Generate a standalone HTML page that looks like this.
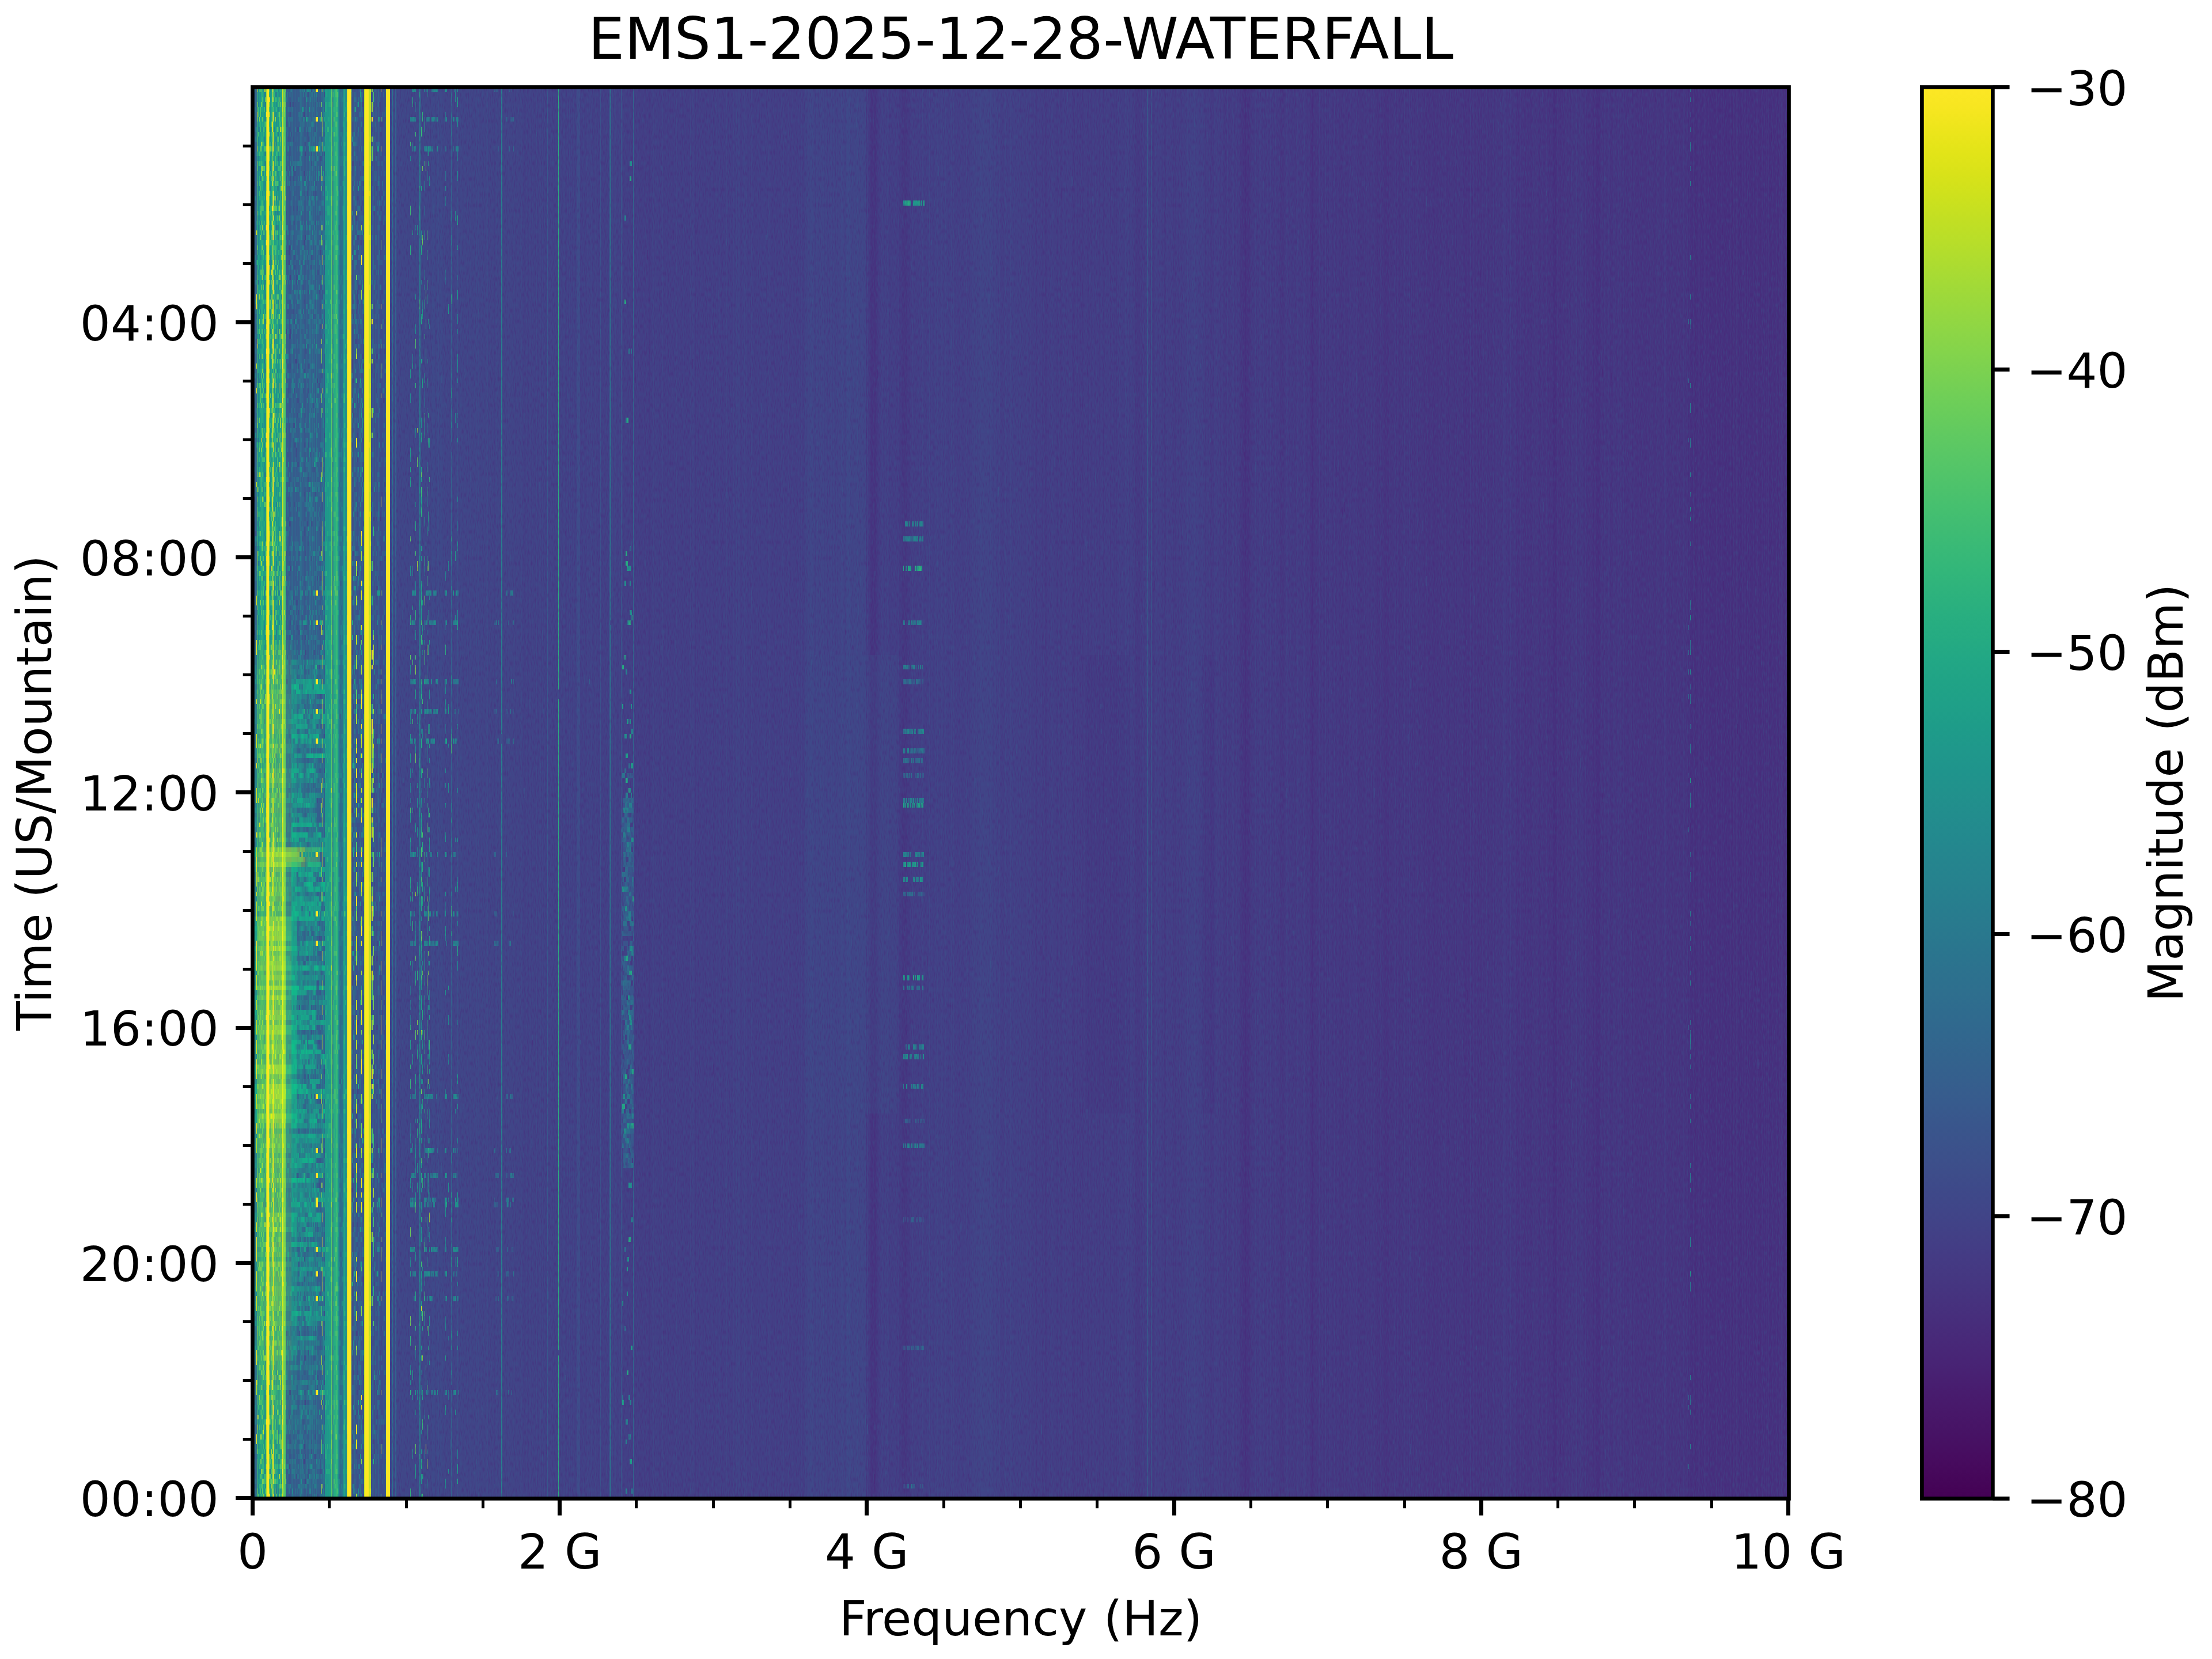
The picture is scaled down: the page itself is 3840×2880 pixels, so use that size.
<!DOCTYPE html>
<html lang="en"><head><meta charset="utf-8"><title>EMS1-2025-12-28-WATERFALL</title><style>html,body{margin:0;padding:0;background:#fff}svg{display:block}</style></head><body>
<svg width="3840" height="2880" viewBox="0 0 3840 2880">
<rect width="3840" height="2880" fill="#fff"/>
<g transform="translate(438 151.4) scale(1 8.56678)" shape-rendering="crispEdges" stroke="none">
<path fill="#472e7c" d="M2505 0h1v286h-1zM2569 0h1v286h-1zM2594 0h1v286h-1zM2618 0h1v286h-1zM2634 0h1v286h-1zM2658 0h1v286h-1z"/>
<path fill="#46307e" d="M1723 0h2v286h-2zM1840 0h1v286h-1zM2256 0h1v286h-1zM2258 0h6v286h-6zM2270 0h1v286h-1zM2328 0h1v286h-1zM2333 0h6v286h-6zM2396 0h1v286h-1zM2419 0h1v286h-1zM2485 0h1v286h-1zM2493 0h1v286h-1zM2496 0h1v286h-1zM2498 0h3v286h-3zM2502 0h2v286h-2zM2506 0h4v286h-4zM2511 0h1v286h-1zM2513 0h3v286h-3zM2517 0h3v286h-3zM2523 0h5v286h-5zM2529 0h12v286h-12zM2542 0h8v286h-8zM2551 0h3v286h-3zM2555 0h6v286h-6zM2562 0h3v286h-3zM2567 0h2v286h-2zM2572 0h1v286h-1zM2574 0h2v286h-2zM2577 0h1v286h-1zM2579 0h7v286h-7zM2588 0h2v286h-2zM2591 0h1v286h-1zM2593 0h1v286h-1zM2596 0h3v286h-3zM2600 0h5v286h-5zM2606 0h5v286h-5zM2614 0h4v286h-4zM2619 0h1v286h-1zM2622 0h3v286h-3zM2626 0h2v286h-2zM2630 0h1v286h-1zM2633 0h1v286h-1zM2635 0h4v286h-4zM2640 0h1v286h-1zM2642 0h1v286h-1zM2644 0h1v286h-1zM2647 0h3v286h-3zM2653 0h1v286h-1zM2655 0h1v286h-1zM2659 0h7v286h-7zM2667 0h1v286h-1z"/>
<path fill="#463480" d="M1074 0h4v286h-4zM1079 0h4v286h-4zM1719 0h4v286h-4zM1725 0h3v286h-3zM1729 0h2v286h-2zM1836 0h1v286h-1zM1838 0h2v286h-2zM1842 0h2v286h-2zM1912 0h1v286h-1zM1953 0h1v286h-1zM1956 0h1v286h-1zM1959 0h1v286h-1zM1961 0h1v286h-1zM1964 0h7v286h-7zM1972 0h1v286h-1zM1986 0h1v286h-1zM1991 0h1v286h-1zM2007 0h1v286h-1zM2011 0h1v286h-1zM2013 0h1v286h-1zM2017 0h1v286h-1zM2032 0h1v286h-1zM2034 0h2v286h-2zM2041 0h4v286h-4zM2047 0h1v286h-1zM2049 0h5v286h-5zM2056 0h3v286h-3zM2063 0h1v286h-1zM2073 0h2v286h-2zM2076 0h1v286h-1zM2079 0h1v286h-1zM2086 0h2v286h-2zM2089 0h2v286h-2zM2094 0h1v286h-1zM2102 0h1v286h-1zM2104 0h5v286h-5zM2110 0h2v286h-2zM2113 0h1v286h-1zM2116 0h1v286h-1zM2118 0h1v286h-1zM2121 0h1v286h-1zM2123 0h1v286h-1zM2127 0h3v286h-3zM2132 0h3v286h-3zM2137 0h2v286h-2zM2143 0h1v286h-1zM2145 0h2v286h-2zM2151 0h1v286h-1zM2156 0h2v286h-2zM2188 0h1v286h-1zM2194 0h6v286h-6zM2203 0h1v286h-1zM2207 0h4v286h-4zM2213 0h1v286h-1zM2215 0h2v286h-2zM2218 0h4v286h-4zM2230 0h1v286h-1zM2232 0h1v286h-1zM2234 0h1v286h-1zM2236 0h1v286h-1zM2241 0h1v286h-1zM2243 0h1v286h-1zM2245 0h1v286h-1zM2248 0h8v286h-8zM2264 0h1v286h-1zM2267 0h3v286h-3zM2271 0h2v286h-2zM2274 0h5v286h-5zM2282 0h2v286h-2zM2285 0h1v286h-1zM2287 0h2v286h-2zM2300 0h1v286h-1zM2308 0h1v286h-1zM2311 0h3v286h-3zM2315 0h5v286h-5zM2321 0h1v286h-1zM2323 0h2v286h-2zM2326 0h2v286h-2zM2329 0h4v286h-4zM2339 0h2v286h-2zM2343 0h1v286h-1zM2345 0h2v286h-2zM2350 0h1v286h-1zM2353 0h1v286h-1zM2355 0h1v286h-1zM2357 0h5v286h-5zM2368 0h2v286h-2zM2372 0h1v286h-1zM2377 0h3v286h-3zM2381 0h2v286h-2zM2384 0h6v286h-6zM2395 0h1v286h-1zM2398 0h1v286h-1zM2400 0h8v286h-8zM2409 0h10v286h-10zM2420 0h1v286h-1zM2422 0h4v286h-4zM2428 0h1v286h-1zM2432 0h1v286h-1zM2434 0h3v286h-3zM2438 0h1v286h-1zM2443 0h5v286h-5zM2449 0h2v286h-2zM2454 0h1v286h-1zM2456 0h6v286h-6zM2463 0h1v286h-1zM2465 0h1v286h-1zM2468 0h3v286h-3zM2472 0h2v286h-2zM2475 0h1v286h-1zM2477 0h1v286h-1zM2479 0h5v286h-5zM2487 0h4v286h-4zM2492 0h1v286h-1zM2494 0h2v286h-2zM2497 0h1v286h-1zM2504 0h1v286h-1zM2510 0h1v286h-1zM2512 0h1v286h-1zM2516 0h1v286h-1zM2520 0h1v286h-1zM2522 0h1v286h-1zM2550 0h1v286h-1zM2554 0h1v286h-1zM2561 0h1v286h-1zM2565 0h2v286h-2zM2570 0h2v286h-2zM2573 0h1v286h-1zM2578 0h1v286h-1zM2586 0h2v286h-2zM2590 0h1v286h-1zM2592 0h1v286h-1zM2595 0h1v286h-1zM2599 0h1v286h-1zM2611 0h3v286h-3zM2620 0h2v286h-2zM2625 0h1v286h-1zM2628 0h2v286h-2zM2631 0h1v286h-1zM2641 0h1v286h-1zM2643 0h1v286h-1zM2645 0h2v286h-2zM2650 0h3v286h-3zM2656 0h2v286h-2zM2666 0h1v286h-1z"/>
<path fill="#453781" d="M1072 0h2v286h-2zM1078 0h1v286h-1zM1083 0h2v286h-2zM1128 0h9v286h-9zM1715 0h4v286h-4zM1728 0h1v286h-1zM1731 0h2v286h-2zM1784 0h7v286h-7zM1792 0h1v286h-1zM1794 0h1v286h-1zM1806 0h1v286h-1zM1810 0h1v286h-1zM1822 0h1v286h-1zM1829 0h1v286h-1zM1831 0h1v286h-1zM1834 0h1v286h-1zM1837 0h1v286h-1zM1841 0h1v286h-1zM1845 0h6v286h-6zM1853 0h3v286h-3zM1859 0h1v286h-1zM1861 0h1v286h-1zM1864 0h2v286h-2zM1867 0h2v286h-2zM1874 0h2v286h-2zM1877 0h1v286h-1zM1879 0h4v286h-4zM1886 0h10v286h-10zM1897 0h1v286h-1zM1899 0h3v286h-3zM1903 0h1v286h-1zM1905 0h1v286h-1zM1908 0h1v286h-1zM1910 0h1v286h-1zM1914 0h1v286h-1zM1918 0h12v286h-12zM1931 0h3v286h-3zM1935 0h1v286h-1zM1939 0h1v286h-1zM1941 0h1v286h-1zM1944 0h2v286h-2zM1948 0h5v286h-5zM1954 0h2v286h-2zM1957 0h1v286h-1zM1960 0h1v286h-1zM1963 0h1v286h-1zM1971 0h1v286h-1zM1974 0h9v286h-9zM1985 0h1v286h-1zM1988 0h3v286h-3zM1992 0h8v286h-8zM2001 0h4v286h-4zM2010 0h1v286h-1zM2014 0h1v286h-1zM2016 0h1v286h-1zM2019 0h1v286h-1zM2021 0h1v286h-1zM2023 0h7v286h-7zM2031 0h1v286h-1zM2033 0h1v286h-1zM2036 0h1v286h-1zM2038 0h3v286h-3zM2045 0h1v286h-1zM2048 0h1v286h-1zM2054 0h2v286h-2zM2059 0h4v286h-4zM2064 0h7v286h-7zM2072 0h1v286h-1zM2075 0h1v286h-1zM2077 0h2v286h-2zM2081 0h1v286h-1zM2083 0h3v286h-3zM2091 0h1v286h-1zM2095 0h5v286h-5zM2101 0h1v286h-1zM2103 0h1v286h-1zM2109 0h1v286h-1zM2112 0h1v286h-1zM2115 0h1v286h-1zM2125 0h2v286h-2zM2130 0h2v286h-2zM2139 0h3v286h-3zM2144 0h1v286h-1zM2147 0h4v286h-4zM2152 0h2v286h-2zM2155 0h1v286h-1zM2160 0h2v286h-2zM2163 0h1v286h-1zM2165 0h4v286h-4zM2170 0h1v286h-1zM2176 0h2v286h-2zM2179 0h4v286h-4zM2185 0h3v286h-3zM2189 0h2v286h-2zM2192 0h1v286h-1zM2200 0h1v286h-1zM2202 0h1v286h-1zM2204 0h3v286h-3zM2211 0h2v286h-2zM2214 0h1v286h-1zM2217 0h1v286h-1zM2222 0h6v286h-6zM2229 0h1v286h-1zM2235 0h1v286h-1zM2237 0h3v286h-3zM2242 0h1v286h-1zM2244 0h1v286h-1zM2257 0h1v286h-1zM2265 0h2v286h-2zM2279 0h3v286h-3zM2284 0h1v286h-1zM2286 0h1v286h-1zM2290 0h2v286h-2zM2293 0h3v286h-3zM2297 0h1v286h-1zM2299 0h1v286h-1zM2301 0h4v286h-4zM2306 0h2v286h-2zM2310 0h1v286h-1zM2320 0h1v286h-1zM2322 0h1v286h-1zM2325 0h1v286h-1zM2342 0h1v286h-1zM2344 0h1v286h-1zM2348 0h2v286h-2zM2351 0h2v286h-2zM2363 0h5v286h-5zM2373 0h1v286h-1zM2375 0h2v286h-2zM2383 0h1v286h-1zM2390 0h3v286h-3zM2394 0h1v286h-1zM2397 0h1v286h-1zM2399 0h1v286h-1zM2408 0h1v286h-1zM2426 0h2v286h-2zM2429 0h3v286h-3zM2433 0h1v286h-1zM2437 0h1v286h-1zM2439 0h4v286h-4zM2448 0h1v286h-1zM2452 0h1v286h-1zM2455 0h1v286h-1zM2462 0h1v286h-1zM2464 0h1v286h-1zM2466 0h2v286h-2zM2471 0h1v286h-1zM2474 0h1v286h-1zM2486 0h1v286h-1zM2491 0h1v286h-1zM2501 0h1v286h-1zM2521 0h1v286h-1zM2528 0h1v286h-1zM2541 0h1v286h-1zM2576 0h1v286h-1zM2605 0h1v286h-1zM2632 0h1v286h-1zM2639 0h1v286h-1zM2654 0h1v286h-1z"/>
<path fill="#443a83" d="M689 0h1v286h-1zM769 0h1v286h-1zM952 0h1v286h-1zM1066 0h1v286h-1zM1069 0h1v286h-1zM1071 0h1v286h-1zM1085 0h1v286h-1zM1087 0h1v286h-1zM1089 0h1v286h-1zM1098 0h1v286h-1zM1105 0h1v286h-1zM1123 0h5v286h-5zM1137 0h5v286h-5zM1143 0h1v286h-1zM1361 0h1v286h-1zM1371 0h1v286h-1zM1376 0h3v286h-3zM1395 0h1v286h-1zM1397 0h1v286h-1zM1403 0h2v286h-2zM1423 0h1v286h-1zM1425 0h1v286h-1zM1427 0h1v286h-1zM1432 0h1v286h-1zM1436 0h2v286h-2zM1440 0h2v286h-2zM1443 0h1v286h-1zM1447 0h1v286h-1zM1450 0h2v286h-2zM1456 0h1v286h-1zM1459 0h1v286h-1zM1461 0h1v286h-1zM1466 0h1v286h-1zM1470 0h1v286h-1zM1477 0h2v286h-2zM1489 0h1v286h-1zM1495 0h2v286h-2zM1499 0h2v286h-2zM1506 0h1v286h-1zM1511 0h1v286h-1zM1523 0h1v286h-1zM1532 0h9v286h-9zM1542 0h3v286h-3zM1548 0h1v286h-1zM1551 0h1v286h-1zM1559 0h1v286h-1zM1564 0h2v286h-2zM1579 0h1v286h-1zM1583 0h3v286h-3zM1596 0h1v286h-1zM1599 0h1v286h-1zM1601 0h3v286h-3zM1607 0h1v286h-1zM1613 0h1v286h-1zM1654 0h2v286h-2zM1657 0h1v286h-1zM1659 0h1v286h-1zM1663 0h4v286h-4zM1668 0h2v286h-2zM1676 0h1v286h-1zM1680 0h1v286h-1zM1685 0h7v286h-7zM1693 0h4v286h-4zM1698 0h2v286h-2zM1704 0h3v286h-3zM1709 0h2v286h-2zM1712 0h2v286h-2zM1733 0h7v286h-7zM1742 0h2v286h-2zM1745 0h3v286h-3zM1751 0h1v286h-1zM1753 0h1v286h-1zM1756 0h5v286h-5zM1763 0h4v286h-4zM1768 0h5v286h-5zM1774 0h1v286h-1zM1777 0h7v286h-7zM1791 0h1v286h-1zM1793 0h1v286h-1zM1796 0h1v286h-1zM1798 0h3v286h-3zM1802 0h4v286h-4zM1807 0h3v286h-3zM1811 0h2v286h-2zM1816 0h6v286h-6zM1823 0h1v286h-1zM1825 0h1v286h-1zM1827 0h2v286h-2zM1830 0h1v286h-1zM1832 0h2v286h-2zM1835 0h1v286h-1zM1844 0h1v286h-1zM1851 0h1v286h-1zM1856 0h2v286h-2zM1860 0h1v286h-1zM1866 0h1v286h-1zM1870 0h4v286h-4zM1876 0h1v286h-1zM1883 0h3v286h-3zM1898 0h1v286h-1zM1902 0h1v286h-1zM1904 0h1v286h-1zM1906 0h2v286h-2zM1909 0h1v286h-1zM1911 0h1v286h-1zM1913 0h1v286h-1zM1915 0h2v286h-2zM1930 0h1v286h-1zM1934 0h1v286h-1zM1936 0h3v286h-3zM1940 0h1v286h-1zM1942 0h2v286h-2zM1946 0h1v286h-1zM1958 0h1v286h-1zM1962 0h1v286h-1zM1973 0h1v286h-1zM1984 0h1v286h-1zM2005 0h2v286h-2zM2008 0h1v286h-1zM2012 0h1v286h-1zM2015 0h1v286h-1zM2020 0h1v286h-1zM2022 0h1v286h-1zM2030 0h1v286h-1zM2037 0h1v286h-1zM2046 0h1v286h-1zM2071 0h1v286h-1zM2080 0h1v286h-1zM2082 0h1v286h-1zM2088 0h1v286h-1zM2092 0h2v286h-2zM2100 0h1v286h-1zM2117 0h1v286h-1zM2119 0h2v286h-2zM2135 0h2v286h-2zM2142 0h1v286h-1zM2154 0h1v286h-1zM2158 0h2v286h-2zM2162 0h1v286h-1zM2164 0h1v286h-1zM2169 0h1v286h-1zM2171 0h1v286h-1zM2173 0h1v286h-1zM2175 0h1v286h-1zM2178 0h1v286h-1zM2183 0h1v286h-1zM2191 0h1v286h-1zM2193 0h1v286h-1zM2201 0h1v286h-1zM2228 0h1v286h-1zM2231 0h1v286h-1zM2233 0h1v286h-1zM2240 0h1v286h-1zM2246 0h2v286h-2zM2273 0h1v286h-1zM2289 0h1v286h-1zM2292 0h1v286h-1zM2296 0h1v286h-1zM2305 0h1v286h-1zM2309 0h1v286h-1zM2314 0h1v286h-1zM2341 0h1v286h-1zM2347 0h1v286h-1zM2354 0h1v286h-1zM2356 0h1v286h-1zM2362 0h1v286h-1zM2370 0h2v286h-2zM2380 0h1v286h-1zM2393 0h1v286h-1zM2421 0h1v286h-1zM2451 0h1v286h-1zM2453 0h1v286h-1zM2476 0h1v286h-1zM2478 0h1v286h-1zM2484 0h1v286h-1z"/>
<path fill="#433e85" d="M594 0h1v286h-1zM605 0h1v286h-1zM608 0h1v286h-1zM612 0h1v286h-1zM614 0h1v286h-1zM634 0h1v286h-1zM644 0h1v286h-1zM646 0h2v286h-2zM650 0h3v286h-3zM656 0h1v286h-1zM658 0h3v286h-3zM662 0h6v286h-6zM670 0h9v286h-9zM680 0h3v286h-3zM684 0h2v286h-2zM687 0h2v286h-2zM690 0h2v286h-2zM693 0h1v286h-1zM697 0h2v286h-2zM700 0h1v286h-1zM702 0h1v286h-1zM704 0h1v286h-1zM706 0h4v286h-4zM713 0h3v286h-3zM717 0h1v286h-1zM720 0h3v286h-3zM725 0h3v286h-3zM729 0h3v286h-3zM734 0h2v286h-2zM737 0h3v286h-3zM743 0h5v286h-5zM749 0h3v286h-3zM753 0h3v286h-3zM757 0h3v286h-3zM762 0h2v286h-2zM768 0h1v286h-1zM771 0h4v286h-4zM776 0h1v286h-1zM778 0h1v286h-1zM780 0h5v286h-5zM786 0h1v286h-1zM788 0h2v286h-2zM791 0h1v286h-1zM793 0h3v286h-3zM798 0h1v286h-1zM800 0h1v286h-1zM802 0h3v286h-3zM807 0h2v286h-2zM812 0h1v286h-1zM814 0h5v286h-5zM820 0h2v286h-2zM825 0h2v286h-2zM828 0h2v286h-2zM831 0h3v286h-3zM836 0h1v286h-1zM839 0h1v286h-1zM847 0h4v286h-4zM856 0h1v286h-1zM859 0h1v286h-1zM861 0h1v286h-1zM863 0h3v286h-3zM867 0h1v286h-1zM869 0h1v286h-1zM871 0h5v286h-5zM879 0h2v286h-2zM884 0h1v286h-1zM886 0h1v286h-1zM892 0h1v286h-1zM894 0h1v286h-1zM898 0h1v286h-1zM900 0h5v286h-5zM906 0h2v286h-2zM909 0h4v286h-4zM914 0h3v286h-3zM923 0h3v286h-3zM927 0h2v286h-2zM931 0h2v286h-2zM934 0h1v286h-1zM936 0h1v286h-1zM939 0h1v286h-1zM941 0h2v286h-2zM944 0h1v286h-1zM946 0h2v286h-2zM951 0h1v286h-1zM954 0h4v286h-4zM959 0h1v286h-1zM1065 0h1v286h-1zM1068 0h1v286h-1zM1086 0h1v286h-1zM1088 0h1v286h-1zM1090 0h1v286h-1zM1093 0h1v286h-1zM1096 0h2v286h-2zM1100 0h1v286h-1zM1103 0h1v286h-1zM1106 0h6v286h-6zM1113 0h1v286h-1zM1115 0h6v286h-6zM1122 0h1v286h-1zM1142 0h1v286h-1zM1144 0h2v286h-2zM1147 0h8v286h-8zM1156 0h2v286h-2zM1160 0h3v286h-3zM1164 0h1v286h-1zM1166 0h3v286h-3zM1170 0h2v286h-2zM1174 0h1v286h-1zM1176 0h2v286h-2zM1181 0h2v286h-2zM1199 0h1v286h-1zM1208 0h1v286h-1zM1215 0h1v286h-1zM1219 0h2v286h-2zM1224 0h4v286h-4zM1230 0h1v286h-1zM1232 0h4v286h-4zM1237 0h1v286h-1zM1240 0h3v286h-3zM1244 0h2v286h-2zM1299 0h6v286h-6zM1308 0h1v286h-1zM1310 0h1v286h-1zM1313 0h1v286h-1zM1317 0h1v286h-1zM1325 0h1v286h-1zM1335 0h1v286h-1zM1338 0h1v286h-1zM1342 0h1v286h-1zM1344 0h1v286h-1zM1346 0h1v286h-1zM1348 0h2v286h-2zM1351 0h2v286h-2zM1354 0h3v286h-3zM1359 0h2v286h-2zM1362 0h2v286h-2zM1365 0h4v286h-4zM1370 0h1v286h-1zM1372 0h2v286h-2zM1375 0h1v286h-1zM1379 0h8v286h-8zM1389 0h2v286h-2zM1392 0h1v286h-1zM1394 0h1v286h-1zM1396 0h1v286h-1zM1399 0h1v286h-1zM1401 0h2v286h-2zM1406 0h1v286h-1zM1409 0h5v286h-5zM1415 0h4v286h-4zM1420 0h2v286h-2zM1424 0h1v286h-1zM1428 0h4v286h-4zM1433 0h3v286h-3zM1439 0h1v286h-1zM1442 0h1v286h-1zM1444 0h3v286h-3zM1449 0h1v286h-1zM1452 0h4v286h-4zM1457 0h2v286h-2zM1462 0h4v286h-4zM1467 0h3v286h-3zM1471 0h2v286h-2zM1475 0h2v286h-2zM1479 0h1v286h-1zM1481 0h7v286h-7zM1490 0h4v286h-4zM1497 0h2v286h-2zM1501 0h4v286h-4zM1509 0h2v286h-2zM1512 0h3v286h-3zM1520 0h1v286h-1zM1522 0h1v286h-1zM1527 0h5v286h-5zM1541 0h1v286h-1zM1545 0h3v286h-3zM1550 0h1v286h-1zM1552 0h2v286h-2zM1556 0h3v286h-3zM1560 0h1v286h-1zM1562 0h2v286h-2zM1566 0h2v286h-2zM1570 0h3v286h-3zM1574 0h2v286h-2zM1577 0h2v286h-2zM1580 0h2v286h-2zM1586 0h1v286h-1zM1589 0h6v286h-6zM1597 0h2v286h-2zM1600 0h1v286h-1zM1604 0h3v286h-3zM1609 0h4v286h-4zM1614 0h6v286h-6zM1621 0h1v286h-1zM1624 0h1v286h-1zM1644 0h1v286h-1zM1646 0h1v286h-1zM1650 0h4v286h-4zM1656 0h1v286h-1zM1658 0h1v286h-1zM1660 0h2v286h-2zM1667 0h1v286h-1zM1671 0h3v286h-3zM1675 0h1v286h-1zM1677 0h3v286h-3zM1681 0h4v286h-4zM1697 0h1v286h-1zM1700 0h3v286h-3zM1707 0h2v286h-2zM1711 0h1v286h-1zM1714 0h1v286h-1zM1740 0h1v286h-1zM1744 0h1v286h-1zM1748 0h3v286h-3zM1752 0h1v286h-1zM1754 0h2v286h-2zM1762 0h1v286h-1zM1773 0h1v286h-1zM1775 0h2v286h-2zM1795 0h1v286h-1zM1797 0h1v286h-1zM1801 0h1v286h-1zM1813 0h3v286h-3zM1824 0h1v286h-1zM1826 0h1v286h-1zM1852 0h1v286h-1zM1858 0h1v286h-1zM1862 0h2v286h-2zM1869 0h1v286h-1zM1878 0h1v286h-1zM1896 0h1v286h-1zM1917 0h1v286h-1zM1947 0h1v286h-1zM1983 0h1v286h-1zM1987 0h1v286h-1zM2000 0h1v286h-1zM2009 0h1v286h-1zM2018 0h1v286h-1zM2114 0h1v286h-1zM2122 0h1v286h-1zM2124 0h1v286h-1zM2172 0h1v286h-1zM2174 0h1v286h-1zM2184 0h1v286h-1zM2298 0h1v286h-1zM2374 0h1v286h-1z"/>
<path fill="#424086" d="M410 0h1v286h-1zM420 0h1v286h-1zM456 0h1v286h-1zM464 0h1v286h-1zM468 0h1v286h-1zM470 0h1v286h-1zM472 0h1v286h-1zM474 0h1v286h-1zM477 0h1v286h-1zM479 0h1v286h-1zM484 0h2v286h-2zM488 0h1v286h-1zM490 0h2v286h-2zM494 0h3v286h-3zM501 0h2v286h-2zM505 0h2v286h-2zM508 0h4v286h-4zM513 0h1v286h-1zM515 0h1v286h-1zM518 0h1v286h-1zM521 0h1v286h-1zM523 0h3v286h-3zM527 0h1v286h-1zM530 0h1v286h-1zM532 0h1v286h-1zM534 0h1v286h-1zM537 0h2v286h-2zM543 0h3v286h-3zM548 0h2v286h-2zM551 0h3v286h-3zM555 0h2v286h-2zM559 0h3v286h-3zM569 0h5v286h-5zM575 0h6v286h-6zM583 0h1v286h-1zM585 0h2v286h-2zM589 0h4v286h-4zM597 0h1v286h-1zM599 0h5v286h-5zM606 0h2v286h-2zM609 0h3v286h-3zM613 0h1v286h-1zM616 0h1v286h-1zM618 0h1v286h-1zM620 0h1v286h-1zM622 0h2v286h-2zM625 0h3v286h-3zM629 0h1v286h-1zM632 0h2v286h-2zM635 0h2v286h-2zM638 0h2v286h-2zM641 0h1v286h-1zM643 0h1v286h-1zM645 0h1v286h-1zM649 0h1v286h-1zM653 0h3v286h-3zM657 0h1v286h-1zM668 0h2v286h-2zM679 0h1v286h-1zM683 0h1v286h-1zM686 0h1v286h-1zM692 0h1v286h-1zM694 0h2v286h-2zM701 0h1v286h-1zM703 0h1v286h-1zM705 0h1v286h-1zM710 0h1v286h-1zM716 0h1v286h-1zM718 0h2v286h-2zM723 0h2v286h-2zM732 0h2v286h-2zM740 0h3v286h-3zM748 0h1v286h-1zM752 0h1v286h-1zM756 0h1v286h-1zM761 0h1v286h-1zM766 0h2v286h-2zM777 0h1v286h-1zM779 0h1v286h-1zM785 0h1v286h-1zM787 0h1v286h-1zM790 0h1v286h-1zM796 0h2v286h-2zM801 0h1v286h-1zM805 0h1v286h-1zM809 0h1v286h-1zM811 0h1v286h-1zM813 0h1v286h-1zM819 0h1v286h-1zM824 0h1v286h-1zM827 0h1v286h-1zM830 0h1v286h-1zM834 0h1v286h-1zM837 0h2v286h-2zM841 0h3v286h-3zM846 0h1v286h-1zM852 0h2v286h-2zM857 0h1v286h-1zM860 0h1v286h-1zM868 0h1v286h-1zM870 0h1v286h-1zM876 0h3v286h-3zM881 0h3v286h-3zM885 0h1v286h-1zM887 0h5v286h-5zM893 0h1v286h-1zM895 0h1v286h-1zM899 0h1v286h-1zM905 0h1v286h-1zM908 0h1v286h-1zM913 0h1v286h-1zM917 0h2v286h-2zM920 0h2v286h-2zM926 0h1v286h-1zM929 0h1v286h-1zM933 0h1v286h-1zM935 0h1v286h-1zM937 0h1v286h-1zM940 0h1v286h-1zM943 0h1v286h-1zM945 0h1v286h-1zM948 0h3v286h-3zM958 0h1v286h-1zM961 0h1v286h-1zM975 0h1v286h-1zM977 0h2v286h-2zM983 0h1v286h-1zM985 0h1v286h-1zM993 0h1v286h-1zM998 0h2v286h-2zM1001 0h1v286h-1zM1007 0h1v286h-1zM1011 0h2v286h-2zM1015 0h1v286h-1zM1018 0h1v286h-1zM1028 0h2v286h-2zM1070 0h1v286h-1zM1092 0h1v286h-1zM1095 0h1v286h-1zM1101 0h1v286h-1zM1104 0h1v286h-1zM1112 0h1v286h-1zM1114 0h1v286h-1zM1121 0h1v286h-1zM1155 0h1v286h-1zM1158 0h2v286h-2zM1165 0h1v286h-1zM1169 0h1v286h-1zM1172 0h2v286h-2zM1179 0h2v286h-2zM1183 0h2v286h-2zM1186 0h3v286h-3zM1190 0h6v286h-6zM1198 0h1v286h-1zM1200 0h2v286h-2zM1204 0h4v286h-4zM1209 0h4v286h-4zM1218 0h1v286h-1zM1221 0h3v286h-3zM1228 0h2v286h-2zM1231 0h1v286h-1zM1236 0h1v286h-1zM1238 0h1v286h-1zM1243 0h1v286h-1zM1246 0h1v286h-1zM1248 0h2v286h-2zM1252 0h1v286h-1zM1255 0h1v286h-1zM1258 0h1v286h-1zM1261 0h1v286h-1zM1280 0h1v286h-1zM1285 0h3v286h-3zM1289 0h1v286h-1zM1291 0h3v286h-3zM1295 0h1v286h-1zM1298 0h1v286h-1zM1305 0h2v286h-2zM1309 0h1v286h-1zM1311 0h2v286h-2zM1314 0h1v286h-1zM1319 0h3v286h-3zM1323 0h2v286h-2zM1326 0h1v286h-1zM1328 0h4v286h-4zM1333 0h2v286h-2zM1336 0h2v286h-2zM1340 0h2v286h-2zM1345 0h1v286h-1zM1347 0h1v286h-1zM1353 0h1v286h-1zM1357 0h2v286h-2zM1364 0h1v286h-1zM1369 0h1v286h-1zM1374 0h1v286h-1zM1387 0h1v286h-1zM1391 0h1v286h-1zM1393 0h1v286h-1zM1398 0h1v286h-1zM1405 0h1v286h-1zM1407 0h2v286h-2zM1414 0h1v286h-1zM1422 0h1v286h-1zM1426 0h1v286h-1zM1438 0h1v286h-1zM1448 0h1v286h-1zM1460 0h1v286h-1zM1473 0h2v286h-2zM1480 0h1v286h-1zM1488 0h1v286h-1zM1494 0h1v286h-1zM1505 0h1v286h-1zM1507 0h2v286h-2zM1516 0h4v286h-4zM1524 0h3v286h-3zM1549 0h1v286h-1zM1569 0h1v286h-1zM1573 0h1v286h-1zM1576 0h1v286h-1zM1582 0h1v286h-1zM1587 0h2v286h-2zM1595 0h1v286h-1zM1608 0h1v286h-1zM1620 0h1v286h-1zM1622 0h1v286h-1zM1625 0h6v286h-6zM1632 0h3v286h-3zM1637 0h7v286h-7zM1645 0h1v286h-1zM1647 0h3v286h-3zM1662 0h1v286h-1zM1670 0h1v286h-1zM1674 0h1v286h-1zM1703 0h1v286h-1zM1741 0h1v286h-1zM1761 0h1v286h-1zM1767 0h1v286h-1z"/>
<path fill="#414487" d="M292 0h1v286h-1zM306 0h1v286h-1zM309 0h1v286h-1zM317 0h2v286h-2zM334 0h2v286h-2zM338 0h2v286h-2zM341 0h2v286h-2zM347 0h1v286h-1zM349 0h3v286h-3zM353 0h1v286h-1zM359 0h1v286h-1zM364 0h1v286h-1zM366 0h2v286h-2zM369 0h1v286h-1zM371 0h2v286h-2zM374 0h2v286h-2zM377 0h1v286h-1zM380 0h1v286h-1zM382 0h2v286h-2zM386 0h3v286h-3zM391 0h1v286h-1zM393 0h4v286h-4zM398 0h4v286h-4zM403 0h3v286h-3zM409 0h1v286h-1zM411 0h9v286h-9zM422 0h1v286h-1zM424 0h4v286h-4zM429 0h3v286h-3zM434 0h10v286h-10zM445 0h2v286h-2zM448 0h6v286h-6zM455 0h1v286h-1zM457 0h7v286h-7zM465 0h2v286h-2zM469 0h1v286h-1zM471 0h1v286h-1zM473 0h1v286h-1zM475 0h2v286h-2zM478 0h1v286h-1zM480 0h4v286h-4zM486 0h2v286h-2zM489 0h1v286h-1zM492 0h1v286h-1zM497 0h3v286h-3zM504 0h1v286h-1zM514 0h1v286h-1zM516 0h2v286h-2zM519 0h2v286h-2zM522 0h1v286h-1zM526 0h1v286h-1zM528 0h2v286h-2zM533 0h1v286h-1zM535 0h2v286h-2zM539 0h3v286h-3zM546 0h2v286h-2zM557 0h2v286h-2zM562 0h2v286h-2zM574 0h1v286h-1zM581 0h2v286h-2zM587 0h1v286h-1zM593 0h1v286h-1zM595 0h2v286h-2zM598 0h1v286h-1zM615 0h1v286h-1zM628 0h1v286h-1zM630 0h2v286h-2zM637 0h1v286h-1zM642 0h1v286h-1zM648 0h1v286h-1zM696 0h1v286h-1zM699 0h1v286h-1zM711 0h2v286h-2zM728 0h1v286h-1zM736 0h1v286h-1zM760 0h1v286h-1zM764 0h2v286h-2zM770 0h1v286h-1zM775 0h1v286h-1zM792 0h1v286h-1zM799 0h1v286h-1zM806 0h1v286h-1zM810 0h1v286h-1zM822 0h2v286h-2zM835 0h1v286h-1zM840 0h1v286h-1zM845 0h1v286h-1zM851 0h1v286h-1zM854 0h2v286h-2zM858 0h1v286h-1zM862 0h1v286h-1zM866 0h1v286h-1zM896 0h2v286h-2zM919 0h1v286h-1zM922 0h1v286h-1zM930 0h1v286h-1zM938 0h1v286h-1zM953 0h1v286h-1zM960 0h1v286h-1zM962 0h3v286h-3zM966 0h3v286h-3zM974 0h1v286h-1zM981 0h2v286h-2zM984 0h1v286h-1zM986 0h2v286h-2zM989 0h2v286h-2zM992 0h1v286h-1zM994 0h4v286h-4zM1000 0h1v286h-1zM1002 0h3v286h-3zM1006 0h1v286h-1zM1009 0h2v286h-2zM1013 0h2v286h-2zM1016 0h2v286h-2zM1019 0h3v286h-3zM1026 0h1v286h-1zM1040 0h4v286h-4zM1047 0h1v286h-1zM1052 0h4v286h-4zM1061 0h2v286h-2zM1067 0h1v286h-1zM1091 0h1v286h-1zM1094 0h1v286h-1zM1099 0h1v286h-1zM1102 0h1v286h-1zM1146 0h1v286h-1zM1163 0h1v286h-1zM1178 0h1v286h-1zM1185 0h1v286h-1zM1189 0h1v286h-1zM1196 0h2v286h-2zM1202 0h2v286h-2zM1213 0h2v286h-2zM1216 0h2v286h-2zM1239 0h1v286h-1zM1247 0h1v286h-1zM1250 0h2v286h-2zM1253 0h2v286h-2zM1256 0h2v286h-2zM1259 0h2v286h-2zM1262 0h2v286h-2zM1265 0h1v286h-1zM1267 0h13v286h-13zM1282 0h2v286h-2zM1288 0h1v286h-1zM1290 0h1v286h-1zM1296 0h2v286h-2zM1307 0h1v286h-1zM1316 0h1v286h-1zM1322 0h1v286h-1zM1327 0h1v286h-1zM1332 0h1v286h-1zM1339 0h1v286h-1zM1343 0h1v286h-1zM1350 0h1v286h-1zM1388 0h1v286h-1zM1400 0h1v286h-1zM1419 0h1v286h-1zM1515 0h1v286h-1zM1521 0h1v286h-1zM1555 0h1v286h-1zM1568 0h1v286h-1zM1623 0h1v286h-1zM1631 0h1v286h-1zM1635 0h2v286h-2zM1692 0h1v286h-1z"/>
<path fill="#404688" d="M239 0h1v286h-1zM242 0h1v286h-1zM246 0h1v286h-1zM251 0h5v286h-5zM257 0h4v286h-4zM262 0h1v286h-1zM264 0h4v286h-4zM269 0h8v286h-8zM278 0h6v286h-6zM285 0h5v286h-5zM293 0h5v286h-5zM299 0h7v286h-7zM307 0h1v286h-1zM310 0h2v286h-2zM315 0h1v286h-1zM319 0h1v286h-1zM324 0h2v286h-2zM327 0h1v286h-1zM329 0h5v286h-5zM336 0h2v286h-2zM340 0h1v286h-1zM344 0h1v286h-1zM346 0h1v286h-1zM348 0h1v286h-1zM352 0h1v286h-1zM354 0h1v286h-1zM356 0h3v286h-3zM360 0h4v286h-4zM365 0h1v286h-1zM368 0h1v286h-1zM370 0h1v286h-1zM373 0h1v286h-1zM376 0h1v286h-1zM378 0h1v286h-1zM381 0h1v286h-1zM384 0h2v286h-2zM390 0h1v286h-1zM397 0h1v286h-1zM402 0h1v286h-1zM406 0h1v286h-1zM408 0h1v286h-1zM421 0h1v286h-1zM428 0h1v286h-1zM444 0h1v286h-1zM447 0h1v286h-1zM454 0h1v286h-1zM467 0h1v286h-1zM493 0h1v286h-1zM500 0h1v286h-1zM503 0h1v286h-1zM507 0h1v286h-1zM542 0h1v286h-1zM550 0h1v286h-1zM554 0h1v286h-1zM588 0h1v286h-1zM617 0h1v286h-1zM844 0h1v286h-1zM965 0h1v286h-1zM970 0h1v286h-1zM972 0h2v286h-2zM976 0h1v286h-1zM979 0h2v286h-2zM988 0h1v286h-1zM991 0h1v286h-1zM1005 0h1v286h-1zM1008 0h1v286h-1zM1022 0h1v286h-1zM1024 0h2v286h-2zM1027 0h1v286h-1zM1030 0h3v286h-3zM1034 0h1v286h-1zM1037 0h3v286h-3zM1044 0h3v286h-3zM1048 0h2v286h-2zM1051 0h1v286h-1zM1056 0h2v286h-2zM1059 0h2v286h-2zM1063 0h2v286h-2zM1175 0h1v286h-1zM1264 0h1v286h-1zM1266 0h1v286h-1zM1281 0h1v286h-1zM1284 0h1v286h-1zM1294 0h1v286h-1zM1315 0h1v286h-1zM1318 0h1v286h-1z"/>
<path fill="#3e4989" d="M207 0h1v286h-1zM223 0h1v286h-1zM228 0h1v286h-1zM240 0h2v286h-2zM244 0h1v286h-1zM247 0h1v286h-1zM250 0h1v286h-1zM256 0h1v286h-1zM263 0h1v286h-1zM268 0h1v286h-1zM277 0h1v286h-1zM284 0h1v286h-1zM298 0h1v286h-1zM308 0h1v286h-1zM312 0h3v286h-3zM316 0h1v286h-1zM320 0h3v286h-3zM326 0h1v286h-1zM328 0h1v286h-1zM343 0h1v286h-1zM379 0h1v286h-1zM389 0h1v286h-1zM392 0h1v286h-1zM423 0h1v286h-1zM969 0h1v286h-1zM971 0h1v286h-1zM1023 0h1v286h-1zM1033 0h1v286h-1zM1035 0h2v286h-2zM1050 0h1v286h-1zM1058 0h1v286h-1z"/>
<path fill="#3e4c8a" d="M174 0h1v286h-1zM206 0h1v286h-1zM211 0h2v286h-2zM216 0h1v286h-1zM220 0h1v286h-1zM222 0h1v286h-1zM224 0h3v286h-3zM230 0h1v286h-1zM245 0h1v286h-1zM261 0h1v286h-1zM323 0h1v286h-1zM564 0h5v286h-5z"/>
<path fill="#3c4f8a" d="M77 0h1v286h-1zM173 0h1v286h-1zM182 0h1v286h-1zM193 0h1v286h-1zM209 0h1v286h-1zM215 0h1v286h-1zM217 0h1v286h-1zM229 0h1v286h-1z"/>
<path fill="#3b528b" d="M65 0h1v286h-1zM93 0h1v286h-1zM175 0h1v286h-1zM185 0h1v286h-1zM213 0h1v286h-1zM604 0h1v286h-1z"/>
<path fill="#3a548c" d="M58 0h1v286h-1zM64 0h1v286h-1zM91 0h1v286h-1zM178 0h1v286h-1zM180 0h2v286h-2zM184 0h1v286h-1zM189 0h1v286h-1zM191 0h2v286h-2zM210 0h1v286h-1zM227 0h1v286h-1zM584 0h1v286h-1z"/>
<path fill="#38588c" d="M66 0h1v286h-1zM86 0h1v286h-1zM88 0h1v286h-1zM90 0h1v286h-1zM92 0h1v286h-1zM96 0h1v286h-1zM172 0h1v286h-1zM186 0h1v286h-1zM208 0h1v286h-1zM214 0h1v286h-1zM219 0h1v286h-1zM512 0h1v286h-1z"/>
<path fill="#375a8c" d="M59 0h1v286h-1zM61 0h2v286h-2zM70 0h3v286h-3zM80 0h1v286h-1zM97 0h1v286h-1zM106 0h1v286h-1zM109 0h1v286h-1zM118 0h1v286h-1zM179 0h1v286h-1zM190 0h1v286h-1zM407 0h1v286h-1z"/>
<path fill="#365d8d" d="M63 0h1v286h-1zM73 0h1v286h-1zM76 0h1v286h-1zM78 0h1v286h-1zM110 0h1v286h-1zM113 0h2v286h-2zM116 0h2v286h-2zM183 0h1v286h-1zM187 0h2v286h-2zM218 0h1v286h-1zM221 0h1v286h-1z"/>
<path fill="#355f8d" d="M75 0h1v286h-1zM79 0h1v286h-1zM81 0h2v286h-2zM95 0h1v286h-1zM102 0h1v286h-1zM120 0h1v286h-1zM124 0h2v286h-2zM176 0h1v286h-1zM231 0h1v286h-1zM640 0h1v286h-1z"/>
<path fill="#33628d" d="M0 0h1v286h-1zM3 0h3v286h-3zM60 0h1v286h-1zM67 0h2v286h-2zM103 0h1v286h-1zM107 0h1v286h-1zM112 0h1v286h-1zM121 0h1v286h-1zM177 0h1v286h-1zM1561 0h1v286h-1z"/>
<path fill="#32648e" d="M7 0h1v286h-1zM74 0h1v286h-1zM87 0h1v286h-1zM98 0h1v286h-1zM115 0h1v286h-1zM248 0h2v286h-2zM624 0h1v286h-1z"/>
<path fill="#31678e" d="M85 0h1v286h-1zM153 0h1v286h-1zM1554 0h1v286h-1z"/>
<path fill="#306a8e" d="M69 0h1v286h-1zM100 0h2v286h-2zM108 0h1v286h-1zM155 0h1v286h-1zM345 0h1v286h-1zM355 0h1v286h-1zM661 0h1v286h-1z"/>
<path fill="#2f6c8e" d="M2 0h1v286h-1zM83 0h1v286h-1zM89 0h1v286h-1zM99 0h1v286h-1zM104 0h1v286h-1zM156 0h1v286h-1z"/>
<path fill="#2e6f8e" d="M1 0h1v286h-1zM94 0h1v286h-1zM111 0h1v286h-1zM152 0h1v286h-1zM154 0h1v286h-1z"/>
<path fill="#2d718e" d="M8 0h1v286h-1zM105 0h1v286h-1zM119 0h1v286h-1zM122 0h2v286h-2zM151 0h1v286h-1z"/>
<path fill="#2b758e" d="M139 0h1v286h-1zM243 0h1v286h-1zM619 0h1v286h-1z"/>
<path fill="#2a788e" d="M84 0h1v286h-1z"/>
<path fill="#297a8e" d="M621 0h1v286h-1z"/>
<path fill="#27808e" d="M6 0h1v286h-1zM290 0h2v286h-2zM432 0h2v286h-2z"/>
<path fill="#25848e" d="M140 0h1v286h-1z"/>
<path fill="#23898e" d="M23 0h1v286h-1zM163 0h1v286h-1z"/>
<path fill="#228b8d" d="M159 0h1v286h-1z"/>
<path fill="#218e8d" d="M10 0h2v286h-2zM20 0h1v286h-1zM149 0h1v286h-1z"/>
<path fill="#21918c" d="M37 0h1v286h-1zM158 0h1v286h-1zM161 0h2v286h-2z"/>
<path fill="#20928c" d="M21 0h1v286h-1zM42 0h1v286h-1z"/>
<path fill="#1f958b" d="M31 0h1v286h-1zM41 0h1v286h-1zM45 0h1v286h-1zM49 0h1v286h-1zM128 0h1v286h-1z"/>
<path fill="#1f978b" d="M51 0h1v286h-1zM127 0h1v286h-1zM132 0h1v286h-1z"/>
<path fill="#1f9a8a" d="M12 0h1v286h-1zM38 0h1v286h-1zM43 0h1v286h-1zM47 0h1v286h-1zM126 0h1v286h-1zM130 0h1v286h-1zM134 0h2v286h-2z"/>
<path fill="#1e9c89" d="M16 0h1v286h-1zM18 0h1v286h-1zM22 0h1v286h-1zM129 0h1v286h-1zM131 0h1v286h-1zM157 0h1v286h-1z"/>
<path fill="#1f9f88" d="M40 0h1v286h-1zM133 0h1v286h-1zM148 0h1v286h-1z"/>
<path fill="#1fa188" d="M14 0h1v286h-1zM19 0h1v286h-1zM150 0h1v286h-1z"/>
<path fill="#20a386" d="M32 0h1v286h-1zM50 0h1v286h-1z"/>
<path fill="#21a685" d="M13 0h1v286h-1z"/>
<path fill="#25ab82" d="M33 0h1v286h-1zM46 0h1v286h-1zM136 0h1v286h-1zM142 0h1v286h-1z"/>
<path fill="#26ad81" d="M17 0h1v286h-1zM30 0h1v286h-1zM39 0h1v286h-1zM160 0h1v286h-1z"/>
<path fill="#29af7f" d="M144 0h2v286h-2z"/>
<path fill="#2cb17e" d="M44 0h1v286h-1zM531 0h1v286h-1z"/>
<path fill="#2fb47c" d="M15 0h1v286h-1zM35 0h1v286h-1zM141 0h1v286h-1z"/>
<path fill="#32b67a" d="M48 0h1v286h-1z"/>
<path fill="#37b878" d="M147 0h1v286h-1z"/>
<path fill="#3bbb75" d="M34 0h1v286h-1zM146 0h1v286h-1z"/>
<path fill="#3fbc73" d="M56 0h1v286h-1zM143 0h1v286h-1z"/>
<path fill="#44bf70" d="M9 0h1v286h-1zM57 0h1v286h-1z"/>
<path fill="#4ec36b" d="M36 0h1v286h-1z"/>
<path fill="#58c765" d="M29 0h1v286h-1zM137 0h1v286h-1z"/>
<path fill="#5ec962" d="M138 0h1v286h-1z"/>
<path fill="#63cb5f" d="M55 0h1v286h-1z"/>
<path fill="#6ece58" d="M53 0h2v286h-2z"/>
<path fill="#a2da37" d="M24 0h2v286h-2z"/>
<path fill="#b0dd2f" d="M194 0h1v286h-1z"/>
<path fill="#b5de2b" d="M164 0h1v286h-1zM202 0h1v286h-1zM205 0h1v286h-1z"/>
<path fill="#bddf26" d="M203 0h1v286h-1z"/>
<path fill="#c2df23" d="M204 0h1v286h-1z"/>
<path fill="#d8e219" d="M52 0h1v286h-1z"/>
<path fill="#fde725" d="M26 0h3v286h-3zM165 0h7v286h-7zM195 0h7v286h-7zM232 0h7v286h-7z"/>
<path fill="#453781" d="M228 63h1v1h-1zM228 142h1v1h-1zM228 191h1v1h-1zM77 73h1v1h-1zM77 204h1v1h-1zM77 231h1v1h-1zM211 87h1v1h-1zM222 87h2v1h-2zM182 98h1v1h-1zM173 223h1v1h-1zM58 254h1v1h-1zM207 277h1v1h-1z"/>
<path fill="#414487" d="M178 0h1v1h-1zM178 51h1v1h-1zM178 81h1v1h-1zM178 220h1v1h-1zM220 0h1v1h-1zM220 3h1v1h-1zM220 21h1v1h-1zM220 23h1v1h-1zM220 37h1v1h-1zM220 45h1v1h-1zM220 75h1v1h-1zM220 121h1v1h-1zM220 168h1v1h-1zM220 187h1v1h-1zM220 201h1v1h-1zM220 240h1v1h-1zM220 243h1v1h-1zM220 254h1v1h-1zM220 260h1v1h-1zM220 265h1v1h-1zM220 274h1v1h-1zM220 280h1v1h-1zM228 0h1v1h-1zM228 6h1v1h-1zM228 147h1v1h-1zM228 150h1v1h-1zM228 221h1v1h-1zM228 281h1v1h-1zM228 284h1v1h-1zM65 3h2v1h-2zM65 38h2v1h-2zM65 49h2v1h-2zM65 149h2v1h-2zM65 209h2v1h-2zM191 3h2v1h-2zM191 23h2v1h-2zM191 54h2v1h-2zM191 71h2v1h-2zM191 77h2v1h-2zM191 136h2v1h-2zM222 3h1v1h-1zM222 42h1v1h-1zM222 96h1v1h-1zM222 145h1v1h-1zM222 201h1v1h-1zM222 209h1v1h-1zM222 264h1v1h-1zM216 4h1v1h-1zM216 24h1v1h-1zM216 139h1v1h-1zM216 179h1v1h-1zM216 223h1v1h-1zM222 4h2v1h-2zM222 22h2v1h-2zM222 33h2v1h-2zM222 53h2v1h-2zM222 59h2v1h-2zM222 86h2v1h-2zM222 117h2v1h-2zM222 180h2v1h-2zM222 190h2v1h-2zM222 216h2v1h-2zM222 226h2v1h-2zM222 256h2v1h-2zM65 5h1v1h-1zM65 18h1v1h-1zM65 56h1v1h-1zM65 189h1v1h-1zM65 214h1v1h-1zM65 237h1v1h-1zM90 5h1v1h-1zM90 31h1v1h-1zM90 275h1v1h-1zM90 278h1v1h-1zM58 7h1v1h-1zM58 25h1v2h-1zM58 33h1v1h-1zM58 69h1v1h-1zM58 174h1v1h-1zM58 237h1v1h-1zM58 243h1v1h-1zM222 7h5v1h-5zM209 8h1v1h-1zM209 15h1v1h-1zM209 17h1v1h-1zM209 58h1v1h-1zM209 81h1v1h-1zM209 96h1v1h-1zM209 112h1v1h-1zM209 136h1v1h-1zM209 144h1v1h-1zM209 158h1v1h-1zM209 169h1v1h-1zM209 173h1v1h-1zM209 189h1v1h-1zM209 207h1v1h-1zM209 218h1v1h-1zM209 253h1v2h-1zM209 277h1v1h-1zM222 9h3v1h-3zM222 119h3v1h-3zM222 124h3v1h-3zM222 139h3v1h-3zM91 11h1v1h-1zM91 43h1v1h-1zM91 59h1v1h-1zM91 89h1v2h-1zM91 111h1v1h-1zM91 167h1v1h-1zM91 180h1v1h-1zM91 193h1v1h-1zM91 198h1v1h-1zM91 203h1v1h-1zM91 257h1v1h-1zM91 277h1v1h-1zM93 11h1v2h-1zM93 53h1v1h-1zM93 68h1v1h-1zM93 70h1v1h-1zM93 109h1v1h-1zM93 142h1v1h-1zM93 147h1v1h-1zM93 150h1v1h-1zM93 224h1v2h-1zM93 241h1v1h-1zM93 243h1v2h-1zM93 271h1v1h-1zM225 11h1v1h-1zM225 13h1v1h-1zM225 206h1v1h-1zM217 12h1v1h-1zM217 102h1v1h-1zM217 194h1v1h-1zM217 268h1v1h-1zM91 13h3v1h-3zM215 13h2v1h-2zM215 20h2v1h-2zM215 61h2v1h-2zM215 131h2v1h-2zM215 138h2v1h-2zM215 206h2v1h-2zM215 264h2v1h-2zM207 14h1v1h-1zM207 19h1v1h-1zM207 57h1v1h-1zM207 103h1v1h-1zM173 15h3v1h-3zM173 66h3v1h-3zM173 220h3v1h-3zM185 15h1v1h-1zM185 23h1v1h-1zM185 95h1v1h-1zM185 102h1v1h-1zM185 149h1v1h-1zM185 169h1v1h-1zM185 187h1v1h-1zM185 193h1v2h-1zM185 236h1v1h-1zM185 249h1v1h-1zM185 257h1v1h-1zM185 263h1v1h-1zM185 268h1v1h-1zM185 277h1v1h-1zM185 285h1v1h-1zM71 16h1v1h-1zM90 17h2v1h-2zM90 237h2v1h-2zM90 244h2v1h-2zM90 255h2v1h-2zM110 19h1v1h-1zM182 22h1v1h-1zM182 30h1v1h-1zM182 41h1v4h-1zM182 63h1v1h-1zM182 70h1v1h-1zM182 75h1v1h-1zM182 86h1v1h-1zM182 124h1v1h-1zM182 138h1v1h-1zM182 189h1v1h-1zM182 202h1v2h-1zM182 209h1v1h-1zM182 223h1v1h-1zM182 230h1v1h-1zM182 240h1v1h-1zM182 244h1v1h-1zM182 258h1v1h-1zM182 260h1v1h-1zM182 264h1v1h-1zM77 24h1v1h-1zM77 38h1v2h-1zM77 74h1v2h-1zM77 104h1v1h-1zM77 109h1v1h-1zM77 119h1v1h-1zM77 127h1v1h-1zM77 143h1v1h-1zM77 159h1v1h-1zM77 173h1v1h-1zM77 184h1v1h-1zM77 199h1v2h-1zM77 211h1v1h-1zM77 220h1v1h-1zM77 271h1v1h-1zM77 281h1v1h-1zM189 24h1v1h-1zM189 31h1v1h-1zM189 103h1v1h-1zM189 166h1v1h-1zM224 24h2v1h-2zM224 27h2v1h-2zM224 130h2v1h-2zM211 25h2v1h-2zM211 56h2v1h-2zM211 58h2v1h-2zM211 123h2v1h-2zM211 143h2v1h-2zM211 161h2v1h-2zM211 176h2v1h-2zM211 178h2v1h-2zM211 235h2v1h-2zM211 242h2v1h-2zM211 276h2v1h-2zM86 26h1v1h-1zM86 107h1v1h-1zM86 138h1v1h-1zM86 157h1v1h-1zM86 227h1v1h-1zM86 237h1v1h-1zM180 26h2v1h-2zM180 208h2v1h-2zM180 215h2v1h-2zM211 26h1v1h-1zM211 46h1v1h-1zM211 96h1v1h-1zM228 28h2v1h-2zM228 139h2v1h-2zM228 149h2v1h-2zM228 152h2v1h-2zM228 211h2v1h-2zM91 30h2v1h-2zM91 156h2v1h-2zM91 194h2v1h-2zM184 30h1v1h-1zM184 151h1v1h-1zM184 189h1v1h-1zM64 32h2v1h-2zM64 88h2v1h-2zM64 118h2v1h-2zM64 147h2v1h-2zM64 196h2v1h-2zM64 235h2v1h-2zM212 32h1v1h-1zM212 140h1v1h-1zM212 213h1v1h-1zM212 262h1v1h-1zM64 33h1v1h-1zM64 35h1v1h-1zM64 116h1v1h-1zM64 160h1v1h-1zM64 269h1v1h-1zM64 279h1v1h-1zM118 33h1v1h-1zM118 205h1v1h-1zM184 40h2v1h-2zM184 205h2v1h-2zM224 41h3v1h-3zM224 82h3v1h-3zM224 171h3v1h-3zM224 239h3v1h-3zM224 243h3v1h-3zM224 274h3v1h-3zM180 45h1v1h-1zM180 51h1v1h-1zM180 155h1v1h-1zM180 220h1v1h-1zM180 276h1v1h-1zM175 46h1v1h-1zM175 64h1v1h-1zM175 125h1v1h-1zM175 127h1v1h-1zM175 178h1v1h-1zM175 180h1v1h-1zM175 189h1v1h-1zM175 199h1v1h-1zM175 230h1v1h-1zM175 260h1v1h-1zM175 284h1v1h-1zM229 47h2v1h-2zM229 53h2v1h-2zM229 80h2v1h-2zM229 95h2v1h-2zM229 176h2v1h-2zM229 185h2v1h-2zM229 191h2v1h-2zM229 255h2v1h-2zM58 49h2v1h-2zM58 150h2v1h-2zM58 252h2v1h-2zM64 50h3v1h-3zM64 163h3v1h-3zM64 264h3v1h-3zM193 51h1v1h-1zM193 56h1v1h-1zM193 79h1v1h-1zM193 111h1v1h-1zM193 121h1v1h-1zM193 170h1v1h-1zM193 217h1v1h-1zM193 242h1v1h-1zM193 247h1v1h-1zM193 270h1v1h-1zM193 285h1v1h-1zM215 54h3v1h-3zM215 101h3v1h-3zM215 176h3v1h-3zM215 190h3v1h-3zM215 214h3v1h-3zM215 269h3v1h-3zM75 55h2v1h-2zM173 55h2v2h-2zM173 114h2v1h-2zM173 146h2v1h-2zM173 181h2v1h-2zM173 207h2v1h-2zM173 236h2v1h-2zM61 56h1v1h-1zM61 115h1v1h-1zM61 120h1v1h-1zM61 143h1v1h-1zM113 59h1v1h-1zM174 59h2v1h-2zM174 94h2v1h-2zM174 140h2v1h-2zM174 203h2v1h-2zM230 61h1v1h-1zM230 86h1v1h-1zM230 91h1v1h-1zM230 100h1v1h-1zM230 186h1v1h-1zM230 190h1v1h-1zM230 194h1v1h-1zM230 261h1v1h-1zM174 62h1v1h-1zM174 103h1v1h-1zM174 240h1v1h-1zM227 63h1v1h-1zM229 63h1v1h-1zM229 107h1v1h-1zM229 271h1v1h-1zM223 64h3v1h-3zM223 254h3v1h-3zM223 281h3v1h-3zM216 70h2v1h-2zM216 112h2v2h-2zM216 173h2v1h-2zM206 78h1v1h-1zM206 86h1v1h-1zM206 147h1v1h-1zM206 149h1v1h-1zM209 87h2v1h-2zM215 87h1v1h-1zM215 126h1v1h-1zM215 271h1v1h-1zM96 88h1v1h-1zM96 124h1v1h-1zM96 143h1v1h-1zM96 231h1v1h-1zM96 263h1v1h-1zM223 93h2v1h-2zM223 144h2v1h-2zM223 244h2v1h-2zM66 97h1v1h-1zM66 122h1v1h-1zM66 174h1v1h-1zM66 176h1v1h-1zM66 203h1v1h-1zM66 206h1v1h-1zM173 101h1v1h-1zM173 120h1v1h-1zM228 113h3v1h-3zM92 114h2v1h-2zM92 120h2v1h-2zM92 282h2v1h-2zM59 120h1v1h-1zM59 254h1v1h-1zM109 123h2v1h-2zM181 132h2v1h-2zM181 249h2v1h-2zM181 268h2v1h-2zM78 137h1v1h-1zM90 137h3v1h-3zM226 142h2v1h-2zM226 183h2v1h-2zM192 153h1v1h-1zM192 160h1v1h-1zM192 200h1v1h-1zM206 163h2v1h-2zM206 214h2v1h-2zM206 232h2v1h-2zM92 165h1v1h-1zM92 231h1v1h-1zM92 266h1v1h-1zM225 165h2v1h-2zM225 187h2v1h-2zM225 234h2v1h-2zM180 167h3v1h-3zM180 252h3v1h-3zM102 178h1v1h-1zM117 179h2v1h-2zM62 182h1v1h-1zM62 254h1v1h-1zM113 182h2v1h-2zM224 183h1v1h-1zM224 251h1v1h-1zM76 204h1v1h-1zM181 205h1v1h-1zM186 206h1v1h-1zM192 210h2v1h-2zM192 226h2v1h-2zM192 261h2v1h-2zM226 221h1v1h-1zM226 236h1v1h-1zM226 238h1v1h-1zM226 242h1v1h-1zM172 223h1v1h-1zM88 227h1v1h-1zM88 270h1v1h-1zM80 229h1v1h-1zM191 241h3v1h-3zM72 245h2v1h-2zM106 246h1v1h-1zM191 265h1v1h-1zM209 274h3v1h-3z"/>
<path fill="#3c4f8a" d="M102 0h1v1h-1zM102 13h1v1h-1zM102 15h1v1h-1zM102 36h1v1h-1zM102 95h1v1h-1zM102 128h1v1h-1zM102 203h1v1h-1zM102 214h1v1h-1zM102 218h1v1h-1zM102 223h1v1h-1zM102 262h1v1h-1zM102 276h1v1h-1zM102 285h1v1h-1zM107 0h1v1h-1zM107 124h1v1h-1zM107 204h1v1h-1zM107 277h1v1h-1zM109 0h1v1h-1zM109 8h1v1h-1zM109 27h1v1h-1zM109 124h1v1h-1zM109 187h1v1h-1zM109 263h1v1h-1zM117 0h2v1h-2zM117 14h2v1h-2zM117 44h2v1h-2zM117 48h2v1h-2zM117 90h2v1h-2zM117 99h2v1h-2zM117 121h2v1h-2zM117 244h2v1h-2zM117 250h2v1h-2zM121 0h1v1h-1zM121 13h1v1h-1zM121 41h1v1h-1zM121 145h1v1h-1zM177 0h1v1h-1zM177 81h1v1h-1zM96 1h2v1h-2zM96 10h2v1h-2zM96 61h2v1h-2zM96 79h2v1h-2zM96 92h2v1h-2zM96 171h2v1h-2zM96 200h2v1h-2zM96 281h2v1h-2zM125 1h1v1h-1zM125 13h1v1h-1zM125 36h1v1h-1zM125 47h1v1h-1zM125 101h1v1h-1zM125 180h1v1h-1zM125 203h1v1h-1zM125 208h1v1h-1zM125 248h1v1h-1zM125 262h1v1h-1zM223 1h1v1h-1zM223 17h1v1h-1zM223 25h1v1h-1zM223 29h1v1h-1zM223 110h1v1h-1zM223 130h1v1h-1zM223 158h1v1h-1zM223 161h1v1h-1zM223 164h1v1h-1zM223 207h1v1h-1zM223 212h1v1h-1zM223 231h1v1h-1zM223 236h1v1h-1zM223 246h1v1h-1zM113 2h1v1h-1zM113 52h1v1h-1zM113 144h1v1h-1zM113 263h1v1h-1zM117 2h1v1h-1zM117 42h1v1h-1zM117 73h1v1h-1zM183 2h1v1h-1zM183 30h1v1h-1zM183 42h1v1h-1zM183 48h1v1h-1zM183 87h1v1h-1zM183 132h1v1h-1zM183 151h1v1h-1zM183 189h1v1h-1zM183 202h1v1h-1zM183 205h1v1h-1zM183 209h1v2h-1zM183 240h1v1h-1zM183 244h1v1h-1zM183 249h1v1h-1zM183 258h1v1h-1zM70 3h2v1h-2zM70 10h2v1h-2zM70 18h2v1h-2zM70 235h2v1h-2zM70 244h2v1h-2zM75 3h1v1h-1zM75 11h1v1h-1zM75 17h1v1h-1zM75 36h1v1h-1zM75 72h1v1h-1zM75 115h1v1h-1zM75 148h1v1h-1zM75 204h1v1h-1zM75 240h1v1h-1zM75 264h1v1h-1zM190 3h1v1h-1zM190 22h1v1h-1zM190 54h1v1h-1zM190 166h1v2h-1zM190 265h1v1h-1zM190 272h1v1h-1zM66 5h1v1h-1zM66 18h1v1h-1zM66 32h1v1h-1zM66 56h1v1h-1zM66 88h1v1h-1zM66 108h1v1h-1zM66 165h1v1h-1zM66 189h1v1h-1zM66 196h1v1h-1zM66 214h1v1h-1zM66 227h1v1h-1zM66 237h1v1h-1zM66 274h1v1h-1zM88 5h1v1h-1zM88 30h1v1h-1zM88 40h1v1h-1zM88 61h1v1h-1zM88 91h1v1h-1zM88 162h1v1h-1zM88 177h1v1h-1zM88 179h1v1h-1zM88 218h1v1h-1zM88 222h1v1h-1zM88 278h1v1h-1zM112 5h1v1h-1zM112 59h1v1h-1zM112 230h1v1h-1zM112 277h1v1h-1zM106 6h1v1h-1zM106 32h1v1h-1zM106 64h1v1h-1zM106 134h1v1h-1zM106 149h1v1h-1zM106 158h1v1h-1zM106 166h1v1h-1zM106 182h1v1h-1zM106 189h1v1h-1zM106 225h1v1h-1zM106 231h1v1h-1zM110 6h1v1h-1zM110 38h1v1h-1zM110 142h1v1h-1zM110 201h1v1h-1zM110 208h1v1h-1zM118 6h1v1h-1zM118 40h1v1h-1zM118 63h1v1h-1zM118 76h1v1h-1zM118 93h1v1h-1zM118 113h1v1h-1zM118 123h1v1h-1zM118 162h1v1h-1zM118 229h1v1h-1zM118 243h1v1h-1zM118 280h1v1h-1zM118 284h1v1h-1zM227 6h1v2h-1zM227 28h1v1h-1zM227 147h1v1h-1zM227 150h1v1h-1zM227 221h1v1h-1zM227 281h1v1h-1zM227 284h1v1h-1zM59 7h2v1h-2zM59 33h2v1h-2zM207 7h1v1h-1zM207 12h1v1h-1zM207 28h1v1h-1zM207 52h1v1h-1zM207 65h1v1h-1zM207 70h1v1h-1zM207 74h1v1h-1zM207 87h1v1h-1zM207 89h1v1h-1zM207 101h1v2h-1zM207 109h1v1h-1zM207 121h1v1h-1zM207 123h1v1h-1zM207 131h1v3h-1zM207 153h1v1h-1zM207 165h1v1h-1zM207 169h1v1h-1zM207 175h1v1h-1zM207 180h1v1h-1zM207 192h1v1h-1zM207 208h1v1h-1zM207 217h1v1h-1zM207 220h1v1h-1zM207 222h1v2h-1zM207 242h1v1h-1zM207 251h1v1h-1zM207 257h1v1h-1zM207 259h1v1h-1zM207 262h1v1h-1zM207 265h1v1h-1zM78 8h3v1h-3zM78 63h3v1h-3zM78 76h3v1h-3zM189 8h3v1h-3zM189 58h3v1h-3zM189 80h3v1h-3zM189 260h3v1h-3zM208 8h1v1h-1zM208 14h1v1h-1zM208 19h1v1h-1zM208 57h1v1h-1zM208 81h1v1h-1zM208 112h1v1h-1zM208 136h1v1h-1zM208 144h1v1h-1zM208 158h1v1h-1zM208 163h1v1h-1zM208 207h1v1h-1zM208 218h1v1h-1zM208 232h1v1h-1zM208 254h1v1h-1zM208 277h1v1h-1zM212 8h1v1h-1zM212 110h1v1h-1zM212 121h1v1h-1zM212 244h1v1h-1zM212 247h1v1h-1zM216 8h1v1h-1zM216 19h1v1h-1zM216 45h1v1h-1zM216 75h1v1h-1zM216 126h1v1h-1zM216 164h1v1h-1zM216 192h1v1h-1zM216 203h1v1h-1zM216 209h1v1h-1zM216 219h1v1h-1zM216 229h1v1h-1zM216 232h1v1h-1zM216 242h1v1h-1zM216 244h1v1h-1zM216 263h1v1h-1zM216 276h1v1h-1zM68 9h1v1h-1zM68 45h1v1h-1zM68 115h1v1h-1zM68 197h1v1h-1zM68 212h1v1h-1zM68 254h1v2h-1zM95 9h1v1h-1zM95 62h1v1h-1zM95 88h1v1h-1zM95 124h1v1h-1zM95 142h1v1h-1zM95 150h1v1h-1zM95 154h1v1h-1zM95 159h1v1h-1zM95 223h1v1h-1zM95 228h1v1h-1zM95 244h1v1h-1zM95 263h1v1h-1zM230 9h1v1h-1zM230 14h1v1h-1zM230 25h1v1h-1zM230 36h1v1h-1zM230 41h1v1h-1zM230 51h1v1h-1zM230 63h1v1h-1zM230 72h1v2h-1zM230 76h1v1h-1zM230 88h1v1h-1zM230 90h1v1h-1zM230 92h1v1h-1zM230 111h1v1h-1zM230 119h1v1h-1zM230 128h1v1h-1zM230 130h1v1h-1zM230 141h1v1h-1zM230 144h1v1h-1zM230 148h1v1h-1zM230 159h1v1h-1zM230 163h1v1h-1zM230 178h1v1h-1zM230 180h1v1h-1zM230 198h1v1h-1zM230 200h1v2h-1zM230 264h1v1h-1zM230 269h1v1h-1zM230 272h1v1h-1zM62 10h1v1h-1zM62 56h1v1h-1zM62 202h1v1h-1zM120 10h1v1h-1zM120 14h1v1h-1zM120 40h1v1h-1zM120 48h1v1h-1zM120 50h1v1h-1zM120 56h1v1h-1zM120 76h1v1h-1zM120 88h1v1h-1zM120 93h1v1h-1zM120 103h1v1h-1zM120 123h1v1h-1zM120 129h1v1h-1zM120 146h1v1h-1zM120 172h1v1h-1zM120 176h1v1h-1zM120 179h1v1h-1zM120 186h1v1h-1zM120 218h1v1h-1zM120 229h1v1h-1zM120 240h1v1h-1zM120 243h1v1h-1zM120 280h1v1h-1zM92 11h1v1h-1zM92 53h1v1h-1zM92 94h1v1h-1zM92 111h1v1h-1zM92 147h1v1h-1zM92 203h1v1h-1zM92 224h1v1h-1zM92 243h1v1h-1zM92 257h1v1h-1zM92 271h1v1h-1zM92 277h1v1h-1zM80 12h2v1h-2zM80 94h2v1h-2zM80 110h2v1h-2zM80 238h2v1h-2zM187 12h2v1h-2zM187 17h2v1h-2zM187 31h2v1h-2zM187 83h2v1h-2zM187 128h2v1h-2zM187 206h2v1h-2zM187 244h2v1h-2zM214 13h1v1h-1zM214 87h1v1h-1zM214 138h1v1h-1zM214 168h1v1h-1zM214 264h1v1h-1zM214 269h1v1h-1zM228 14h1v1h-1zM228 26h1v1h-1zM228 38h1v1h-1zM228 49h1v2h-1zM228 57h1v2h-1zM228 70h1v3h-1zM228 83h1v1h-1zM228 90h1v1h-1zM228 95h1v1h-1zM228 112h1v1h-1zM228 115h1v1h-1zM228 119h1v2h-1zM228 144h1v1h-1zM228 146h1v1h-1zM228 148h1v1h-1zM228 157h1v1h-1zM228 161h1v1h-1zM228 168h1v1h-1zM228 184h1v1h-1zM228 186h1v1h-1zM228 193h1v1h-1zM228 197h1v1h-1zM228 201h1v1h-1zM228 212h1v1h-1zM228 216h1v2h-1zM228 234h1v1h-1zM228 245h1v2h-1zM228 256h1v1h-1zM228 258h1v1h-1zM228 273h1v1h-1zM124 15h1v1h-1zM124 41h1v1h-1zM124 67h1v1h-1zM124 81h1v1h-1zM124 86h1v1h-1zM124 120h1v2h-1zM124 136h1v1h-1zM124 174h1v1h-1zM124 189h1v1h-1zM186 15h2v1h-2zM186 40h2v1h-2zM186 49h2v1h-2zM186 139h2v1h-2zM186 249h2v1h-2zM207 15h2v1h-2zM58 16h2v1h-2zM58 35h2v1h-2zM58 94h2v1h-2zM86 16h1v1h-1zM86 35h1v1h-1zM86 49h1v1h-1zM86 56h1v1h-1zM86 79h1v1h-1zM86 88h1v1h-1zM86 91h1v1h-1zM86 111h1v1h-1zM86 126h1v1h-1zM86 128h1v1h-1zM86 155h1v1h-1zM86 218h1v1h-1zM225 16h1v1h-1zM225 29h1v1h-1zM225 35h1v1h-1zM225 85h1v1h-1zM225 100h1v1h-1zM225 124h1v1h-1zM225 128h1v1h-1zM225 148h1v1h-1zM225 161h1v1h-1zM225 236h1v1h-1zM225 258h1v1h-1zM73 17h1v1h-1zM73 21h1v1h-1zM73 27h1v1h-1zM73 34h1v1h-1zM73 36h1v1h-1zM73 72h1v1h-1zM73 84h1v1h-1zM73 123h1v1h-1zM73 147h1v1h-1zM73 200h1v1h-1zM73 218h1v2h-1zM73 240h1v1h-1zM73 265h1v1h-1zM191 17h1v1h-1zM191 76h1v1h-1zM191 180h1v1h-1zM206 18h2v1h-2zM206 38h2v1h-2zM206 83h2v1h-2zM206 105h2v1h-2zM3 19h2v1h-2zM3 83h2v1h-2zM183 19h2v1h-2zM183 43h2v1h-2zM183 70h2v1h-2zM183 122h2v1h-2zM183 138h2v1h-2zM183 149h2v1h-2zM183 162h2v1h-2zM183 169h2v1h-2zM183 203h2v1h-2zM183 223h2v1h-2zM183 236h2v1h-2zM183 277h2v1h-2zM120 20h2v1h-2zM120 42h2v1h-2zM120 58h2v1h-2zM120 84h2v2h-2zM95 21h2v1h-2zM95 251h2v1h-2zM95 285h2v1h-2zM106 21h2v1h-2zM106 46h2v1h-2zM106 77h2v1h-2zM106 114h2v1h-2zM106 116h2v1h-2zM106 141h2v1h-2zM106 237h2v1h-2zM106 257h2v1h-2zM109 21h2v1h-2zM109 82h2v1h-2zM109 148h2v1h-2zM109 273h2v1h-2zM109 277h2v1h-2zM218 21h1v1h-1zM218 101h1v2h-1zM218 113h1v1h-1zM218 164h1v1h-1zM218 173h1v1h-1zM218 198h1v1h-1zM218 268h1v2h-1zM81 22h1v1h-1zM81 247h1v1h-1zM71 24h2v1h-2zM71 103h2v1h-2zM71 124h2v1h-2zM78 24h1v1h-1zM78 38h1v1h-1zM78 85h1v1h-1zM78 104h1v1h-1zM78 143h1v1h-1zM78 184h1v1h-1zM78 220h1v1h-1zM59 25h1v1h-1zM59 69h1v1h-1zM59 149h1v1h-1zM59 174h1v1h-1zM59 237h1v1h-1zM59 243h1v1h-1zM210 25h1v1h-1zM210 56h1v1h-1zM210 58h1v1h-1zM210 96h1v1h-1zM210 136h1v1h-1zM210 143h1v2h-1zM210 176h1v1h-1zM210 229h1v1h-1zM210 253h1v2h-1zM113 26h2v1h-2zM113 37h2v1h-2zM113 108h2v1h-2zM113 135h2v1h-2zM113 173h2v1h-2zM113 181h2v1h-2zM113 187h2v1h-2zM113 209h2v1h-2zM113 256h2v1h-2zM113 261h2v1h-2zM179 26h1v1h-1zM179 51h1v1h-1zM179 178h1v1h-1zM179 215h1v1h-1zM179 220h1v1h-1zM179 227h1v1h-1zM220 27h1v1h-1zM220 57h1v1h-1zM220 72h1v1h-1zM220 92h1v1h-1zM220 232h1v1h-1zM220 249h1v1h-1zM220 252h1v2h-1zM211 30h1v1h-1zM211 158h1v1h-1zM211 167h1v1h-1zM211 189h1v1h-1zM211 213h1v1h-1zM211 241h1v1h-1zM211 258h1v1h-1zM211 271h1v1h-1zM211 282h1v1h-1zM60 32h1v1h-1zM60 115h1v1h-1zM60 120h1v1h-1zM60 252h1v1h-1zM60 277h1v1h-1zM213 32h1v1h-1zM213 35h1v1h-1zM213 161h1v1h-1zM213 176h1v1h-1zM213 178h1v1h-1zM213 213h1v1h-1zM213 242h1v1h-1zM62 33h2v1h-2zM62 35h2v1h-2zM62 61h2v1h-2zM62 179h2v1h-2zM62 221h2v1h-2zM62 255h2v1h-2zM102 34h2v1h-2zM102 88h2v1h-2zM102 134h2v1h-2zM102 186h2v1h-2zM102 191h2v1h-2zM102 210h2v1h-2zM102 274h2v1h-2zM178 34h1v1h-1zM178 36h1v1h-1zM178 59h1v1h-1zM178 78h1v1h-1zM178 233h1v1h-1zM213 34h2v1h-2zM213 37h2v1h-2zM213 88h2v1h-2zM213 131h2v1h-2zM213 140h2v1h-2zM213 229h2v1h-2zM213 271h2v1h-2zM219 37h1v1h-1zM219 45h1v1h-1zM219 168h1v1h-1zM219 243h1v1h-1zM219 254h1v1h-1zM76 38h1v2h-1zM76 104h1v1h-1zM76 143h1v1h-1zM76 156h1v1h-1zM76 191h1v1h-1zM76 199h1v1h-1zM76 220h1v1h-1zM172 38h1v1h-1zM172 45h1v1h-1zM172 55h1v2h-1zM172 66h1v1h-1zM172 84h1v1h-1zM172 101h1v1h-1zM172 103h1v1h-1zM172 114h1v1h-1zM172 120h1v1h-1zM172 146h1v1h-1zM172 181h1v1h-1zM172 209h1v1h-1zM172 216h1v1h-1zM172 236h1v1h-1zM114 40h1v1h-1zM114 60h1v1h-1zM114 74h1v1h-1zM114 140h1v1h-1zM114 193h1v1h-1zM114 268h1v1h-1zM97 41h1v1h-1zM97 72h1v1h-1zM97 142h1v1h-1zM97 185h1v1h-1zM97 234h1v1h-1zM97 255h1v2h-1zM97 280h1v1h-1zM116 41h2v1h-2zM116 60h2v1h-2zM116 117h2v1h-2zM116 155h2v1h-2zM116 172h2v1h-2zM116 222h2v1h-2zM181 41h1v2h-1zM181 44h1v1h-1zM181 58h1v1h-1zM181 63h1v1h-1zM181 75h1v1h-1zM181 137h1v1h-1zM181 202h1v1h-1zM181 223h1v1h-1zM181 230h1v1h-1zM90 43h1v1h-1zM90 57h1v1h-1zM90 69h1v1h-1zM90 72h1v1h-1zM90 82h1v1h-1zM90 89h1v2h-1zM90 177h1v1h-1zM90 180h1v1h-1zM90 198h1v1h-1zM90 241h1v1h-1zM90 257h1v1h-1zM189 43h1v1h-1zM61 45h2v1h-2zM61 74h2v1h-2zM61 83h2v1h-2zM61 122h2v1h-2zM61 183h2v1h-2zM61 201h2v1h-2zM61 218h2v1h-2zM61 242h2v1h-2zM70 45h3v1h-3zM176 46h1v1h-1zM176 59h1v1h-1zM176 66h1v1h-1zM176 140h1v1h-1zM176 180h1v1h-1zM176 189h1v1h-1zM176 260h1v1h-1zM176 262h1v1h-1zM72 47h2v1h-2zM72 61h2v1h-2zM72 203h2v1h-2zM72 249h2v1h-2zM189 48h2v1h-2zM189 209h2v1h-2zM189 254h2v1h-2zM178 49h2v1h-2zM178 55h2v1h-2zM178 118h2v1h-2zM178 125h2v1h-2zM178 197h2v1h-2zM178 244h2v1h-2zM7 51h1v1h-1zM191 51h2v1h-2zM191 56h2v1h-2zM191 242h2v1h-2zM191 270h2v1h-2zM188 52h2v1h-2zM188 98h2v1h-2zM188 221h2v1h-2zM187 53h1v1h-1zM74 55h1v1h-1zM74 163h1v1h-1zM79 56h2v1h-2zM79 106h2v1h-2zM79 209h2v1h-2zM97 56h2v1h-2zM97 140h2v1h-2zM97 143h2v1h-2zM97 231h2v1h-2zM186 56h3v1h-3zM186 164h3v1h-3zM206 60h1v1h-1zM206 69h1v1h-1zM206 199h1v1h-1zM206 209h1v1h-1zM58 61h1v1h-1zM180 61h1v1h-1zM180 108h1v1h-1zM180 157h1v1h-1zM185 61h3v1h-3zM82 64h1v1h-1zM82 87h1v1h-1zM82 192h1v1h-1zM82 227h1v2h-1zM78 66h2v1h-2zM78 109h2v1h-2zM78 127h2v1h-2zM78 159h2v1h-2zM78 201h2v1h-2zM78 229h2v1h-2zM78 231h2v1h-2zM211 67h2v1h-2zM211 76h2v1h-2zM211 133h2v1h-2zM211 184h2v1h-2zM211 192h2v1h-2zM211 195h2v1h-2zM211 231h2v1h-2zM71 68h3v1h-3zM226 68h1v1h-1zM226 157h1v2h-1zM226 241h1v1h-1zM124 70h2v1h-2zM124 131h2v1h-2zM124 138h2v1h-2zM124 199h2v1h-2zM124 215h2v1h-2zM124 225h2v1h-2zM124 257h2v1h-2zM75 73h2v2h-2zM75 140h2v1h-2zM75 173h2v1h-2zM75 200h2v1h-2zM75 281h2v1h-2zM192 79h1v1h-1zM192 170h1v1h-1zM222 79h1v1h-1zM222 108h1v1h-1zM222 165h1v1h-1zM222 169h1v1h-1zM222 177h1v1h-1zM222 243h1v1h-1zM222 280h1v1h-1zM225 80h2v1h-2zM98 81h1v1h-1zM98 235h1v1h-1zM63 87h1v1h-1zM63 114h1v1h-1zM63 116h1v1h-1zM63 138h1v1h-1zM63 147h1v1h-1zM63 182h1v1h-1zM63 264h1v1h-1zM63 279h1v1h-1zM221 87h1v1h-1zM221 209h1v1h-1zM115 89h2v1h-2zM5 90h1v1h-1zM5 129h1v1h-1zM5 208h1v1h-1zM72 92h1v1h-1zM72 213h1v1h-1zM72 226h1v1h-1zM180 93h2v1h-2zM180 264h2v1h-2zM184 95h1v1h-1zM184 102h1v1h-1zM184 194h1v1h-1zM184 263h1v1h-1zM112 99h2v1h-2zM112 236h2v1h-2zM218 99h2v1h-2zM218 194h2v1h-2zM218 260h2v1h-2zM218 265h2v1h-2zM186 101h4v1h-4zM186 102h1v1h-1zM186 124h1v1h-1zM186 187h1v1h-1zM186 215h1v1h-1zM186 257h1v1h-1zM186 263h1v1h-1zM186 277h1v1h-1zM186 280h1v1h-1zM190 107h2v1h-2zM187 108h3v1h-3zM187 111h3v1h-3zM187 119h3v1h-3zM187 165h3v1h-3zM187 269h3v1h-3zM187 279h3v1h-3zM116 109h3v1h-3zM116 207h3v1h-3zM222 109h2v1h-2zM222 187h2v1h-2zM222 229h2v1h-2zM222 257h2v1h-2zM4 110h1v1h-1zM80 112h1v1h-1zM80 267h1v1h-1zM116 124h1v1h-1zM116 153h1v1h-1zM116 193h1v1h-1zM116 232h1v1h-1zM103 127h1v1h-1zM103 132h1v1h-1zM103 178h1v1h-1zM178 128h3v1h-3zM210 129h2v1h-2zM210 154h2v1h-2zM188 132h1v1h-1zM188 161h1v1h-1zM188 166h1v1h-1zM188 218h1v1h-1zM90 133h2v1h-2zM190 133h3v1h-3zM190 285h3v1h-3zM79 137h1v1h-1zM87 138h1v1h-1zM87 227h1v1h-1zM87 270h1v1h-1zM70 144h1v1h-1zM70 153h1v1h-1zM70 255h1v1h-1zM70 274h1v1h-1zM61 149h1v1h-1zM61 230h1v1h-1zM61 245h1v1h-1zM96 153h1v1h-1zM96 157h1v1h-1zM96 196h1v1h-1zM61 157h3v1h-3zM67 163h1v1h-1zM67 203h1v1h-1zM67 206h1v1h-1zM95 176h3v1h-3zM95 181h3v1h-3zM95 226h3v1h-3zM101 178h1v1h-1zM188 182h4v1h-4zM81 186h2v1h-2zM81 252h2v1h-2zM231 194h1v1h-1zM3 195h1v1h-1zM223 198h2v1h-2zM79 211h3v1h-3zM114 240h2v1h-2zM67 250h2v1h-2zM186 268h5v1h-5zM175 281h1v1h-1zM112 285h3v1h-3z"/>
<path fill="#375a8c" d="M101 0h1v1h-1zM101 5h1v1h-1zM101 11h1v1h-1zM101 30h1v1h-1zM101 79h1v1h-1zM101 95h1v1h-1zM101 191h1v1h-1zM101 214h1v1h-1zM101 220h1v1h-1zM101 223h1v1h-1zM101 233h1v1h-1zM101 285h1v1h-1zM108 0h1v1h-1zM108 8h1v1h-1zM108 27h1v1h-1zM108 68h1v1h-1zM108 77h1v1h-1zM108 82h1v1h-1zM108 100h1v1h-1zM108 114h1v1h-1zM108 116h1v1h-1zM108 123h1v2h-1zM108 148h1v1h-1zM108 204h1v1h-1zM108 257h1v1h-1zM108 273h1v1h-1zM108 277h1v1h-1zM108 279h1v1h-1zM185 0h1v1h-1zM185 33h1v1h-1zM185 44h1v1h-1zM185 46h1v2h-1zM185 60h1v1h-1zM185 87h1v1h-1zM185 96h1v2h-1zM185 117h1v2h-1zM185 127h1v1h-1zM185 130h1v1h-1zM185 143h1v1h-1zM185 145h1v1h-1zM185 204h1v1h-1zM185 217h1v1h-1zM185 226h1v1h-1zM185 231h1v1h-1zM185 239h1v1h-1zM185 241h1v1h-1zM185 262h1v1h-1zM185 264h1v1h-1zM185 270h1v1h-1zM193 0h1v1h-1zM193 12h1v1h-1zM193 20h1v1h-1zM193 22h1v1h-1zM193 32h1v1h-1zM193 55h1v1h-1zM193 62h1v1h-1zM193 65h1v1h-1zM193 75h1v1h-1zM193 90h1v1h-1zM193 107h1v1h-1zM193 117h1v1h-1zM193 124h1v1h-1zM193 128h1v1h-1zM193 164h1v2h-1zM193 169h1v1h-1zM193 175h1v1h-1zM193 202h1v1h-1zM193 208h1v1h-1zM193 222h1v1h-1zM193 225h1v1h-1zM193 228h1v1h-1zM193 231h1v2h-1zM193 234h1v1h-1zM193 249h1v1h-1zM193 257h1v1h-1zM193 277h1v2h-1zM193 281h1v2h-1zM206 0h1v1h-1zM206 12h1v1h-1zM206 14h1v2h-1zM206 28h1v1h-1zM206 49h1v1h-1zM206 65h1v1h-1zM206 70h1v1h-1zM206 74h1v1h-1zM206 77h1v1h-1zM206 97h1v1h-1zM206 102h1v1h-1zM206 123h1v1h-1zM206 133h1v1h-1zM206 139h1v1h-1zM206 153h1v1h-1zM206 169h1v1h-1zM206 175h1v1h-1zM206 180h1v1h-1zM206 192h1v1h-1zM206 205h1v1h-1zM206 217h1v1h-1zM206 223h1v1h-1zM206 226h1v1h-1zM206 233h1v1h-1zM206 267h1v1h-1zM206 281h1v1h-1zM211 0h2v1h-2zM211 2h2v1h-2zM211 10h2v1h-2zM211 18h2v1h-2zM211 36h2v1h-2zM211 53h2v1h-2zM211 90h2v1h-2zM211 99h2v1h-2zM211 112h2v1h-2zM211 126h2v1h-2zM211 128h2v1h-2zM211 153h2v1h-2zM211 155h2v1h-2zM211 204h2v1h-2zM211 256h2v1h-2zM215 0h1v2h-1zM215 4h1v1h-1zM215 17h1v1h-1zM215 21h1v1h-1zM215 37h1v1h-1zM215 41h1v1h-1zM215 45h1v1h-1zM215 52h1v1h-1zM215 62h1v1h-1zM215 113h1v1h-1zM215 123h1v1h-1zM215 125h1v1h-1zM215 174h1v1h-1zM215 198h1v2h-1zM215 203h1v1h-1zM215 219h1v1h-1zM215 221h1v1h-1zM215 226h1v1h-1zM215 229h1v1h-1zM215 231h1v2h-1zM215 234h1v1h-1zM215 272h1v1h-1zM215 278h1v1h-1zM221 0h1v1h-1zM221 3h1v1h-1zM221 21h1v1h-1zM221 42h1v1h-1zM221 53h1v1h-1zM221 59h1v1h-1zM221 75h1v1h-1zM221 96h1v1h-1zM221 121h1v1h-1zM221 168h1v1h-1zM221 187h1v1h-1zM221 198h1v1h-1zM221 201h1v1h-1zM221 226h1v1h-1zM221 280h1v1h-1zM98 1h1v1h-1zM98 10h1v1h-1zM98 50h1v1h-1zM98 61h1v1h-1zM98 142h1v1h-1zM98 171h1v1h-1zM98 185h1v1h-1zM98 200h1v1h-1zM173 1h2v1h-2zM173 32h2v1h-2zM173 41h2v1h-2zM173 64h2v1h-2zM173 110h2v1h-2zM173 135h2v2h-2zM173 139h2v1h-2zM173 147h2v1h-2zM173 167h2v1h-2zM173 171h2v1h-2zM173 186h2v2h-2zM173 197h2v1h-2zM173 199h2v1h-2zM173 201h2v1h-2zM173 211h2v1h-2zM173 213h2v1h-2zM173 229h2v1h-2zM173 258h2v1h-2zM173 278h2v1h-2zM222 1h1v1h-1zM222 25h1v1h-1zM222 93h1v1h-1zM222 101h1v1h-1zM222 112h1v1h-1zM222 120h1v1h-1zM222 144h1v1h-1zM222 151h1v2h-1zM222 160h1v2h-1zM222 164h1v1h-1zM222 174h1v1h-1zM222 184h1v1h-1zM222 193h1v1h-1zM222 208h1v1h-1zM222 212h1v1h-1zM222 224h1v1h-1zM222 253h1v1h-1zM222 263h1v1h-1zM222 268h1v1h-1zM222 270h1v1h-1zM222 281h1v1h-1zM222 285h1v1h-1zM228 1h1v1h-1zM228 23h1v1h-1zM228 43h1v1h-1zM228 47h1v1h-1zM228 59h1v1h-1zM228 66h1v1h-1zM228 127h1v1h-1zM228 154h1v3h-1zM228 188h1v1h-1zM228 202h1v1h-1zM228 204h1v1h-1zM228 210h1v1h-1zM228 213h1v1h-1zM228 244h1v1h-1zM228 271h1v1h-1zM217 2h1v2h-1zM217 15h1v1h-1zM217 19h1v1h-1zM217 28h1v1h-1zM217 39h1v1h-1zM217 45h1v1h-1zM217 60h1v2h-1zM217 64h1v1h-1zM217 75h1v1h-1zM217 110h1v1h-1zM217 126h1v1h-1zM217 132h1v1h-1zM217 139h1v1h-1zM217 145h1v1h-1zM217 151h1v1h-1zM217 164h1v1h-1zM217 171h1v2h-1zM217 179h1v1h-1zM217 182h1v1h-1zM217 192h1v1h-1zM217 203h1v1h-1zM217 206h1v1h-1zM217 223h1v1h-1zM217 226h1v1h-1zM217 232h1v1h-1zM217 240h1v1h-1zM217 242h1v1h-1zM217 247h1v1h-1zM217 261h1v1h-1zM217 264h1v1h-1zM217 272h1v1h-1zM217 274h1v1h-1zM220 2h1v1h-1zM220 15h1v1h-1zM220 18h1v1h-1zM220 20h1v1h-1zM220 24h1v1h-1zM220 28h1v1h-1zM220 34h1v2h-1zM220 44h1v1h-1zM220 54h1v1h-1zM220 60h1v1h-1zM220 70h1v1h-1zM220 76h1v1h-1zM220 78h1v1h-1zM220 81h1v1h-1zM220 84h1v4h-1zM220 93h1v1h-1zM220 101h1v1h-1zM220 107h1v1h-1zM220 111h1v3h-1zM220 115h1v1h-1zM220 118h1v1h-1zM220 120h1v1h-1zM220 125h1v4h-1zM220 131h1v1h-1zM220 133h1v1h-1zM220 135h1v2h-1zM220 148h1v1h-1zM220 151h1v1h-1zM220 161h1v1h-1zM220 163h1v2h-1zM220 166h1v1h-1zM220 169h1v1h-1zM220 171h1v1h-1zM220 174h1v1h-1zM220 183h1v1h-1zM220 193h1v1h-1zM220 195h1v1h-1zM220 199h1v1h-1zM220 205h1v2h-1zM220 211h1v1h-1zM220 221h1v1h-1zM220 225h1v1h-1zM220 229h1v1h-1zM220 231h1v1h-1zM220 248h1v1h-1zM220 257h1v1h-1zM220 263h1v1h-1zM220 266h1v1h-1zM220 268h1v1h-1zM220 270h1v1h-1zM69 3h1v1h-1zM69 45h1v1h-1zM69 197h1v1h-1zM69 235h1v1h-1zM69 244h1v2h-1zM69 250h1v1h-1zM69 254h1v2h-1zM69 272h1v1h-1zM209 3h1v1h-1zM209 24h1v1h-1zM209 36h1v1h-1zM209 42h1v1h-1zM209 47h1v1h-1zM209 59h1v1h-1zM209 78h1v1h-1zM209 107h1v1h-1zM209 111h1v1h-1zM209 116h1v1h-1zM209 125h1v1h-1zM209 132h1v1h-1zM209 135h1v1h-1zM209 147h1v1h-1zM209 160h1v1h-1zM209 165h1v1h-1zM209 179h1v1h-1zM209 183h1v2h-1zM209 205h1v1h-1zM209 210h1v1h-1zM209 219h1v1h-1zM209 239h1v2h-1zM209 245h1v1h-1zM209 252h1v1h-1zM209 256h1v1h-1zM209 262h1v2h-1zM209 271h1v1h-1zM209 284h1v1h-1zM211 3h1v1h-1zM211 5h1v1h-1zM211 11h1v1h-1zM211 22h1v1h-1zM211 39h1v1h-1zM211 74h1v1h-1zM211 83h1v1h-1zM211 94h1v1h-1zM211 104h1v1h-1zM211 111h1v1h-1zM211 121h1v1h-1zM211 134h1v1h-1zM211 148h1v2h-1zM211 165h1v1h-1zM211 183h1v1h-1zM211 187h1v1h-1zM211 219h1v1h-1zM211 254h1v1h-1zM211 279h1v1h-1zM180 4h2v1h-2zM180 54h2v1h-2zM180 64h2v1h-2zM180 119h2v1h-2zM180 127h2v1h-2zM180 170h2v1h-2zM180 258h2v1h-2zM180 285h2v1h-2zM230 4h1v1h-1zM230 34h1v1h-1zM230 54h1v2h-1zM230 60h1v1h-1zM230 62h1v1h-1zM230 66h1v1h-1zM230 81h1v1h-1zM230 84h1v1h-1zM230 117h1v1h-1zM230 147h1v1h-1zM230 156h1v2h-1zM230 182h1v1h-1zM230 189h1v1h-1zM230 195h1v1h-1zM230 216h1v1h-1zM230 218h1v1h-1zM230 244h1v1h-1zM230 280h1v1h-1zM89 5h1v1h-1zM89 17h1v1h-1zM89 31h1v1h-1zM89 40h1v1h-1zM89 278h1v1h-1zM173 5h1v2h-1zM173 9h1v1h-1zM173 12h1v1h-1zM173 30h1v1h-1zM173 36h1v1h-1zM173 40h1v1h-1zM173 63h1v1h-1zM173 123h1v1h-1zM173 127h1v1h-1zM173 149h1v1h-1zM173 189h1v1h-1zM173 202h1v1h-1zM173 205h1v1h-1zM173 214h1v1h-1zM173 237h1v1h-1zM173 241h1v1h-1zM173 277h1v1h-1zM215 5h2v1h-2zM215 46h2v1h-2zM215 48h2v1h-2zM215 57h2v1h-2zM215 63h2v1h-2zM215 80h2v2h-2zM215 127h2v2h-2zM215 149h2v1h-2zM215 155h2v1h-2zM215 222h2v1h-2zM215 248h2v1h-2zM228 5h3v1h-3zM228 17h3v1h-3zM228 79h3v1h-3zM228 215h3v1h-3zM228 270h3v1h-3zM107 6h1v1h-1zM107 201h1v1h-1zM175 6h1v1h-1zM175 23h1v1h-1zM175 33h1v1h-1zM175 72h1v1h-1zM175 78h1v1h-1zM175 100h1v1h-1zM175 105h1v1h-1zM175 124h1v1h-1zM175 137h1v2h-1zM175 141h1v1h-1zM175 157h1v1h-1zM175 253h1v1h-1zM175 268h1v1h-1zM175 272h1v1h-1zM225 6h1v1h-1zM225 72h1v1h-1zM225 104h1v1h-1zM225 167h1v1h-1zM225 183h1v1h-1zM225 209h1v1h-1zM225 279h1v1h-1zM212 7h1v1h-1zM212 19h1v1h-1zM212 84h1v1h-1zM212 98h1v1h-1zM212 179h1v1h-1zM212 189h1v1h-1zM212 208h1v1h-1zM212 258h1v1h-1zM212 271h1v1h-1zM212 282h1v1h-1zM155 8h1v1h-1zM155 267h1v1h-1zM213 8h3v1h-3zM213 31h3v1h-3zM213 192h3v1h-3zM213 220h3v1h-3zM213 244h3v1h-3zM213 276h3v1h-3zM213 284h3v1h-3zM222 8h2v1h-2zM222 73h2v1h-2zM222 76h2v1h-2zM222 90h2v1h-2zM222 95h2v1h-2zM222 118h2v1h-2zM222 143h2v1h-2zM222 163h2v1h-2zM222 188h2v1h-2zM222 271h2v1h-2zM67 9h1v1h-1zM67 56h1v1h-1zM67 122h1v1h-1zM67 149h1v1h-1zM67 165h1v1h-1zM67 189h1v1h-1zM67 197h1v1h-1zM67 212h1v1h-1zM67 214h1v1h-1zM67 237h1v1h-1zM67 274h1v1h-1zM182 9h1v1h-1zM182 11h1v1h-1zM182 14h1v1h-1zM182 37h1v1h-1zM182 40h1v1h-1zM182 47h1v1h-1zM182 61h1v1h-1zM182 68h1v1h-1zM182 73h1v1h-1zM182 97h1v1h-1zM182 109h1v1h-1zM182 117h1v1h-1zM182 122h1v1h-1zM182 137h1v1h-1zM182 163h1v1h-1zM182 168h1v1h-1zM182 171h1v1h-1zM182 192h1v2h-1zM182 195h1v1h-1zM182 197h1v1h-1zM182 199h1v1h-1zM182 206h1v1h-1zM182 218h1v2h-1zM182 236h1v1h-1zM182 245h1v1h-1zM182 267h1v1h-1zM182 269h1v1h-1zM182 272h1v2h-1zM182 275h1v1h-1zM182 280h1v1h-1zM189 9h1v1h-1zM189 36h1v1h-1zM189 65h1v1h-1zM189 135h1v1h-1zM189 145h1v1h-1zM189 181h1v1h-1zM189 200h1v1h-1zM189 225h1v1h-1zM189 236h1v1h-1zM77 10h1v1h-1zM77 19h1v1h-1zM77 26h1v2h-1zM77 29h1v1h-1zM77 32h1v1h-1zM77 34h1v1h-1zM77 78h1v1h-1zM77 92h1v1h-1zM77 102h1v1h-1zM77 107h1v1h-1zM77 110h1v1h-1zM77 114h1v1h-1zM77 117h1v1h-1zM77 132h1v1h-1zM77 141h1v1h-1zM77 156h1v1h-1zM77 191h1v1h-1zM77 195h1v1h-1zM77 221h1v1h-1zM77 227h1v1h-1zM77 240h1v1h-1zM77 267h1v1h-1zM77 280h1v1h-1zM95 10h1v1h-1zM95 160h1v1h-1zM178 10h1v1h-1zM178 13h1v1h-1zM178 22h1v1h-1zM178 27h1v1h-1zM178 60h1v1h-1zM178 71h1v1h-1zM178 100h1v1h-1zM178 109h1v1h-1zM178 111h1v1h-1zM178 120h1v2h-1zM178 134h1v2h-1zM178 137h1v1h-1zM178 142h1v1h-1zM178 148h1v1h-1zM178 169h1v2h-1zM178 182h1v1h-1zM178 205h1v1h-1zM178 231h1v1h-1zM178 238h1v1h-1zM178 242h1v1h-1zM178 245h1v2h-1zM178 256h1v1h-1zM178 273h1v1h-1zM181 10h2v1h-2zM181 56h2v1h-2zM181 148h2v1h-2zM181 226h2v1h-2zM181 243h2v1h-2zM214 10h1v1h-1zM214 147h1v1h-1zM214 253h1v1h-1zM216 11h1v1h-1zM216 25h1v1h-1zM216 34h1v1h-1zM216 89h1v1h-1zM216 99h1v1h-1zM216 116h1v1h-1zM216 193h1v1h-1zM216 267h1v1h-1zM209 12h3v1h-3zM209 32h3v1h-3zM209 40h3v1h-3zM209 86h3v1h-3zM180 13h1v1h-1zM180 57h1v1h-1zM180 60h1v1h-1zM180 71h1v2h-1zM180 77h1v1h-1zM180 102h1v1h-1zM180 111h1v1h-1zM180 124h1v1h-1zM180 137h1v1h-1zM180 141h1v1h-1zM180 183h1v1h-1zM180 205h1v1h-1zM180 241h1v1h-1zM180 245h1v1h-1zM222 13h3v1h-3zM222 23h3v1h-3zM222 35h3v1h-3zM222 37h3v1h-3zM222 126h3v1h-3zM222 137h3v1h-3zM222 170h3v1h-3zM222 277h3v1h-3zM231 13h1v1h-1zM231 47h1v1h-1zM231 49h1v1h-1zM231 53h1v1h-1zM231 86h1v1h-1zM231 88h1v1h-1zM231 91h1v1h-1zM231 95h1v1h-1zM231 97h1v1h-1zM231 100h1v2h-1zM231 108h1v1h-1zM231 110h1v1h-1zM231 118h1v1h-1zM231 165h1v1h-1zM231 184h1v1h-1zM231 190h1v1h-1zM231 192h1v1h-1zM231 203h1v1h-1zM231 229h1v1h-1zM231 256h1v1h-1zM231 261h1v1h-1zM121 14h1v1h-1zM121 35h1v1h-1zM121 48h1v1h-1zM121 50h1v1h-1zM121 88h1v1h-1zM121 103h1v1h-1zM121 129h1v1h-1zM121 186h1v1h-1zM121 218h1v1h-1zM121 240h1v1h-1zM121 266h1v1h-1zM121 269h1v1h-1zM121 280h1v1h-1zM229 14h1v1h-1zM229 26h1v1h-1zM229 41h1v1h-1zM229 50h1v1h-1zM229 61h1v1h-1zM229 71h1v1h-1zM229 73h1v1h-1zM229 76h1v1h-1zM229 88h1v1h-1zM229 90h1v1h-1zM229 112h1v1h-1zM229 115h1v1h-1zM229 119h1v1h-1zM229 128h1v1h-1zM229 144h1v1h-1zM229 148h1v1h-1zM229 161h1v1h-1zM229 184h1v1h-1zM229 186h1v1h-1zM229 190h1v1h-1zM229 200h1v2h-1zM229 205h1v1h-1zM229 217h1v1h-1zM229 221h1v1h-1zM229 234h1v1h-1zM229 256h1v1h-1zM229 264h1v1h-1zM229 269h1v1h-1zM229 281h1v1h-1zM103 15h1v1h-1zM103 57h1v1h-1zM103 95h1v1h-1zM103 128h1v1h-1zM103 235h1v1h-1zM103 265h1v1h-1zM103 276h1v1h-1zM223 15h4v1h-4zM60 16h1v1h-1zM60 35h1v1h-1zM60 45h1v1h-1zM60 74h1v1h-1zM60 94h1v1h-1zM60 122h1v1h-1zM60 149h1v1h-1zM60 218h1v1h-1zM60 242h1v2h-1zM85 16h1v1h-1zM85 26h1v1h-1zM85 35h1v1h-1zM85 49h1v1h-1zM85 79h1v1h-1zM85 88h1v1h-1zM85 99h1v1h-1zM85 107h1v1h-1zM85 128h1v1h-1zM85 138h1v1h-1zM85 155h1v1h-1zM85 157h1v1h-1zM85 160h1v1h-1zM85 183h1v1h-1zM85 218h1v1h-1zM85 237h1v1h-1zM85 276h1v1h-1zM207 16h1v1h-1zM207 30h1v1h-1zM207 39h1v1h-1zM207 51h1v1h-1zM207 147h1v1h-1zM207 157h1v1h-1zM207 200h1v1h-1zM207 219h1v1h-1zM207 240h1v1h-1zM207 252h1v1h-1zM207 269h1v1h-1zM207 272h1v1h-1zM226 16h2v1h-2zM226 29h2v1h-2zM226 45h2v1h-2zM226 95h2v1h-2zM226 120h2v1h-2zM226 152h2v1h-2zM226 184h2v1h-2zM226 191h2v1h-2zM226 199h2v1h-2zM226 246h2v2h-2zM226 254h2v1h-2zM226 273h2v1h-2zM74 17h1v1h-1zM74 21h1v1h-1zM74 27h1v1h-1zM74 36h1v1h-1zM74 48h1v1h-1zM74 72h1v1h-1zM74 99h1v1h-1zM74 148h1v1h-1zM74 219h1v1h-1zM74 240h1v1h-1zM74 260h1v1h-1zM74 265h1v1h-1zM192 17h2v1h-2zM192 24h2v1h-2zM192 58h2v1h-2zM192 123h2v1h-2zM192 196h2v1h-2zM192 198h2v1h-2zM192 238h2v1h-2zM192 260h2v1h-2zM211 17h3v1h-3zM211 93h3v1h-3zM211 135h3v1h-3zM211 226h3v1h-3zM224 17h1v1h-1zM224 25h1v1h-1zM224 29h1v1h-1zM224 52h1v1h-1zM224 161h1v1h-1zM224 186h1v2h-1zM224 206h1v1h-1zM224 231h1v1h-1zM224 236h1v1h-1zM224 257h1v1h-1zM173 18h3v1h-3zM173 27h3v2h-3zM173 119h3v1h-3zM173 152h3v1h-3zM173 196h3v1h-3zM173 216h3v1h-3zM173 238h3v1h-3zM173 264h3v1h-3zM208 18h1v1h-1zM208 101h1v1h-1zM208 208h1v1h-1zM208 259h1v1h-1zM214 18h2v1h-2zM214 119h2v1h-2zM214 164h2v1h-2zM214 209h2v1h-2zM214 263h2v1h-2zM111 19h1v1h-1zM111 21h1v1h-1zM111 236h1v1h-1zM65 20h1v1h-1zM65 30h1v1h-1zM65 83h1v1h-1zM65 112h1v1h-1zM65 124h1v1h-1zM65 134h1v1h-1zM176 20h2v1h-2zM176 34h2v1h-2zM176 107h2v1h-2zM176 127h2v1h-2zM176 281h2v1h-2zM209 20h2v1h-2zM209 46h2v1h-2zM209 51h2v1h-2zM209 73h2v1h-2zM209 100h2v1h-2zM209 105h2v1h-2zM209 157h2v1h-2zM209 175h2v1h-2zM209 177h2v1h-2zM209 242h2v2h-2zM209 258h2v1h-2zM225 20h2v1h-2zM225 43h2v1h-2zM225 47h2v1h-2zM225 107h2v1h-2zM225 141h2v1h-2zM225 163h2v1h-2zM225 185h2v1h-2zM225 198h2v1h-2zM225 251h2v1h-2zM225 282h2v1h-2zM210 21h1v1h-1zM210 34h1v1h-1zM210 67h1v1h-1zM210 69h1v1h-1zM210 106h1v1h-1zM210 133h1v1h-1zM210 158h1v1h-1zM210 162h1v1h-1zM210 167h1v1h-1zM210 189h1v1h-1zM210 213h1v1h-1zM210 231h1v1h-1zM210 241h1v1h-1zM210 260h1v1h-1zM210 282h1v1h-1zM228 21h2v1h-2zM228 39h2v1h-2zM228 52h2v1h-2zM228 105h2v1h-2zM228 116h2v1h-2zM228 132h2v1h-2zM228 163h2v1h-2zM228 180h2v2h-2zM228 194h2v1h-2zM228 229h2v1h-2zM181 23h1v1h-1zM181 86h1v1h-1zM181 94h1v1h-1zM93 24h1v1h-1zM93 31h1v1h-1zM93 33h1v1h-1zM93 38h1v1h-1zM93 110h1v1h-1zM93 119h1v1h-1zM93 135h1v1h-1zM93 181h1v1h-1zM93 191h1v1h-1zM93 242h1v1h-1zM93 248h1v1h-1zM93 258h1v1h-1zM213 24h2v1h-2zM213 59h2v1h-2zM213 73h2v1h-2zM213 106h2v1h-2zM213 110h2v1h-2zM213 151h2v1h-2zM213 195h2v1h-2zM213 233h2v1h-2zM213 257h2v1h-2zM213 285h2v1h-2zM208 26h3v1h-3zM208 123h3v1h-3zM223 26h1v1h-1zM223 135h1v1h-1zM223 159h1v1h-1zM223 209h1v1h-1zM227 26h1v1h-1zM227 38h1v1h-1zM227 58h1v1h-1zM227 112h1v1h-1zM227 130h1v1h-1zM227 144h1v1h-1zM227 157h1v1h-1zM227 161h1v1h-1zM227 186h1v1h-1zM227 205h1v1h-1zM227 212h1v1h-1zM227 216h1v2h-1zM227 230h1v1h-1zM227 236h1v2h-1zM227 239h1v1h-1zM227 256h1v1h-1zM227 277h1v1h-1zM174 29h2v1h-2zM174 61h2v1h-2zM174 77h2v1h-2zM174 81h2v1h-2zM174 91h2v1h-2zM174 109h2v1h-2zM174 115h2v1h-2zM174 132h2v1h-2zM174 170h2v1h-2zM174 269h2v1h-2zM87 30h1v1h-1zM87 40h1v1h-1zM87 45h1v1h-1zM87 91h1v1h-1zM87 111h1v1h-1zM87 126h1v1h-1zM87 132h1v1h-1zM87 145h1v1h-1zM87 162h1v1h-1zM87 179h1v1h-1zM87 218h1v1h-1zM87 222h1v1h-1zM87 242h1v1h-1zM87 269h1v1h-1zM119 33h1v1h-1zM119 179h1v1h-1zM74 34h2v1h-2zM74 123h2v1h-2zM74 156h2v1h-2zM74 191h2v1h-2zM104 34h1v1h-1zM104 77h1v1h-1zM104 88h1v1h-1zM104 122h1v1h-1zM104 127h1v1h-1zM104 132h1v1h-1zM104 149h1v1h-1zM104 151h1v1h-1zM104 171h1v1h-1zM104 178h1v1h-1zM226 35h1v1h-1zM226 85h1v1h-1zM226 100h1v1h-1zM226 124h1v1h-1zM226 127h1v1h-1zM226 148h1v1h-1zM226 180h1v1h-1zM226 192h1v1h-1zM226 197h1v1h-1zM226 213h1v1h-1zM226 270h1v1h-1zM226 281h1v1h-1zM100 36h2v1h-2zM100 74h2v1h-2zM100 203h2v1h-2zM100 216h2v1h-2zM100 262h2v1h-2zM191 36h1v1h-1zM191 38h1v1h-1zM191 61h1v1h-1zM191 79h1v1h-1zM191 99h1v1h-1zM191 119h1v1h-1zM191 167h1v1h-1zM191 181h1v1h-1zM191 221h1v1h-1zM191 226h1v1h-1zM115 37h1v1h-1zM115 140h1v1h-1zM115 142h1v1h-1zM115 187h1v1h-1zM115 193h1v1h-1zM115 202h1v1h-1zM115 209h1v1h-1zM115 222h1v1h-1zM115 232h1v1h-1zM115 256h1v1h-1zM112 38h1v1h-1zM112 56h1v1h-1zM112 108h1v1h-1zM112 135h1v1h-1zM112 142h1v1h-1zM112 144h1v1h-1zM112 183h1v1h-1zM112 190h1v1h-1zM112 201h1v1h-1zM112 208h1v1h-1zM112 261h1v1h-1zM112 263h1v1h-1zM210 38h2v1h-2zM210 283h2v1h-2zM64 41h1v1h-1zM212 42h3v1h-3zM212 250h3v1h-3zM174 44h1v1h-1zM174 60h1v1h-1zM174 67h1v2h-1zM174 70h1v1h-1zM174 80h1v1h-1zM174 90h1v1h-1zM174 101h1v2h-1zM174 134h1v1h-1zM174 143h1v1h-1zM174 145h1v1h-1zM174 148h1v1h-1zM174 151h1v1h-1zM174 158h1v1h-1zM174 161h1v1h-1zM174 165h1v1h-1zM174 176h1v1h-1zM174 232h1v1h-1zM174 251h1v1h-1zM174 255h1v1h-1zM215 44h3v1h-3zM215 56h3v1h-3zM215 66h3v1h-3zM215 86h3v1h-3zM215 90h3v2h-3zM215 98h3v1h-3zM215 163h3v1h-3zM215 201h3v1h-3zM215 225h3v1h-3zM215 254h3v1h-3zM206 45h2v1h-2zM206 82h2v1h-2zM206 92h2v1h-2zM206 107h2v1h-2zM206 112h2v1h-2zM206 138h2v1h-2zM206 164h2v1h-2zM206 225h2v1h-2zM206 228h2v1h-2zM206 245h2v1h-2zM206 248h2v1h-2zM206 258h2v1h-2zM206 263h2v1h-2zM206 284h2v1h-2zM177 46h1v1h-1zM177 49h1v1h-1zM177 55h1v1h-1zM177 59h1v1h-1zM177 66h1v1h-1zM177 78h1v1h-1zM177 113h1v1h-1zM177 119h1v1h-1zM177 189h1v1h-1zM177 197h1v1h-1zM177 226h1v1h-1zM177 233h1v1h-1zM212 46h2v1h-2zM212 66h2v1h-2zM212 139h2v1h-2zM212 169h2v1h-2zM212 222h2v1h-2zM212 224h2v1h-2zM212 255h2v1h-2zM213 48h1v1h-1zM213 76h1v1h-1zM213 123h1v1h-1zM213 184h1v1h-1zM213 196h1v1h-1zM213 199h1v1h-1zM213 221h1v1h-1zM213 247h1v1h-1zM213 254h1v1h-1zM209 52h4v1h-4zM209 70h4v1h-4zM209 130h4v1h-4zM184 54h1v1h-1zM184 80h1v1h-1zM184 109h1v1h-1zM184 199h1v1h-1zM184 206h1v1h-1zM184 234h1v1h-1zM206 54h3v1h-3zM99 56h1v1h-1zM99 81h1v1h-1zM99 140h1v1h-1zM99 147h1v1h-1zM99 209h1v1h-1zM125 56h1v1h-1zM125 67h1v1h-1zM125 87h1v1h-1zM125 90h1v1h-1zM125 222h1v1h-1zM224 56h3v1h-3zM224 102h3v1h-3zM224 200h3v1h-3zM224 202h3v1h-3zM224 222h3v1h-3zM224 235h3v1h-3zM219 57h1v1h-1zM219 72h1v1h-1zM219 83h1v1h-1zM219 92h1v1h-1zM219 253h1v1h-1zM219 272h1v2h-1zM229 57h2v1h-2zM229 70h2v1h-2zM229 75h2v1h-2zM229 151h2v1h-2zM229 153h2v1h-2zM229 177h2v1h-2zM229 193h2v1h-2zM229 206h2v1h-2zM229 212h2v1h-2zM229 220h2v1h-2zM229 222h2v1h-2zM229 224h2v1h-2zM229 232h2v1h-2zM229 268h2v1h-2zM229 273h2v1h-2zM222 58h4v1h-4zM222 136h4v1h-4zM222 176h4v1h-4zM7 64h1v1h-1zM7 103h1v1h-1zM7 160h1v1h-1zM83 64h1v1h-1zM83 149h1v1h-1zM83 192h1v1h-1zM83 233h1v1h-1zM83 244h1v1h-1zM176 64h3v1h-3zM227 68h2v1h-2zM227 80h2v1h-2zM225 70h3v1h-3zM192 73h1v1h-1zM223 75h3v1h-3zM223 108h3v1h-3zM223 123h3v1h-3zM223 149h3v1h-3zM223 157h3v1h-3zM223 227h3v1h-3zM216 79h2v1h-2zM216 87h2v1h-2zM216 96h2v1h-2zM216 100h2v1h-2zM216 142h2v3h-2zM216 146h2v2h-2zM216 169h2v1h-2zM216 180h2v1h-2zM210 80h3v1h-3zM210 273h3v1h-3zM184 82h2v1h-2zM184 94h2v1h-2zM184 140h2v1h-2zM184 148h2v1h-2zM184 172h2v1h-2zM184 209h2v1h-2zM184 260h2v1h-2zM184 280h2v1h-2zM94 88h1v1h-1zM94 124h1v1h-1zM94 176h1v1h-1zM94 263h1v1h-1zM225 94h6v1h-6zM224 98h2v1h-2zM224 154h2v1h-2zM224 156h2v1h-2zM224 164h2v1h-2zM224 166h2v1h-2zM224 173h2v1h-2zM224 233h2v1h-2zM224 245h2v1h-2zM153 100h1v1h-1zM153 127h1v1h-1zM153 201h1v1h-1zM153 236h1v1h-1zM153 267h1v1h-1zM213 105h5v1h-5zM213 124h5v1h-5zM213 277h5v1h-5zM208 109h2v1h-2zM208 121h2v1h-2zM208 131h2v1h-2zM208 149h2v1h-2zM208 191h2v1h-2zM208 222h2v2h-2zM81 112h1v1h-1zM81 219h1v1h-1zM81 253h1v1h-1zM176 125h1v1h-1zM176 178h1v1h-1zM180 129h3v1h-3zM180 142h3v1h-3zM180 177h3v1h-3zM180 180h3v1h-3zM180 204h3v1h-3zM180 214h3v1h-3zM180 216h3v1h-3zM180 253h3v1h-3zM107 134h2v1h-2zM107 158h2v1h-2zM107 231h2v1h-2zM220 134h2v1h-2zM220 190h2v1h-2zM191 142h2v1h-2zM191 148h2v1h-2zM191 185h2v1h-2zM209 145h5v1h-5zM223 145h2v1h-2zM223 219h2v1h-2zM68 153h2v1h-2zM212 158h4v1h-4zM227 158h4v1h-4zM208 159h9v1h-9zM208 174h5v1h-5zM222 175h6v1h-6zM191 177h3v1h-3zM98 190h3v1h-3zM98 280h3v1h-3zM208 194h6v1h-6zM103 218h2v1h-2zM67 227h2v1h-2zM105 248h1v1h-1zM222 269h5v1h-5zM222 275h5v1h-5zM98 285h2v1h-2z"/>
<path fill="#32648e" d="M119 0h1v1h-1zM119 14h1v1h-1zM119 18h1v1h-1zM119 40h1v1h-1zM119 48h1v1h-1zM119 56h1v1h-1zM119 58h1v1h-1zM119 63h1v1h-1zM119 75h1v2h-1zM119 90h1v1h-1zM119 93h1v1h-1zM119 99h1v1h-1zM119 113h1v1h-1zM119 121h1v1h-1zM119 123h1v1h-1zM119 172h1v1h-1zM119 229h1v1h-1zM119 240h1v1h-1zM119 243h1v2h-1zM119 255h1v1h-1zM119 280h1v1h-1zM119 284h1v1h-1zM122 0h2v1h-2zM122 19h2v1h-2zM122 41h2v1h-2zM122 48h2v1h-2zM122 111h2v1h-2zM186 0h2v1h-2zM186 97h2v1h-2zM186 99h2v1h-2zM186 106h2v1h-2zM186 126h2v1h-2zM186 140h2v1h-2zM186 172h2v1h-2zM186 195h2v1h-2zM186 241h2v1h-2zM186 247h2v1h-2zM186 262h2v1h-2zM186 264h2v1h-2zM213 0h1v1h-1zM213 18h1v1h-1zM213 36h1v1h-1zM213 116h1v1h-1zM213 126h1v1h-1zM213 204h1v1h-1zM213 261h1v2h-1zM213 273h1v1h-1zM219 0h1v1h-1zM219 35h1v1h-1zM219 44h1v1h-1zM219 46h1v1h-1zM219 54h1v1h-1zM219 78h1v1h-1zM219 81h1v1h-1zM219 85h1v1h-1zM219 101h1v1h-1zM219 113h1v1h-1zM219 123h1v1h-1zM219 128h1v1h-1zM219 134h1v2h-1zM219 152h1v1h-1zM219 161h1v1h-1zM219 163h1v2h-1zM219 169h1v1h-1zM219 171h1v1h-1zM219 183h1v1h-1zM219 195h1v1h-1zM219 205h1v2h-1zM219 211h1v1h-1zM219 218h1v1h-1zM219 225h1v1h-1zM219 231h1v1h-1zM219 246h1v1h-1zM219 248h1v1h-1zM219 251h1v1h-1zM219 257h1v1h-1zM219 266h1v1h-1zM219 268h1v1h-1zM64 1h3v1h-3zM64 4h3v1h-3zM64 58h3v1h-3zM64 62h3v1h-3zM64 66h3v1h-3zM64 125h3v1h-3zM64 178h3v1h-3zM64 275h3v1h-3zM91 1h1v1h-1zM91 6h1v1h-1zM91 69h1v1h-1zM91 97h1v1h-1zM91 138h1v1h-1zM91 231h1v1h-1zM91 234h1v1h-1zM91 262h1v1h-1zM91 267h1v2h-1zM91 281h1v1h-1zM109 1h2v1h-2zM109 69h2v1h-2zM109 152h2v1h-2zM109 165h2v1h-2zM109 178h2v1h-2zM109 213h2v1h-2zM109 285h2v1h-2zM172 1h1v1h-1zM172 5h1v1h-1zM172 9h1v1h-1zM172 12h1v1h-1zM172 15h1v1h-1zM172 28h1v1h-1zM172 30h1v1h-1zM172 36h1v2h-1zM172 40h1v1h-1zM172 43h1v1h-1zM172 54h1v1h-1zM172 59h1v1h-1zM172 63h1v2h-1zM172 68h1v1h-1zM172 86h1v1h-1zM172 95h1v1h-1zM172 99h1v1h-1zM172 107h1v1h-1zM172 110h1v2h-1zM172 119h1v1h-1zM172 123h1v1h-1zM172 127h1v1h-1zM172 131h1v1h-1zM172 135h1v2h-1zM172 147h1v1h-1zM172 149h1v1h-1zM172 151h1v1h-1zM172 157h1v1h-1zM172 167h1v1h-1zM172 186h1v2h-1zM172 189h1v1h-1zM172 196h1v2h-1zM172 199h1v1h-1zM172 202h1v1h-1zM172 205h1v1h-1zM172 207h1v1h-1zM172 211h1v1h-1zM172 213h1v2h-1zM172 232h1v1h-1zM172 237h1v2h-1zM172 241h1v1h-1zM172 258h1v1h-1zM172 264h1v1h-1zM172 267h1v1h-1zM172 277h1v2h-1zM178 1h1v2h-1zM178 4h1v1h-1zM178 23h1v1h-1zM178 33h1v1h-1zM178 53h1v1h-1zM178 88h1v1h-1zM178 122h1v1h-1zM178 131h1v1h-1zM178 173h1v2h-1zM178 176h1v1h-1zM178 201h1v1h-1zM178 204h1v1h-1zM178 209h1v1h-1zM178 227h1v1h-1zM178 234h1v1h-1zM178 236h1v1h-1zM178 250h1v1h-1zM178 268h1v1h-1zM178 279h1v1h-1zM190 1h2v1h-2zM190 43h2v1h-2zM190 115h2v1h-2zM190 126h2v1h-2zM190 269h2v1h-2zM227 1h1v1h-1zM227 21h1v1h-1zM227 27h1v1h-1zM227 30h1v1h-1zM227 43h1v1h-1zM227 47h1v1h-1zM227 52h1v1h-1zM227 107h1v1h-1zM227 116h1v1h-1zM227 127h1v1h-1zM227 163h1v1h-1zM227 180h1v1h-1zM227 188h1v1h-1zM227 192h1v1h-1zM227 194h1v1h-1zM227 197h1v2h-1zM227 202h1v1h-1zM227 204h1v1h-1zM227 213h1v1h-1zM227 215h1v1h-1zM227 229h1v1h-1zM227 244h1v1h-1zM227 270h1v1h-1zM96 2h2v1h-2zM96 7h2v1h-2zM96 24h2v1h-2zM96 55h2v1h-2zM96 57h2v1h-2zM96 62h2v1h-2zM96 151h2v1h-2zM96 154h2v1h-2zM96 170h2v1h-2zM96 186h2v1h-2zM96 198h2v1h-2zM96 219h2v1h-2zM96 225h2v1h-2zM96 258h2v1h-2zM96 278h2v1h-2zM102 2h1v1h-1zM102 129h1v1h-1zM102 136h1v1h-1zM102 152h1v1h-1zM102 159h1v1h-1zM109 2h1v1h-1zM109 42h1v1h-1zM109 115h1v1h-1zM109 143h1v1h-1zM109 170h1v1h-1zM109 174h1v1h-1zM109 184h1v1h-1zM109 191h1v1h-1zM109 193h1v1h-1zM180 2h1v1h-1zM180 7h1v1h-1zM180 23h1v1h-1zM180 32h1v1h-1zM180 52h1v1h-1zM180 153h1v1h-1zM180 173h1v2h-1zM180 217h1v1h-1zM180 229h1v1h-1zM180 243h1v1h-1zM180 249h1v1h-1zM180 284h1v1h-1zM186 2h1v1h-1zM186 12h1v1h-1zM186 33h1v1h-1zM186 46h1v1h-1zM186 73h1v1h-1zM186 75h1v1h-1zM186 81h1v1h-1zM186 90h1v1h-1zM186 108h1v1h-1zM186 117h1v1h-1zM186 127h1v1h-1zM186 130h1v1h-1zM186 204h1v2h-1zM186 226h1v1h-1zM186 231h1v1h-1zM186 234h1v1h-1zM186 242h1v1h-1zM186 255h1v1h-1zM186 260h1v1h-1zM186 283h1v1h-1zM218 2h1v1h-1zM218 36h1v1h-1zM218 64h1v1h-1zM218 68h1v1h-1zM218 79h1v1h-1zM218 100h1v1h-1zM218 132h1v1h-1zM218 139h1v1h-1zM218 142h1v3h-1zM218 147h1v1h-1zM218 192h1v1h-1zM218 203h1v1h-1zM218 226h1v1h-1zM218 242h1v1h-1zM218 252h1v1h-1zM218 254h1v1h-1zM218 272h1v1h-1zM218 283h1v1h-1zM181 3h2v1h-2zM181 25h2v1h-2zM181 67h2v1h-2zM181 72h2v1h-2zM181 74h2v1h-2zM181 78h2v1h-2zM181 156h2v1h-2zM181 233h2v1h-2zM210 3h1v1h-1zM210 10h1v2h-1zM210 22h1v1h-1zM210 24h1v1h-1zM210 36h1v1h-1zM210 90h1v1h-1zM210 107h1v1h-1zM210 111h1v2h-1zM210 116h1v1h-1zM210 132h1v1h-1zM210 134h1v1h-1zM210 148h1v2h-1zM210 153h1v1h-1zM210 155h1v1h-1zM210 160h1v1h-1zM210 165h1v1h-1zM210 172h1v1h-1zM210 178h1v1h-1zM210 183h1v2h-1zM210 219h1v1h-1zM210 252h1v1h-1zM210 256h1v1h-1zM210 271h1v1h-1zM218 3h2v1h-2zM218 15h2v1h-2zM218 18h2v1h-2zM218 28h2v1h-2zM218 66h2v1h-2zM218 84h2v1h-2zM218 87h2v1h-2zM218 110h2v2h-2zM218 118h2v1h-2zM218 120h2v1h-2zM218 126h2v1h-2zM218 133h2v1h-2zM218 148h2v1h-2zM218 166h2v1h-2zM218 172h2v1h-2zM218 174h2v1h-2zM218 179h2v1h-2zM218 199h2v1h-2zM218 201h2v2h-2zM218 221h2v1h-2zM218 232h2v1h-2zM218 240h2v1h-2zM218 247h2v1h-2zM218 250h2v1h-2zM218 274h2v1h-2zM218 277h2v2h-2zM61 4h1v1h-1zM61 9h1v1h-1zM61 38h1v1h-1zM61 78h1v1h-1zM61 113h1v1h-1zM61 180h1v1h-1zM61 190h1v2h-1zM61 223h1v1h-1zM61 255h1v1h-1zM61 268h1v1h-1zM70 4h1v1h-1zM70 24h1v1h-1zM70 49h1v1h-1zM70 102h1v1h-1zM70 185h1v1h-1zM70 234h1v1h-1zM91 4h3v1h-3zM91 86h3v1h-3zM91 104h3v1h-3zM91 124h3v1h-3zM91 129h3v1h-3zM91 199h3v1h-3zM91 213h3v1h-3zM91 232h3v1h-3zM214 4h1v2h-1zM214 20h1v2h-1zM214 41h1v1h-1zM214 44h1v1h-1zM214 46h1v1h-1zM214 48h1v1h-1zM214 52h1v1h-1zM214 54h1v1h-1zM214 57h1v1h-1zM214 113h1v1h-1zM214 123h1v1h-1zM214 135h1v1h-1zM214 149h1v1h-1zM214 169h1v1h-1zM214 199h1v1h-1zM214 201h1v1h-1zM214 214h1v1h-1zM214 221h1v2h-1zM214 224h1v1h-1zM214 226h1v1h-1zM214 232h1v1h-1zM214 234h1v1h-1zM214 248h1v1h-1zM214 254h1v2h-1zM80 5h1v2h-1zM80 19h1v1h-1zM80 25h1v2h-1zM80 29h1v1h-1zM80 40h1v1h-1zM80 46h1v1h-1zM80 55h1v1h-1zM80 77h1v1h-1zM80 85h1v1h-1zM80 92h1v2h-1zM80 104h1v2h-1zM80 129h1v1h-1zM80 136h1v3h-1zM80 158h1v1h-1zM80 171h1v1h-1zM80 190h1v1h-1zM80 192h1v1h-1zM80 196h1v1h-1zM80 205h1v1h-1zM80 225h1v1h-1zM80 233h1v1h-1zM80 250h1v1h-1zM80 270h1v1h-1zM86 5h1v1h-1zM86 8h1v2h-1zM86 19h1v1h-1zM86 23h1v1h-1zM86 33h1v1h-1zM86 46h1v1h-1zM86 58h1v2h-1zM86 61h1v2h-1zM86 77h1v1h-1zM86 89h1v1h-1zM86 92h1v1h-1zM86 99h1v1h-1zM86 105h1v1h-1zM86 110h1v1h-1zM86 115h1v1h-1zM86 125h1v1h-1zM86 141h1v1h-1zM86 143h1v1h-1zM86 150h1v1h-1zM86 163h1v1h-1zM86 172h1v1h-1zM86 192h1v1h-1zM86 195h1v1h-1zM86 199h1v1h-1zM86 211h1v1h-1zM86 220h1v1h-1zM86 224h1v1h-1zM86 239h1v1h-1zM86 250h1v1h-1zM86 254h1v1h-1zM86 258h1v1h-1zM86 269h1v1h-1zM86 273h1v1h-1zM86 281h1v1h-1zM86 283h1v1h-1zM92 5h2v1h-2zM92 41h2v1h-2zM92 71h2v1h-2zM92 76h2v1h-2zM92 102h2v1h-2zM92 112h2v1h-2zM92 168h2v1h-2zM92 174h2v1h-2zM92 196h2v1h-2zM92 198h2v1h-2zM92 223h2v1h-2zM189 5h1v1h-1zM189 18h1v1h-1zM189 51h1v1h-1zM189 54h1v1h-1zM189 75h1v2h-1zM189 91h1v1h-1zM189 94h1v1h-1zM189 121h1v1h-1zM189 129h1v1h-1zM189 138h1v1h-1zM189 192h1v1h-1zM189 199h1v1h-1zM189 214h1v3h-1zM189 227h1v1h-1zM189 230h1v2h-1zM189 244h1v1h-1zM189 247h1v1h-1zM189 257h1v1h-1zM189 262h1v1h-1zM189 285h1v1h-1zM191 5h1v1h-1zM191 15h1v1h-1zM191 34h1v1h-1zM191 48h1v1h-1zM191 96h1v1h-1zM191 150h1v1h-1zM191 168h1v1h-1zM191 204h1v1h-1zM191 227h1v1h-1zM191 251h1v1h-1zM191 272h1v1h-1zM209 5h2v1h-2zM209 35h2v1h-2zM209 74h2v1h-2zM209 94h2v1h-2zM209 204h2v1h-2zM225 5h1v1h-1zM64 6h2v1h-2zM64 37h2v1h-2zM64 39h2v1h-2zM64 87h2v1h-2zM64 95h2v1h-2zM64 102h2v1h-2zM64 154h2v1h-2zM64 161h2v1h-2zM64 176h2v1h-2zM64 180h2v1h-2zM64 185h2v1h-2zM64 192h2v1h-2zM64 221h2v1h-2zM64 241h2v1h-2zM64 265h2v1h-2zM64 271h2v1h-2zM105 6h1v1h-1zM105 21h1v1h-1zM105 34h1v1h-1zM105 46h1v1h-1zM105 103h1v1h-1zM105 106h1v1h-1zM105 132h1v1h-1zM105 149h1v1h-1zM105 171h1v1h-1zM105 178h1v1h-1zM105 182h1v1h-1zM105 189h1v1h-1zM105 225h1v1h-1zM105 237h1v1h-1zM105 279h1v1h-1zM111 6h1v1h-1zM111 26h1v1h-1zM111 38h1v1h-1zM111 82h1v1h-1zM111 127h1v1h-1zM111 142h1v1h-1zM111 146h1v1h-1zM111 183h1v1h-1zM111 201h1v1h-1zM111 208h1v1h-1zM111 277h1v1h-1zM174 6h1v1h-1zM174 195h1v1h-1zM176 6h1v1h-1zM176 23h1v1h-1zM176 27h1v3h-1zM176 72h1v1h-1zM176 77h1v2h-1zM176 81h1v1h-1zM176 91h1v1h-1zM176 109h1v1h-1zM176 115h1v1h-1zM176 124h1v1h-1zM176 132h1v1h-1zM176 141h1v1h-1zM176 147h1v1h-1zM176 157h1v1h-1zM176 170h1v1h-1zM176 196h1v1h-1zM176 236h1v1h-1zM176 238h1v1h-1zM176 242h1v1h-1zM176 253h1v1h-1zM176 268h1v1h-1zM176 278h1v1h-1zM179 6h4v1h-4zM179 112h4v1h-4zM179 121h4v1h-4zM179 160h4v1h-4zM224 6h1v1h-1zM224 51h1v1h-1zM224 95h1v1h-1zM224 209h1v1h-1zM226 6h1v1h-1zM226 61h1v1h-1zM226 86h1v1h-1zM226 223h1v1h-1zM90 7h1v1h-1zM90 28h1v1h-1zM90 48h1v1h-1zM90 56h1v1h-1zM90 68h1v1h-1zM90 75h1v1h-1zM90 80h1v1h-1zM90 101h1v1h-1zM90 110h1v1h-1zM90 146h1v1h-1zM90 154h1v1h-1zM90 170h1v1h-1zM90 175h1v1h-1zM90 225h1v1h-1zM90 228h1v1h-1zM90 242h1v1h-1zM90 265h1v1h-1zM90 283h1v1h-1zM118 7h1v2h-1zM118 23h1v1h-1zM118 84h1v1h-1zM118 97h1v1h-1zM118 120h1v1h-1zM118 142h1v1h-1zM118 152h1v1h-1zM118 202h1v1h-1zM118 206h1v1h-1zM118 213h1v1h-1zM118 215h1v1h-1zM118 233h1v1h-1zM118 235h1v1h-1zM118 238h1v2h-1zM118 272h1v1h-1zM118 281h1v1h-1zM208 7h1v1h-1zM208 16h1v1h-1zM208 20h1v1h-1zM208 24h1v2h-1zM208 28h1v1h-1zM208 37h1v1h-1zM208 43h1v1h-1zM208 45h1v1h-1zM208 47h1v2h-1zM208 51h1v2h-1zM208 59h1v1h-1zM208 65h1v1h-1zM208 70h1v1h-1zM208 78h1v1h-1zM208 86h1v2h-1zM208 100h1v1h-1zM208 105h1v1h-1zM208 107h1v1h-1zM208 125h1v1h-1zM208 128h1v1h-1zM208 130h1v1h-1zM208 135h1v1h-1zM208 140h1v1h-1zM208 147h1v1h-1zM208 157h1v1h-1zM208 160h1v1h-1zM208 165h1v1h-1zM208 169h1v1h-1zM208 175h1v1h-1zM208 179h1v1h-1zM208 184h1v1h-1zM208 189h1v1h-1zM208 200h1v1h-1zM208 219h1v1h-1zM208 225h1v1h-1zM208 239h1v2h-1zM208 242h1v2h-1zM208 245h1v1h-1zM208 251h1v1h-1zM208 257h1v2h-1zM208 262h1v2h-1zM208 269h1v1h-1zM208 273h1v1h-1zM208 275h1v1h-1zM213 7h2v1h-2zM213 80h2v1h-2zM213 98h2v1h-2zM213 155h2v1h-2zM213 174h2v1h-2zM213 235h2v1h-2zM213 258h2v1h-2zM213 272h2v1h-2zM213 278h2v1h-2zM58 8h2v1h-2zM58 40h2v2h-2zM58 88h2v1h-2zM58 92h2v1h-2zM58 110h2v1h-2zM58 115h2v1h-2zM58 117h2v1h-2zM58 128h2v1h-2zM58 131h2v1h-2zM58 142h2v1h-2zM58 160h2v1h-2zM58 164h2v1h-2zM58 195h2v2h-2zM58 201h2v1h-2zM58 204h2v1h-2zM58 208h2v1h-2zM58 213h2v1h-2zM58 219h2v1h-2zM58 225h2v1h-2zM58 229h2v1h-2zM58 263h2v1h-2zM58 266h2v1h-2zM58 269h2v1h-2zM58 283h2v1h-2zM88 8h1v1h-1zM88 22h1v2h-1zM88 27h1v1h-1zM88 48h1v1h-1zM88 58h1v1h-1zM88 75h1v1h-1zM88 83h1v1h-1zM88 99h1v1h-1zM88 105h1v1h-1zM88 115h1v1h-1zM88 119h1v1h-1zM88 141h1v1h-1zM88 146h1v1h-1zM88 151h1v1h-1zM88 154h1v3h-1zM88 170h1v1h-1zM88 175h1v1h-1zM88 189h1v1h-1zM88 212h1v1h-1zM88 220h1v1h-1zM88 230h1v1h-1zM88 233h1v1h-1zM88 242h1v2h-1zM88 250h1v1h-1zM88 255h1v2h-1zM88 265h1v1h-1zM88 272h1v1h-1zM88 281h1v1h-1zM88 283h1v1h-1zM110 8h1v1h-1zM110 110h1v1h-1zM110 141h1v1h-1zM110 194h1v1h-1zM156 8h1v1h-1zM156 91h1v1h-1zM156 126h1v1h-1zM179 8h1v1h-1zM179 13h1v1h-1zM179 46h1v1h-1zM179 50h1v1h-1zM179 54h1v1h-1zM179 57h1v1h-1zM179 60h1v1h-1zM179 64h1v1h-1zM179 71h1v1h-1zM179 82h1v1h-1zM179 102h1v1h-1zM179 111h1v1h-1zM179 134h1v2h-1zM179 137h1v1h-1zM179 142h1v1h-1zM179 148h1v1h-1zM179 170h1v1h-1zM179 177h1v1h-1zM179 180h1v1h-1zM179 182h1v2h-1zM179 205h1v1h-1zM179 231h1v1h-1zM179 241h1v1h-1zM179 245h1v2h-1zM179 255h1v2h-1zM179 258h1v1h-1zM179 282h1v1h-1zM179 285h1v1h-1zM221 8h1v1h-1zM221 34h1v2h-1zM221 54h1v1h-1zM221 57h1v1h-1zM221 79h1v1h-1zM221 85h1v1h-1zM221 92h1v2h-1zM221 101h1v1h-1zM221 109h1v1h-1zM221 111h1v1h-1zM221 113h1v1h-1zM221 120h1v1h-1zM221 125h1v2h-1zM221 131h1v1h-1zM221 136h1v1h-1zM221 148h1v1h-1zM221 151h1v2h-1zM221 161h1v1h-1zM221 165h1v1h-1zM221 171h1v1h-1zM221 174h1v1h-1zM221 176h1v2h-1zM221 183h1v1h-1zM221 188h1v1h-1zM221 199h1v1h-1zM221 205h1v1h-1zM221 212h1v1h-1zM221 223h1v1h-1zM221 229h1v1h-1zM221 232h1v1h-1zM221 243h1v1h-1zM221 249h1v1h-1zM221 252h1v2h-1zM221 257h1v1h-1zM221 263h1v1h-1zM221 266h1v1h-1zM221 268h1v2h-1zM94 9h1v2h-1zM94 12h1v1h-1zM94 53h1v1h-1zM94 62h1v1h-1zM94 109h1v1h-1zM94 142h1v1h-1zM94 150h1v1h-1zM94 154h1v1h-1zM94 224h1v1h-1zM94 228h1v1h-1zM94 241h1v1h-1zM94 243h1v2h-1zM175 9h1v1h-1zM175 22h1v1h-1zM175 26h1v1h-1zM175 31h1v1h-1zM175 41h1v2h-1zM175 62h1v1h-1zM175 70h1v1h-1zM175 92h1v2h-1zM175 96h1v1h-1zM175 101h1v1h-1zM175 103h1v1h-1zM175 134h1v1h-1zM175 136h1v1h-1zM175 143h1v1h-1zM175 145h1v1h-1zM175 148h1v1h-1zM175 151h1v1h-1zM175 153h1v1h-1zM175 158h1v1h-1zM175 161h1v1h-1zM175 165h1v1h-1zM175 169h1v1h-1zM175 184h1v1h-1zM175 186h1v2h-1zM175 191h1v1h-1zM175 206h1v1h-1zM175 218h1v1h-1zM175 232h1v1h-1zM175 240h1v1h-1zM175 255h1v1h-1zM175 273h1v1h-1zM184 9h1v1h-1zM184 85h1v1h-1zM184 87h1v1h-1zM184 116h1v1h-1zM184 143h1v1h-1zM184 145h1v1h-1zM184 158h1v1h-1zM184 160h1v1h-1zM184 165h1v1h-1zM184 178h1v1h-1zM184 187h1v1h-1zM184 204h1v1h-1zM184 241h1v1h-1zM184 249h1v1h-1zM184 252h1v1h-1zM184 269h1v1h-1zM190 9h1v1h-1zM190 17h1v1h-1zM190 36h1v1h-1zM190 65h1v1h-1zM190 77h1v1h-1zM190 99h1v1h-1zM190 119h1v1h-1zM190 148h1v1h-1zM190 181h1v1h-1zM190 200h1v1h-1zM190 221h1v1h-1zM190 226h1v1h-1zM190 245h1v1h-1zM190 252h1v1h-1zM231 9h1v1h-1zM231 14h1v1h-1zM231 21h1v1h-1zM231 25h1v1h-1zM231 37h1v1h-1zM231 41h1v1h-1zM231 63h1v1h-1zM231 72h1v2h-1zM231 76h1v1h-1zM231 84h1v1h-1zM231 92h1v1h-1zM231 104h1v1h-1zM231 111h1v1h-1zM231 121h1v3h-1zM231 128h1v1h-1zM231 141h1v1h-1zM231 144h1v1h-1zM231 147h1v1h-1zM231 158h1v2h-1zM231 163h1v1h-1zM231 174h1v1h-1zM231 177h1v1h-1zM231 180h1v1h-1zM231 185h1v1h-1zM231 198h1v1h-1zM231 200h1v1h-1zM231 206h1v1h-1zM231 215h1v1h-1zM231 233h1v1h-1zM231 239h1v1h-1zM231 253h1v1h-1zM231 269h1v2h-1zM231 272h1v2h-1zM78 10h1v1h-1zM78 19h1v1h-1zM78 29h1v1h-1zM78 106h1v1h-1zM78 132h1v1h-1zM78 191h1v1h-1zM78 213h1v1h-1zM90 10h3v1h-3zM90 79h3v1h-3zM90 163h3v1h-3zM90 181h3v1h-3zM90 261h3v1h-3zM90 273h3v1h-3zM99 10h1v1h-1zM99 19h1v1h-1zM99 37h1v1h-1zM99 129h1v1h-1zM99 142h1v1h-1zM99 216h1v1h-1zM174 10h4v1h-4zM179 10h2v1h-2zM179 113h2v1h-2zM179 147h2v1h-2zM179 223h2v1h-2zM179 251h2v1h-2zM179 278h2v1h-2zM183 10h1v1h-1zM183 12h1v1h-1zM183 14h1v1h-1zM183 68h1v1h-1zM183 82h1v1h-1zM183 86h1v1h-1zM183 97h1v1h-1zM183 109h1v1h-1zM183 137h1v1h-1zM183 142h1v1h-1zM183 148h1v1h-1zM183 161h1v1h-1zM183 163h1v1h-1zM183 171h1v1h-1zM183 192h1v1h-1zM183 197h1v1h-1zM183 199h1v2h-1zM183 206h1v1h-1zM183 218h1v2h-1zM183 234h1v1h-1zM183 243h1v1h-1zM183 253h1v1h-1zM183 260h1v1h-1zM183 273h1v1h-1zM183 275h1v1h-1zM183 280h1v1h-1zM187 10h1v1h-1zM187 54h1v1h-1zM187 132h1v1h-1zM187 162h1v1h-1zM187 169h1v1h-1zM187 202h1v1h-1zM187 256h1v1h-1zM62 11h1v1h-1zM62 18h1v1h-1zM62 63h1v1h-1zM62 103h1v1h-1zM62 105h1v1h-1zM62 136h1v1h-1zM62 176h1v1h-1zM62 220h1v1h-1zM62 258h1v1h-1zM64 11h1v1h-1zM64 18h1v1h-1zM64 89h1v1h-1zM64 93h1v1h-1zM64 99h1v1h-1zM64 101h1v1h-1zM64 103h1v1h-1zM64 105h1v1h-1zM64 107h1v1h-1zM64 127h1v1h-1zM64 194h1v1h-1zM64 199h1v1h-1zM64 203h1v1h-1zM64 215h1v1h-1zM64 278h1v1h-1zM96 11h1v1h-1zM96 28h1v1h-1zM96 30h1v1h-1zM96 36h1v1h-1zM96 60h1v1h-1zM96 80h1v1h-1zM96 85h1v1h-1zM96 90h1v1h-1zM96 101h1v1h-1zM96 105h1v1h-1zM96 117h1v1h-1zM96 133h1v1h-1zM96 139h1v1h-1zM96 149h1v1h-1zM96 158h1v1h-1zM96 165h1v1h-1zM96 172h1v1h-1zM96 222h1v1h-1zM96 245h1v1h-1zM96 247h1v1h-1zM96 256h1v1h-1zM96 262h1v1h-1zM96 264h1v1h-1zM180 11h2v1h-2zM180 14h2v1h-2zM180 47h2v1h-2zM180 85h2v1h-2zM180 91h2v1h-2zM180 97h2v1h-2zM180 99h2v1h-2zM180 122h2v1h-2zM180 144h2v1h-2zM180 150h2v1h-2zM180 218h2v1h-2zM180 254h2v1h-2zM215 11h1v1h-1zM215 94h1v1h-1zM215 116h1v1h-1zM215 142h1v1h-1zM215 242h1v1h-1zM215 261h1v1h-1zM215 270h1v1h-1zM217 11h1v1h-1zM217 23h1v1h-1zM217 25h1v1h-1zM217 63h1v1h-1zM217 78h1v1h-1zM217 92h1v1h-1zM217 99h1v1h-1zM217 116h1v1h-1zM217 260h1v1h-1zM217 266h1v2h-1zM220 11h2v1h-2zM91 12h2v1h-2zM91 31h2v1h-2zM91 38h2v1h-2zM91 67h2v1h-2zM91 150h2v1h-2zM91 164h2v1h-2zM192 12h1v1h-1zM192 60h1v1h-1zM192 62h1v1h-1zM192 87h1v1h-1zM192 90h1v1h-1zM192 117h1v1h-1zM192 128h1v1h-1zM192 140h1v1h-1zM192 164h1v1h-1zM192 175h1v1h-1zM192 202h1v1h-1zM192 232h1v1h-1zM116 13h1v1h-1zM116 23h1v1h-1zM116 48h1v1h-1zM116 82h1v1h-1zM116 126h1v1h-1zM116 134h1v1h-1zM116 141h1v2h-1zM116 188h1v1h-1zM116 226h1v1h-1zM116 235h1v1h-1zM116 244h1v1h-1zM116 261h1v1h-1zM116 263h1v1h-1zM116 265h1v1h-1zM116 271h1v1h-1zM193 13h1v1h-1zM193 23h1v1h-1zM193 27h1v2h-1zM193 35h1v1h-1zM193 37h1v1h-1zM193 105h1v1h-1zM193 108h1v1h-1zM193 113h1v1h-1zM193 131h1v1h-1zM193 148h1v1h-1zM193 157h1v2h-1zM193 172h1v1h-1zM193 200h1v1h-1zM193 207h1v1h-1zM193 211h1v1h-1zM193 220h1v1h-1zM193 224h1v1h-1zM193 248h1v1h-1zM193 264h1v1h-1zM193 268h1v1h-1zM193 274h1v1h-1zM193 284h1v1h-1zM61 14h2v1h-2zM61 16h2v1h-2zM61 42h2v1h-2zM61 55h2v1h-2zM61 85h2v2h-2zM61 90h2v1h-2zM61 110h2v1h-2zM61 127h2v1h-2zM61 133h2v1h-2zM61 168h2v1h-2zM61 178h2v1h-2zM61 199h2v1h-2zM61 208h2v1h-2zM61 217h2v1h-2zM61 235h2v1h-2zM65 14h2v1h-2zM65 68h2v1h-2zM65 85h2v1h-2zM65 130h2v1h-2zM65 133h2v1h-2zM65 168h2v1h-2zM65 204h2v1h-2zM65 230h2v1h-2zM65 233h2v1h-2zM65 249h2v1h-2zM106 14h1v1h-1zM106 47h1v1h-1zM106 49h1v1h-1zM106 63h1v1h-1zM106 75h1v1h-1zM106 99h1v2h-1zM106 111h1v1h-1zM106 113h1v1h-1zM106 123h1v1h-1zM106 127h1v3h-1zM106 180h1v1h-1zM106 184h1v1h-1zM106 211h1v1h-1zM106 214h1v1h-1zM106 218h1v1h-1zM106 221h1v1h-1zM106 223h1v1h-1zM106 236h1v1h-1zM106 260h1v1h-1zM106 262h1v1h-1zM106 280h1v1h-1zM172 14h2v1h-2zM172 29h2v1h-2zM172 44h2v1h-2zM172 67h2v1h-2zM172 125h2v1h-2zM172 170h2v1h-2zM172 228h2v1h-2zM172 280h2v1h-2zM215 14h2v1h-2zM215 240h2v1h-2zM72 15h1v1h-1zM72 89h1v1h-1zM72 109h1v1h-1zM72 119h1v1h-1zM72 126h1v1h-1zM72 136h1v1h-1zM72 159h1v1h-1zM72 164h1v1h-1zM72 202h1v1h-1zM72 216h1v1h-1zM72 258h1v1h-1zM77 15h1v1h-1zM77 31h1v1h-1zM77 42h1v1h-1zM77 51h1v1h-1zM77 70h1v1h-1zM77 72h1v1h-1zM77 79h1v1h-1zM77 93h1v3h-1zM77 112h1v1h-1zM77 122h1v1h-1zM77 137h1v2h-1zM77 157h1v1h-1zM77 164h1v1h-1zM77 167h1v1h-1zM77 180h1v1h-1zM77 183h1v1h-1zM77 189h1v1h-1zM77 194h1v1h-1zM77 202h1v1h-1zM77 209h1v1h-1zM77 216h1v1h-1zM77 224h1v1h-1zM77 237h1v1h-1zM77 249h1v1h-1zM77 254h1v1h-1zM77 265h1v1h-1zM77 272h1v2h-1zM65 17h1v1h-1zM65 19h1v1h-1zM65 47h1v1h-1zM65 97h1v1h-1zM65 117h1v1h-1zM65 143h1v1h-1zM65 224h1v1h-1zM65 269h1v1h-1zM65 284h1v1h-1zM92 17h1v1h-1zM92 33h1v2h-1zM92 110h1v1h-1zM92 135h1v1h-1zM92 145h1v1h-1zM92 162h1v1h-1zM92 191h1v1h-1zM92 244h1v1h-1zM92 248h1v1h-1zM178 17h2v1h-2zM178 45h2v1h-2zM178 67h2v1h-2zM178 77h2v1h-2zM178 119h2v1h-2zM178 124h2v1h-2zM178 127h2v1h-2zM178 138h2v1h-2zM178 167h2v1h-2zM178 228h2v1h-2zM178 253h2v1h-2zM178 274h2v1h-2zM93 18h1v1h-1zM93 20h1v1h-1zM93 30h1v1h-1zM93 49h1v1h-1zM93 69h1v1h-1zM93 78h1v1h-1zM93 80h1v1h-1zM93 83h1v1h-1zM93 111h1v1h-1zM93 160h1v1h-1zM93 187h1v1h-1zM93 194h1v1h-1zM93 200h1v1h-1zM93 206h1v1h-1zM93 229h1v1h-1zM93 233h1v1h-1zM93 240h1v1h-1zM93 245h1v1h-1zM93 278h1v1h-1zM93 284h1v1h-1zM182 19h1v1h-1zM182 24h1v1h-1zM182 27h1v1h-1zM182 77h1v1h-1zM182 100h1v2h-1zM182 108h1v1h-1zM182 116h1v1h-1zM182 143h1v1h-1zM182 182h1v1h-1zM182 187h1v2h-1zM182 198h1v1h-1zM182 235h1v1h-1zM182 261h1v1h-1zM220 19h1v1h-1zM220 26h1v1h-1zM220 33h1v1h-1zM220 52h1v1h-1zM220 80h1v1h-1zM220 141h1v1h-1zM220 227h1v1h-1zM225 19h2v1h-2zM225 145h2v1h-2zM225 211h2v1h-2zM66 20h1v1h-1zM66 23h1v1h-1zM66 26h1v1h-1zM66 29h1v2h-1zM66 73h1v1h-1zM66 83h1v1h-1zM66 92h1v1h-1zM66 112h1v1h-1zM66 134h1v2h-1zM66 138h1v2h-1zM66 146h1v1h-1zM66 151h1v1h-1zM66 175h1v1h-1zM66 179h1v1h-1zM66 194h1v1h-1zM66 198h1v1h-1zM70 20h3v1h-3zM70 114h3v1h-3zM70 141h3v1h-3zM70 192h3v1h-3zM70 215h3v1h-3zM70 236h3v1h-3zM70 256h3v1h-3zM90 20h2v1h-2zM90 22h2v1h-2zM90 46h2v1h-2zM90 49h2v1h-2zM90 73h2v1h-2zM90 84h2v1h-2zM90 113h2v1h-2zM90 116h2v1h-2zM90 120h2v1h-2zM90 144h2v1h-2zM90 158h2v1h-2zM90 183h2v1h-2zM90 192h2v1h-2zM90 224h2v1h-2zM191 20h2v1h-2zM191 22h2v1h-2zM191 45h2v1h-2zM191 59h2v1h-2zM191 63h2v1h-2zM191 74h2v2h-2zM191 101h2v1h-2zM191 121h2v1h-2zM191 124h2v1h-2zM191 149h2v1h-2zM191 195h2v1h-2zM191 222h2v1h-2zM191 231h2v1h-2zM191 236h2v1h-2zM191 249h2v1h-2zM191 279h2v1h-2zM191 282h2v1h-2zM91 21h4v1h-4zM76 22h1v1h-1zM76 29h1v1h-1zM76 32h1v1h-1zM76 68h1v1h-1zM76 110h1v1h-1zM76 240h1v1h-1zM76 250h1v1h-1zM76 280h1v1h-1zM76 284h1v1h-1zM224 22h3v1h-3zM224 109h3v1h-3zM229 23h1v1h-1zM229 32h1v1h-1zM229 34h1v1h-1zM229 68h1v1h-1zM229 83h1v1h-1zM229 106h1v1h-1zM229 218h1v1h-1zM113 24h2v1h-2zM113 42h2v1h-2zM113 176h2v1h-2zM113 227h2v1h-2zM226 24h2v1h-2zM226 72h2v1h-2zM226 168h2v1h-2zM226 276h2v1h-2zM122 25h1v1h-1zM122 36h1v1h-1zM122 42h1v1h-1zM122 49h1v1h-1zM122 56h1v1h-1zM122 84h1v2h-1zM122 88h1v1h-1zM122 106h1v1h-1zM122 129h1v1h-1zM122 196h1v1h-1zM122 214h1v1h-1zM122 266h1v1h-1zM188 26h4v1h-4zM222 26h1v1h-1zM222 51h1v1h-1zM222 60h1v1h-1zM222 135h1v1h-1zM222 178h1v1h-1zM222 198h1v1h-1zM222 227h1v1h-1zM222 246h1v1h-1zM222 262h1v1h-1zM116 27h3v1h-3zM116 253h3v1h-3zM58 28h1v1h-1zM58 44h1v1h-1zM58 52h1v2h-1zM58 57h1v1h-1zM58 91h1v1h-1zM58 96h1v1h-1zM58 112h1v1h-1zM58 114h1v1h-1zM58 118h1v2h-1zM58 121h1v1h-1zM58 156h1v2h-1zM58 176h1v1h-1zM58 183h1v1h-1zM58 218h1v1h-1zM58 227h1v1h-1zM58 231h1v1h-1zM58 259h1v1h-1zM58 272h1v1h-1zM151 28h1v1h-1zM151 80h1v1h-1zM151 216h1v1h-1zM180 28h3v1h-3zM180 48h3v2h-3zM180 125h3v1h-3zM180 159h3v1h-3zM180 201h3v1h-3zM189 29h2v1h-2zM189 38h2v1h-2zM189 142h2v1h-2zM189 177h2v1h-2zM189 180h2v1h-2zM213 30h3v1h-3zM213 166h3v1h-3zM213 251h3v1h-3zM173 34h1v1h-1zM173 73h1v1h-1zM173 84h1v1h-1zM173 91h1v1h-1zM173 102h1v1h-1zM173 144h1v1h-1zM173 169h1v1h-1zM173 245h1v1h-1zM173 251h1v1h-1zM185 34h1v1h-1zM185 41h1v1h-1zM185 72h1v1h-1zM185 98h1v1h-1zM185 115h1v1h-1zM185 120h1v1h-1zM185 151h1v1h-1zM185 201h1v1h-1zM185 210h1v1h-1zM209 34h1v1h-1zM209 84h1v1h-1zM209 127h1v1h-1zM209 171h1v1h-1zM209 202h1v1h-1zM209 221h1v1h-1zM209 241h1v1h-1zM217 34h3v1h-3zM217 107h3v1h-3zM181 35h1v1h-1zM181 37h1v1h-1zM181 53h1v1h-1zM181 61h1v1h-1zM181 73h1v1h-1zM181 117h1v1h-1zM181 124h1v1h-1zM181 168h1v1h-1zM181 171h1v1h-1zM181 186h1v1h-1zM181 195h1v1h-1zM181 197h1v1h-1zM181 207h1v1h-1zM181 219h1v1h-1zM181 224h1v1h-1zM181 245h1v1h-1zM71 38h2v2h-2zM71 42h2v1h-2zM71 64h2v1h-2zM71 67h2v1h-2zM71 76h2v1h-2zM71 79h2v1h-2zM206 39h1v1h-1zM206 252h1v1h-1zM212 39h2v1h-2zM63 41h1v1h-1zM63 128h1v1h-1zM63 150h1v1h-1zM89 43h1v1h-1zM89 57h1v1h-1zM89 61h1v1h-1zM89 90h1v1h-1zM89 137h1v1h-1zM89 177h1v1h-1zM89 179h1v1h-1zM120 43h1v1h-1zM120 206h1v1h-1zM216 43h2v1h-2zM216 227h2v1h-2zM216 234h2v1h-2zM70 44h2v1h-2zM70 56h2v1h-2zM70 58h2v1h-2zM70 116h2v1h-2zM70 178h2v1h-2zM70 203h2v1h-2zM70 205h2v1h-2zM70 209h2v1h-2zM70 281h2v1h-2zM70 285h2v1h-2zM178 44h3v1h-3zM178 79h3v1h-3zM178 96h3v1h-3zM178 152h3v1h-3zM183 44h2v2h-2zM183 47h2v1h-2zM183 61h2v1h-2zM183 73h2v1h-2zM183 79h2v1h-2zM183 105h2v1h-2zM183 177h2v1h-2zM183 193h2v1h-2zM183 217h2v1h-2zM183 226h2v1h-2zM183 267h2v1h-2zM183 270h2v1h-2zM183 272h2v1h-2zM173 46h2v1h-2zM173 71h2v1h-2zM173 275h2v1h-2zM173 283h2v1h-2zM207 46h2v1h-2zM59 47h1v1h-1zM59 81h1v1h-1zM59 103h1v1h-1zM59 105h1v1h-1zM59 170h1v1h-1zM59 180h1v1h-1zM59 268h1v1h-1zM172 47h4v1h-4zM61 48h3v1h-3zM61 131h3v1h-3zM71 48h1v1h-1zM71 231h1v1h-1zM71 265h1v1h-1zM71 274h1v1h-1zM71 278h1v1h-1zM224 48h2v1h-2zM224 134h2v1h-2zM224 228h2v1h-2zM224 259h2v1h-2zM73 49h1v1h-1zM73 112h1v1h-1zM73 199h1v1h-1zM73 206h1v1h-1zM73 233h1v1h-1zM73 248h1v1h-1zM188 49h1v1h-1zM188 65h1v1h-1zM188 72h1v1h-1zM188 137h1v1h-1zM188 157h1v1h-1zM188 224h1v2h-1zM188 253h1v1h-1zM188 263h1v1h-1zM152 50h1v1h-1zM152 61h1v1h-1zM152 100h1v1h-1zM152 151h1v1h-1zM152 236h1v1h-1zM152 252h1v1h-1zM152 258h1v1h-1zM187 50h2v1h-2zM187 59h2v1h-2zM187 136h2v1h-2zM187 145h2v1h-2zM152 51h2v1h-2zM184 55h3v1h-3zM184 83h3v1h-3zM184 92h3v1h-3zM184 154h3v1h-3zM184 208h3v1h-3zM176 56h2v1h-2zM176 100h2v1h-2zM104 57h2v1h-2zM104 64h2v1h-2zM104 166h2v1h-2zM104 235h2v1h-2zM228 61h1v1h-1zM228 91h1v1h-1zM228 252h1v1h-1zM72 63h2v1h-2zM72 106h2v1h-2zM72 149h2v1h-2zM72 156h2v1h-2zM72 163h2v1h-2zM72 184h2v1h-2zM114 63h1v1h-1zM114 114h1v1h-1zM114 118h1v1h-1zM114 120h1v1h-1zM114 138h1v1h-1zM114 150h1v1h-1zM114 153h1v1h-1zM114 194h1v1h-1zM114 237h1v1h-1zM114 263h1v1h-1zM114 269h1v1h-1zM114 277h1v1h-1zM175 68h2v1h-2zM175 251h2v1h-2zM116 69h2v1h-2zM116 76h2v1h-2zM116 236h2v1h-2zM186 69h3v1h-3zM186 96h3v1h-3zM186 118h3v1h-3zM186 176h3v1h-3zM186 184h3v1h-3zM186 200h3v1h-3zM186 209h3v1h-3zM186 236h3v1h-3zM186 282h3v1h-3zM184 78h2v1h-2zM184 112h2v1h-2zM184 125h2v1h-2zM184 129h2v1h-2zM184 141h2v1h-2zM184 147h2v1h-2zM184 196h2v1h-2zM184 246h2v1h-2zM184 258h2v2h-2zM184 284h2v1h-2zM99 79h2v1h-2zM99 86h2v1h-2zM123 81h1v1h-1zM123 121h1v1h-1zM123 131h1v1h-1zM123 136h1v1h-1zM123 174h1v1h-1zM123 199h1v1h-1zM123 225h1v1h-1zM123 249h1v1h-1zM192 81h2v1h-2zM192 91h2v1h-2zM192 103h2v1h-2zM192 127h2v1h-2zM192 166h2v1h-2zM206 85h3v1h-3zM185 86h2v1h-2zM185 93h2v1h-2zM185 114h2v1h-2zM185 228h2v1h-2zM228 86h2v1h-2zM228 167h2v1h-2zM228 223h2v1h-2zM228 249h2v1h-2zM62 88h2v1h-2zM62 160h2v1h-2zM62 206h2v1h-2zM90 88h4v1h-4zM90 210h4v1h-4zM185 88h3v1h-3zM185 161h3v1h-3zM88 89h2v1h-2zM88 198h2v1h-2zM182 94h2v1h-2zM182 114h2v1h-2zM182 274h2v1h-2zM154 100h1v1h-1zM154 105h1v1h-1zM154 236h1v1h-1zM154 267h1v1h-1zM212 103h1v1h-1zM212 215h1v1h-1zM173 104h4v1h-4zM8 106h1v1h-1zM8 239h1v1h-1zM178 107h5v1h-5zM188 109h2v1h-2zM188 143h2v1h-2zM188 193h2v1h-2zM188 240h2v1h-2zM191 110h3v1h-3zM191 130h3v1h-3zM191 176h3v1h-3zM191 235h3v1h-3zM83 113h1v1h-1zM83 228h1v1h-1zM174 117h2v1h-2zM174 183h2v1h-2zM174 202h2v1h-2zM174 221h2v1h-2zM174 237h2v1h-2zM230 118h1v1h-1zM230 127h1v1h-1zM230 136h1v1h-1zM230 184h1v1h-1zM97 120h1v1h-1zM97 137h1v1h-1zM97 144h1v1h-1zM97 212h1v1h-1zM97 236h1v1h-1zM97 240h1v1h-1zM97 261h1v1h-1zM97 265h1v1h-1zM216 121h1v1h-1zM216 220h1v1h-1zM155 124h2v1h-2zM155 169h2v1h-2zM100 127h1v1h-1zM100 285h1v1h-1zM151 127h2v1h-2zM151 201h2v1h-2zM151 281h2v1h-2zM104 128h1v1h-1zM71 134h3v1h-3zM71 263h3v1h-3zM177 137h1v1h-1zM177 169h1v1h-1zM177 256h1v1h-1zM211 137h1v1h-1zM211 146h1v1h-1zM211 171h1v1h-1zM211 202h1v1h-1zM211 220h1v1h-1zM211 228h1v1h-1zM225 139h3v1h-3zM77 142h2v1h-2zM84 147h1v1h-1zM11 149h1v1h-1zM229 154h2v1h-2zM229 260h2v1h-2zM210 156h3v1h-3zM219 156h2v1h-2zM219 234h2v1h-2zM178 163h4v1h-4zM173 175h3v1h-3zM173 177h3v1h-3zM173 263h3v1h-3zM183 180h3v1h-3zM208 185h2v1h-2zM208 228h2v1h-2zM223 192h3v1h-3zM223 270h3v1h-3zM223 201h1v1h-1zM222 203h2v1h-2zM188 208h3v1h-3zM210 216h2v1h-2zM189 218h3v1h-3zM228 219h3v1h-3zM183 225h4v1h-4zM190 225h3v1h-3zM216 230h4v1h-4zM211 233h2v1h-2zM153 238h3v1h-3zM211 238h3v1h-3zM187 246h3v1h-3zM187 273h3v1h-3zM152 259h5v1h-5zM155 270h1v1h-1zM208 272h3v1h-3zM113 273h1v1h-1zM216 273h3v1h-3z"/>
<path fill="#2e6f8e" d="M66 0h1v1h-1zM66 9h1v1h-1zM66 53h1v1h-1zM66 80h1v1h-1zM66 87h1v1h-1zM66 93h1v1h-1zM66 102h1v2h-1zM66 173h1v1h-1zM66 180h1v1h-1zM66 224h1v1h-1zM66 259h1v1h-1zM66 269h1v1h-1zM66 271h1v1h-1zM66 278h1v1h-1zM82 0h1v1h-1zM82 12h1v1h-1zM82 42h1v1h-1zM82 45h1v1h-1zM82 52h1v1h-1zM82 74h1v1h-1zM82 88h1v1h-1zM82 101h1v1h-1zM82 108h1v2h-1zM82 115h1v1h-1zM82 117h1v1h-1zM82 122h1v1h-1zM82 124h1v2h-1zM82 148h1v1h-1zM82 156h1v1h-1zM82 166h1v1h-1zM82 204h1v1h-1zM82 207h1v1h-1zM82 239h1v1h-1zM82 241h1v1h-1zM82 272h1v1h-1zM82 285h1v1h-1zM86 0h1v1h-1zM86 12h1v1h-1zM86 20h1v1h-1zM86 24h1v1h-1zM86 29h1v1h-1zM86 39h1v1h-1zM86 57h1v1h-1zM86 63h1v1h-1zM86 106h1v1h-1zM86 118h1v1h-1zM86 131h1v1h-1zM86 140h1v1h-1zM86 145h1v1h-1zM86 148h1v1h-1zM86 158h1v1h-1zM86 165h1v1h-1zM86 170h1v1h-1zM86 181h1v1h-1zM86 193h1v2h-1zM86 206h1v1h-1zM86 208h1v1h-1zM86 215h1v1h-1zM86 236h1v1h-1zM86 244h1v1h-1zM86 249h1v1h-1zM86 260h1v1h-1zM86 262h1v1h-1zM86 278h1v2h-1zM86 284h1v1h-1zM88 0h1v2h-1zM88 7h1v1h-1zM88 24h1v1h-1zM88 52h1v1h-1zM88 60h1v1h-1zM88 93h1v1h-1zM88 116h1v1h-1zM88 123h1v1h-1zM88 125h1v1h-1zM88 152h1v1h-1zM88 158h1v1h-1zM88 190h1v1h-1zM88 192h1v1h-1zM88 194h1v1h-1zM88 197h1v1h-1zM88 201h1v1h-1zM88 205h1v1h-1zM88 213h1v1h-1zM88 229h1v1h-1zM88 237h1v1h-1zM88 240h1v2h-1zM88 244h1v1h-1zM88 257h1v1h-1zM88 262h1v1h-1zM88 267h1v1h-1zM88 274h1v1h-1zM88 280h1v1h-1zM116 0h1v1h-1zM116 3h1v1h-1zM116 12h1v1h-1zM116 34h1v1h-1zM116 85h1v1h-1zM116 105h1v1h-1zM116 163h1v1h-1zM116 212h1v1h-1zM116 242h1v1h-1zM116 249h1v1h-1zM116 279h1v1h-1zM124 0h2v1h-2zM124 8h2v1h-2zM124 18h2v1h-2zM124 30h2v1h-2zM124 33h2v1h-2zM124 35h2v1h-2zM124 39h2v1h-2zM124 52h2v1h-2zM124 74h2v1h-2zM124 88h2v1h-2zM124 93h2v1h-2zM124 96h2v1h-2zM124 104h2v1h-2zM124 106h2v1h-2zM124 113h2v1h-2zM124 127h2v1h-2zM124 139h2v1h-2zM124 161h2v2h-2zM124 169h2v1h-2zM124 173h2v1h-2zM124 182h2v1h-2zM124 197h2v1h-2zM124 202h2v1h-2zM124 211h2v2h-2zM124 231h2v1h-2zM124 236h2v1h-2zM124 249h2v1h-2zM124 271h2v1h-2zM124 281h2v1h-2zM124 285h2v1h-2zM231 0h1v1h-1zM231 4h1v2h-1zM231 7h1v1h-1zM231 26h1v1h-1zM231 34h1v1h-1zM231 38h1v1h-1zM231 55h1v1h-1zM231 60h1v1h-1zM231 62h1v1h-1zM231 66h1v1h-1zM231 75h1v1h-1zM231 81h1v1h-1zM231 94h1v1h-1zM231 113h1v1h-1zM231 117h1v1h-1zM231 119h1v1h-1zM231 145h1v1h-1zM231 153h1v2h-1zM231 156h1v2h-1zM231 160h1v1h-1zM231 166h1v1h-1zM231 189h1v1h-1zM231 196h1v1h-1zM231 212h1v1h-1zM231 216h1v1h-1zM231 218h1v2h-1zM231 222h1v1h-1zM231 230h1v1h-1zM231 232h1v1h-1zM231 237h1v1h-1zM231 244h1v1h-1zM231 263h1v1h-1zM231 265h1v1h-1zM231 268h1v1h-1zM231 277h1v1h-1zM231 279h1v2h-1zM92 1h2v1h-2zM92 84h2v1h-2zM92 159h2v1h-2zM92 237h2v1h-2zM92 262h2v1h-2zM102 1h2v1h-2zM102 46h2v1h-2zM102 64h2v1h-2zM102 83h2v1h-2zM102 85h2v1h-2zM102 99h2v1h-2zM102 153h2v1h-2zM102 162h2v1h-2zM102 173h2v1h-2zM102 231h2v1h-2zM102 239h2v1h-2zM102 261h2v1h-2zM102 263h2v1h-2zM102 270h2v1h-2zM153 1h1v2h-1zM153 14h1v2h-1zM153 18h1v1h-1zM153 21h1v1h-1zM153 30h1v1h-1zM153 38h1v1h-1zM153 45h1v1h-1zM153 48h1v1h-1zM153 55h1v1h-1zM153 77h1v1h-1zM153 80h1v1h-1zM153 84h1v1h-1zM153 94h1v1h-1zM153 104h1v1h-1zM153 107h1v1h-1zM153 114h1v1h-1zM153 120h1v1h-1zM153 123h1v3h-1zM153 131h1v1h-1zM153 133h1v1h-1zM153 137h1v1h-1zM153 149h1v1h-1zM153 153h1v1h-1zM153 155h1v1h-1zM153 160h1v1h-1zM153 163h1v2h-1zM153 168h1v1h-1zM153 172h1v1h-1zM153 183h1v1h-1zM153 185h1v1h-1zM153 187h1v1h-1zM153 195h1v1h-1zM153 208h1v1h-1zM153 213h1v1h-1zM153 215h1v4h-1zM153 221h1v1h-1zM153 231h1v1h-1zM153 237h1v1h-1zM153 242h1v1h-1zM153 248h1v1h-1zM153 250h1v1h-1zM153 261h1v2h-1zM153 278h1v1h-1zM153 284h1v1h-1zM189 1h1v1h-1zM189 3h1v1h-1zM189 77h1v2h-1zM189 83h1v1h-1zM189 125h1v1h-1zM189 128h1v1h-1zM189 146h1v1h-1zM189 210h1v1h-1zM189 250h1v1h-1zM189 256h1v1h-1zM189 270h1v1h-1zM3 2h1v1h-1zM3 28h1v1h-1zM3 51h1v1h-1zM3 58h1v1h-1zM3 63h1v1h-1zM3 140h1v1h-1zM3 192h1v2h-1zM3 208h1v1h-1zM3 249h1v1h-1zM59 2h1v1h-1zM59 17h1v1h-1zM59 60h1v1h-1zM59 67h1v1h-1zM59 116h1v1h-1zM59 118h1v1h-1zM59 121h1v1h-1zM59 130h1v1h-1zM59 176h1v1h-1zM59 211h1v1h-1zM59 226h1v1h-1zM59 231h1v1h-1zM59 235h1v1h-1zM59 272h1v1h-1zM79 2h3v1h-3zM79 24h3v1h-3zM79 212h3v1h-3zM95 2h1v1h-1zM95 7h1v1h-1zM95 17h1v1h-1zM95 24h1v1h-1zM95 28h1v1h-1zM95 30h1v1h-1zM95 36h1v1h-1zM95 49h1v1h-1zM95 60h1v1h-1zM95 69h1v1h-1zM95 75h1v1h-1zM95 78h1v1h-1zM95 84h1v2h-1zM95 90h1v1h-1zM95 101h1v1h-1zM95 105h1v1h-1zM95 108h1v1h-1zM95 111h1v1h-1zM95 133h1v1h-1zM95 138h1v2h-1zM95 149h1v1h-1zM95 151h1v1h-1zM95 168h1v1h-1zM95 172h1v1h-1zM95 196h1v1h-1zM95 198h1v1h-1zM95 200h1v1h-1zM95 206h1v1h-1zM95 229h1v1h-1zM95 237h1v1h-1zM95 245h1v1h-1zM95 247h1v1h-1zM95 256h1v3h-1zM95 262h1v1h-1zM95 268h1v1h-1zM95 271h1v1h-1zM95 278h1v1h-1zM95 280h1v1h-1zM101 2h1v1h-1zM101 65h1v1h-1zM101 142h1v1h-1zM101 152h1v1h-1zM101 159h1v1h-1zM155 2h1v1h-1zM155 5h1v1h-1zM155 14h1v1h-1zM155 21h1v1h-1zM155 30h1v1h-1zM155 47h1v2h-1zM155 50h1v1h-1zM155 56h1v1h-1zM155 77h1v1h-1zM155 98h1v1h-1zM155 106h1v1h-1zM155 108h1v1h-1zM155 114h1v1h-1zM155 116h1v1h-1zM155 127h1v1h-1zM155 162h1v1h-1zM155 168h1v1h-1zM155 178h1v1h-1zM155 190h1v1h-1zM155 216h1v1h-1zM155 221h1v1h-1zM155 224h1v1h-1zM155 239h1v1h-1zM155 247h1v1h-1zM177 2h1v1h-1zM177 19h1v1h-1zM177 27h1v1h-1zM177 36h1v1h-1zM177 77h1v1h-1zM177 79h1v1h-1zM177 85h1v1h-1zM177 104h1v1h-1zM177 109h1v1h-1zM177 120h1v2h-1zM177 124h1v1h-1zM177 135h1v1h-1zM177 141h1v1h-1zM177 148h1v1h-1zM177 157h1v1h-1zM177 167h1v1h-1zM177 170h1v1h-1zM177 176h1v1h-1zM177 204h1v1h-1zM177 211h1v1h-1zM177 228h1v1h-1zM177 231h1v1h-1zM177 236h1v1h-1zM177 238h1v1h-1zM177 242h1v1h-1zM177 253h1v1h-1zM177 268h1v1h-1zM177 274h1v1h-1zM179 2h1v1h-1zM179 23h1v1h-1zM179 36h1v1h-1zM179 52h1v1h-1zM179 99h1v1h-1zM179 122h1v1h-1zM179 144h1v1h-1zM179 150h1v1h-1zM179 173h1v1h-1zM179 204h1v1h-1zM179 218h1v1h-1zM179 249h1v2h-1zM187 2h2v1h-2zM187 5h2v1h-2zM187 36h2v1h-2zM187 73h2v1h-2zM187 177h2v1h-2zM187 199h2v1h-2zM187 257h2v1h-2zM187 260h2v1h-2zM187 280h2v1h-2zM187 284h2v2h-2zM7 3h1v1h-1zM7 24h1v1h-1zM7 45h1v1h-1zM7 76h1v2h-1zM7 82h1v1h-1zM7 99h1v1h-1zM7 102h1v1h-1zM7 111h1v1h-1zM7 120h1v1h-1zM7 184h1v1h-1zM7 218h1v1h-1zM7 235h1v1h-1zM7 276h1v1h-1zM113 3h1v1h-1zM113 33h1v1h-1zM113 74h1v1h-1zM113 107h1v1h-1zM113 138h1v1h-1zM113 158h1v1h-1zM113 237h1v1h-1zM113 248h1v1h-1zM113 252h1v1h-1zM113 257h1v1h-1zM113 264h1v1h-1zM113 277h1v1h-1zM120 3h2v1h-2zM120 17h2v1h-2zM120 27h2v1h-2zM120 57h2v1h-2zM120 65h2v1h-2zM120 94h2v1h-2zM120 100h2v1h-2zM120 133h2v1h-2zM120 141h2v1h-2zM120 160h2v1h-2zM120 162h2v1h-2zM120 183h2v1h-2zM120 199h2v1h-2zM120 219h2v1h-2zM120 259h2v1h-2zM120 265h2v1h-2zM120 278h2v1h-2zM120 285h2v1h-2zM3 4h3v1h-3zM62 4h2v1h-2zM62 6h2v1h-2zM62 38h2v1h-2zM62 173h2v1h-2zM62 177h2v1h-2zM62 194h2v1h-2zM62 203h2v1h-2zM62 245h2v1h-2zM62 271h2v1h-2zM68 4h1v1h-1zM68 30h1v1h-1zM68 56h1v1h-1zM68 102h1v1h-1zM68 104h1v1h-1zM68 162h1v2h-1zM68 189h1v1h-1zM68 199h1v1h-1zM68 208h1v1h-1zM68 210h1v1h-1zM68 218h1v1h-1zM68 226h1v1h-1zM68 232h1v1h-1zM68 256h1v1h-1zM68 278h1v1h-1zM68 280h1v1h-1zM106 4h1v1h-1zM106 10h1v1h-1zM106 23h1v1h-1zM106 35h1v1h-1zM106 38h1v1h-1zM106 41h1v1h-1zM106 43h1v2h-1zM106 56h1v1h-1zM106 73h1v1h-1zM106 85h1v1h-1zM106 109h1v1h-1zM106 162h1v1h-1zM106 173h1v1h-1zM106 204h1v1h-1zM106 213h1v1h-1zM106 281h1v1h-1zM124 4h1v1h-1zM124 14h1v1h-1zM124 21h1v1h-1zM124 36h1v1h-1zM124 47h1v1h-1zM124 53h1v1h-1zM124 71h1v1h-1zM124 90h1v1h-1zM124 98h1v1h-1zM124 108h1v1h-1zM124 115h1v1h-1zM124 134h1v1h-1zM124 140h1v1h-1zM124 146h1v1h-1zM124 165h1v1h-1zM124 167h1v1h-1zM124 185h1v2h-1zM124 190h1v1h-1zM124 207h1v1h-1zM124 226h1v1h-1zM124 228h1v1h-1zM124 277h1v1h-1zM124 280h1v1h-1zM124 284h1v1h-1zM189 4h2v1h-2zM189 12h2v1h-2zM189 47h2v1h-2zM189 242h2v1h-2zM189 253h2v1h-2zM189 282h2v1h-2zM4 5h1v1h-1zM4 22h1v1h-1zM4 31h1v1h-1zM4 80h1v1h-1zM4 104h1v1h-1zM4 215h1v1h-1zM4 255h1v1h-1zM4 281h1v1h-1zM81 5h1v1h-1zM81 19h1v1h-1zM81 29h1v1h-1zM81 46h1v1h-1zM81 87h1v1h-1zM81 158h1v1h-1zM81 209h1v1h-1zM81 225h1v1h-1zM81 229h1v1h-1zM81 250h1v1h-1zM81 267h1v1h-1zM81 284h1v1h-1zM87 5h1v1h-1zM87 8h1v1h-1zM87 22h1v2h-1zM87 46h1v1h-1zM87 48h1v1h-1zM87 58h1v2h-1zM87 61h1v1h-1zM87 76h1v1h-1zM87 83h1v1h-1zM87 88h1v2h-1zM87 92h1v1h-1zM87 99h1v1h-1zM87 105h1v1h-1zM87 110h1v1h-1zM87 114h1v2h-1zM87 119h1v1h-1zM87 141h1v1h-1zM87 143h1v1h-1zM87 150h1v1h-1zM87 155h1v1h-1zM87 163h1v1h-1zM87 172h1v1h-1zM87 189h1v1h-1zM87 198h1v1h-1zM87 202h1v1h-1zM87 212h1v1h-1zM87 220h1v1h-1zM87 233h1v1h-1zM87 239h1v1h-1zM87 243h1v1h-1zM87 250h1v1h-1zM87 255h1v2h-1zM87 272h1v1h-1zM87 275h1v1h-1zM87 281h1v1h-1zM87 283h1v1h-1zM190 5h1v1h-1zM190 34h1v1h-1zM190 45h1v1h-1zM190 75h1v2h-1zM190 90h1v1h-1zM190 106h1v1h-1zM190 109h1v1h-1zM190 114h1v1h-1zM190 143h1v1h-1zM190 149h1v2h-1zM190 168h1v2h-1zM190 183h1v1h-1zM190 227h1v1h-1zM190 231h1v1h-1zM190 235h1v2h-1zM190 246h1v1h-1zM190 251h1v1h-1zM190 279h1v1h-1zM66 6h3v1h-3zM81 6h2v1h-2zM81 26h2v1h-2zM81 55h2v1h-2zM81 77h2v1h-2zM81 128h2v2h-2zM81 137h2v1h-2zM81 170h2v2h-2zM81 190h2v1h-2zM81 196h2v1h-2zM81 205h2v1h-2zM81 226h2v1h-2zM81 233h2v1h-2zM81 275h2v1h-2zM121 6h1v1h-1zM121 32h1v1h-1zM121 87h1v1h-1zM121 93h1v1h-1zM121 143h1v1h-1zM121 163h1v1h-1zM121 172h1v1h-1zM121 181h1v1h-1zM121 211h1v1h-1zM121 223h1v1h-1zM121 227h1v1h-1zM121 248h1v2h-1zM64 7h2v1h-2zM64 31h2v1h-2zM64 36h2v1h-2zM64 42h2v1h-2zM64 78h2v1h-2zM64 100h2v1h-2zM64 104h2v1h-2zM64 110h2v1h-2zM64 128h2v1h-2zM64 138h2v1h-2zM64 252h2v1h-2zM64 270h2v1h-2zM64 272h2v1h-2zM64 283h2v1h-2zM117 7h1v2h-1zM117 23h1v1h-1zM117 120h1v1h-1zM117 142h1v1h-1zM117 175h1v1h-1zM117 190h1v1h-1zM117 211h1v1h-1zM117 213h1v1h-1zM117 235h1v1h-1zM117 241h1v1h-1zM117 265h1v1h-1zM117 281h1v1h-1zM125 7h1v1h-1zM125 57h1v1h-1zM125 78h1v1h-1zM125 86h1v1h-1zM125 120h1v1h-1zM125 122h1v1h-1zM125 149h1v1h-1zM125 227h1v1h-1zM125 251h1v1h-1zM125 258h1v1h-1zM125 263h1v1h-1zM125 282h1v1h-1zM5 8h1v1h-1zM5 15h1v1h-1zM5 26h1v1h-1zM5 45h1v1h-1zM5 50h1v1h-1zM5 53h1v1h-1zM5 98h1v1h-1zM5 109h1v1h-1zM5 127h1v1h-1zM5 135h1v1h-1zM5 177h1v1h-1zM5 181h1v1h-1zM5 195h1v1h-1zM5 205h1v1h-1zM5 214h1v1h-1zM5 222h1v2h-1zM5 228h1v1h-1zM5 230h1v1h-1zM5 256h1v1h-1zM5 264h1v1h-1zM5 266h1v1h-1zM5 275h1v1h-1zM5 282h1v1h-1zM5 284h1v1h-1zM60 8h1v2h-1zM60 14h1v1h-1zM60 41h1v2h-1zM60 58h1v1h-1zM60 85h1v1h-1zM60 88h1v1h-1zM60 90h1v1h-1zM60 92h1v1h-1zM60 98h1v1h-1zM60 108h1v1h-1zM60 110h1v1h-1zM60 117h1v1h-1zM60 128h1v1h-1zM60 131h1v1h-1zM60 142h1v1h-1zM60 180h1v1h-1zM60 195h1v2h-1zM60 201h1v1h-1zM60 204h1v1h-1zM60 208h1v1h-1zM60 210h1v1h-1zM60 219h1v1h-1zM60 223h1v1h-1zM60 229h1v1h-1zM60 234h1v1h-1zM60 244h1v2h-1zM60 263h1v1h-1zM60 268h1v1h-1zM75 8h1v1h-1zM75 22h1v1h-1zM75 75h1v1h-1zM75 87h1v1h-1zM75 108h1v1h-1zM75 110h1v1h-1zM75 153h1v1h-1zM75 276h1v1h-1zM75 278h1v1h-1zM97 8h2v1h-2zM97 30h2v1h-2zM97 34h2v1h-2zM97 39h2v1h-2zM97 80h2v1h-2zM97 85h2v1h-2zM97 139h2v1h-2zM97 205h2v1h-2zM97 232h2v1h-2zM112 8h1v1h-1zM112 26h1v1h-1zM112 47h1v1h-1zM112 69h1v1h-1zM112 176h1v1h-1zM112 198h1v1h-1zM112 224h1v1h-1zM112 227h1v1h-1zM112 273h1v1h-1zM193 8h1v1h-1zM193 45h1v1h-1zM193 87h1v1h-1zM193 147h1v1h-1zM193 195h1v1h-1zM193 203h1v1h-1zM193 236h1v1h-1zM85 9h1v1h-1zM85 33h1v1h-1zM85 58h1v1h-1zM85 61h1v1h-1zM85 108h1v1h-1zM85 150h1v1h-1zM85 162h1v2h-1zM85 224h1v1h-1zM85 241h1v1h-1zM85 283h1v1h-1zM109 9h2v1h-2zM109 30h2v1h-2zM109 41h2v1h-2zM109 49h2v1h-2zM109 53h2v1h-2zM109 64h2v1h-2zM109 74h2v1h-2zM109 80h2v2h-2zM109 106h2v1h-2zM109 120h2v1h-2zM109 172h2v1h-2zM109 236h2v1h-2zM109 242h2v1h-2zM109 258h2v1h-2zM109 282h2v1h-2zM176 9h1v1h-1zM176 42h1v1h-1zM176 70h1v1h-1zM176 101h1v1h-1zM176 117h1v3h-1zM176 136h1v1h-1zM176 143h1v1h-1zM176 145h1v1h-1zM176 153h1v1h-1zM176 161h1v1h-1zM176 165h1v1h-1zM176 169h1v1h-1zM176 177h1v1h-1zM176 183h1v2h-1zM176 216h1v1h-1zM176 240h1v1h-1zM176 250h1v1h-1zM176 255h1v1h-1zM176 264h1v1h-1zM176 269h1v2h-1zM183 9h1v1h-1zM183 58h1v1h-1zM183 62h1v1h-1zM183 66h1v1h-1zM183 74h1v1h-1zM183 77h1v2h-1zM183 101h1v1h-1zM183 107h1v1h-1zM183 112h1v1h-1zM183 116h1v1h-1zM183 125h1v1h-1zM183 129h1v1h-1zM183 139h1v1h-1zM183 141h1v1h-1zM183 143h1v1h-1zM183 156h1v1h-1zM183 160h1v1h-1zM183 191h1v1h-1zM183 196h1v1h-1zM183 235h1v1h-1zM183 245h1v1h-1zM183 259h1v1h-1zM183 269h1v1h-1zM188 9h1v1h-1zM188 18h1v1h-1zM188 29h1v1h-1zM188 37h1v1h-1zM188 54h1v1h-1zM188 76h1v1h-1zM188 91h1v1h-1zM188 94h1v1h-1zM188 142h1v1h-1zM188 192h1v1h-1zM188 202h1v1h-1zM188 214h1v2h-1zM188 231h1v1h-1zM188 262h1v1h-1zM58 10h1v1h-1zM58 43h1v1h-1zM58 103h1v1h-1zM58 140h1v1h-1zM58 159h1v1h-1zM58 163h1v1h-1zM58 167h1v1h-1zM58 180h1v1h-1zM58 200h1v1h-1zM58 232h1v1h-1zM58 271h1v1h-1zM58 284h1v1h-1zM116 10h3v1h-3zM116 57h3v1h-3zM116 101h3v1h-3zM116 133h3v1h-3zM116 165h3v1h-3zM116 184h3v1h-3zM61 11h1v1h-1zM61 18h1v1h-1zM61 32h1v1h-1zM61 60h1v1h-1zM61 63h1v1h-1zM61 67h1v1h-1zM61 73h1v1h-1zM61 84h1v1h-1zM61 116h1v1h-1zM61 130h1v1h-1zM61 162h1v1h-1zM61 231h1v1h-1zM61 254h1v1h-1zM63 11h1v1h-1zM63 16h1v1h-1zM63 18h1v1h-1zM63 58h1v1h-1zM63 63h1v1h-1zM63 82h1v1h-1zM63 89h1v2h-1zM63 95h1v1h-1zM63 99h1v1h-1zM63 103h1v1h-1zM63 105h1v1h-1zM63 107h1v1h-1zM63 111h1v1h-1zM63 127h1v1h-1zM63 136h1v1h-1zM63 155h1v2h-1zM63 161h1v1h-1zM63 166h1v1h-1zM63 168h1v1h-1zM63 176h1v1h-1zM63 192h1v1h-1zM63 195h1v1h-1zM63 199h1v1h-1zM63 208h1v1h-1zM63 215h1v1h-1zM63 217h1v1h-1zM63 220h1v1h-1zM63 235h1v1h-1zM63 258h1v1h-1zM63 278h1v1h-1zM65 11h1v1h-1zM65 35h1v1h-1zM65 99h1v1h-1zM65 106h1v1h-1zM65 215h1v1h-1zM65 218h1v1h-1zM114 11h2v1h-2zM114 160h2v1h-2zM178 11h2v1h-2zM178 116h2v1h-2zM178 189h2v1h-2zM178 216h2v1h-2zM218 11h2v1h-2zM218 19h2v1h-2zM218 86h2v1h-2zM218 263h2v1h-2zM67 12h1v1h-1zM67 61h1v1h-1zM67 68h1v1h-1zM67 72h1v1h-1zM67 83h1v1h-1zM67 85h1v1h-1zM67 92h1v1h-1zM67 109h1v1h-1zM67 134h1v1h-1zM67 194h1v1h-1zM67 198h1v1h-1zM67 204h1v1h-1zM67 249h1v1h-1zM67 264h1v1h-1zM67 267h1v1h-1zM67 276h1v1h-1zM78 12h2v1h-2zM78 26h2v1h-2zM78 34h2v1h-2zM78 52h2v1h-2zM78 92h2v3h-2zM78 112h2v1h-2zM78 114h2v1h-2zM78 129h2v1h-2zM78 138h2v1h-2zM78 144h2v1h-2zM78 158h2v1h-2zM78 183h2v1h-2zM78 233h2v1h-2zM78 270h2v1h-2zM78 284h2v1h-2zM113 12h2v1h-2zM113 46h2v1h-2zM113 49h2v1h-2zM113 53h2v1h-2zM113 65h2v1h-2zM113 75h2v1h-2zM113 97h2v1h-2zM113 103h2v1h-2zM113 115h2v1h-2zM113 142h2v1h-2zM113 155h2v1h-2zM113 161h2v1h-2zM113 171h2v1h-2zM113 177h2v1h-2zM113 219h2v1h-2zM113 228h2v1h-2zM113 249h2v1h-2zM110 13h1v1h-1zM110 35h1v1h-1zM110 128h1v1h-1zM110 155h1v1h-1zM110 174h1v1h-1zM110 184h1v1h-1zM110 193h1v1h-1zM110 221h1v1h-1zM110 232h1v1h-1zM110 249h1v1h-1zM110 260h1v1h-1zM110 264h1v1h-1zM110 267h1v1h-1zM110 269h1v1h-1zM110 281h1v1h-1zM115 13h1v1h-1zM115 24h1v1h-1zM115 26h1v1h-1zM115 29h1v1h-1zM115 42h1v1h-1zM115 60h1v1h-1zM115 82h1v1h-1zM115 114h1v1h-1zM115 116h1v1h-1zM115 134h1v1h-1zM115 138h1v1h-1zM115 141h1v1h-1zM115 199h1v1h-1zM115 226h1v1h-1zM115 254h1v1h-1zM115 263h1v1h-1zM115 269h1v1h-1zM115 271h1v1h-1zM115 277h1v1h-1zM118 13h1v1h-1zM118 24h1v1h-1zM118 35h1v1h-1zM118 47h1v1h-1zM118 60h1v1h-1zM118 105h1v1h-1zM118 107h1v1h-1zM118 117h1v1h-1zM118 145h1v1h-1zM118 147h1v1h-1zM118 159h1v1h-1zM118 167h1v1h-1zM118 169h1v1h-1zM118 171h1v1h-1zM118 185h1v1h-1zM118 225h1v1h-1zM118 231h1v1h-1zM118 277h1v1h-1zM118 285h1v1h-1zM120 13h1v1h-1zM120 23h1v1h-1zM120 90h1v1h-1zM120 117h1v2h-1zM120 159h1v1h-1zM120 167h1v1h-1zM120 171h1v1h-1zM120 201h1v2h-1zM120 210h1v1h-1zM120 215h1v1h-1zM120 237h1v1h-1zM120 239h1v1h-1zM120 271h1v1h-1zM120 279h1v1h-1zM120 281h1v1h-1zM70 14h1v1h-1zM70 34h1v1h-1zM70 38h1v1h-1zM70 60h1v1h-1zM70 76h1v1h-1zM70 81h1v1h-1zM70 87h1v1h-1zM70 93h1v1h-1zM70 97h1v1h-1zM70 104h1v1h-1zM70 158h1v1h-1zM70 162h1v2h-1zM70 167h1v1h-1zM70 170h1v1h-1zM70 176h1v1h-1zM70 183h1v1h-1zM70 195h1v1h-1zM70 222h1v1h-1zM70 224h1v1h-1zM70 232h1v1h-1zM70 240h1v1h-1zM70 253h1v1h-1zM70 265h1v1h-1zM70 268h1v1h-1zM70 278h1v1h-1zM103 14h1v1h-1zM103 16h1v1h-1zM103 37h1v1h-1zM103 49h1v1h-1zM103 87h1v1h-1zM103 120h1v1h-1zM103 129h1v1h-1zM103 136h1v1h-1zM103 144h1v1h-1zM103 152h1v1h-1zM103 181h1v1h-1zM103 252h1v1h-1zM103 264h1v1h-1zM103 273h1v1h-1zM107 14h1v2h-1zM107 17h1v1h-1zM107 45h1v1h-1zM107 47h1v1h-1zM107 62h1v2h-1zM107 69h1v1h-1zM107 75h1v1h-1zM107 103h1v1h-1zM107 111h1v1h-1zM107 113h1v1h-1zM107 122h1v2h-1zM107 127h1v2h-1zM107 133h1v1h-1zM107 174h1v1h-1zM107 182h1v1h-1zM107 191h1v1h-1zM107 211h1v1h-1zM107 216h1v1h-1zM107 218h1v1h-1zM107 240h1v1h-1zM107 262h1v1h-1zM107 265h1v1h-1zM107 280h1v1h-1zM107 285h1v1h-1zM214 14h1v1h-1zM214 116h1v1h-1zM214 240h1v1h-1zM214 242h1v1h-1zM214 261h1v1h-1zM70 15h2v1h-2zM70 21h2v1h-2zM70 26h2v1h-2zM70 29h2v1h-2zM70 59h2v1h-2zM70 120h2v1h-2zM70 133h2v1h-2zM70 136h2v1h-2zM70 152h2v1h-2zM70 156h2v1h-2zM70 189h2v1h-2zM73 15h2v1h-2zM73 109h2v1h-2zM73 185h2v1h-2zM73 217h2v1h-2zM76 15h1v1h-1zM76 26h1v1h-1zM76 31h1v1h-1zM76 33h1v2h-1zM76 42h1v1h-1zM76 72h1v1h-1zM76 79h1v1h-1zM76 84h1v1h-1zM76 94h1v2h-1zM76 102h1v1h-1zM76 148h1v1h-1zM76 189h1v1h-1zM76 209h1v1h-1zM76 221h1v1h-1zM76 237h1v1h-1zM76 261h1v1h-1zM76 274h1v1h-1zM73 16h1v1h-1zM73 39h1v1h-1zM73 52h1v1h-1zM73 67h1v1h-1zM73 71h1v1h-1zM73 76h1v1h-1zM73 79h1v1h-1zM73 101h1v1h-1zM73 113h1v1h-1zM73 119h1v1h-1zM73 136h1v1h-1zM73 138h1v1h-1zM73 140h1v2h-1zM73 159h1v1h-1zM73 164h1v1h-1zM73 167h1v1h-1zM73 172h1v1h-1zM73 196h1v1h-1zM73 215h1v2h-1zM73 220h1v1h-1zM73 247h1v1h-1zM84 16h1v1h-1zM84 45h1v1h-1zM84 64h1v1h-1zM84 113h1v1h-1zM84 138h1v1h-1zM84 149h1v1h-1zM84 160h1v1h-1zM84 192h1v1h-1zM84 218h1v1h-1zM84 270h1v1h-1zM172 16h1v1h-1zM172 71h1v1h-1zM172 73h1v1h-1zM172 90h1v2h-1zM172 102h1v1h-1zM172 190h1v1h-1zM172 201h1v1h-1zM172 221h1v1h-1zM172 226h1v1h-1zM172 242h1v1h-1zM172 245h1v1h-1zM172 254h1v1h-1zM172 259h1v1h-1zM23 18h1v1h-1zM23 32h1v1h-1zM23 42h1v1h-1zM23 57h1v1h-1zM23 93h1v1h-1zM23 101h1v1h-1zM23 118h1v1h-1zM23 172h1v1h-1zM23 226h1v1h-1zM23 245h1v2h-1zM80 18h1v1h-1zM80 43h1v1h-1zM80 45h1v1h-1zM80 59h1v1h-1zM80 66h1v1h-1zM80 79h1v1h-1zM80 84h1v1h-1zM80 86h1v1h-1zM80 121h1v1h-1zM80 161h1v1h-1zM80 186h1v1h-1zM80 194h1v1h-1zM80 216h1v1h-1zM80 231h1v1h-1zM80 245h1v1h-1zM80 273h1v1h-1zM80 279h1v1h-1zM102 18h1v1h-1zM102 20h1v1h-1zM102 24h1v1h-1zM102 26h1v1h-1zM102 44h1v1h-1zM102 56h1v1h-1zM102 71h1v1h-1zM102 94h1v1h-1zM102 107h1v1h-1zM102 135h1v1h-1zM102 140h1v1h-1zM102 146h1v1h-1zM102 182h1v1h-1zM102 187h1v1h-1zM102 192h1v1h-1zM102 199h1v1h-1zM102 209h1v1h-1zM102 215h1v1h-1zM102 236h1v1h-1zM102 256h1v1h-1zM102 260h1v1h-1zM102 266h1v2h-1zM102 281h1v1h-1zM191 18h3v1h-3zM191 273h3v1h-3zM61 19h2v1h-2zM61 29h2v1h-2zM61 79h2v1h-2zM61 146h2v1h-2zM61 158h2v1h-2zM61 256h2v1h-2zM61 264h2v1h-2zM61 274h2v1h-2zM79 19h1v1h-1zM79 25h1v1h-1zM79 29h1v1h-1zM79 40h1v1h-1zM79 85h1v1h-1zM79 104h1v2h-1zM79 136h1v1h-1zM79 142h1v1h-1zM79 171h1v1h-1zM79 179h1v2h-1zM79 184h1v1h-1zM79 191h1v2h-1zM79 213h1v1h-1zM79 258h1v1h-1zM185 19h1v1h-1zM185 57h1v1h-1zM185 269h1v1h-1zM185 279h1v1h-1zM185 281h1v1h-1zM92 20h1v1h-1zM92 69h1v1h-1zM92 73h1v1h-1zM92 80h1v1h-1zM92 127h1v1h-1zM92 220h1v1h-1zM106 20h2v1h-2zM106 27h2v1h-2zM106 37h2v1h-2zM106 42h2v1h-2zM106 59h2v1h-2zM106 91h2v1h-2zM106 136h2v1h-2zM106 165h2v1h-2zM106 181h2v1h-2zM106 196h2v1h-2zM106 205h2v1h-2zM106 209h2v1h-2zM106 243h2v1h-2zM106 263h2v1h-2zM106 268h2v1h-2zM106 282h2v1h-2zM221 20h1v1h-1zM221 26h1v1h-1zM221 28h1v1h-1zM221 33h1v1h-1zM221 44h1v1h-1zM221 51h1v2h-1zM221 60h1v1h-1zM221 76h1v1h-1zM221 86h1v1h-1zM221 90h1v1h-1zM221 95h1v1h-1zM221 100h1v1h-1zM221 112h1v1h-1zM221 118h1v1h-1zM221 128h1v1h-1zM221 135h1v1h-1zM221 144h1v1h-1zM221 156h1v1h-1zM221 163h1v1h-1zM221 169h1v1h-1zM221 175h1v1h-1zM221 178h1v1h-1zM221 182h1v1h-1zM221 193h1v1h-1zM221 207h1v1h-1zM221 227h1v1h-1zM221 234h1v1h-1zM221 270h1v1h-1zM221 275h1v1h-1zM112 22h2v1h-2zM112 73h2v1h-2zM112 77h2v1h-2zM112 118h2v1h-2zM112 162h2v1h-2zM112 191h2v1h-2zM112 194h2v1h-2zM112 239h2v1h-2zM112 243h2v1h-2zM112 259h2v1h-2zM176 22h2v1h-2zM176 26h2v1h-2zM176 31h2v1h-2zM176 33h2v1h-2zM176 93h2v1h-2zM176 96h2v1h-2zM176 103h2v1h-2zM176 123h2v1h-2zM176 128h2v1h-2zM176 134h2v1h-2zM176 138h2v1h-2zM176 173h2v1h-2zM176 187h2v1h-2zM176 191h2v1h-2zM176 205h2v1h-2zM176 218h2v1h-2zM176 237h2v1h-2zM176 259h2v1h-2zM176 266h2v1h-2zM176 272h2v2h-2zM67 23h2v1h-2zM67 26h2v1h-2zM67 29h2v1h-2zM67 50h2v1h-2zM67 62h2v1h-2zM67 65h2v1h-2zM67 73h2v1h-2zM67 91h2v1h-2zM67 95h2v1h-2zM67 106h2v1h-2zM67 112h2v1h-2zM67 120h2v2h-2zM67 130h2v1h-2zM67 135h2v1h-2zM67 138h2v2h-2zM67 151h2v1h-2zM67 158h2v2h-2zM67 172h2v1h-2zM67 179h2v1h-2zM67 209h2v1h-2zM67 211h2v1h-2zM67 216h2v1h-2zM67 230h2v1h-2zM67 234h2v1h-2zM97 23h1v1h-1zM97 69h1v1h-1zM97 117h1v1h-1zM97 148h1v2h-1zM97 157h1v2h-1zM97 172h1v2h-1zM97 209h1v1h-1zM97 222h1v1h-1zM97 233h1v1h-1zM97 260h1v1h-1zM97 264h1v1h-1zM97 271h1v1h-1zM183 24h2v1h-2zM183 100h2v1h-2zM183 115h2v1h-2zM183 159h2v1h-2zM211 24h2v1h-2zM211 272h2v1h-2zM114 25h1v1h-1zM114 86h1v1h-1zM114 89h1v1h-1zM114 99h1v1h-1zM114 112h1v1h-1zM114 154h1v1h-1zM114 165h1v1h-1zM114 188h1v1h-1zM114 202h1v1h-1zM114 220h1v1h-1zM218 25h1v1h-1zM218 54h1v1h-1zM218 78h1v1h-1zM218 81h1v1h-1zM218 92h1v1h-1zM218 116h1v1h-1zM218 125h1v1h-1zM218 135h1v1h-1zM218 145h1v1h-1zM218 151h1v1h-1zM218 163h1v1h-1zM218 180h1v1h-1zM218 206h1v1h-1zM218 225h1v1h-1zM218 228h1v1h-1zM218 234h1v1h-1zM218 251h1v1h-1zM218 266h1v2h-1zM218 282h1v1h-1zM117 26h2v1h-2zM117 82h2v1h-2zM117 118h2v1h-2zM117 126h2v1h-2zM117 153h2v1h-2zM117 161h2v1h-2zM117 262h2v1h-2zM192 26h1v2h-1zM192 67h1v1h-1zM192 211h1v1h-1zM192 224h1v1h-1zM75 27h2v1h-2zM75 93h2v1h-2zM75 119h2v1h-2zM75 164h2v2h-2zM75 227h2v1h-2zM75 255h2v1h-2zM75 265h2v1h-2zM75 267h2v1h-2zM75 271h2v2h-2zM75 277h2v1h-2zM77 28h1v1h-1zM77 57h1v1h-1zM77 85h1v1h-1zM77 101h1v1h-1zM77 131h1v1h-1zM77 177h1v1h-1zM77 192h1v1h-1zM77 207h1v1h-1zM77 222h1v1h-1zM77 236h1v1h-1zM93 28h1v1h-1zM93 34h1v1h-1zM93 44h1v1h-1zM93 95h1v1h-1zM93 117h1v1h-1zM93 158h1v1h-1zM93 162h1v1h-1zM93 166h1v1h-1zM93 195h1v1h-1zM93 207h1v1h-1zM93 216h1v1h-1zM93 226h1v1h-1zM93 231h1v1h-1zM93 249h1v1h-1zM93 268h1v1h-1zM109 29h1v1h-1zM109 45h1v1h-1zM109 47h1v1h-1zM109 59h1v1h-1zM109 86h1v1h-1zM109 94h1v1h-1zM109 98h1v1h-1zM109 116h1v1h-1zM109 118h1v1h-1zM109 126h1v1h-1zM109 136h1v1h-1zM109 167h1v1h-1zM109 180h1v2h-1zM109 233h1v1h-1zM109 235h1v1h-1zM109 240h1v1h-1zM109 275h1v2h-1zM182 29h1v1h-1zM182 242h1v1h-1zM184 29h3v1h-3zM3 30h2v1h-2zM3 267h2v1h-2zM77 30h6v1h-6zM178 30h1v1h-1zM178 47h1v1h-1zM178 102h1v1h-1zM178 136h1v1h-1zM178 143h1v1h-1zM178 181h1v1h-1zM180 30h1v1h-1zM180 40h1v2h-1zM180 63h1v1h-1zM180 87h1v1h-1zM180 94h1v1h-1zM180 136h1v1h-1zM180 199h1v1h-1zM180 202h1v1h-1zM180 248h1v1h-1zM180 279h1v1h-1zM208 30h1v1h-1zM208 39h1v1h-1zM208 74h1v1h-1zM208 84h1v1h-1zM208 127h1v1h-1zM208 221h1v1h-1zM208 237h1v1h-1zM208 241h1v1h-1zM208 268h1v1h-1zM58 31h2v1h-2zM58 56h2v1h-2zM58 93h2v1h-2zM58 185h2v1h-2zM58 193h2v1h-2zM58 279h2v1h-2zM58 282h2v1h-2zM78 31h1v1h-1zM78 37h1v1h-1zM78 42h1v1h-1zM78 51h1v1h-1zM78 56h1v1h-1zM78 79h1v1h-1zM78 95h1v1h-1zM78 99h1v1h-1zM78 102h1v1h-1zM78 117h1v1h-1zM78 152h1v1h-1zM78 157h1v1h-1zM78 167h1v1h-1zM78 186h1v1h-1zM78 194h1v1h-1zM78 202h1v1h-1zM78 209h1v1h-1zM78 211h1v1h-1zM78 237h1v1h-1zM78 240h1v1h-1zM78 249h1v1h-1zM78 254h1v1h-1zM96 33h1v1h-1zM96 71h1v1h-1zM96 159h1v1h-1zM96 242h1v1h-1zM96 272h1v1h-1zM184 34h1v1h-1zM184 91h1v1h-1zM184 128h1v1h-1zM184 157h1v1h-1zM184 254h1v1h-1zM184 261h1v1h-1zM184 271h1v1h-1zM186 34h1v1h-1zM186 60h1v1h-1zM186 115h1v1h-1zM186 145h1v1h-1zM186 173h1v1h-1zM186 216h1v1h-1zM186 259h1v1h-1zM139 35h1v1h-1zM139 76h1v1h-1zM139 89h1v1h-1zM139 148h1v2h-1zM139 161h1v1h-1zM139 163h1v1h-1zM139 169h1v1h-1zM139 191h1v1h-1zM139 256h1v1h-1zM139 273h1v1h-1zM176 35h5v1h-5zM72 37h1v1h-1zM72 85h1v1h-1zM72 135h1v1h-1zM72 272h1v1h-1zM72 281h1v1h-1zM184 38h2v1h-2zM184 42h2v1h-2zM184 52h2v1h-2zM184 255h2v1h-2zM4 39h2v1h-2zM4 99h2v1h-2zM4 141h2v2h-2zM4 148h2v1h-2zM4 231h2v1h-2zM10 39h1v1h-1zM10 71h1v1h-1zM178 39h3v1h-3zM222 40h2v1h-2zM76 41h2v1h-2zM185 43h3v1h-3zM175 44h1v1h-1zM175 90h1v1h-1zM175 121h1v1h-1zM175 192h1v1h-1zM175 275h1v1h-1zM61 47h3v1h-3zM61 101h3v1h-3zM61 257h3v1h-3zM96 47h3v1h-3zM96 187h3v1h-3zM72 48h2v1h-2zM72 58h2v1h-2zM72 65h2v1h-2zM72 80h2v1h-2zM72 104h2v1h-2zM72 118h2v1h-2zM72 214h2v1h-2zM72 275h2v1h-2zM72 278h2v1h-2zM78 48h3v1h-3zM78 71h3v1h-3zM78 81h3v1h-3zM78 122h3v1h-3zM78 156h3v1h-3zM78 243h3v1h-3zM78 281h3v1h-3zM113 48h3v1h-3zM113 152h3v1h-3zM113 235h3v1h-3zM113 281h3v1h-3zM60 49h3v1h-3zM60 164h3v1h-3zM74 49h1v1h-1zM74 127h1v1h-1zM74 139h1v1h-1zM74 149h1v1h-1zM74 158h1v1h-1zM74 184h1v1h-1zM74 192h1v1h-1zM151 50h1v2h-1zM151 54h1v1h-1zM151 61h1v1h-1zM151 90h1v1h-1zM6 51h1v1h-1zM6 90h1v1h-1zM6 103h1v1h-1zM6 116h1v1h-1zM6 129h1v1h-1zM6 208h1v1h-1zM91 51h1v1h-1zM91 74h1v1h-1zM91 110h1v1h-1zM91 208h1v1h-1zM91 242h1v1h-1zM96 51h2v1h-2zM96 77h2v1h-2zM96 119h2v1h-2zM96 121h2v1h-2zM96 147h2v1h-2zM96 160h2v1h-2zM96 190h2v1h-2zM96 203h2v1h-2zM96 214h2v1h-2zM71 52h1v1h-1zM71 107h1v1h-1zM71 129h1v1h-1zM71 148h1v1h-1zM71 180h1v1h-1zM71 191h1v1h-1zM71 196h1v1h-1zM71 234h1v1h-1zM71 246h1v1h-1zM90 52h1v1h-1zM90 108h1v1h-1zM90 194h1v1h-1zM90 197h1v1h-1zM90 205h1v1h-1zM90 213h1v1h-1zM90 232h1v1h-1zM90 240h1v1h-1zM90 262h1v1h-1zM90 267h1v2h-1zM90 277h1v1h-1zM90 281h1v1h-1zM219 52h1v1h-1zM219 139h1v1h-1zM219 141h1v1h-1zM74 54h2v1h-2zM74 96h2v1h-2zM74 135h2v1h-2zM74 199h2v1h-2zM74 248h2v1h-2zM74 250h2v1h-2zM74 284h2v1h-2zM80 54h3v1h-3zM80 147h3v1h-3zM98 55h1v1h-1zM98 57h1v1h-1zM98 62h1v1h-1zM98 95h1v1h-1zM98 120h1v1h-1zM98 144h1v1h-1zM98 165h1v1h-1zM98 167h1v2h-1zM98 170h1v1h-1zM98 212h1v1h-1zM98 219h1v1h-1zM98 238h1v1h-1zM98 240h1v1h-1zM98 258h1v1h-1zM98 277h1v1h-1zM191 55h2v1h-2zM191 57h2v1h-2zM191 100h2v1h-2zM191 220h2v1h-2zM191 274h2v1h-2zM59 57h2v1h-2zM59 78h2v1h-2zM59 91h2v1h-2zM59 144h2v1h-2zM59 157h2v1h-2zM187 57h3v1h-3zM173 58h2v1h-2zM173 173h2v1h-2zM11 59h1v1h-1zM176 61h4v1h-4zM227 61h1v1h-1zM227 91h1v1h-1zM227 145h1v1h-1zM227 211h1v1h-1zM227 223h1v1h-1zM115 63h2v1h-2zM115 87h2v1h-2zM90 65h2v1h-2zM90 114h2v1h-2zM90 222h2v1h-2zM90 238h2v1h-2zM90 271h2v1h-2zM64 67h5v1h-5zM71 69h5v1h-5zM71 197h5v1h-5zM190 69h2v1h-2zM70 70h3v1h-3zM70 181h3v1h-3zM70 199h3v1h-3zM186 70h3v1h-3zM186 121h3v1h-3zM186 163h3v1h-3zM191 70h1v1h-1zM191 83h1v1h-1zM191 128h1v1h-1zM191 146h1v1h-1zM191 189h1v1h-1zM95 72h2v1h-2zM95 127h2v1h-2zM95 156h2v1h-2zM95 161h2v1h-2zM95 250h2v1h-2zM95 279h2v1h-2zM186 72h2v1h-2zM186 98h2v1h-2zM186 120h2v1h-2zM186 201h2v1h-2zM186 210h2v1h-2zM188 74h3v1h-3zM188 116h3v1h-3zM188 233h3v1h-3zM187 75h1v1h-1zM187 77h1v1h-1zM187 86h1v1h-1zM187 93h1v1h-1zM187 105h1v1h-1zM187 130h1v2h-1zM187 153h1v1h-1zM187 156h1v1h-1zM187 204h1v1h-1zM187 208h1v1h-1zM187 225h1v1h-1zM187 227h1v1h-1zM187 283h1v1h-1zM75 76h3v1h-3zM95 76h3v1h-3zM95 99h3v1h-3zM90 78h3v1h-3zM90 134h3v1h-3zM90 176h3v1h-3zM90 187h3v1h-3zM112 78h3v1h-3zM112 80h3v1h-3zM112 88h3v1h-3zM112 94h3v1h-3zM112 130h3v1h-3zM112 157h3v1h-3zM112 169h3v1h-3zM112 204h3v1h-3zM112 234h3v1h-3zM112 278h3v2h-3zM116 80h2v1h-2zM116 103h2v1h-2zM116 106h2v1h-2zM116 112h2v1h-2zM116 162h2v1h-2zM116 200h2v1h-2zM116 210h2v1h-2zM116 215h2v1h-2zM116 258h2v1h-2zM192 80h2v1h-2zM192 151h2v1h-2zM192 213h2v1h-2zM64 81h3v1h-3zM65 82h4v1h-4zM155 82h2v1h-2zM155 135h2v1h-2zM155 203h2v1h-2zM156 86h1v1h-1zM156 109h1v1h-1zM156 175h1v1h-1zM156 283h1v1h-1zM229 91h1v1h-1zM229 127h1v1h-1zM229 252h1v1h-1zM73 92h4v1h-4zM71 95h2v1h-2zM71 125h2v1h-2zM71 147h2v1h-2zM71 241h2v1h-2zM71 255h2v1h-2zM20 99h1v1h-1zM20 273h1v1h-1zM180 104h3v1h-3zM211 106h1v1h-1zM91 107h3v1h-3zM91 175h3v1h-3zM181 108h1v1h-1zM181 143h1v1h-1zM181 192h1v1h-1zM181 235h1v1h-1zM181 256h1v1h-1zM181 262h1v1h-1zM181 266h1v1h-1zM180 114h2v1h-2zM180 145h2v1h-2zM78 116h4v1h-4zM78 141h4v1h-4zM66 117h2v2h-2zM79 118h2v1h-2zM79 219h2v1h-2zM214 121h2v1h-2zM71 122h3v1h-3zM71 266h3v1h-3zM187 123h4v1h-4zM179 126h2v1h-2zM179 233h2v1h-2zM210 127h1v1h-1zM210 146h1v1h-1zM210 171h1v1h-1zM210 202h1v1h-1zM210 228h1v1h-1zM62 128h1v1h-1zM62 144h1v1h-1zM62 172h1v1h-1zM62 239h1v1h-1zM62 251h1v1h-1zM62 277h1v1h-1zM62 280h1v1h-1zM64 132h1v1h-1zM64 143h1v1h-1zM64 187h1v1h-1zM64 207h1v1h-1zM64 251h1v1h-1zM64 254h1v1h-1zM64 280h1v1h-1zM172 133h2v1h-2zM172 195h2v1h-2zM61 134h4v1h-4zM107 143h2v1h-2zM107 219h2v1h-2zM173 148h1v1h-1zM173 150h1v1h-1zM230 152h1v1h-1zM174 168h2v1h-2zM181 175h2v1h-2zM179 176h4v1h-4zM87 195h2v1h-2zM213 198h2v1h-2zM63 200h2v1h-2zM65 201h2v1h-2zM215 205h2v1h-2zM176 206h3v1h-3zM70 212h4v1h-4zM70 252h4v1h-4zM70 267h4v1h-4zM70 280h4v1h-4zM74 218h3v1h-3zM113 223h4v1h-4zM115 227h3v1h-3zM179 236h3v1h-3zM179 238h3v1h-3zM91 239h2v1h-2zM91 241h2v1h-2zM59 246h4v1h-4zM6 251h2v1h-2zM79 263h4v1h-4zM79 277h4v1h-4zM86 265h2v1h-2z"/>
<path fill="#2a788e" d="M3 0h2v1h-2zM3 35h2v1h-2zM3 62h2v1h-2zM3 77h2v1h-2zM3 82h2v1h-2zM3 86h2v1h-2zM3 108h2v1h-2zM3 135h2v1h-2zM3 189h2v1h-2zM3 276h2v1h-2zM3 278h2v2h-2zM67 0h2v1h-2zM67 16h2v1h-2zM67 43h2v1h-2zM67 53h2v1h-2zM67 87h2v1h-2zM67 103h2v1h-2zM67 146h2v1h-2zM67 259h2v1h-2zM67 268h2v1h-2zM83 0h1v1h-1zM83 12h1v1h-1zM83 33h1v1h-1zM83 37h1v1h-1zM83 74h1v1h-1zM83 76h1v1h-1zM83 80h1v1h-1zM83 90h1v1h-1zM83 101h1v1h-1zM83 105h1v1h-1zM83 109h1v1h-1zM83 119h1v1h-1zM83 122h1v1h-1zM83 125h1v1h-1zM83 128h1v2h-1zM83 148h1v1h-1zM83 164h1v1h-1zM83 170h1v1h-1zM83 204h1v2h-1zM83 207h1v1h-1zM83 212h1v3h-1zM83 224h1v1h-1zM83 226h1v2h-1zM83 239h1v1h-1zM83 241h1v1h-1zM83 252h1v1h-1zM83 257h1v1h-1zM83 272h1v1h-1zM83 275h1v1h-1zM83 277h1v1h-1zM83 285h1v1h-1zM87 0h1v1h-1zM87 7h1v1h-1zM87 13h1v1h-1zM87 24h1v1h-1zM87 39h1v1h-1zM87 41h1v1h-1zM87 52h1v1h-1zM87 57h1v1h-1zM87 60h1v1h-1zM87 79h1v1h-1zM87 100h1v1h-1zM87 106h1v1h-1zM87 123h1v1h-1zM87 125h1v1h-1zM87 131h1v1h-1zM87 148h1v2h-1zM87 152h1v1h-1zM87 158h1v1h-1zM87 170h1v1h-1zM87 184h1v1h-1zM87 192h1v1h-1zM87 203h1v1h-1zM87 205h1v2h-1zM87 208h1v1h-1zM87 213h1v1h-1zM87 215h1v1h-1zM87 217h1v1h-1zM87 224h1v1h-1zM87 229h1v1h-1zM87 235h1v1h-1zM87 237h1v1h-1zM87 241h1v1h-1zM87 244h1v1h-1zM87 249h1v1h-1zM87 257h1v2h-1zM87 262h1v1h-1zM87 278h1v3h-1zM110 0h1v1h-1zM110 48h1v1h-1zM110 86h1v1h-1zM110 126h1v1h-1zM110 147h1v1h-1zM110 158h1v1h-1zM110 196h1v1h-1zM110 218h1v1h-1zM115 0h1v1h-1zM115 12h1v1h-1zM115 34h1v1h-1zM115 46h1v1h-1zM115 57h1v1h-1zM115 59h1v1h-1zM115 75h1v1h-1zM115 80h1v1h-1zM115 86h1v1h-1zM115 94h1v1h-1zM115 99h1v2h-1zM115 103h1v1h-1zM115 105h1v2h-1zM115 112h1v1h-1zM115 115h1v1h-1zM115 155h1v1h-1zM115 161h1v2h-1zM115 165h1v1h-1zM115 188h1v1h-1zM115 200h1v1h-1zM115 204h1v1h-1zM115 219h1v2h-1zM115 228h1v1h-1zM115 242h1v1h-1zM115 279h1v1h-1zM120 0h1v1h-1zM120 97h1v1h-1zM120 142h1v1h-1zM120 149h1v1h-1zM120 163h1v1h-1zM120 198h1v1h-1zM120 231h1v1h-1zM120 238h1v1h-1zM120 250h1v1h-1zM120 273h1v1h-1zM61 1h1v1h-1zM61 28h1v1h-1zM61 39h1v1h-1zM61 144h1v1h-1zM61 176h1v1h-1zM61 216h1v1h-1zM61 224h1v1h-1zM104 1h1v1h-1zM104 13h1v1h-1zM104 16h1v1h-1zM104 37h1v1h-1zM104 61h1v1h-1zM104 70h1v1h-1zM104 83h1v1h-1zM104 85h1v1h-1zM104 87h1v1h-1zM104 95h1v1h-1zM104 100h1v1h-1zM104 106h1v1h-1zM104 120h1v2h-1zM104 162h1v1h-1zM104 167h1v1h-1zM104 173h1v1h-1zM104 181h1v1h-1zM104 241h1v1h-1zM104 244h1v1h-1zM104 263h1v2h-1zM104 270h1v1h-1zM104 273h1v1h-1zM107 1h2v1h-2zM107 30h2v1h-2zM107 35h2v1h-2zM107 41h2v1h-2zM107 86h2v1h-2zM107 222h2v1h-2zM107 251h2v1h-2zM107 276h2v1h-2zM152 1h1v1h-1zM152 33h1v1h-1zM152 35h1v1h-1zM152 55h1v1h-1zM152 80h1v1h-1zM152 84h1v1h-1zM152 107h1v1h-1zM152 133h1v1h-1zM152 144h1v1h-1zM152 156h1v1h-1zM152 160h1v1h-1zM152 164h1v1h-1zM152 182h1v1h-1zM152 207h1v2h-1zM152 212h1v1h-1zM152 215h1v1h-1zM152 217h1v1h-1zM152 221h1v1h-1zM152 226h1v1h-1zM152 242h1v1h-1zM152 248h1v1h-1zM152 250h1v1h-1zM152 256h1v1h-1zM154 1h2v1h-2zM154 15h2v1h-2zM154 29h2v1h-2zM154 73h2v1h-2zM154 75h2v1h-2zM154 136h2v1h-2zM154 187h2v1h-2zM154 218h2v1h-2zM154 278h2v1h-2zM188 1h1v1h-1zM188 77h1v1h-1zM188 247h1v1h-1zM188 250h1v1h-1zM188 256h1v1h-1zM60 2h1v1h-1zM60 17h1v3h-1zM60 29h1v1h-1zM60 47h1v1h-1zM60 53h1v1h-1zM60 56h1v1h-1zM60 60h1v1h-1zM60 63h1v1h-1zM60 67h1v1h-1zM60 69h1v1h-1zM60 116h1v1h-1zM60 121h1v1h-1zM60 130h1v1h-1zM60 158h1v1h-1zM60 162h1v1h-1zM60 193h1v1h-1zM60 226h1v1h-1zM60 231h1v1h-1zM60 235h1v1h-1zM60 254h1v1h-1zM60 256h1v1h-1zM60 272h1v1h-1zM60 279h1v1h-1zM60 281h1v1h-1zM60 283h1v1h-1zM93 2h1v1h-1zM93 27h1v1h-1zM93 75h1v1h-1zM93 128h1v1h-1zM93 132h1v1h-1zM93 145h1v1h-1zM108 2h1v1h-1zM108 20h1v1h-1zM108 29h1v1h-1zM108 42h1v1h-1zM108 45h1v1h-1zM108 47h1v1h-1zM108 49h1v1h-1zM108 62h1v2h-1zM108 69h1v1h-1zM108 74h1v1h-1zM108 95h1v1h-1zM108 103h1v1h-1zM108 113h1v1h-1zM108 115h1v1h-1zM108 117h1v1h-1zM108 133h1v1h-1zM108 136h1v1h-1zM108 152h1v1h-1zM108 165h1v1h-1zM108 170h1v1h-1zM108 172h1v1h-1zM108 174h1v1h-1zM108 181h1v1h-1zM108 184h1v1h-1zM108 191h1v1h-1zM108 193h1v1h-1zM108 195h1v1h-1zM108 198h1v1h-1zM108 209h1v1h-1zM108 211h1v1h-1zM108 213h1v1h-1zM108 218h1v1h-1zM108 240h1v1h-1zM108 258h1v1h-1zM108 268h1v1h-1zM108 271h1v1h-1zM108 275h1v1h-1zM108 285h1v1h-1zM125 2h1v1h-1zM125 38h1v1h-1zM125 42h1v1h-1zM125 49h1v1h-1zM125 53h1v1h-1zM125 62h1v1h-1zM125 81h1v1h-1zM125 134h1v1h-1zM125 178h1v1h-1zM125 185h1v1h-1zM125 190h1v1h-1zM154 2h1v2h-1zM154 14h1v1h-1zM154 21h1v1h-1zM154 30h1v1h-1zM154 47h1v2h-1zM154 77h1v1h-1zM154 80h1v1h-1zM154 82h1v1h-1zM154 84h1v1h-1zM154 94h1v1h-1zM154 104h1v1h-1zM154 113h1v2h-1zM154 120h1v1h-1zM154 123h1v3h-1zM154 127h1v1h-1zM154 131h1v1h-1zM154 135h1v1h-1zM154 149h1v1h-1zM154 160h1v1h-1zM154 162h1v2h-1zM154 168h1v1h-1zM154 178h1v1h-1zM154 190h1v1h-1zM154 208h1v1h-1zM154 210h1v1h-1zM154 216h1v1h-1zM154 221h1v1h-1zM154 224h1v1h-1zM154 242h1v1h-1zM154 247h1v1h-1zM154 284h1v1h-1zM156 2h1v1h-1zM156 10h1v1h-1zM156 12h1v1h-1zM156 14h1v1h-1zM156 19h1v1h-1zM156 24h1v2h-1zM156 47h1v1h-1zM156 50h1v1h-1zM156 56h1v1h-1zM156 72h1v1h-1zM156 98h1v1h-1zM156 106h1v1h-1zM156 108h1v1h-1zM156 114h1v1h-1zM156 116h1v1h-1zM156 137h1v1h-1zM156 140h1v1h-1zM156 144h1v1h-1zM156 147h1v1h-1zM156 151h1v1h-1zM156 165h1v1h-1zM156 178h1v1h-1zM156 190h1v1h-1zM156 204h1v1h-1zM156 215h1v1h-1zM156 225h1v1h-1zM156 230h1v1h-1zM156 232h1v1h-1zM156 236h1v1h-1zM156 255h1v1h-1zM156 261h1v1h-1zM156 267h1v1h-1zM156 273h1v1h-1zM156 277h1v1h-1zM156 284h1v2h-1zM23 3h1v1h-1zM23 6h1v1h-1zM23 13h1v1h-1zM23 15h1v1h-1zM23 19h1v1h-1zM23 29h1v1h-1zM23 33h1v1h-1zM23 47h1v1h-1zM23 61h1v1h-1zM23 64h1v2h-1zM23 71h1v1h-1zM23 78h1v1h-1zM23 113h1v1h-1zM23 117h1v1h-1zM23 145h1v1h-1zM23 155h1v1h-1zM23 161h1v1h-1zM23 179h1v1h-1zM23 190h1v1h-1zM23 215h1v1h-1zM23 224h1v1h-1zM23 231h1v2h-1zM23 255h1v1h-1zM23 258h1v1h-1zM23 260h1v1h-1zM23 263h1v1h-1zM23 271h1v1h-1zM23 278h1v1h-1zM23 280h1v1h-1zM69 4h1v1h-1zM69 6h1v1h-1zM69 26h1v1h-1zM69 29h1v2h-1zM69 44h1v1h-1zM69 48h1v2h-1zM69 56h1v1h-1zM69 67h1v1h-1zM69 102h1v1h-1zM69 104h1v1h-1zM69 120h1v2h-1zM69 135h1v1h-1zM69 141h1v1h-1zM69 156h1v1h-1zM69 158h1v1h-1zM69 162h1v3h-1zM69 172h1v1h-1zM69 178h1v1h-1zM69 183h1v1h-1zM69 185h1v1h-1zM69 189h1v1h-1zM69 199h1v1h-1zM69 205h1v1h-1zM69 208h1v4h-1zM69 215h1v1h-1zM69 218h1v1h-1zM69 230h1v1h-1zM69 234h1v1h-1zM69 256h1v1h-1zM69 265h1v1h-1zM69 278h1v1h-1zM69 280h1v1h-1zM69 285h1v1h-1zM177 4h1v1h-1zM177 9h1v1h-1zM177 11h1v1h-1zM177 42h1v1h-1zM177 101h1v1h-1zM177 110h1v1h-1zM177 116h1v1h-1zM177 118h1v1h-1zM177 140h1v1h-1zM177 143h1v1h-1zM177 163h1v1h-1zM177 216h1v1h-1zM177 279h1v1h-1zM3 5h1v1h-1zM3 24h1v1h-1zM3 27h1v1h-1zM3 68h1v1h-1zM3 87h1v1h-1zM3 104h1v1h-1zM3 109h1v1h-1zM3 126h1v1h-1zM3 170h1v1h-1zM3 172h1v1h-1zM3 204h1v1h-1zM3 248h1v1h-1zM3 255h1v1h-1zM82 5h1v1h-1zM82 14h1v1h-1zM82 82h1v1h-1zM82 95h1v1h-1zM82 100h1v1h-1zM82 158h1v1h-1zM82 194h1v1h-1zM82 219h1v1h-1zM82 238h1v1h-1zM82 247h1v1h-1zM82 276h1v1h-1zM85 5h1v1h-1zM85 15h1v1h-1zM85 19h1v2h-1zM85 23h1v1h-1zM85 29h1v1h-1zM85 37h1v1h-1zM85 46h1v1h-1zM85 71h1v1h-1zM85 90h1v4h-1zM85 103h1v1h-1zM85 110h1v1h-1zM85 112h1v2h-1zM85 125h1v1h-1zM85 143h1v1h-1zM85 148h1v1h-1zM85 164h1v2h-1zM85 170h1v2h-1zM85 194h1v2h-1zM85 199h1v1h-1zM85 213h1v2h-1zM85 220h1v1h-1zM85 226h1v2h-1zM85 239h1v1h-1zM85 244h1v1h-1zM85 256h1v1h-1zM85 273h1v1h-1zM113 5h1v1h-1zM113 63h1v1h-1zM113 83h1v1h-1zM113 112h1v1h-1zM113 178h1v1h-1zM113 180h1v1h-1zM113 215h1v1h-1zM88 6h1v1h-1zM88 35h1v1h-1zM88 38h1v1h-1zM88 78h1v1h-1zM88 114h1v1h-1zM88 118h1v1h-1zM88 120h1v1h-1zM88 207h1v1h-1zM88 239h1v1h-1zM88 247h1v1h-1zM90 6h1v1h-1zM90 35h1v1h-1zM90 41h1v1h-1zM90 50h1v1h-1zM90 207h1v1h-1zM90 239h1v1h-1zM90 247h1v1h-1zM116 6h1v1h-1zM116 81h1v1h-1zM116 181h1v1h-1zM116 186h1v1h-1zM116 198h1v1h-1zM116 247h1v1h-1zM116 278h1v1h-1zM122 6h4v1h-4zM4 7h1v1h-1zM4 98h1v1h-1zM4 162h1v1h-1zM4 239h1v1h-1zM4 252h1v1h-1zM4 282h1v1h-1zM4 284h1v1h-1zM63 7h1v1h-1zM63 31h1v1h-1zM63 36h1v1h-1zM63 42h1v1h-1zM63 50h1v1h-1zM63 100h1v1h-1zM63 104h1v1h-1zM63 110h1v1h-1zM63 132h1v1h-1zM63 178h1v1h-1zM63 207h1v1h-1zM63 239h1v1h-1zM63 251h1v1h-1zM63 254h1v1h-1zM63 270h1v1h-1zM63 280h1v1h-1zM102 7h2v1h-2zM102 33h2v1h-2zM102 84h2v1h-2zM102 111h2v1h-2zM102 165h2v1h-2zM102 243h2v1h-2zM106 7h1v1h-1zM106 22h1v1h-1zM106 40h1v1h-1zM106 58h1v1h-1zM106 66h1v1h-1zM106 106h1v1h-1zM106 118h1v1h-1zM106 190h1v1h-1zM106 199h1v1h-1zM106 234h1v1h-1zM119 7h1v2h-1zM119 65h1v1h-1zM119 100h1v1h-1zM119 202h1v1h-1zM119 206h1v1h-1zM119 213h1v1h-1zM119 215h1v1h-1zM119 235h1v1h-1zM119 239h1v1h-1zM119 259h1v1h-1zM119 267h1v1h-1zM119 272h1v1h-1zM119 281h1v1h-1zM119 285h1v1h-1zM11 8h1v1h-1zM11 16h1v1h-1zM11 141h1v1h-1zM11 147h1v2h-1zM11 158h1v1h-1zM11 202h1v1h-1zM11 246h1v1h-1zM37 8h1v1h-1zM37 30h1v1h-1zM37 44h1v1h-1zM37 106h1v1h-1zM37 113h1v1h-1zM37 133h1v1h-1zM37 139h1v1h-1zM37 210h1v1h-1zM37 221h1v1h-1zM74 8h1v1h-1zM74 44h1v1h-1zM74 52h1v1h-1zM74 71h1v1h-1zM74 76h1v1h-1zM74 93h1v1h-1zM74 101h1v1h-1zM74 113h1v1h-1zM74 119h1v1h-1zM74 136h1v1h-1zM74 138h1v1h-1zM74 140h1v1h-1zM74 144h1v1h-1zM74 153h1v1h-1zM74 170h1v1h-1zM74 212h1v1h-1zM74 214h1v2h-1zM74 247h1v1h-1zM74 267h1v1h-1zM74 271h1v1h-1zM74 275h1v1h-1zM74 278h1v1h-1zM99 8h1v1h-1zM99 39h1v1h-1zM99 47h1v1h-1zM99 91h1v1h-1zM99 120h1v1h-1zM99 139h1v1h-1zM99 144h1v1h-1zM99 177h1v1h-1zM99 205h1v1h-1zM99 212h1v1h-1zM99 235h1v1h-1zM99 240h1v1h-1zM99 248h1v1h-1zM111 8h1v1h-1zM111 17h1v1h-1zM111 47h1v1h-1zM111 64h1v1h-1zM111 69h1v1h-1zM111 73h1v1h-1zM111 77h1v1h-1zM111 81h1v1h-1zM111 156h1v1h-1zM111 184h1v1h-1zM111 191h1v1h-1zM111 259h1v1h-1zM111 273h1v1h-1zM111 285h1v1h-1zM123 8h1v1h-1zM123 30h1v1h-1zM123 74h1v1h-1zM123 108h1v1h-1zM123 162h1v1h-1zM123 271h1v1h-1zM7 9h1v2h-1zM7 13h1v1h-1zM7 28h1v1h-1zM7 47h1v1h-1zM7 60h1v1h-1zM7 65h1v1h-1zM7 91h1v1h-1zM7 97h1v1h-1zM7 110h1v1h-1zM7 122h1v1h-1zM7 134h1v2h-1zM7 143h1v1h-1zM7 145h1v2h-1zM7 148h1v1h-1zM7 151h1v2h-1zM7 158h1v1h-1zM7 167h1v1h-1zM7 169h1v2h-1zM7 182h1v1h-1zM7 189h1v1h-1zM7 198h1v1h-1zM7 209h1v1h-1zM7 213h1v1h-1zM7 237h1v1h-1zM121 9h1v1h-1zM121 23h1v1h-1zM121 28h1v1h-1zM121 30h1v1h-1zM121 40h1v1h-1zM121 63h1v1h-1zM121 81h1v1h-1zM121 90h1v1h-1zM121 108h1v1h-1zM121 114h1v1h-1zM121 118h1v1h-1zM121 127h1v1h-1zM121 167h1v1h-1zM121 171h1v1h-1zM121 204h1v1h-1zM121 206h1v1h-1zM121 213h1v1h-1zM121 239h1v1h-1zM121 272h1v1h-1zM121 275h1v1h-1zM121 279h1v1h-1zM153 9h1v1h-1zM153 56h1v1h-1zM153 97h1v1h-1zM153 105h1v1h-1zM153 109h1v1h-1zM153 126h1v1h-1zM153 229h1v1h-1zM5 10h1v1h-1zM5 68h1v1h-1zM5 92h1v1h-1zM5 118h1v1h-1zM5 146h1v1h-1zM5 155h1v1h-1zM5 158h1v1h-1zM5 165h1v1h-1zM5 170h1v1h-1zM5 185h1v1h-1zM5 202h1v1h-1zM5 218h1v1h-1zM5 229h1v1h-1zM5 243h1v1h-1zM5 246h1v1h-1zM5 250h1v1h-1zM5 268h1v1h-1zM100 10h1v1h-1zM100 65h1v2h-1zM100 125h1v1h-1zM100 137h1v1h-1zM100 142h1v1h-1zM100 147h1v1h-1zM100 160h1v1h-1zM100 198h1v1h-1zM100 249h1v1h-1zM107 10h1v1h-1zM107 23h1v1h-1zM107 28h1v1h-1zM107 38h1v1h-1zM107 56h1v1h-1zM107 73h1v1h-1zM107 173h1v1h-1zM107 180h1v1h-1zM107 188h1v1h-1zM107 208h1v1h-1zM107 281h1v1h-1zM124 10h2v2h-2zM124 29h2v1h-2zM124 44h2v1h-2zM124 116h2v1h-2zM124 175h2v2h-2zM124 191h2v1h-2zM124 206h2v1h-2zM58 11h1v1h-1zM58 81h1v1h-1zM58 116h1v1h-1zM58 146h1v1h-1zM58 242h1v1h-1zM66 11h1v1h-1zM66 35h1v1h-1zM66 42h1v1h-1zM66 47h1v1h-1zM66 104h1v1h-1zM66 106h1v1h-1zM66 110h1v1h-1zM66 152h1v1h-1zM66 218h1v1h-1zM66 244h1v1h-1zM66 255h1v1h-1zM66 283h1v1h-1zM97 11h1v1h-1zM97 45h1v1h-1zM97 101h1v1h-1zM97 112h1v1h-1zM97 127h1v1h-1zM97 132h1v1h-1zM97 156h1v1h-1zM97 161h1v1h-1zM97 165h1v1h-1zM116 11h3v1h-3zM116 29h3v1h-3zM116 31h3v1h-3zM116 154h3v1h-3zM120 11h2v1h-2zM120 19h2v1h-2zM120 75h2v1h-2zM120 110h2v1h-2zM120 189h2v1h-2zM120 216h2v1h-2zM120 264h2v1h-2zM61 12h3v1h-3zM61 97h3v1h-3zM61 196h3v1h-3zM61 219h3v1h-3zM61 237h3v1h-3zM61 275h3v1h-3zM117 12h2v1h-2zM117 37h2v1h-2zM117 212h2v1h-2zM176 13h2v1h-2zM176 44h2v1h-2zM176 192h2v1h-2zM176 200h2v1h-2zM45 14h1v1h-1zM45 143h1v1h-1zM45 272h1v1h-1zM104 14h2v1h-2zM104 49h2v1h-2zM104 99h2v1h-2zM104 129h2v1h-2zM104 144h2v1h-2zM104 184h2v1h-2zM104 214h2v1h-2zM104 221h2v1h-2zM104 223h2v1h-2zM104 252h2v1h-2zM112 14h1v1h-1zM112 27h1v1h-1zM112 48h1v2h-1zM112 74h1v1h-1zM112 96h1v2h-1zM112 111h1v1h-1zM112 158h1v1h-1zM112 171h1v1h-1zM112 248h1v2h-1zM112 251h1v1h-1zM112 253h1v1h-1zM112 264h1v1h-1zM112 281h1v1h-1zM114 14h1v1h-1zM114 16h1v1h-1zM114 27h1v1h-1zM114 64h1v1h-1zM114 68h1v1h-1zM114 81h1v1h-1zM114 198h1v1h-1zM114 221h1v1h-1zM114 238h1v2h-1zM114 243h1v2h-1zM122 14h2v1h-2zM122 277h2v1h-2zM151 14h2v2h-2zM151 22h2v1h-2zM151 31h2v1h-2zM151 38h2v1h-2zM151 40h2v1h-2zM151 48h2v1h-2zM151 114h2v1h-2zM151 120h2v1h-2zM151 123h2v1h-2zM151 125h2v1h-2zM151 137h2v1h-2zM151 139h2v1h-2zM151 153h2v1h-2zM151 155h2v1h-2zM151 163h2v1h-2zM151 166h2v1h-2zM151 183h2v3h-2zM151 187h2v1h-2zM151 213h2v1h-2zM151 231h2v1h-2zM151 241h2v1h-2zM151 243h2v1h-2zM151 261h2v2h-2zM65 15h2v1h-2zM65 69h2v1h-2zM65 113h2v1h-2zM75 15h1v1h-1zM75 68h1v1h-1zM75 102h1v1h-1zM75 106h1v1h-1zM75 186h1v1h-1zM75 203h1v1h-1zM75 217h1v1h-1zM75 251h1v1h-1zM75 261h1v1h-1zM75 270h1v1h-1zM75 274h1v1h-1zM78 15h1v1h-1zM78 41h1v1h-1zM78 98h1v1h-1zM78 101h1v1h-1zM78 177h1v1h-1zM78 180h1v1h-1zM78 192h1v1h-1zM78 207h1v1h-1zM78 219h1v1h-1zM78 228h1v1h-1zM78 236h1v1h-1zM78 273h1v1h-1zM80 15h4v1h-4zM108 15h3v1h-3zM70 16h1v2h-1zM70 36h1v1h-1zM70 40h1v1h-1zM70 92h1v1h-1zM70 103h1v1h-1zM70 111h1v1h-1zM70 134h1v1h-1zM70 137h1v1h-1zM70 180h1v1h-1zM70 257h1v1h-1zM74 16h2v1h-2zM74 41h2v1h-2zM74 67h2v1h-2zM74 167h2v1h-2zM74 196h2v1h-2zM74 220h2v1h-2zM74 232h2v1h-2zM151 16h1v1h-1zM151 70h1v1h-1zM151 119h1v1h-1zM151 121h1v1h-1zM151 128h1v1h-1zM151 249h1v1h-1zM151 260h1v1h-1zM151 264h1v1h-1zM151 270h1v1h-1zM64 17h1v1h-1zM64 19h1v1h-1zM64 124h1v1h-1zM64 141h1v1h-1zM64 155h1v1h-1zM64 214h1v1h-1zM68 17h1v1h-1zM68 32h1v1h-1zM68 52h1v1h-1zM68 60h1v1h-1zM68 76h1v1h-1zM68 154h1v1h-1zM68 171h1v1h-1zM68 182h1v1h-1zM68 214h1v1h-1zM68 243h1v2h-1zM68 267h1v1h-1zM98 17h2v1h-2zM98 43h2v1h-2zM98 68h2v2h-2zM98 253h2v1h-2zM98 264h2v1h-2zM79 18h1v1h-1zM79 79h1v1h-1zM79 84h1v1h-1zM79 147h1v1h-1zM79 152h1v1h-1zM79 161h1v1h-1zM79 186h1v1h-1zM79 193h1v2h-1zM79 216h1v1h-1zM79 245h1v1h-1zM79 279h1v1h-1zM98 18h1v1h-1zM98 22h1v2h-1zM98 51h1v1h-1zM98 53h1v1h-1zM98 74h1v1h-1zM98 76h1v2h-1zM98 117h1v1h-1zM98 119h1v1h-1zM98 129h1v1h-1zM98 137h1v1h-1zM98 148h1v2h-1zM98 158h1v1h-1zM98 160h1v1h-1zM98 176h1v1h-1zM98 209h1v1h-1zM98 211h1v1h-1zM98 227h1v1h-1zM98 233h1v2h-1zM98 256h1v1h-1zM98 260h1v1h-1zM98 265h1v1h-1zM98 271h1v1h-1zM49 19h1v1h-1zM49 105h1v2h-1zM73 19h1v1h-1zM73 37h1v1h-1zM73 135h1v1h-1zM73 137h1v1h-1zM73 181h1v1h-1zM73 186h1v1h-1zM73 192h1v1h-1zM96 19h1v1h-1zM186 19h2v1h-2zM186 39h2v1h-2zM89 20h1v1h-1zM89 22h1v1h-1zM89 25h1v1h-1zM89 27h1v1h-1zM89 48h1v2h-1zM89 56h1v1h-1zM89 58h1v1h-1zM89 73h1v1h-1zM89 75h1v1h-1zM89 80h1v1h-1zM89 101h1v1h-1zM89 113h1v1h-1zM89 119h1v1h-1zM89 144h1v1h-1zM89 146h1v1h-1zM89 151h1v1h-1zM89 154h1v3h-1zM89 158h1v1h-1zM89 170h1v1h-1zM89 175h1v1h-1zM89 183h1v1h-1zM89 192h1v1h-1zM89 212h1v1h-1zM89 224h1v2h-1zM89 228h1v1h-1zM89 233h1v1h-1zM89 242h1v1h-1zM89 256h1v1h-1zM89 265h1v1h-1zM89 283h1v1h-1zM103 20h2v1h-2zM103 114h2v1h-2zM103 180h2v1h-2zM103 182h2v1h-2zM103 213h2v1h-2zM103 266h2v1h-2zM153 20h3v1h-3zM72 21h1v1h-1zM72 41h1v1h-1zM72 112h1v1h-1zM72 129h1v1h-1zM72 170h1v1h-1zM72 176h1v1h-1zM72 196h1v1h-1zM94 22h1v1h-1zM94 24h1v1h-1zM94 31h1v1h-1zM94 38h1v1h-1zM94 49h1v1h-1zM94 73h1v1h-1zM94 76h1v1h-1zM94 78h1v1h-1zM94 90h1v1h-1zM94 101h1v1h-1zM94 108h1v1h-1zM94 119h1v1h-1zM94 129h1v1h-1zM94 138h1v1h-1zM94 160h1v1h-1zM94 181h1v1h-1zM94 198h1v1h-1zM94 206h1v1h-1zM94 230h1v1h-1zM94 237h1v1h-1zM94 245h1v1h-1zM94 247h1v1h-1zM94 250h1v1h-1zM94 253h1v1h-1zM94 256h1v1h-1zM94 258h1v1h-1zM94 262h1v1h-1zM94 271h1v1h-1zM94 278h1v1h-1zM94 280h1v1h-1zM102 22h1v1h-1zM102 43h1v1h-1zM102 62h1v2h-1zM102 66h1v1h-1zM102 86h1v1h-1zM102 123h1v1h-1zM102 125h1v1h-1zM102 131h1v1h-1zM102 160h1v1h-1zM102 172h1v1h-1zM102 177h1v1h-1zM102 211h1v1h-1zM102 253h1v1h-1zM102 265h1v1h-1zM183 22h2v1h-2zM80 23h1v1h-1zM80 124h1v1h-1zM80 135h1v1h-1zM80 195h1v1h-1zM80 206h1v1h-1zM100 23h2v2h-2zM100 71h2v1h-2zM100 85h2v1h-2zM100 93h2v1h-2zM100 101h2v1h-2zM100 134h2v2h-2zM100 182h2v1h-2zM100 187h2v1h-2zM100 209h2v1h-2zM100 215h2v1h-2zM100 256h2v1h-2zM116 24h2v1h-2zM116 35h2v1h-2zM116 47h2v1h-2zM116 93h2v1h-2zM116 97h2v1h-2zM116 108h2v1h-2zM116 129h2v1h-2zM116 185h2v1h-2zM43 25h1v1h-1zM43 141h1v1h-1zM101 26h1v1h-1zM101 46h1v1h-1zM101 51h1v1h-1zM101 56h1v1h-1zM101 106h1v1h-1zM101 108h1v1h-1zM101 121h1v1h-1zM101 146h1v1h-1zM101 153h1v1h-1zM101 162h1v1h-1zM101 173h1v2h-1zM101 186h1v1h-1zM101 199h1v1h-1zM101 210h1v1h-1zM101 230h1v2h-1zM101 236h1v1h-1zM101 260h1v2h-1zM101 266h1v2h-1zM101 270h1v1h-1zM103 26h1v1h-1zM103 44h1v1h-1zM103 52h1v1h-1zM103 56h1v1h-1zM103 81h1v1h-1zM103 91h1v1h-1zM103 107h1v1h-1zM103 135h1v1h-1zM103 140h1v1h-1zM103 147h1v1h-1zM103 187h1v1h-1zM103 192h1v1h-1zM103 194h1v1h-1zM103 209h1v1h-1zM103 215h1v1h-1zM103 255h1v1h-1zM68 27h2v1h-2zM68 249h2v1h-2zM102 27h3v1h-3zM41 28h2v1h-2zM59 28h1v1h-1zM59 138h1v1h-1zM59 200h1v1h-1zM59 218h1v1h-1zM59 260h1v1h-1zM76 28h1v1h-1zM76 46h1v1h-1zM76 49h1v1h-1zM76 85h1v1h-1zM76 132h1v1h-1zM76 177h1v1h-1zM76 207h1v1h-1zM76 256h1v1h-1zM86 28h1v1h-1zM86 30h1v1h-1zM86 69h1v1h-1zM86 75h1v1h-1zM86 117h1v1h-1zM86 134h1v1h-1zM86 212h1v1h-1zM86 268h1v1h-1zM86 275h1v1h-1zM86 277h1v1h-1zM117 28h1v1h-1zM117 88h1v1h-1zM117 107h1v1h-1zM117 145h1v1h-1zM117 171h1v1h-1zM117 242h1v1h-1zM117 282h1v1h-1zM117 285h1v1h-1zM192 28h1v1h-1zM192 157h1v1h-1zM192 247h1v1h-1zM183 29h1v1h-1zM183 38h1v1h-1zM183 104h1v1h-1zM183 157h1v1h-1zM183 165h1v1h-1zM183 175h1v1h-1zM183 242h1v1h-1zM183 254h1v1h-1zM183 261h1v1h-1zM183 271h1v1h-1zM187 29h1v1h-1zM187 173h1v1h-1zM187 220h1v1h-1zM187 259h1v1h-1zM179 30h1v1h-1zM179 40h1v1h-1zM179 47h1v1h-1zM179 136h1v1h-1zM179 181h1v1h-1zM179 190h1v1h-1zM179 248h1v1h-1zM109 31h2v1h-2zM109 171h2v1h-2zM109 261h2v1h-2zM113 32h2v1h-2zM113 168h2v1h-2zM113 192h2v1h-2zM71 33h3v1h-3zM71 60h3v1h-3zM71 166h3v1h-3zM90 33h2v1h-2zM90 55h2v1h-2zM90 145h2v1h-2zM94 33h2v1h-2zM94 71h2v1h-2zM94 102h2v1h-2zM94 242h2v1h-2zM155 33h2v1h-2zM155 40h2v1h-2zM155 69h2v1h-2zM155 85h2v1h-2zM155 110h2v1h-2zM155 121h2v1h-2zM155 133h2v1h-2zM155 148h2v1h-2zM155 153h2v1h-2zM155 274h2v1h-2zM4 34h2v1h-2zM4 58h2v1h-2zM4 105h2v1h-2zM4 117h2v1h-2zM4 154h2v1h-2zM4 174h2v2h-2zM4 206h2v1h-2zM4 270h2v1h-2zM81 35h2v1h-2zM81 59h2v1h-2zM81 68h2v1h-2zM81 86h2v1h-2zM81 245h2v1h-2zM81 251h2v1h-2zM140 35h1v1h-1zM140 76h1v1h-1zM140 89h1v1h-1zM140 99h1v1h-1zM140 128h1v1h-1zM140 180h1v1h-1zM140 191h1v1h-1zM118 36h1v1h-1zM118 62h1v1h-1zM118 72h1v1h-1zM118 114h1v1h-1zM118 116h1v1h-1zM118 151h1v1h-1zM118 174h1v1h-1zM118 181h1v1h-1zM118 190h1v1h-1zM118 196h1v1h-1zM118 204h1v1h-1zM118 247h1v1h-1zM82 38h2v1h-2zM82 123h2v1h-2zM122 38h1v1h-1zM122 44h1v1h-1zM122 219h1v1h-1zM122 223h1v1h-1zM122 248h1v1h-1zM152 39h3v1h-3zM20 40h2v1h-2zM20 149h2v1h-2zM20 243h2v1h-2zM98 40h5v1h-5zM221 40h1v1h-1zM221 49h1v1h-1zM221 80h1v1h-1zM221 225h1v1h-1zM155 42h1v1h-1zM155 70h1v1h-1zM155 74h1v1h-1zM155 91h1v1h-1zM155 109h1v1h-1zM155 111h1v1h-1zM155 126h1v1h-1zM155 132h1v1h-1zM155 157h1v1h-1zM155 167h1v1h-1zM155 200h1v1h-1zM155 220h1v1h-1zM155 241h1v1h-1zM155 276h1v1h-1zM155 283h1v1h-1zM81 43h1v1h-1zM81 45h1v1h-1zM81 84h1v1h-1zM81 108h1v1h-1zM81 117h1v2h-1zM81 122h1v1h-1zM81 133h1v1h-1zM81 156h1v1h-1zM81 161h1v1h-1zM81 207h1v1h-1zM81 231h1v1h-1zM81 241h1v1h-1zM121 43h3v1h-3zM95 44h1v1h-1zM95 51h1v1h-1zM95 83h1v1h-1zM95 98h1v1h-1zM95 117h1v2h-1zM95 121h1v1h-1zM95 147h1v1h-1zM95 157h1v2h-1zM95 162h1v1h-1zM95 190h1v1h-1zM95 214h1v1h-1zM95 221h1v2h-1zM95 225h1v1h-1zM95 227h1v1h-1zM95 231h1v1h-1zM95 249h1v1h-1zM95 255h1v1h-1zM95 265h1v1h-1zM95 272h1v1h-1zM190 46h1v1h-1zM190 55h1v1h-1zM190 57h1v1h-1zM190 83h1v1h-1zM190 125h1v1h-1zM190 128h1v1h-1zM190 146h1v1h-1zM190 250h1v1h-1zM105 47h1v1h-1zM105 72h1v1h-1zM105 260h1v1h-1zM105 262h1v1h-1zM105 268h1v1h-1zM92 50h1v1h-1zM92 95h1v1h-1zM92 166h1v1h-1zM92 226h1v1h-1zM92 242h1v1h-1zM92 258h1v1h-1zM92 268h1v1h-1zM153 50h2v1h-2zM153 64h2v1h-2zM153 173h2v1h-2zM42 53h1v1h-1zM42 229h1v1h-1zM42 271h1v1h-1zM42 283h1v2h-1zM115 53h3v1h-3zM115 74h3v1h-3zM115 173h3v1h-3zM115 225h3v1h-3zM115 231h3v1h-3zM61 54h2v1h-2zM61 58h2v1h-2zM61 214h2v1h-2zM21 55h1v1h-1zM21 78h1v1h-1zM21 139h1v1h-1zM21 192h1v1h-1zM21 200h1v1h-1zM21 211h1v1h-1zM21 273h1v1h-1zM78 57h2v1h-2zM78 131h2v1h-2zM78 154h2v1h-2zM78 164h2v1h-2zM78 222h2v1h-2zM124 57h1v1h-1zM124 137h1v1h-1zM124 159h1v1h-1zM124 196h1v1h-1zM124 223h1v1h-1zM124 253h1v1h-1zM124 273h1v1h-1zM231 57h1v1h-1zM231 127h1v1h-1zM231 136h1v1h-1zM231 176h1v1h-1zM231 195h1v1h-1zM10 58h1v1h-1zM10 79h1v1h-1zM10 82h1v1h-1zM10 88h1v2h-1zM10 93h1v1h-1zM10 96h1v1h-1zM10 167h1v1h-1zM10 191h1v1h-1zM10 195h1v1h-1zM10 229h1v1h-1zM14 58h1v1h-1zM95 58h3v1h-3zM172 58h1v1h-1zM172 94h1v1h-1zM172 148h1v1h-1zM172 150h1v1h-1zM172 173h1v1h-1zM79 60h2v1h-2zM187 60h2v1h-2zM187 205h2v1h-2zM187 238h2v1h-2zM154 62h3v1h-3zM154 122h3v1h-3zM154 172h3v1h-3zM154 209h3v1h-3zM154 219h3v1h-3zM154 258h3v1h-3zM154 262h3v1h-3zM176 62h1v1h-1zM176 90h1v1h-1zM176 121h1v1h-1zM176 148h1v1h-1zM176 168h1v1h-1zM20 63h1v1h-1zM20 103h1v1h-1zM20 121h1v1h-1zM20 128h1v1h-1zM20 143h1v2h-1zM20 151h1v1h-1zM20 154h1v1h-1zM20 179h1v1h-1zM20 187h1v1h-1zM20 234h1v1h-1zM20 246h1v1h-1zM20 254h1v1h-1zM91 68h2v1h-2zM189 69h1v1h-1zM189 229h1v1h-1zM112 70h2v1h-2zM112 89h2v1h-2zM112 262h2v1h-2zM77 71h1v1h-1zM77 91h1v1h-1zM77 165h1v1h-1zM77 238h1v1h-1zM77 248h1v1h-1zM120 72h4v1h-4zM152 74h2v1h-2zM152 93h2v1h-2zM152 110h2v1h-2zM152 142h2v1h-2zM152 154h2v1h-2zM152 179h2v1h-2zM152 202h2v1h-2zM152 223h2v1h-2zM152 254h2v1h-2zM62 76h1v1h-1zM62 188h1v1h-1zM58 77h2v1h-2zM58 90h2v1h-2zM58 100h2v1h-2zM58 152h2v1h-2zM58 198h2v1h-2zM58 251h2v1h-2zM67 77h3v1h-3zM67 81h3v1h-3zM67 93h3v1h-3zM67 136h3v1h-3zM67 161h3v1h-3zM67 80h1v1h-1zM67 84h1v1h-1zM67 94h1v1h-1zM67 102h1v1h-1zM67 142h1v1h-1zM67 173h1v1h-1zM67 201h1v1h-1zM67 210h1v1h-1zM67 256h1v1h-1zM67 269h1v1h-1zM62 81h2v1h-2zM106 81h2v1h-2zM106 185h2v1h-2zM106 220h2v1h-2zM96 84h2v1h-2zM96 100h2v1h-2zM96 199h2v1h-2zM96 217h2v1h-2zM96 237h2v1h-2zM96 243h2v1h-2zM96 269h2v1h-2zM96 282h2v1h-2zM179 84h3v1h-3zM151 91h3v1h-3zM151 181h3v1h-3zM178 94h2v1h-2zM178 141h2v1h-2zM99 95h2v1h-2zM99 167h2v1h-2zM99 170h2v1h-2zM99 222h2v1h-2zM99 238h2v1h-2zM99 277h2v1h-2zM31 97h1v1h-1zM31 102h1v1h-1zM31 150h1v1h-1zM31 159h1v1h-1zM92 99h2v1h-2zM92 122h2v1h-2zM92 283h2v1h-2zM71 105h5v1h-5zM75 107h2v1h-2zM75 137h2v1h-2zM75 184h2v1h-2zM75 225h2v1h-2zM184 107h3v1h-3zM98 109h4v1h-4zM41 111h1v1h-1zM41 135h1v1h-1zM41 172h1v1h-1zM108 111h2v1h-2zM178 113h1v1h-1zM178 132h1v1h-1zM73 114h2v1h-2zM73 255h2v1h-2zM73 281h2v1h-2zM79 115h3v1h-3zM175 123h1v1h-1zM175 283h1v1h-1zM80 126h3v1h-3zM66 128h3v1h-3zM151 138h4v1h-4zM151 169h4v1h-4zM186 141h1v1h-1zM186 162h1v1h-1zM186 269h1v1h-1zM186 279h1v1h-1zM186 281h1v1h-1zM64 144h2v1h-2zM64 183h2v1h-2zM64 198h2v1h-2zM80 145h2v1h-2zM80 188h2v1h-2zM191 147h2v1h-2zM191 159h2v1h-2zM72 148h2v1h-2zM72 191h2v1h-2zM189 151h3v1h-3zM187 154h3v1h-3zM70 155h4v1h-4zM81 162h3v1h-3zM81 273h3v1h-3zM60 174h3v1h-3zM109 175h1v1h-1zM109 182h1v1h-1zM109 208h1v1h-1zM109 229h1v1h-1zM109 283h1v1h-1zM192 180h2v1h-2zM98 184h3v1h-3zM70 194h2v1h-2zM70 243h2v1h-2zM70 272h2v1h-2zM74 198h3v1h-3zM74 233h3v1h-3zM99 204h3v1h-3zM99 207h3v1h-3zM113 208h3v1h-3zM47 209h1v1h-1zM60 211h4v1h-4zM152 214h5v1h-5zM186 219h3v1h-3zM71 221h2v1h-2zM71 229h2v1h-2zM189 222h2v1h-2zM109 224h3v1h-3zM90 230h3v1h-3zM103 236h3v1h-3zM71 238h1v1h-1zM122 242h3v1h-3zM87 254h2v1h-2zM42 255h2v1h-2zM190 256h4v1h-4zM209 257h1v1h-1zM211 260h1v1h-1zM10 261h2v1h-2zM18 263h1v1h-1zM59 271h2v1h-2zM115 272h2v1h-2zM184 279h1v1h-1zM184 285h1v1h-1zM79 283h4v1h-4zM63 284h2v1h-2zM182 285h1v1h-1z"/>
<path fill="#26828e" d="M20 0h1v1h-1zM20 3h1v1h-1zM20 20h1v1h-1zM20 62h1v1h-1zM20 72h1v1h-1zM20 110h1v1h-1zM20 129h1v1h-1zM20 182h1v1h-1zM20 196h1v1h-1zM20 213h1v1h-1zM20 218h1v1h-1zM20 240h1v1h-1zM45 0h1v1h-1zM45 9h1v1h-1zM45 20h1v1h-1zM45 28h1v1h-1zM45 30h1v1h-1zM45 40h1v1h-1zM45 43h1v1h-1zM45 49h1v2h-1zM45 71h1v1h-1zM45 77h1v1h-1zM45 100h1v1h-1zM45 102h1v1h-1zM45 104h1v1h-1zM45 123h1v1h-1zM45 133h1v1h-1zM45 142h1v1h-1zM45 149h1v1h-1zM45 151h1v1h-1zM45 164h1v1h-1zM45 187h1v1h-1zM45 196h1v2h-1zM45 200h1v1h-1zM45 209h1v1h-1zM45 231h1v1h-1zM45 246h1v1h-1zM45 274h1v1h-1zM45 278h1v1h-1zM45 284h1v1h-1zM84 0h1v1h-1zM84 15h1v1h-1zM84 33h1v1h-1zM84 37h1v2h-1zM84 74h1v1h-1zM84 76h1v1h-1zM84 90h1v4h-1zM84 105h1v1h-1zM84 119h1v1h-1zM84 122h1v1h-1zM84 125h1v1h-1zM84 148h1v1h-1zM84 162h1v1h-1zM84 205h1v1h-1zM84 214h1v1h-1zM84 220h1v1h-1zM84 224h1v1h-1zM84 228h1v1h-1zM84 239h1v1h-1zM84 241h1v1h-1zM84 244h1v1h-1zM84 272h1v2h-1zM99 0h2v1h-2zM99 30h2v1h-2zM99 82h2v1h-2zM99 148h2v1h-2zM99 186h2v1h-2zM99 221h2v1h-2zM99 227h2v1h-2zM99 260h2v1h-2zM139 0h1v1h-1zM139 4h1v2h-1zM139 12h1v1h-1zM139 14h1v2h-1zM139 18h1v1h-1zM139 22h1v1h-1zM139 31h1v1h-1zM139 44h1v1h-1zM139 46h1v1h-1zM139 50h1v1h-1zM139 55h1v2h-1zM139 58h1v1h-1zM139 61h1v1h-1zM139 64h1v1h-1zM139 79h1v2h-1zM139 84h1v2h-1zM139 93h1v1h-1zM139 99h1v1h-1zM139 105h1v2h-1zM139 115h1v1h-1zM139 119h1v1h-1zM139 125h1v2h-1zM139 132h1v1h-1zM139 140h1v1h-1zM139 144h1v1h-1zM139 152h1v1h-1zM139 154h1v1h-1zM139 166h1v1h-1zM139 172h1v5h-1zM139 183h1v1h-1zM139 197h1v1h-1zM139 202h1v1h-1zM139 205h1v2h-1zM139 211h1v1h-1zM139 213h1v1h-1zM139 215h1v1h-1zM139 218h1v1h-1zM139 239h1v1h-1zM139 241h1v1h-1zM139 248h1v1h-1zM139 253h1v2h-1zM139 268h1v1h-1zM139 277h1v1h-1zM139 284h1v1h-1zM172 0h1v1h-1zM21 1h1v1h-1zM21 10h1v1h-1zM21 28h1v1h-1zM21 36h1v1h-1zM21 39h1v1h-1zM21 57h1v1h-1zM21 61h1v1h-1zM21 128h1v1h-1zM21 154h1v2h-1zM21 170h1v1h-1zM21 174h1v1h-1zM21 179h1v1h-1zM21 191h1v1h-1zM21 204h1v2h-1zM21 214h1v1h-1zM21 219h1v1h-1zM21 226h1v1h-1zM21 254h1v1h-1zM21 278h1v1h-1zM40 1h3v1h-3zM47 1h1v1h-1zM47 35h1v1h-1zM47 54h1v1h-1zM47 60h1v1h-1zM47 146h1v1h-1zM47 164h1v1h-1zM47 212h1v1h-1zM47 221h1v1h-1zM47 278h1v1h-1zM89 1h1v1h-1zM89 52h1v1h-1zM89 60h1v1h-1zM89 65h1v1h-1zM89 93h1v1h-1zM89 109h1v1h-1zM89 116h1v1h-1zM89 123h1v1h-1zM89 125h1v1h-1zM89 135h1v1h-1zM89 190h1v1h-1zM89 194h1v2h-1zM89 197h1v1h-1zM89 205h1v1h-1zM89 213h1v1h-1zM89 222h1v1h-1zM89 229h1v1h-1zM89 232h1v1h-1zM89 237h1v1h-1zM89 240h1v2h-1zM89 254h1v1h-1zM89 257h1v1h-1zM89 261h1v2h-1zM89 264h1v1h-1zM89 267h1v2h-1zM89 274h1v1h-1zM89 281h1v1h-1zM111 1h1v1h-1zM111 13h1v1h-1zM111 18h1v1h-1zM111 22h1v1h-1zM111 27h1v1h-1zM111 49h1v1h-1zM111 70h1v1h-1zM111 74h1v1h-1zM111 96h1v1h-1zM111 106h1v1h-1zM111 120h1v1h-1zM111 147h1v1h-1zM111 155h1v1h-1zM111 158h1v1h-1zM111 174h1v1h-1zM111 198h1v1h-1zM111 239h1v1h-1zM111 248h1v1h-1zM111 253h1v1h-1zM111 260h1v1h-1zM111 262h1v1h-1zM111 264h1v1h-1zM111 281h1v1h-1zM119 1h1v1h-1zM119 3h1v1h-1zM119 13h1v1h-1zM119 15h1v1h-1zM119 19h1v1h-1zM119 26h1v2h-1zM119 57h1v1h-1zM119 60h1v1h-1zM119 72h1v1h-1zM119 82h1v1h-1zM119 101h1v1h-1zM119 117h1v2h-1zM119 126h1v1h-1zM119 141h1v1h-1zM119 145h1v1h-1zM119 159h1v1h-1zM119 161h1v2h-1zM119 165h1v1h-1zM119 167h1v1h-1zM119 169h1v1h-1zM119 174h1v1h-1zM119 199h1v1h-1zM119 201h1v1h-1zM119 231h1v1h-1zM119 237h1v1h-1zM119 271h1v1h-1zM105 2h1v1h-1zM105 13h1v1h-1zM105 16h1v1h-1zM105 20h1v1h-1zM105 23h1v1h-1zM105 27h1v1h-1zM105 36h1v3h-1zM105 42h1v1h-1zM105 63h1v1h-1zM105 68h1v1h-1zM105 70h1v2h-1zM105 73h1v1h-1zM105 79h1v1h-1zM105 85h1v1h-1zM105 87h1v1h-1zM105 100h1v1h-1zM105 109h1v1h-1zM105 114h1v1h-1zM105 120h1v2h-1zM105 128h1v1h-1zM105 145h1v1h-1zM105 162h1v1h-1zM105 167h1v1h-1zM105 173h1v1h-1zM105 180h1v2h-1zM105 186h1v1h-1zM105 196h1v1h-1zM105 205h1v1h-1zM105 213h1v1h-1zM105 218h1v2h-1zM105 264h1v1h-1zM105 273h1v1h-1zM105 280h1v1h-1zM105 282h1v1h-1zM10 3h1v1h-1zM10 14h1v1h-1zM10 28h1v1h-1zM10 59h1v1h-1zM10 112h1v1h-1zM10 115h1v1h-1zM10 138h1v1h-1zM10 155h1v1h-1zM10 181h1v1h-1zM10 183h1v1h-1zM10 185h1v1h-1zM10 207h1v1h-1zM10 230h1v1h-1zM10 242h1v1h-1zM94 3h1v1h-1zM94 8h1v1h-1zM94 18h1v1h-1zM94 20h1v1h-1zM94 27h1v2h-1zM94 30h1v1h-1zM94 44h1v1h-1zM94 72h1v1h-1zM94 83h1v2h-1zM94 86h1v1h-1zM94 98h1v1h-1zM94 111h1v1h-1zM94 117h1v1h-1zM94 135h1v1h-1zM94 157h1v2h-1zM94 161h1v2h-1zM94 166h1v1h-1zM94 173h1v1h-1zM94 200h1v1h-1zM94 207h1v1h-1zM94 213h1v1h-1zM94 216h1v1h-1zM94 221h1v1h-1zM94 229h1v1h-1zM94 231h1v1h-1zM94 255h1v1h-1zM103 4h1v1h-1zM103 63h1v1h-1zM103 80h1v1h-1zM103 125h1v1h-1zM103 172h1v1h-1zM103 212h1v1h-1zM103 253h1v1h-1zM103 256h1v1h-1zM103 260h1v1h-1zM103 269h1v1h-1zM122 4h2v1h-2zM122 21h2v1h-2zM122 23h2v1h-2zM122 50h2v1h-2zM122 67h2v2h-2zM122 115h2v1h-2zM122 134h2v1h-2zM122 143h2v1h-2zM122 146h2v1h-2zM122 163h2v1h-2zM122 167h2v1h-2zM122 184h2v1h-2zM122 204h2v1h-2zM122 207h2v1h-2zM122 211h2v1h-2zM122 228h2v1h-2zM122 231h2v1h-2zM122 280h2v1h-2zM122 285h2v1h-2zM79 5h1v1h-1zM79 15h1v1h-1zM79 41h1v1h-1zM79 86h1v1h-1zM79 124h1v1h-1zM79 195h1v1h-1zM122 5h4v1h-4zM37 6h1v2h-1zM37 11h1v1h-1zM37 38h1v1h-1zM37 40h1v1h-1zM37 57h1v1h-1zM37 60h1v2h-1zM37 81h1v1h-1zM37 84h1v3h-1zM37 118h1v1h-1zM37 137h1v1h-1zM37 144h1v1h-1zM37 192h1v1h-1zM37 204h1v1h-1zM37 207h1v1h-1zM37 225h1v1h-1zM37 229h1v1h-1zM37 238h1v1h-1zM37 259h1v1h-1zM37 266h1v3h-1zM37 280h1v1h-1zM93 6h1v1h-1zM93 52h1v1h-1zM93 203h1v1h-1zM108 6h1v1h-1zM108 9h1v1h-1zM108 28h1v1h-1zM108 31h1v1h-1zM108 80h1v2h-1zM108 94h1v1h-1zM108 98h1v1h-1zM108 126h1v1h-1zM108 167h1v1h-1zM108 173h1v1h-1zM108 180h1v1h-1zM108 182h1v1h-1zM108 185h1v1h-1zM108 208h1v1h-1zM108 281h1v1h-1zM115 6h1v1h-1zM115 47h1v1h-1zM115 68h1v1h-1zM115 81h1v1h-1zM115 93h1v1h-1zM115 108h1v1h-1zM115 129h1v1h-1zM115 198h1v1h-1zM115 244h1v1h-1zM117 6h1v1h-1zM117 89h1v1h-1zM117 151h1v1h-1zM117 181h1v1h-1zM117 247h1v1h-1zM159 6h1v1h-1zM159 18h1v1h-1zM159 33h1v1h-1zM159 36h1v1h-1zM159 42h1v1h-1zM159 91h1v1h-1zM159 127h1v1h-1zM159 230h1v1h-1zM159 254h1v1h-1zM159 259h1v1h-1zM159 264h1v1h-1zM91 7h1v1h-1zM91 58h1v1h-1zM104 7h1v1h-1zM104 22h1v1h-1zM104 33h1v1h-1zM104 44h1v1h-1zM104 46h1v1h-1zM104 52h1v1h-1zM104 107h1v1h-1zM104 135h1v1h-1zM104 165h1v1h-1zM104 192h1v1h-1zM104 215h1v1h-1zM104 226h1v1h-1zM104 229h1v1h-1zM104 234h1v1h-1zM122 7h1v1h-1zM122 20h1v1h-1zM122 30h1v1h-1zM122 57h1v1h-1zM122 81h1v1h-1zM122 94h1v1h-1zM122 132h1v2h-1zM122 141h1v1h-1zM122 147h1v1h-1zM122 155h1v1h-1zM122 160h1v1h-1zM122 172h1v1h-1zM122 174h1v1h-1zM122 181h1v1h-1zM122 183h1v1h-1zM122 208h1v1h-1zM122 213h1v1h-1zM122 239h1v2h-1zM122 249h1v1h-1zM122 279h1v1h-1zM163 7h1v1h-1zM163 53h1v1h-1zM163 68h1v1h-1zM163 81h1v1h-1zM163 85h1v1h-1zM163 90h1v1h-1zM163 95h1v1h-1zM163 273h1v1h-1zM163 282h1v1h-1zM7 8h1v1h-1zM7 27h1v1h-1zM7 39h1v1h-1zM7 72h1v1h-1zM7 153h1v1h-1zM7 166h1v1h-1zM7 168h1v1h-1zM7 177h1v1h-1zM7 180h1v1h-1zM7 224h1v1h-1zM7 239h1v3h-1zM7 258h1v1h-1zM12 8h1v1h-1zM12 36h1v1h-1zM12 50h1v1h-1zM12 59h1v1h-1zM12 69h1v1h-1zM12 141h1v1h-1zM12 147h1v2h-1zM12 155h1v1h-1zM12 261h1v1h-1zM31 8h1v1h-1zM31 16h1v1h-1zM31 20h1v1h-1zM31 34h1v3h-1zM31 42h1v1h-1zM31 84h1v1h-1zM31 123h1v1h-1zM31 129h1v1h-1zM31 137h1v1h-1zM31 143h1v1h-1zM31 148h1v1h-1zM31 158h1v1h-1zM31 197h1v1h-1zM31 222h1v1h-1zM31 224h1v2h-1zM31 237h1v1h-1zM31 241h1v1h-1zM31 261h1v1h-1zM31 267h1v1h-1zM31 271h1v1h-1zM31 280h1v1h-1zM38 8h1v1h-1zM38 44h1v1h-1zM38 51h1v1h-1zM38 101h1v1h-1zM38 106h1v1h-1zM38 117h1v1h-1zM38 146h1v1h-1zM38 210h1v1h-1zM38 221h1v1h-1zM38 262h1v1h-1zM38 285h1v1h-1zM81 8h2v1h-2zM81 41h2v1h-2zM81 93h2v1h-2zM81 244h2v1h-2zM81 246h2v1h-2zM121 8h1v1h-1zM121 39h1v1h-1zM121 78h1v1h-1zM121 142h1v1h-1zM121 149h1v1h-1zM121 153h1v1h-1zM121 177h1v1h-1zM121 198h1v1h-1zM121 245h1v1h-1zM121 262h1v1h-1zM8 9h1v2h-1zM8 41h1v1h-1zM8 44h1v1h-1zM8 60h1v1h-1zM8 66h1v1h-1zM8 77h1v1h-1zM8 82h1v1h-1zM8 85h1v1h-1zM8 91h1v1h-1zM8 97h1v2h-1zM8 102h1v1h-1zM8 115h1v1h-1zM8 120h1v1h-1zM8 125h1v1h-1zM8 129h1v1h-1zM8 134h1v1h-1zM8 144h1v1h-1zM8 148h1v1h-1zM8 151h1v1h-1zM8 165h1v1h-1zM8 167h1v1h-1zM8 182h1v1h-1zM8 184h1v1h-1zM8 186h1v2h-1zM8 189h1v3h-1zM8 221h1v1h-1zM8 228h1v1h-1zM8 242h1v1h-1zM8 249h1v1h-1zM8 251h1v1h-1zM8 275h1v1h-1zM8 280h1v1h-1zM154 9h1v1h-1zM154 38h1v1h-1zM154 42h1v1h-1zM154 54h1v1h-1zM154 56h1v1h-1zM154 70h1v1h-1zM154 74h1v1h-1zM154 85h1v1h-1zM154 91h1v1h-1zM154 109h1v3h-1zM154 126h1v1h-1zM154 142h1v1h-1zM154 157h1v1h-1zM154 167h1v1h-1zM154 220h1v1h-1zM154 283h1v1h-1zM41 11h1v1h-1zM41 41h1v2h-1zM41 58h1v1h-1zM41 63h1v1h-1zM41 66h1v1h-1zM41 98h1v1h-1zM41 169h1v1h-1zM41 181h1v1h-1zM41 188h1v1h-1zM41 259h1v1h-1zM41 262h1v1h-1zM41 270h1v1h-1zM41 275h1v1h-1zM41 284h1v1h-1zM67 11h1v1h-1zM67 32h1v1h-1zM67 35h1v1h-1zM67 42h1v1h-1zM67 69h1v1h-1zM67 113h1v1h-1zM67 218h1v1h-1zM67 226h1v1h-1zM67 231h1v1h-1zM67 244h1v1h-1zM67 255h1v1h-1zM98 11h1v1h-1zM98 28h1v1h-1zM98 41h1v1h-1zM98 45h1v1h-1zM98 84h1v1h-1zM98 112h1v1h-1zM98 127h1v1h-1zM98 156h1v1h-1zM98 161h1v1h-1zM98 166h1v1h-1zM98 217h1v1h-1zM98 237h1v1h-1zM98 243h1v1h-1zM98 281h1v1h-1zM100 11h1v1h-1zM100 26h1v1h-1zM100 88h1v1h-1zM100 106h1v1h-1zM100 133h1v1h-1zM100 166h1v1h-1zM100 210h1v1h-1zM100 217h1v1h-1zM100 281h1v1h-1zM154 11h2v1h-2zM84 12h2v1h-2zM49 14h1v1h-1zM49 28h1v1h-1zM49 36h1v1h-1zM49 40h1v1h-1zM49 48h1v1h-1zM49 51h1v1h-1zM49 54h1v1h-1zM49 83h1v1h-1zM49 99h1v2h-1zM49 104h1v1h-1zM49 118h1v1h-1zM49 144h1v1h-1zM49 182h1v1h-1zM49 199h1v1h-1zM49 211h1v2h-1zM49 233h1v1h-1zM49 244h1v1h-1zM49 248h1v1h-1zM49 257h1v1h-1zM49 284h1v1h-1zM83 14h1v1h-1zM83 18h1v1h-1zM83 27h1v2h-1zM83 42h1v1h-1zM83 45h1v1h-1zM83 68h1v2h-1zM83 82h1v1h-1zM83 95h1v1h-1zM83 100h1v1h-1zM83 102h1v2h-1zM83 114h1v2h-1zM83 117h1v1h-1zM83 124h1v1h-1zM83 154h1v1h-1zM83 158h1v1h-1zM83 167h1v1h-1zM83 173h1v1h-1zM83 178h1v1h-1zM83 194h1v1h-1zM83 196h1v1h-1zM83 234h1v1h-1zM83 238h1v1h-1zM83 248h1v1h-1zM83 251h1v1h-1zM83 258h1v1h-1zM83 276h1v1h-1zM113 14h1v1h-1zM69 16h1v2h-1zM69 40h1v1h-1zM69 43h1v1h-1zM69 52h1v1h-1zM69 59h1v2h-1zM69 76h1v1h-1zM69 87h1v1h-1zM69 92h1v1h-1zM69 97h1v1h-1zM69 103h1v1h-1zM69 128h1v1h-1zM69 133h1v1h-1zM69 152h1v1h-1zM69 154h1v1h-1zM69 171h1v1h-1zM69 176h1v1h-1zM69 182h1v1h-1zM69 195h1v1h-1zM69 224h1v1h-1zM69 232h1v1h-1zM69 243h1v1h-1zM69 267h1v2h-1zM18 17h1v1h-1zM18 21h1v1h-1zM18 29h1v2h-1zM18 68h1v1h-1zM18 137h1v1h-1zM18 245h1v1h-1zM114 17h1v2h-1zM114 170h1v1h-1zM116 17h1v1h-1zM14 18h1v1h-1zM14 34h1v1h-1zM14 54h1v1h-1zM14 261h1v1h-1zM51 18h1v1h-1zM51 29h1v1h-1zM51 42h1v1h-1zM51 64h1v1h-1zM51 67h1v1h-1zM51 98h1v1h-1zM51 101h1v1h-1zM51 107h1v1h-1zM51 113h1v1h-1zM51 138h1v1h-1zM51 179h1v1h-1zM51 195h1v1h-1zM51 271h1v1h-1zM51 284h1v1h-1zM85 18h1v1h-1zM85 21h1v1h-1zM85 30h1v1h-1zM85 36h1v1h-1zM85 39h1v1h-1zM85 56h1v2h-1zM85 60h1v1h-1zM85 75h1v1h-1zM85 114h1v1h-1zM85 118h1v1h-1zM85 145h1v1h-1zM85 181h1v1h-1zM85 197h1v1h-1zM85 212h1v1h-1zM85 215h1v1h-1zM85 236h1v1h-1zM85 258h1v1h-1zM85 265h1v1h-1zM85 268h1v1h-1zM85 275h1v1h-1zM85 277h1v1h-1zM85 284h1v1h-1zM99 18h1v1h-1zM99 22h1v2h-1zM99 66h1v1h-1zM99 74h1v1h-1zM99 85h1v1h-1zM99 107h1v1h-1zM99 123h1v1h-1zM99 137h1v1h-1zM99 160h1v1h-1zM99 176h1v1h-1zM99 187h1v1h-1zM99 211h1v1h-1zM99 233h1v2h-1zM99 246h1v1h-1zM99 249h1v1h-1zM99 256h1v1h-1zM99 268h1v1h-1zM123 18h1v1h-1zM123 33h1v1h-1zM123 35h1v2h-1zM123 42h1v1h-1zM123 47h1v1h-1zM123 61h1v1h-1zM123 89h1v1h-1zM123 102h1v1h-1zM123 106h1v1h-1zM123 116h1v1h-1zM123 127h1v1h-1zM123 140h1v1h-1zM123 176h1v1h-1zM123 185h1v1h-1zM123 190h1v1h-1zM123 206h1v1h-1zM123 210h1v1h-1zM123 223h1v1h-1zM123 226h1v1h-1zM123 255h1v1h-1zM123 284h1v1h-1zM74 19h1v1h-1zM74 68h1v1h-1zM74 102h1v1h-1zM74 137h1v1h-1zM74 181h1v2h-1zM74 186h1v1h-1zM74 203h1v1h-1zM74 225h1v1h-1zM107 19h1v1h-1zM107 109h1v1h-1zM107 140h1v1h-1zM107 190h1v1h-1zM107 223h1v1h-1zM107 230h1v1h-1zM43 20h1v1h-1zM43 28h1v1h-1zM43 54h1v1h-1zM43 57h1v1h-1zM43 72h1v1h-1zM43 94h1v1h-1zM43 136h1v1h-1zM43 219h1v1h-1zM43 227h1v1h-1zM43 229h1v1h-1zM43 234h1v1h-1zM43 241h1v1h-1zM43 261h1v1h-1zM43 283h1v1h-1zM152 20h1v1h-1zM152 68h1v1h-1zM152 198h1v1h-1zM152 216h1v1h-1zM5 22h1v1h-1zM5 43h1v1h-1zM5 91h1v1h-1zM5 120h1v1h-1zM5 149h1v1h-1zM5 255h1v1h-1zM5 267h1v1h-1zM41 22h2v1h-2zM41 73h2v1h-2zM41 84h2v1h-2zM41 96h2v1h-2zM41 110h2v1h-2zM41 177h2v1h-2zM41 221h2v2h-2zM41 260h2v1h-2zM81 23h1v1h-1zM81 124h1v1h-1zM81 135h1v1h-1zM81 195h1v1h-1zM3 25h2v1h-2zM3 200h2v1h-2zM3 275h2v1h-2zM40 25h1v1h-1zM40 28h1v1h-1zM40 111h1v1h-1zM40 135h1v1h-1zM40 172h1v1h-1zM40 204h1v1h-1zM128 25h1v1h-1zM60 28h1v1h-1zM60 77h1v1h-1zM60 100h1v1h-1zM60 152h1v1h-1zM60 176h1v1h-1zM60 200h1v1h-1zM60 214h1v1h-1zM60 251h1v1h-1zM60 260h1v1h-1zM87 28h1v1h-1zM87 38h1v1h-1zM87 75h1v1h-1zM87 118h1v1h-1zM87 193h1v2h-1zM87 268h1v1h-1zM87 273h1v1h-1zM149 28h1v1h-1zM149 42h1v1h-1zM149 66h1v1h-1zM149 81h1v1h-1zM149 90h1v1h-1zM149 152h1v1h-1zM149 183h1v1h-1zM149 225h1v1h-1zM149 228h1v1h-1zM149 281h1v1h-1zM102 31h2v1h-2zM4 32h1v1h-1zM4 191h1v1h-1zM88 32h1v1h-1zM88 45h1v1h-1zM88 117h1v1h-1zM88 126h1v1h-1zM88 221h1v1h-1zM151 33h1v1h-1zM151 37h1v1h-1zM151 43h1v1h-1zM151 69h1v1h-1zM151 74h1v1h-1zM151 93h1v1h-1zM151 95h1v1h-1zM151 100h1v2h-1zM151 143h1v2h-1zM151 156h1v1h-1zM151 160h1v1h-1zM151 164h1v1h-1zM151 179h1v1h-1zM151 182h1v1h-1zM151 202h1v1h-1zM151 207h1v1h-1zM151 212h1v1h-1zM151 221h1v1h-1zM151 223h1v1h-1zM151 238h1v1h-1zM151 240h1v1h-1zM151 254h1v1h-1zM151 282h1v1h-1zM90 34h2v1h-2zM68 36h2v1h-2zM68 108h2v1h-2zM68 155h2v1h-2zM21 37h2v1h-2zM21 265h2v1h-2zM58 38h2v1h-2zM58 261h2v1h-2zM16 39h1v1h-1zM16 223h1v1h-1zM70 39h1v1h-1zM70 106h1v1h-1zM70 147h1v1h-1zM70 186h1v1h-1zM70 221h1v1h-1zM70 229h1v1h-1zM70 231h1v1h-1zM70 246h1v1h-1zM70 284h1v1h-1zM78 39h1v1h-1zM78 238h1v1h-1zM78 248h1v1h-1zM103 40h2v1h-2zM103 123h2v1h-2zM116 40h2v1h-2zM116 95h2v1h-2zM116 224h2v1h-2zM116 238h2v1h-2zM73 41h1v1h-1zM73 210h1v1h-1zM110 42h1v1h-1zM110 175h1v1h-1zM110 181h1v1h-1zM110 283h1v1h-1zM78 43h2v1h-2zM100 43h2v1h-2zM100 62h2v1h-2zM100 131h2v1h-2zM100 177h2v1h-2zM100 253h2v1h-2zM61 44h2v1h-2zM61 236h2v1h-2zM101 44h1v1h-1zM101 63h1v1h-1zM101 83h1v2h-1zM101 86h1v1h-1zM101 125h1v1h-1zM101 172h1v1h-1zM121 46h2v1h-2zM67 47h2v1h-2zM67 261h2v1h-2zM75 47h2v1h-2zM190 49h1v1h-1zM190 229h1v1h-1zM139 52h2v1h-2zM10 54h2v1h-2zM10 152h2v1h-2zM10 156h2v1h-2zM10 162h2v1h-2zM10 235h2v1h-2zM58 54h1v1h-1zM104 56h2v1h-2zM104 60h2v1h-2zM104 91h2v1h-2zM104 197h2v1h-2zM104 243h2v1h-2zM104 255h2v1h-2zM189 56h2v1h-2zM42 60h1v1h-1zM42 97h1v1h-1zM42 107h1v1h-1zM42 109h1v1h-1zM42 118h1v1h-1zM42 138h1v1h-1zM42 143h1v1h-1zM42 151h1v1h-1zM42 153h1v1h-1zM42 159h1v1h-1zM42 164h1v1h-1zM42 171h1v1h-1zM42 178h1v1h-1zM42 183h1v1h-1zM42 185h1v1h-1zM42 191h1v1h-1zM42 206h1v1h-1zM42 214h1v1h-1zM70 61h2v1h-2zM70 143h2v1h-2zM76 62h1v1h-1zM76 81h1v1h-1zM76 248h1v1h-1zM95 63h1v1h-1zM95 82h1v1h-1zM95 169h1v1h-1zM95 269h1v1h-1zM112 63h1v1h-1zM112 83h1v1h-1zM112 95h1v1h-1zM112 136h1v1h-1zM112 168h1v1h-1zM112 175h1v1h-1zM112 178h1v1h-1zM112 180h1v1h-1zM112 215h1v1h-1zM86 64h1v1h-1zM86 233h1v1h-1zM86 253h1v1h-1zM112 64h2v1h-2zM112 244h2v1h-2zM82 66h1v1h-1zM82 141h1v1h-1zM82 153h1v1h-1zM82 212h1v1h-1zM107 66h2v1h-2zM107 118h2v1h-2zM3 67h1v1h-1zM3 97h1v1h-1zM3 111h1v1h-1zM3 129h1v1h-1zM3 148h1v1h-1zM3 154h1v1h-1zM3 194h1v1h-1zM3 220h1v1h-1zM3 231h1v1h-1zM98 67h2v1h-2zM98 101h2v1h-2zM102 70h1v1h-1zM102 144h1v1h-1zM109 75h1v1h-1zM109 119h1v1h-1zM109 140h1v1h-1zM109 223h1v1h-1zM63 76h1v1h-1zM63 141h1v1h-1zM63 144h1v1h-1zM63 183h1v1h-1zM63 214h1v1h-1zM59 79h1v1h-1zM59 242h1v1h-1zM59 256h1v1h-1zM121 79h3v1h-3zM124 80h1v1h-1zM124 112h1v1h-1zM124 205h1v1h-1zM124 276h1v1h-1zM11 81h1v1h-1zM11 95h1v1h-1zM11 122h1v1h-1zM11 124h1v1h-1zM11 131h1v1h-1zM11 164h1v1h-1zM11 173h1v1h-1zM11 210h1v1h-1zM11 212h1v1h-1zM11 214h1v1h-1zM11 228h1v1h-1zM11 241h1v1h-1zM109 83h2v1h-2zM109 104h2v1h-2zM109 169h2v1h-2zM109 197h2v1h-2zM109 243h2v1h-2zM96 89h1v1h-1zM96 116h1v1h-1zM96 175h1v1h-1zM124 92h2v1h-2zM124 141h2v1h-2zM124 153h2v1h-2zM124 179h2v1h-2zM124 235h2v1h-2zM124 274h2v1h-2zM106 94h1v1h-1zM106 108h1v1h-1zM64 97h1v1h-1zM80 97h3v1h-3zM80 142h3v1h-3zM80 264h3v1h-3zM125 98h1v1h-1zM125 217h1v1h-1zM125 254h1v1h-1zM125 273h1v1h-1zM19 99h1v1h-1zM19 124h1v1h-1zM19 143h1v1h-1zM19 263h1v1h-1zM22 101h1v1h-1zM22 172h1v1h-1zM22 200h1v1h-1zM22 211h1v1h-1zM22 229h1v1h-1zM20 102h2v1h-2zM20 109h2v1h-2zM20 123h2v1h-2zM20 150h2v1h-2zM20 152h2v1h-2zM20 212h2v1h-2zM20 225h2v1h-2zM20 228h2v1h-2zM20 256h2v1h-2zM83 108h2v1h-2zM83 247h2v1h-2zM155 113h2v1h-2zM155 131h2v1h-2zM120 114h1v1h-1zM120 124h1v1h-1zM120 147h1v1h-1zM120 192h1v1h-1zM120 203h1v2h-1zM140 118h1v1h-1zM140 120h1v1h-1zM140 148h1v2h-1zM140 159h1v1h-1zM140 161h1v1h-1zM140 163h1v1h-1zM140 169h1v1h-1zM140 238h1v1h-1zM140 273h1v1h-1zM7 119h2v1h-2zM7 285h2v1h-2zM72 120h1v1h-1zM72 133h1v1h-1zM73 121h3v1h-3zM90 126h1v1h-1zM90 221h1v1h-1zM94 126h2v1h-2zM94 199h2v1h-2zM94 282h2v1h-2zM50 127h1v1h-1zM50 134h1v1h-1zM50 146h1v1h-1zM50 266h1v1h-1zM92 128h1v1h-1zM97 130h2v1h-2zM97 250h2v1h-2zM74 132h2v1h-2zM177 132h1v1h-1zM162 133h2v1h-2zM68 134h1v1h-1zM68 190h1v1h-1zM68 257h1v1h-1zM118 135h1v1h-1zM118 203h1v1h-1zM118 265h1v1h-1zM153 139h1v1h-1zM80 143h1v1h-1zM80 182h1v1h-1zM80 221h1v1h-1zM80 237h1v1h-1zM80 255h1v1h-1zM96 145h2v1h-2zM176 154h2v1h-2zM75 159h1v1h-1zM75 257h1v2h-1zM190 161h3v1h-3zM156 167h1v1h-1zM156 238h1v1h-1zM156 241h1v1h-1zM156 276h1v1h-1zM151 170h2v1h-2zM151 229h2v1h-2zM151 273h2v1h-2zM99 171h3v1h-3zM99 265h3v1h-3zM99 284h3v1h-3zM115 174h3v1h-3zM115 243h3v1h-3zM155 201h1v1h-1zM120 209h2v1h-2zM120 276h2v1h-2zM111 221h3v1h-3zM67 222h3v1h-3zM18 226h2v1h-2zM18 243h2v1h-2zM42 226h2v1h-2zM42 240h2v1h-2zM42 258h2v1h-2zM158 226h1v1h-1zM188 229h1v1h-1zM154 231h3v1h-3zM74 236h3v1h-3zM4 248h2v1h-2zM151 265h3v1h-3zM162 266h1v1h-1zM61 277h1v1h-1zM176 283h1v1h-1zM183 285h1v1h-1z"/>
<path fill="#228b8d" d="M18 0h1v1h-1zM18 8h1v1h-1zM18 23h1v1h-1zM18 38h1v1h-1zM18 61h1v1h-1zM18 64h1v1h-1zM18 76h1v2h-1zM18 80h1v1h-1zM18 82h1v1h-1zM18 94h1v1h-1zM18 114h1v1h-1zM18 116h1v1h-1zM18 127h1v1h-1zM18 147h1v1h-1zM18 183h1v1h-1zM18 196h1v1h-1zM18 198h1v3h-1zM18 203h1v1h-1zM18 205h1v1h-1zM18 216h1v1h-1zM18 232h1v1h-1zM18 247h1v1h-1zM18 257h1v1h-1zM18 275h1v1h-1zM18 278h1v1h-1zM18 281h1v1h-1zM31 0h1v1h-1zM31 27h1v1h-1zM31 49h1v1h-1zM31 70h1v1h-1zM31 121h1v1h-1zM31 151h1v1h-1zM31 183h1v1h-1zM31 250h1v1h-1zM31 259h1v1h-1zM140 0h1v1h-1zM140 5h1v1h-1zM140 14h1v1h-1zM140 18h1v1h-1zM140 22h1v1h-1zM140 31h1v1h-1zM140 42h1v1h-1zM140 45h1v2h-1zM140 56h1v1h-1zM140 73h1v1h-1zM140 78h1v1h-1zM140 84h1v1h-1zM140 93h1v1h-1zM140 105h1v1h-1zM140 119h1v1h-1zM140 126h1v1h-1zM140 140h1v1h-1zM140 152h1v1h-1zM140 174h1v2h-1zM140 181h1v1h-1zM140 205h1v1h-1zM140 211h1v2h-1zM140 218h1v1h-1zM140 220h1v1h-1zM140 224h1v1h-1zM140 239h1v1h-1zM140 248h1v1h-1zM140 253h1v1h-1zM140 255h1v1h-1zM140 265h1v1h-1zM140 268h1v1h-1zM140 277h1v1h-1zM22 1h1v1h-1zM22 3h1v2h-1zM22 11h1v1h-1zM22 13h1v1h-1zM22 15h1v1h-1zM22 20h1v1h-1zM22 22h1v1h-1zM22 28h1v1h-1zM22 33h1v1h-1zM22 36h1v1h-1zM22 39h1v1h-1zM22 47h1v1h-1zM22 51h1v1h-1zM22 54h1v1h-1zM22 57h1v1h-1zM22 59h1v1h-1zM22 61h1v1h-1zM22 78h1v1h-1zM22 83h1v1h-1zM22 91h1v1h-1zM22 97h1v1h-1zM22 144h1v1h-1zM22 152h1v1h-1zM22 154h1v2h-1zM22 161h1v1h-1zM22 174h1v1h-1zM22 179h1v1h-1zM22 184h1v1h-1zM22 191h1v1h-1zM22 203h1v2h-1zM22 224h1v1h-1zM22 226h1v1h-1zM22 250h1v1h-1zM22 255h1v1h-1zM22 258h1v1h-1zM22 260h1v1h-1zM139 1h1v1h-1zM139 8h1v1h-1zM139 29h1v1h-1zM139 53h1v1h-1zM139 60h1v1h-1zM139 90h1v1h-1zM139 118h1v1h-1zM139 133h1v1h-1zM139 158h1v1h-1zM139 167h1v1h-1zM139 186h1v1h-1zM139 192h1v2h-1zM139 204h1v1h-1zM139 207h1v2h-1zM139 230h1v1h-1zM139 257h1v1h-1zM139 266h1v1h-1zM139 271h1v1h-1zM51 2h1v1h-1zM51 5h1v1h-1zM51 27h1v1h-1zM51 32h1v1h-1zM51 38h1v1h-1zM51 51h1v1h-1zM51 60h1v1h-1zM51 81h1v1h-1zM51 90h1v1h-1zM51 108h1v1h-1zM51 122h1v2h-1zM51 150h1v1h-1zM51 185h1v1h-1zM51 200h1v1h-1zM51 207h1v1h-1zM51 210h1v1h-1zM51 220h1v1h-1zM51 232h1v1h-1zM51 236h1v1h-1zM51 244h1v1h-1zM51 247h1v1h-1zM51 255h1v1h-1zM51 262h1v1h-1zM51 275h1v1h-1zM51 282h1v1h-1zM100 2h1v1h-1zM100 8h1v1h-1zM100 97h1v1h-1zM8 3h1v1h-1zM8 16h1v1h-1zM8 28h1v1h-1zM8 64h1v1h-1zM8 89h1v1h-1zM8 103h1v1h-1zM8 113h1v1h-1zM8 135h1v1h-1zM8 166h1v1h-1zM8 198h1v2h-1zM8 213h1v1h-1zM8 219h1v1h-1zM8 272h1v1h-1zM8 284h1v1h-1zM19 3h1v1h-1zM19 17h1v1h-1zM19 30h1v1h-1zM19 49h1v1h-1zM19 63h1v1h-1zM19 74h1v1h-1zM19 121h1v1h-1zM19 144h1v1h-1zM19 154h1v1h-1zM19 178h1v1h-1zM19 213h1v1h-1zM19 246h1v1h-1zM45 4h1v1h-1zM45 25h1v1h-1zM45 134h1v1h-1zM45 137h1v1h-1zM45 146h1v1h-1zM45 213h1v1h-1zM45 244h1v1h-1zM45 251h1v1h-1zM45 257h1v1h-1zM45 280h1v1h-1zM45 285h1v1h-1zM86 4h1v1h-1zM86 65h1v1h-1zM88 4h1v1h-1zM88 122h1v1h-1zM98 4h1v1h-1zM98 145h1v1h-1zM6 5h1v1h-1zM6 58h1v1h-1zM6 98h1v1h-1zM6 109h1v1h-1zM6 111h1v1h-1zM6 134h1v1h-1zM6 143h1v1h-1zM6 152h1v1h-1zM6 177h1v1h-1zM6 184h1v1h-1zM6 205h1v1h-1zM6 214h1v1h-1zM6 282h1v1h-1zM16 5h1v1h-1zM16 8h1v2h-1zM16 30h1v1h-1zM16 34h1v1h-1zM16 36h1v1h-1zM16 50h1v1h-1zM16 55h1v1h-1zM16 61h1v1h-1zM16 71h1v1h-1zM16 80h1v1h-1zM16 88h1v1h-1zM16 136h1v1h-1zM16 142h1v1h-1zM16 146h1v1h-1zM16 149h1v1h-1zM16 162h1v1h-1zM16 175h1v1h-1zM16 177h1v1h-1zM16 190h1v1h-1zM16 208h1v1h-1zM16 211h1v1h-1zM16 216h1v1h-1zM16 231h1v1h-1zM16 233h1v2h-1zM16 245h1v1h-1zM16 270h1v1h-1zM16 275h1v1h-1zM40 5h1v1h-1zM40 10h1v2h-1zM40 41h1v1h-1zM40 58h1v1h-1zM40 63h1v1h-1zM40 66h1v1h-1zM40 98h1v1h-1zM40 108h1v1h-1zM40 141h1v1h-1zM40 155h1v1h-1zM40 181h1v1h-1zM40 184h1v1h-1zM40 188h1v1h-1zM40 199h1v1h-1zM40 212h1v1h-1zM40 224h1v1h-1zM40 246h1v1h-1zM40 258h1v2h-1zM40 274h1v2h-1zM40 280h1v1h-1zM40 284h1v1h-1zM89 6h1v1h-1zM89 33h1v1h-1zM89 35h1v1h-1zM89 78h1v1h-1zM89 120h1v1h-1zM89 207h1v1h-1zM89 239h1v1h-1zM89 247h1v1h-1zM89 266h1v1h-1zM95 6h1v1h-1zM95 116h1v1h-1zM95 175h1v1h-1zM95 203h1v1h-1zM161 6h1v1h-1zM161 42h1v1h-1zM161 110h1v1h-1zM161 249h1v1h-1zM162 7h1v1h-1zM162 39h1v1h-1zM162 81h1v1h-1zM162 85h1v1h-1zM162 90h1v1h-1zM162 241h1v1h-1zM162 250h1v1h-1zM47 8h1v1h-1zM47 18h1v2h-1zM47 22h1v1h-1zM47 44h1v1h-1zM47 47h1v2h-1zM47 61h1v2h-1zM47 65h1v1h-1zM47 80h1v1h-1zM47 89h1v1h-1zM47 95h1v1h-1zM47 97h1v1h-1zM47 102h1v1h-1zM47 108h1v1h-1zM47 127h1v2h-1zM47 139h1v1h-1zM47 150h1v1h-1zM47 155h1v1h-1zM47 184h1v1h-1zM47 192h1v1h-1zM47 216h1v2h-1zM47 219h1v1h-1zM47 230h1v1h-1zM47 242h1v1h-1zM47 276h1v1h-1zM47 280h1v1h-1zM47 284h1v1h-1zM83 8h1v1h-1zM83 21h1v1h-1zM83 41h1v1h-1zM83 77h1v1h-1zM83 93h1v1h-1zM83 110h1v1h-1zM83 141h1v2h-1zM83 156h1v1h-1zM83 186h1v1h-1zM83 189h1v1h-1zM83 202h1v1h-1zM83 246h1v1h-1zM83 259h1v1h-1zM122 8h1v1h-1zM122 78h1v1h-1zM122 108h1v1h-1zM122 127h1v1h-1zM122 142h1v1h-1zM122 177h1v1h-1zM122 206h1v1h-1zM38 11h1v1h-1zM38 26h1v1h-1zM38 30h1v1h-1zM38 38h1v1h-1zM38 57h1v1h-1zM38 61h1v1h-1zM38 85h1v1h-1zM38 97h1v1h-1zM38 103h1v1h-1zM38 130h1v2h-1zM38 137h1v1h-1zM38 139h1v1h-1zM38 165h1v1h-1zM38 170h1v1h-1zM38 204h1v1h-1zM38 218h1v1h-1zM38 225h1v1h-1zM38 257h1v1h-1zM38 259h1v1h-1zM38 266h1v1h-1zM38 268h1v1h-1zM38 284h1v1h-1zM70 11h1v1h-1zM99 11h1v1h-1zM99 26h1v1h-1zM99 41h1v1h-1zM99 105h1v1h-1zM99 127h1v1h-1zM99 130h1v1h-1zM99 156h1v1h-1zM99 161h1v1h-1zM99 166h1v1h-1zM99 182h1v1h-1zM99 200h1v1h-1zM99 281h1v1h-1zM119 11h1v1h-1zM119 36h1v2h-1zM119 94h1v1h-1zM119 97h1v1h-1zM119 110h1v1h-1zM119 114h1v1h-1zM119 116h1v1h-1zM119 149h1v1h-1zM119 151h1v1h-1zM119 158h1v1h-1zM119 171h1v1h-1zM119 196h1v1h-1zM119 198h1v1h-1zM119 204h1v2h-1zM119 209h1v1h-1zM119 212h1v1h-1zM119 238h1v1h-1zM119 273h1v1h-1zM119 276h1v1h-1zM123 11h1v1h-1zM123 44h1v1h-1zM123 57h1v1h-1zM123 76h1v1h-1zM123 92h1v1h-1zM123 175h1v1h-1zM123 196h1v1h-1zM32 13h1v1h-1zM32 42h1v1h-1zM32 129h1v1h-1zM32 147h1v1h-1zM32 159h1v1h-1zM32 204h1v1h-1zM32 217h1v1h-1zM32 225h1v1h-1zM32 244h1v1h-1zM32 261h1v1h-1zM85 13h1v1h-1zM85 25h1v1h-1zM85 66h1v1h-1zM85 77h1v1h-1zM85 117h1v1h-1zM85 233h1v1h-1zM85 253h1v1h-1zM85 269h1v1h-1zM46 14h1v1h-1zM46 133h1v1h-1zM84 14h1v1h-1zM84 23h1v1h-1zM84 29h1v1h-1zM84 53h1v1h-1zM84 60h1v1h-1zM84 71h1v1h-1zM84 82h1v1h-1zM84 95h1v1h-1zM84 100h1v1h-1zM84 103h1v1h-1zM84 114h1v1h-1zM84 120h1v1h-1zM84 146h1v1h-1zM84 154h1v1h-1zM84 164h1v1h-1zM84 170h1v1h-1zM84 173h1v1h-1zM84 194h1v1h-1zM84 197h1v1h-1zM84 199h1v1h-1zM84 207h1v1h-1zM84 213h1v1h-1zM84 226h1v2h-1zM84 230h1v1h-1zM84 234h1v1h-1zM84 252h1v1h-1zM84 257h1v2h-1zM84 265h1v1h-1zM84 276h1v1h-1zM84 284h1v1h-1zM12 16h1v1h-1zM12 20h1v1h-1zM12 23h1v1h-1zM12 26h1v1h-1zM12 43h1v1h-1zM12 55h1v2h-1zM12 76h1v1h-1zM12 81h1v1h-1zM12 96h1v1h-1zM12 101h1v1h-1zM12 122h1v1h-1zM12 124h1v1h-1zM12 131h1v1h-1zM12 140h1v1h-1zM12 156h1v2h-1zM12 164h1v1h-1zM12 168h1v1h-1zM12 173h1v1h-1zM12 188h1v1h-1zM12 202h1v1h-1zM12 210h1v1h-1zM12 214h1v1h-1zM12 235h1v1h-1zM12 246h1v1h-1zM12 269h1v1h-1zM12 280h1v1h-1zM43 17h1v1h-1zM43 35h1v1h-1zM43 45h1v1h-1zM43 60h1v1h-1zM43 107h1v1h-1zM43 109h1v1h-1zM43 112h1v1h-1zM43 114h1v1h-1zM43 143h1v1h-1zM43 153h1v1h-1zM43 159h1v1h-1zM43 161h1v2h-1zM43 164h1v1h-1zM43 178h1v2h-1zM43 191h1v1h-1zM43 193h1v1h-1zM43 204h1v1h-1zM43 225h1v1h-1zM43 251h1v1h-1zM43 254h1v1h-1zM115 17h1v2h-1zM115 40h1v1h-1zM115 170h1v1h-1zM115 238h1v1h-1zM127 17h2v1h-2zM127 30h2v1h-2zM127 185h2v1h-2zM127 240h2v1h-2zM158 18h1v1h-1zM158 33h1v1h-1zM158 91h1v1h-1zM158 191h1v1h-1zM158 206h1v1h-1zM158 254h1v1h-1zM158 264h1v2h-1zM90 19h3v1h-3zM108 19h1v1h-1zM108 65h1v1h-1zM108 75h1v1h-1zM108 109h1v1h-1zM108 140h1v1h-1zM108 190h1v1h-1zM108 220h1v1h-1zM108 223h1v1h-1zM108 230h1v1h-1zM108 283h1v1h-1zM105 22h1v1h-1zM105 40h1v1h-1zM105 44h1v1h-1zM105 50h1v1h-1zM105 52h1v1h-1zM105 55h1v1h-1zM105 58h1v1h-1zM105 62h1v1h-1zM105 66h1v1h-1zM105 199h1v1h-1zM105 202h1v1h-1zM105 220h1v1h-1zM105 226h1v1h-1zM105 234h1v1h-1zM127 25h1v1h-1zM127 116h1v1h-1zM127 157h1v1h-1zM50 26h1v1h-1zM50 42h1v1h-1zM50 98h1v1h-1zM50 101h1v1h-1zM50 105h1v1h-1zM50 107h1v1h-1zM50 110h1v1h-1zM50 118h1v1h-1zM50 138h1v1h-1zM50 167h1v1h-1zM50 199h1v1h-1zM50 233h1v1h-1zM50 248h1v1h-1zM50 260h1v1h-1zM50 263h1v1h-1zM14 27h1v1h-1zM14 52h1v1h-1zM14 106h1v1h-1zM14 134h1v1h-1zM14 137h1v1h-1zM14 197h1v1h-1zM14 201h1v1h-1zM14 262h1v1h-1zM14 267h1v1h-1zM14 280h1v1h-1zM84 28h2v1h-2zM84 69h2v1h-2zM84 282h2v1h-2zM99 28h2v1h-2zM99 53h2v1h-2zM104 29h2v1h-2zM104 81h2v1h-2zM104 172h2v1h-2zM101 31h1v1h-1zM101 148h1v1h-1zM87 32h1v1h-1zM87 64h1v1h-1zM41 34h1v1h-1zM41 79h1v1h-1zM41 97h1v1h-1zM41 127h1v1h-1zM41 138h1v1h-1zM41 146h1v1h-1zM41 183h1v1h-1zM41 214h1v1h-1zM41 240h1v1h-1zM7 35h1v1h-1zM7 61h1v1h-1zM7 81h1v1h-1zM7 112h1v1h-1zM7 155h1v1h-1zM7 207h1v1h-1zM7 274h1v1h-1zM30 36h1v1h-1zM30 173h1v1h-1zM80 38h1v1h-1zM69 39h1v1h-1zM69 134h1v1h-1zM69 137h1v1h-1zM69 143h1v1h-1zM69 190h1v1h-1zM69 194h1v1h-1zM69 257h1v1h-1zM69 261h1v1h-1zM69 284h1v1h-1zM120 39h1v1h-1zM120 79h1v1h-1zM120 95h1v1h-1zM120 101h1v1h-1zM163 40h1v1h-1zM163 103h1v1h-1zM163 155h1v1h-1zM163 159h1v1h-1zM163 233h1v1h-1zM163 276h1v1h-1zM112 42h1v1h-1zM112 235h1v1h-1zM13 45h2v1h-2zM13 141h2v1h-2zM74 47h1v1h-1zM74 159h1v1h-1zM74 210h1v1h-1zM111 48h1v1h-1zM111 63h1v1h-1zM111 83h1v1h-1zM111 89h1v1h-1zM111 118h1v1h-1zM111 171h1v1h-1zM111 178h1v1h-1zM111 180h1v1h-1zM111 215h1v1h-1zM111 244h1v1h-1zM111 251h1v1h-1zM111 261h1v1h-1zM111 278h1v1h-1zM94 51h1v1h-1zM94 75h1v1h-1zM94 82h1v1h-1zM94 99h1v1h-1zM94 107h1v1h-1zM94 145h1v1h-1zM94 159h1v1h-1zM94 169h1v1h-1zM94 172h1v1h-1zM94 174h1v1h-1zM94 177h1v1h-1zM94 195h1v1h-1zM94 226h1v1h-1zM94 233h1v1h-1zM94 238h1v1h-1zM94 249h1v1h-1zM94 268h1v1h-1zM128 53h1v1h-1zM128 123h1v1h-1zM128 126h1v1h-1zM128 136h1v1h-1zM128 139h1v1h-1zM128 234h1v1h-1zM128 253h1v1h-1zM59 54h1v1h-1zM17 58h1v1h-1zM17 223h1v1h-1zM90 58h1v1h-1zM92 58h1v1h-1zM113 61h3v1h-3zM104 63h1v1h-1zM104 80h1v1h-1zM104 253h1v1h-1zM104 256h1v1h-1zM104 260h1v1h-1zM107 68h1v1h-1zM107 94h1v1h-1zM107 119h1v1h-1zM13 69h1v1h-1zM13 155h1v1h-1zM13 272h1v1h-1zM5 70h1v1h-1zM5 187h1v1h-1zM100 70h2v1h-2zM100 73h2v1h-2zM100 144h2v1h-2zM100 248h2v1h-2zM75 71h2v1h-2zM122 73h2v1h-2zM122 97h2v1h-2zM122 103h2v1h-2zM122 110h2v1h-2zM122 159h2v1h-2zM122 236h2v1h-2zM122 253h2v1h-2zM122 272h2v1h-2zM122 275h2v2h-2zM33 75h1v1h-1zM109 76h1v1h-1zM161 78h2v1h-2zM161 95h2v1h-2zM161 134h2v1h-2zM161 216h2v1h-2zM60 79h1v1h-1zM60 261h1v1h-1zM118 79h1v1h-1zM118 95h1v1h-1zM18 81h2v1h-2zM18 207h2v1h-2zM18 212h2v1h-2zM74 81h2v1h-2zM98 83h3v1h-3zM97 89h1v1h-1zM132 91h1v1h-1zM134 91h2v1h-2zM155 97h2v1h-2zM155 246h2v1h-2zM124 101h1v1h-1zM124 102h2v1h-2zM124 164h2v1h-2zM40 103h2v1h-2zM67 111h3v1h-3zM103 115h1v1h-1zM151 116h2v1h-2zM49 123h1v1h-1zM49 165h1v1h-1zM49 180h1v1h-1zM49 183h1v1h-1zM49 204h1v1h-1zM49 267h1v1h-1zM121 124h1v1h-1zM121 147h1v1h-1zM68 126h1v1h-1zM68 147h1v1h-1zM68 231h1v1h-1zM117 135h1v1h-1zM154 139h1v1h-1zM154 201h1v1h-1zM154 265h1v1h-1zM71 149h1v1h-1zM71 225h1v1h-1zM67 150h2v1h-2zM110 150h1v1h-1zM134 163h1v1h-1zM125 165h1v1h-1zM125 171h1v1h-1zM125 207h1v1h-1zM78 182h2v1h-2zM151 194h1v1h-1zM96 201h1v1h-1zM73 202h1v1h-1zM102 205h1v1h-1zM102 247h1v1h-1zM61 207h2v1h-2zM61 279h2v1h-2zM91 217h1v1h-1zM112 220h2v1h-2zM98 224h2v1h-2zM102 228h2v1h-2zM102 277h2v1h-2zM102 279h2v1h-2zM68 229h2v1h-2zM63 236h1v1h-1zM79 237h1v1h-1zM3 254h1v1h-1zM116 268h2v1h-2z"/>
<path fill="#1f958b" d="M19 0h1v1h-1zM19 19h1v2h-1zM19 38h1v1h-1zM19 45h1v1h-1zM19 72h1v1h-1zM19 77h1v1h-1zM19 82h1v1h-1zM19 94h1v1h-1zM19 96h1v1h-1zM19 110h1v1h-1zM19 114h1v1h-1zM19 129h1v1h-1zM19 182h1v1h-1zM19 187h1v1h-1zM19 196h1v1h-1zM19 203h1v1h-1zM19 218h1v1h-1zM19 220h1v1h-1zM19 236h1v1h-1zM19 269h1v1h-1zM19 281h1v1h-1zM32 0h1v2h-1zM32 8h1v1h-1zM32 16h1v1h-1zM32 20h1v1h-1zM32 34h1v1h-1zM32 36h1v1h-1zM32 47h1v1h-1zM32 49h1v1h-1zM32 62h1v1h-1zM32 66h1v1h-1zM32 70h1v1h-1zM32 106h1v1h-1zM32 121h1v1h-1zM32 123h1v1h-1zM32 143h1v1h-1zM32 151h1v1h-1zM32 158h1v1h-1zM32 166h1v1h-1zM32 175h1v1h-1zM32 197h1v3h-1zM32 267h1v1h-1zM32 271h1v1h-1zM32 275h1v1h-1zM32 281h1v1h-1zM149 0h1v1h-1zM149 10h1v1h-1zM149 22h1v1h-1zM149 29h1v2h-1zM149 33h1v1h-1zM149 35h1v1h-1zM149 71h1v1h-1zM149 74h1v1h-1zM149 85h1v1h-1zM149 89h1v1h-1zM149 91h1v1h-1zM149 103h1v1h-1zM149 116h1v1h-1zM149 137h1v1h-1zM149 140h1v1h-1zM149 154h1v2h-1zM149 163h1v1h-1zM149 173h1v1h-1zM149 178h1v1h-1zM149 180h1v1h-1zM149 187h1v1h-1zM149 192h1v1h-1zM149 201h1v2h-1zM149 205h1v3h-1zM149 222h1v3h-1zM149 226h1v1h-1zM149 231h1v1h-1zM149 239h1v1h-1zM149 242h1v1h-1zM149 252h1v1h-1zM149 254h1v1h-1zM149 260h1v2h-1zM149 263h1v1h-1zM149 266h1v2h-1zM149 269h1v1h-1zM149 271h1v1h-1zM149 283h1v1h-1zM13 1h2v1h-2zM13 16h2v1h-2zM13 55h2v1h-2zM13 59h2v1h-2zM13 100h2v1h-2zM13 125h2v1h-2zM13 177h2v1h-2zM13 180h2v1h-2zM13 235h2v1h-2zM13 249h2v1h-2zM30 1h1v1h-1zM30 24h1v1h-1zM30 28h1v1h-1zM30 49h1v1h-1zM30 64h1v1h-1zM30 70h1v1h-1zM30 112h1v1h-1zM30 129h1v1h-1zM30 148h1v1h-1zM30 150h1v1h-1zM30 203h1v1h-1zM30 264h1v1h-1zM39 1h1v1h-1zM39 25h1v1h-1zM39 51h1v1h-1zM39 65h1v1h-1zM39 115h1v1h-1zM39 120h1v1h-1zM39 183h1v1h-1zM39 255h1v1h-1zM39 285h1v1h-1zM140 1h1v1h-1zM140 4h1v1h-1zM140 9h1v1h-1zM140 29h1v1h-1zM140 44h1v1h-1zM140 54h1v1h-1zM140 58h1v1h-1zM140 60h1v2h-1zM140 90h1v1h-1zM140 102h1v1h-1zM140 106h1v1h-1zM140 125h1v1h-1zM140 131h1v2h-1zM140 141h1v1h-1zM140 150h1v1h-1zM140 155h1v1h-1zM140 158h1v1h-1zM140 166h1v2h-1zM140 179h1v1h-1zM140 185h1v2h-1zM140 193h1v1h-1zM140 204h1v1h-1zM140 206h1v1h-1zM140 223h1v1h-1zM140 230h1v1h-1zM140 249h1v1h-1zM140 254h1v1h-1zM140 257h1v1h-1zM140 266h1v1h-1zM140 269h1v2h-1zM14 2h1v1h-1zM14 32h1v1h-1zM14 35h1v1h-1zM14 43h1v1h-1zM14 56h1v1h-1zM14 139h1v1h-1zM14 181h1v1h-1zM14 184h1v1h-1zM14 202h1v1h-1zM14 207h1v1h-1zM14 250h1v1h-1zM14 270h1v1h-1zM14 272h1v1h-1zM14 276h1v1h-1zM14 279h1v1h-1zM50 2h1v1h-1zM50 22h1v1h-1zM50 28h1v1h-1zM50 61h1v1h-1zM50 63h1v1h-1zM50 81h1v1h-1zM50 99h1v2h-1zM50 123h1v1h-1zM50 136h1v1h-1zM50 144h1v1h-1zM50 150h1v1h-1zM50 165h1v1h-1zM50 179h1v1h-1zM50 193h1v1h-1zM50 204h1v1h-1zM50 211h1v1h-1zM50 232h1v1h-1zM50 236h1v1h-1zM50 262h1v1h-1zM50 267h1v1h-1zM50 282h1v1h-1zM94 2h1v1h-1zM94 6h1v1h-1zM94 52h1v1h-1zM94 122h1v1h-1zM94 132h1v1h-1zM94 175h1v1h-1zM94 203h1v1h-1zM130 2h2v1h-2zM130 47h2v1h-2zM130 247h2v1h-2zM163 3h1v2h-1zM163 6h1v1h-1zM163 14h1v1h-1zM163 37h1v1h-1zM163 44h1v1h-1zM163 51h1v1h-1zM163 54h1v1h-1zM163 57h1v1h-1zM163 62h1v1h-1zM163 69h1v1h-1zM163 72h1v1h-1zM163 93h1v1h-1zM163 98h1v2h-1zM163 101h1v1h-1zM163 109h1v1h-1zM163 115h1v1h-1zM163 118h1v1h-1zM163 126h1v2h-1zM163 134h1v2h-1zM163 137h1v1h-1zM163 162h1v2h-1zM163 165h1v1h-1zM163 171h1v1h-1zM163 180h1v1h-1zM163 187h1v1h-1zM163 198h1v1h-1zM163 205h1v1h-1zM163 219h1v1h-1zM163 222h1v1h-1zM163 225h1v1h-1zM163 230h1v1h-1zM163 236h1v1h-1zM163 241h1v1h-1zM163 250h1v1h-1zM163 266h1v1h-1zM163 271h1v1h-1zM163 274h1v1h-1zM6 4h1v1h-1zM6 8h1v1h-1zM6 10h1v1h-1zM6 25h1v1h-1zM6 27h1v1h-1zM6 39h1v1h-1zM6 41h1v1h-1zM6 45h1v1h-1zM6 53h1v1h-1zM6 67h1v2h-1zM6 74h1v1h-1zM6 92h1v1h-1zM6 99h1v1h-1zM6 122h1v1h-1zM6 130h1v1h-1zM6 135h1v1h-1zM6 154h1v1h-1zM6 158h1v1h-1zM6 170h1v1h-1zM6 180h1v2h-1zM6 185h1v1h-1zM6 202h1v1h-1zM6 206h1v1h-1zM6 216h1v1h-1zM6 218h1v1h-1zM6 220h1v1h-1zM6 222h1v1h-1zM6 229h1v1h-1zM6 250h1v1h-1zM6 258h1v1h-1zM6 268h1v1h-1zM6 276h1v1h-1zM6 284h1v2h-1zM44 4h1v1h-1zM44 141h1v1h-1zM44 187h1v1h-1zM44 197h1v1h-1zM44 234h1v1h-1zM44 272h1v1h-1zM87 4h1v1h-1zM99 4h1v1h-1zM99 14h1v1h-1zM99 73h1v1h-1zM159 5h1v1h-1zM159 15h1v1h-1zM159 20h1v1h-1zM159 31h1v1h-1zM159 37h1v1h-1zM159 41h1v1h-1zM159 50h1v1h-1zM159 60h1v1h-1zM159 62h1v1h-1zM159 66h1v1h-1zM159 68h1v1h-1zM159 71h1v2h-1zM159 74h1v2h-1zM159 77h1v2h-1zM159 82h1v1h-1zM159 89h1v1h-1zM159 99h1v1h-1zM159 109h1v1h-1zM159 112h1v1h-1zM159 124h1v1h-1zM159 130h1v1h-1zM159 135h1v1h-1zM159 152h1v2h-1zM159 164h1v1h-1zM159 177h1v1h-1zM159 183h1v1h-1zM159 192h1v3h-1zM159 200h1v2h-1zM159 207h1v1h-1zM159 212h1v1h-1zM159 215h1v1h-1zM159 223h1v1h-1zM159 226h1v1h-1zM159 241h1v1h-1zM159 245h1v1h-1zM159 247h1v1h-1zM159 250h1v1h-1zM159 253h1v1h-1zM159 258h1v1h-1zM159 260h1v2h-1zM159 270h1v1h-1zM8 6h1v1h-1zM8 32h1v1h-1zM8 72h1v1h-1zM8 153h1v1h-1zM8 250h1v1h-1zM8 262h1v1h-1zM8 276h1v1h-1zM148 6h1v1h-1zM148 66h1v1h-1zM148 93h1v1h-1zM148 129h1v1h-1zM148 152h1v1h-1zM148 225h1v1h-1zM148 228h1v1h-1zM148 281h1v1h-1zM161 7h1v1h-1zM161 40h1v1h-1zM161 60h1v1h-1zM161 71h1v1h-1zM161 81h1v1h-1zM161 144h1v1h-1zM161 150h1v1h-1zM161 194h1v1h-1zM161 215h1v1h-1zM161 241h1v1h-1zM161 245h1v1h-1zM161 253h1v1h-1zM161 268h1v1h-1zM17 8h1v1h-1zM17 21h1v1h-1zM17 29h1v2h-1zM17 68h1v1h-1zM17 137h1v1h-1zM17 159h1v1h-1zM17 186h1v1h-1zM17 203h1v1h-1zM17 271h1v1h-1zM134 8h2v1h-2zM134 61h2v1h-2zM134 151h2v1h-2zM134 203h2v1h-2zM134 213h2v1h-2zM134 254h2v1h-2zM46 9h1v1h-1zM46 21h1v1h-1zM46 48h1v1h-1zM46 54h1v1h-1zM46 62h1v1h-1zM46 71h1v1h-1zM46 77h1v1h-1zM46 97h1v1h-1zM46 100h1v1h-1zM46 102h1v1h-1zM46 108h1v1h-1zM46 127h1v1h-1zM46 139h1v1h-1zM46 142h1v2h-1zM46 164h1v1h-1zM46 230h1v1h-1zM46 252h1v1h-1zM46 257h1v1h-1zM46 284h1v1h-1zM161 9h3v1h-3zM161 142h3v1h-3zM161 280h3v1h-3zM23 10h1v1h-1zM23 35h1v1h-1zM23 40h1v1h-1zM23 69h1v1h-1zM23 74h1v1h-1zM23 82h1v1h-1zM23 92h1v1h-1zM23 122h1v1h-1zM23 130h1v2h-1zM23 151h1v1h-1zM23 171h1v1h-1zM23 173h1v1h-1zM23 181h1v1h-1zM23 199h1v1h-1zM23 206h1v1h-1zM23 211h1v1h-1zM23 241h1v1h-1zM23 253h1v1h-1zM23 264h1v1h-1zM33 11h1v1h-1zM33 13h1v1h-1zM33 17h1v1h-1zM33 93h1v1h-1zM33 125h1v1h-1zM33 147h1v1h-1zM33 204h1v1h-1zM33 215h1v1h-1zM33 217h1v1h-1zM33 234h1v1h-1zM33 240h1v1h-1zM33 244h1v1h-1zM158 12h1v1h-1zM158 22h1v1h-1zM158 84h1v1h-1zM158 86h1v1h-1zM158 119h1v1h-1zM158 165h1v1h-1zM158 187h1v1h-1zM158 205h1v1h-1zM158 220h1v1h-1zM158 267h1v1h-1zM158 283h1v1h-1zM84 13h1v1h-1zM84 18h1v1h-1zM84 21h1v1h-1zM84 30h1v1h-1zM84 56h1v1h-1zM84 102h1v1h-1zM84 110h1v1h-1zM84 117h1v1h-1zM84 121h1v1h-1zM84 142h1v1h-1zM84 156h1v1h-1zM84 189h1v1h-1zM84 196h1v1h-1zM84 212h1v1h-1zM84 235h1v1h-1zM84 259h1v1h-1zM84 275h1v1h-1zM84 277h1v1h-1zM129 17h1v1h-1zM129 128h1v1h-1zM129 185h1v1h-1zM13 18h1v1h-1zM13 20h1v1h-1zM13 23h1v1h-1zM13 27h1v1h-1zM13 75h1v2h-1zM13 85h1v1h-1zM13 101h1v1h-1zM13 131h1v1h-1zM13 137h1v1h-1zM13 140h1v1h-1zM13 145h1v1h-1zM13 151h1v1h-1zM13 156h1v2h-1zM13 167h1v2h-1zM13 178h1v1h-1zM13 187h1v1h-1zM13 197h1v2h-1zM13 214h1v1h-1zM13 236h1v1h-1zM13 269h1v1h-1zM15 18h1v1h-1zM15 54h1v1h-1zM15 261h1v1h-1zM161 20h2v1h-2zM161 103h2v1h-2zM161 119h2v1h-2zM161 153h2v2h-2zM161 157h2v1h-2zM161 159h2v1h-2zM161 251h2v1h-2zM161 276h2v1h-2zM35 23h1v1h-1zM35 109h1v1h-1zM35 111h1v1h-1zM35 158h1v1h-1zM35 239h1v1h-1zM99 25h2v1h-2zM150 28h1v1h-1zM150 54h1v1h-1zM150 66h1v1h-1zM150 80h1v2h-1zM150 90h1v1h-1zM150 152h1v2h-1zM150 198h1v1h-1zM150 216h1v1h-1zM150 227h1v1h-1zM126 30h1v1h-1zM126 92h1v1h-1zM126 100h1v1h-1zM126 110h1v1h-1zM126 116h1v1h-1zM126 157h1v1h-1zM126 166h1v1h-1zM126 177h1v1h-1zM126 239h1v1h-1zM126 273h1v1h-1zM40 34h1v1h-1zM40 42h1v1h-1zM40 79h1v1h-1zM40 220h1v1h-1zM40 225h1v1h-1zM40 228h1v1h-1zM40 233h1v1h-1zM89 34h1v1h-1zM89 117h1v1h-1zM89 126h1v2h-1zM89 221h1v1h-1zM89 250h1v1h-1zM32 35h2v1h-2zM32 254h2v1h-2zM158 35h2v1h-2zM158 54h2v2h-2zM158 73h2v1h-2zM158 120h2v1h-2zM158 148h2v1h-2zM158 171h2v1h-2zM158 186h2v1h-2zM158 202h2v1h-2zM158 248h2v1h-2zM158 263h2v1h-2zM158 273h2v1h-2zM79 38h1v1h-1zM81 38h1v1h-1zM148 40h2v1h-2zM111 42h1v1h-1zM111 169h1v1h-1zM111 175h1v1h-1zM111 194h1v1h-1zM111 243h1v1h-1zM162 42h2v1h-2zM162 102h2v1h-2zM162 107h2v1h-2zM127 49h1v1h-1zM127 122h1v1h-1zM108 51h1v1h-1zM108 119h1v1h-1zM108 179h1v1h-1zM110 52h1v1h-1zM110 75h1v1h-1zM112 52h1v1h-1zM112 75h1v1h-1zM112 150h1v1h-1zM69 53h1v1h-1zM69 126h1v1h-1zM69 147h1v1h-1zM69 150h1v1h-1zM69 186h1v1h-1zM69 231h1v1h-1zM60 54h1v1h-1zM149 61h2v1h-2zM119 62h1v1h-1zM119 133h1v1h-1zM119 147h1v1h-1zM119 203h1v1h-1zM119 265h1v1h-1zM129 63h2v1h-2zM129 139h2v1h-2zM129 187h2v1h-2zM129 216h2v1h-2zM129 282h2v1h-2zM85 65h1v1h-1zM139 75h1v1h-1zM139 181h1v1h-1zM139 225h1v1h-1zM107 76h1v1h-1zM133 77h1v1h-1zM133 91h1v1h-1zM105 80h1v1h-1zM105 94h1v1h-1zM105 108h1v1h-1zM105 210h1v1h-1zM105 228h1v1h-1zM105 256h1v1h-1zM16 82h1v1h-1zM126 90h2v1h-2zM126 96h2v1h-2zM126 234h2v1h-2zM126 253h2v1h-2zM131 91h1v1h-1zM131 277h1v1h-1zM157 91h1v1h-1zM157 126h1v1h-1zM157 169h1v1h-1zM157 197h1v1h-1zM157 206h1v1h-1zM157 254h1v1h-1zM100 108h1v1h-1zM123 112h1v1h-1zM123 141h1v1h-1zM123 188h1v1h-1zM123 205h1v1h-1zM123 266h1v1h-1zM130 113h1v1h-1zM83 120h1v1h-1zM83 153h1v1h-1zM100 124h2v1h-2zM100 205h2v1h-2zM100 247h2v1h-2zM3 128h1v1h-1zM3 242h1v1h-1zM104 137h1v1h-1zM122 153h2v1h-2zM162 155h1v1h-1zM162 272h1v1h-1zM135 179h1v1h-1zM135 216h1v1h-1zM132 201h4v1h-4zM74 202h1v1h-1zM48 209h1v1h-1zM101 228h1v1h-1zM101 279h1v1h-1zM82 240h1v1h-1zM122 245h1v1h-1zM122 262h1v1h-1zM102 248h1v1h-1zM133 255h3v1h-3zM134 279h1v1h-1zM132 281h1v1h-1zM63 283h1v1h-1z"/>
<path fill="#1f9f88" d="M44 0h1v1h-1zM44 8h1v1h-1zM44 20h1v1h-1zM44 28h1v1h-1zM44 30h1v1h-1zM44 34h1v1h-1zM44 40h1v1h-1zM44 45h1v1h-1zM44 57h1v1h-1zM44 88h1v1h-1zM44 101h1v1h-1zM44 105h1v1h-1zM44 114h1v1h-1zM44 133h1v1h-1zM44 136h1v1h-1zM44 143h1v2h-1zM44 162h1v1h-1zM44 164h1v1h-1zM44 166h1v1h-1zM44 175h1v1h-1zM44 179h1v1h-1zM44 190h1v1h-1zM44 193h1v1h-1zM44 196h1v1h-1zM44 200h1v1h-1zM44 209h1v1h-1zM44 225h1v2h-1zM44 240h1v1h-1zM44 246h1v1h-1zM44 254h1v1h-1zM44 261h1v1h-1zM44 285h1v1h-1zM126 0h3v1h-3zM126 69h3v2h-3zM126 108h3v1h-3zM126 113h3v1h-3zM126 117h3v1h-3zM126 130h3v1h-3zM126 149h3v1h-3zM126 154h3v1h-3zM126 167h3v1h-3zM126 169h3v1h-3zM126 208h3v1h-3zM126 243h3v1h-3zM11 1h1v1h-1zM11 7h1v1h-1zM11 27h1v1h-1zM11 37h1v1h-1zM11 51h1v1h-1zM11 84h1v1h-1zM11 102h1v1h-1zM11 121h1v1h-1zM11 163h1v1h-1zM11 169h1v1h-1zM11 188h1v1h-1zM11 195h1v1h-1zM11 208h1v1h-1zM11 229h1v1h-1zM11 244h1v1h-1zM11 250h1v1h-1zM11 276h1v1h-1zM48 1h1v1h-1zM48 35h1v1h-1zM48 60h1v1h-1zM48 104h1v1h-1zM48 106h1v1h-1zM48 146h1v1h-1zM128 1h1v1h-1zM128 4h1v1h-1zM128 7h1v1h-1zM128 31h1v1h-1zM128 34h1v1h-1zM128 58h1v1h-1zM128 60h1v1h-1zM128 67h1v1h-1zM128 81h1v1h-1zM128 101h1v1h-1zM128 104h1v1h-1zM128 111h1v2h-1zM128 138h1v1h-1zM128 152h1v1h-1zM128 186h1v1h-1zM128 204h1v1h-1zM128 207h1v1h-1zM128 210h1v1h-1zM128 238h1v1h-1zM128 278h1v1h-1zM149 1h1v1h-1zM149 21h1v1h-1zM149 32h1v1h-1zM149 70h1v1h-1zM149 80h1v1h-1zM149 87h1v1h-1zM149 95h1v1h-1zM149 99h1v2h-1zM149 106h1v1h-1zM149 119h1v1h-1zM149 127h1v1h-1zM149 131h1v1h-1zM149 139h1v1h-1zM149 143h1v1h-1zM149 160h1v1h-1zM149 165h1v2h-1zM149 189h1v1h-1zM149 191h1v1h-1zM149 198h1v1h-1zM149 227h1v1h-1zM149 232h1v1h-1zM149 240h1v1h-1zM149 243h1v1h-1zM149 247h1v1h-1zM149 249h1v2h-1zM149 257h1v1h-1zM149 284h1v1h-1zM23 2h1v1h-1zM23 14h1v1h-1zM23 22h1v1h-1zM23 34h1v1h-1zM23 54h1v1h-1zM23 59h1v1h-1zM23 63h1v1h-1zM23 72h1v1h-1zM23 79h1v1h-1zM23 95h1v1h-1zM23 104h1v1h-1zM23 106h1v1h-1zM23 108h1v1h-1zM23 110h1v2h-1zM23 132h1v1h-1zM23 135h1v1h-1zM23 138h1v1h-1zM23 146h1v1h-1zM23 169h1v1h-1zM23 193h1v1h-1zM23 201h1v1h-1zM23 208h1v1h-1zM23 219h1v1h-1zM23 234h1v2h-1zM23 243h1v1h-1zM23 261h1v1h-1zM23 279h1v1h-1zM129 3h1v1h-1zM129 228h1v1h-1zM132 3h1v1h-1zM132 29h1v1h-1zM132 39h1v1h-1zM132 55h1v1h-1zM132 121h1v1h-1zM132 131h1v1h-1zM132 135h1v1h-1zM132 147h1v1h-1zM132 191h1v2h-1zM132 202h1v1h-1zM132 208h1v1h-1zM132 249h1v1h-1zM132 270h1v1h-1zM132 277h1v2h-1zM161 4h2v1h-2zM161 55h2v1h-2zM161 58h2v1h-2zM161 68h2v1h-2zM161 72h2v1h-2zM161 75h2v1h-2zM161 89h2v1h-2zM161 99h2v1h-2zM161 115h2v1h-2zM161 117h2v1h-2zM161 127h2v1h-2zM161 152h2v1h-2zM161 163h2v1h-2zM161 174h2v1h-2zM161 179h2v1h-2zM161 207h2v1h-2zM161 222h2v1h-2zM161 227h2v2h-2zM161 236h2v1h-2zM161 243h2v1h-2zM161 274h2v1h-2zM161 283h2v1h-2zM17 5h1v1h-1zM17 9h1v1h-1zM17 12h1v1h-1zM17 14h1v1h-1zM17 25h1v1h-1zM17 34h1v1h-1zM17 55h1v1h-1zM17 71h1v1h-1zM17 76h1v1h-1zM17 80h1v1h-1zM17 82h1v1h-1zM17 88h1v1h-1zM17 116h1v1h-1zM17 126h1v1h-1zM17 136h1v1h-1zM17 147h1v1h-1zM17 152h1v1h-1zM17 177h1v1h-1zM17 183h1v1h-1zM17 191h1v1h-1zM17 196h1v1h-1zM17 200h1v1h-1zM17 216h1v1h-1zM17 232h1v1h-1zM17 234h1v1h-1zM17 243h1v1h-1zM17 247h1v1h-1zM17 257h1v1h-1zM17 275h1v1h-1zM20 5h1v1h-1zM20 11h1v1h-1zM20 34h1v1h-1zM20 36h1v1h-1zM20 38h1v1h-1zM20 51h1v2h-1zM20 60h1v1h-1zM20 70h1v1h-1zM20 112h1v1h-1zM20 125h1v1h-1zM20 131h1v1h-1zM20 140h1v1h-1zM20 158h1v1h-1zM20 160h1v1h-1zM20 170h1v1h-1zM20 178h1v1h-1zM20 199h1v3h-1zM20 209h1v1h-1zM20 219h1v1h-1zM20 226h1v1h-1zM20 231h1v1h-1zM20 233h1v1h-1zM20 241h1v1h-1zM20 255h1v1h-1zM20 259h1v1h-1zM20 278h1v1h-1zM162 6h1v1h-1zM162 67h1v1h-1zM162 93h1v1h-1zM162 126h1v1h-1zM162 162h1v1h-1zM162 165h1v1h-1zM162 198h1v1h-1zM162 205h1v1h-1zM162 225h1v1h-1zM162 255h1v1h-1zM162 282h1v1h-1zM30 7h1v1h-1zM30 18h1v1h-1zM30 26h1v1h-1zM30 35h1v1h-1zM30 62h1v1h-1zM30 80h1v1h-1zM30 85h1v2h-1zM30 102h1v1h-1zM30 136h1v1h-1zM30 153h1v1h-1zM30 168h1v1h-1zM30 174h1v1h-1zM30 181h1v1h-1zM30 196h1v1h-1zM30 218h1v1h-1zM30 222h1v1h-1zM30 224h1v1h-1zM30 229h1v1h-1zM30 231h1v2h-1zM30 244h1v1h-1zM30 263h1v1h-1zM30 271h1v1h-1zM30 276h1v1h-1zM30 280h1v1h-1zM158 7h1v1h-1zM158 11h1v1h-1zM158 15h1v1h-1zM158 19h1v1h-1zM158 24h1v3h-1zM158 37h1v1h-1zM158 62h1v1h-1zM158 65h1v2h-1zM158 71h1v2h-1zM158 75h1v1h-1zM158 77h1v1h-1zM158 89h1v1h-1zM158 98h1v2h-1zM158 112h1v1h-1zM158 116h1v1h-1zM158 122h1v1h-1zM158 124h1v1h-1zM158 132h1v1h-1zM158 135h1v1h-1zM158 137h1v2h-1zM158 140h1v1h-1zM158 150h1v1h-1zM158 152h1v1h-1zM158 177h1v1h-1zM158 183h1v1h-1zM158 193h1v2h-1zM158 200h1v1h-1zM158 207h1v1h-1zM158 212h1v1h-1zM158 217h1v1h-1zM158 222h1v2h-1zM158 230h1v1h-1zM158 247h1v1h-1zM158 255h1v1h-1zM158 260h1v3h-1zM158 280h1v1h-1zM140 8h1v1h-1zM140 112h1v1h-1zM140 207h1v1h-1zM140 225h1v1h-1zM127 9h2v1h-2zM127 102h2v1h-2zM127 110h2v1h-2zM127 142h2v1h-2zM127 150h2v1h-2zM127 153h2v1h-2zM127 168h2v1h-2zM127 184h2v1h-2zM161 11h1v1h-1zM161 14h1v1h-1zM161 16h1v2h-1zM161 124h1v1h-1zM161 130h1v1h-1zM161 199h1v1h-1zM161 248h1v1h-1zM161 250h1v1h-1zM161 252h1v1h-1zM161 270h1v1h-1zM10 12h1v1h-1zM10 38h1v1h-1zM10 41h1v1h-1zM10 60h1v1h-1zM10 74h1v1h-1zM10 83h1v1h-1zM10 85h1v1h-1zM10 104h1v1h-1zM10 109h1v1h-1zM10 141h1v1h-1zM10 173h1v1h-1zM10 223h1v1h-1zM10 227h1v1h-1zM10 236h1v1h-1zM10 252h1v1h-1zM10 266h1v1h-1zM10 282h1v1h-1zM126 12h1v2h-1zM126 180h1v1h-1zM131 12h2v1h-2zM131 18h2v1h-2zM131 112h2v1h-2zM134 12h1v1h-1zM134 22h1v1h-1zM134 135h1v1h-1zM134 158h1v1h-1zM134 207h1v2h-1zM134 214h1v1h-1zM134 229h1v1h-1zM134 258h1v1h-1zM134 271h1v1h-1zM159 12h1v1h-1zM159 17h1v1h-1zM159 63h1v1h-1zM159 93h1v1h-1zM159 111h1v1h-1zM159 141h1v1h-1zM159 266h1v1h-1zM159 271h1v1h-1zM20 14h2v1h-2zM20 21h2v1h-2zM20 173h2v1h-2zM20 210h2v1h-2zM20 239h2v1h-2zM35 14h1v1h-1zM35 39h1v1h-1zM35 42h1v1h-1zM35 57h1v1h-1zM35 66h1v1h-1zM35 91h1v1h-1zM35 106h1v1h-1zM35 168h1v1h-1zM35 182h1v1h-1zM35 212h1v1h-1zM35 222h1v1h-1zM35 228h1v1h-1zM35 241h1v1h-1zM35 261h1v1h-1zM35 284h1v1h-1zM123 17h1v1h-1zM130 17h1v1h-1zM130 35h1v1h-1zM130 50h1v1h-1zM130 68h1v1h-1zM130 77h1v1h-1zM130 111h1v1h-1zM130 165h1v1h-1zM130 180h1v1h-1zM130 191h1v1h-1zM130 227h1v1h-1zM130 252h1v1h-1zM130 256h1v1h-1zM130 278h1v1h-1zM130 283h1v1h-1zM37 18h1v1h-1zM37 33h1v2h-1zM37 48h1v1h-1zM37 70h1v1h-1zM37 91h1v1h-1zM37 100h1v1h-1zM37 107h1v1h-1zM37 128h1v1h-1zM37 130h1v3h-1zM37 157h1v1h-1zM37 160h1v1h-1zM37 170h1v1h-1zM37 202h1v1h-1zM37 206h1v1h-1zM37 217h1v1h-1zM37 222h1v1h-1zM37 224h1v1h-1zM37 226h1v1h-1zM37 250h1v1h-1zM37 271h1v1h-1zM37 273h1v1h-1zM37 275h1v1h-1zM37 279h1v1h-1zM37 284h1v1h-1zM49 18h1v1h-1zM49 63h1v1h-1zM49 77h1v1h-1zM49 115h1v1h-1zM49 136h1v1h-1zM49 193h1v1h-1zM49 208h1v1h-1zM49 265h1v1h-1zM46 19h1v1h-1zM46 43h1v1h-1zM46 55h1v1h-1zM46 61h1v1h-1zM46 80h1v1h-1zM46 89h1v1h-1zM46 104h1v1h-1zM46 149h1v2h-1zM46 152h1v1h-1zM46 184h1v1h-1zM46 192h1v1h-1zM46 203h1v1h-1zM46 264h1v1h-1zM46 280h1v1h-1zM126 22h2v1h-2zM126 51h2v1h-2zM126 53h2v1h-2zM126 91h2v1h-2zM126 105h2v1h-2zM126 159h2v1h-2zM126 170h2v1h-2zM126 189h2v1h-2zM126 192h2v1h-2zM126 249h2v1h-2zM131 26h1v1h-1zM131 162h1v1h-1zM131 181h1v1h-1zM39 30h1v1h-1zM39 38h1v1h-1zM39 53h1v1h-1zM39 79h1v1h-1zM39 103h1v1h-1zM39 107h1v2h-1zM39 110h1v1h-1zM39 131h1v1h-1zM39 137h1v1h-1zM39 140h1v1h-1zM39 158h1v1h-1zM39 199h1v1h-1zM39 204h1v1h-1zM39 211h1v2h-1zM39 218h1v1h-1zM39 220h1v1h-1zM39 224h1v2h-1zM39 236h1v1h-1zM39 246h1v1h-1zM39 249h1v1h-1zM39 263h1v1h-1zM39 284h1v1h-1zM162 30h2v1h-2zM162 38h2v1h-2zM9 34h3v1h-3zM8 35h1v1h-1zM8 68h1v1h-1zM10 35h2v1h-2zM10 50h2v1h-2zM10 56h2v1h-2zM10 61h2v1h-2zM10 64h2v1h-2zM10 75h2v1h-2zM10 97h2v1h-2zM10 110h2v1h-2zM10 120h2v1h-2zM10 128h2v1h-2zM10 134h2v1h-2zM10 136h2v1h-2zM10 165h2v1h-2zM10 172h2v1h-2zM10 178h2v1h-2zM10 194h2v1h-2zM10 196h2v1h-2zM10 211h2v1h-2zM10 222h2v1h-2zM10 224h2v1h-2zM10 234h2v1h-2zM10 253h2v1h-2zM10 274h2v1h-2zM10 278h2v1h-2zM41 37h2v1h-2zM41 269h2v1h-2zM136 37h1v1h-1zM136 108h1v1h-1zM136 173h1v1h-1zM136 203h1v1h-1zM136 213h1v1h-1zM136 216h1v1h-1zM15 39h1v1h-1zM15 52h1v1h-1zM15 142h1v1h-1zM15 201h1v1h-1zM15 262h1v1h-1zM15 267h1v1h-1zM15 284h1v1h-1zM134 41h2v1h-2zM134 63h2v1h-2zM134 82h2v1h-2zM134 121h2v1h-2zM134 182h2v1h-2zM134 193h2v1h-2zM134 204h2v1h-2zM134 211h2v1h-2zM134 217h2v1h-2zM134 245h2v1h-2zM134 275h2v1h-2zM157 41h1v1h-1zM157 86h1v1h-1zM157 148h1v1h-1zM157 171h1v1h-1zM157 283h1v1h-1zM6 43h1v1h-1zM6 91h1v1h-1zM6 120h1v1h-1zM6 147h1v1h-1zM6 149h1v1h-1zM6 167h1v1h-1zM6 224h1v1h-1zM6 241h1v1h-1zM6 255h1v1h-1zM6 274h1v1h-1zM158 45h2v1h-2zM158 149h2v1h-2zM158 204h2v1h-2zM135 47h1v1h-1zM135 55h1v1h-1zM135 59h1v1h-1zM135 95h1v1h-1zM135 102h1v1h-1zM135 140h1v1h-1zM135 155h1v1h-1zM135 157h1v1h-1zM135 163h1v1h-1zM135 247h1v1h-1zM42 48h1v1h-1zM42 64h1v1h-1zM42 111h1v1h-1zM42 122h1v1h-1zM42 131h1v1h-1zM42 145h1v1h-1zM42 154h1v1h-1zM42 182h1v1h-1zM42 207h1v2h-1zM42 230h1v1h-1zM42 252h1v1h-1zM42 264h1v1h-1zM33 51h1v1h-1zM33 53h1v1h-1zM33 61h1v2h-1zM33 66h1v1h-1zM33 77h1v1h-1zM33 106h1v1h-1zM33 124h1v1h-1zM33 142h1v1h-1zM33 145h1v1h-1zM33 158h1v1h-1zM33 166h1v1h-1zM33 175h1v1h-1zM33 190h1v2h-1zM33 198h1v1h-1zM33 206h1v1h-1zM33 228h1v1h-1zM33 232h1v1h-1zM33 266h1v1h-1zM33 271h1v1h-1zM33 275h1v1h-1zM33 281h1v1h-1zM111 52h1v1h-1zM111 75h1v1h-1zM111 150h1v1h-1zM127 52h1v1h-1zM127 124h1v1h-1zM127 242h1v1h-1zM127 262h1v1h-1zM127 268h1v1h-1zM128 57h3v1h-3zM128 179h3v1h-3zM128 217h3v1h-3zM21 59h1v1h-1zM21 86h1v1h-1zM21 99h1v1h-1zM21 114h1v1h-1zM21 129h1v1h-1zM21 168h1v1h-1zM21 181h1v1h-1zM21 284h1v1h-1zM34 75h1v1h-1zM34 111h1v1h-1zM34 137h1v1h-1zM34 215h1v1h-1zM108 76h1v1h-1zM84 77h1v1h-1zM84 269h1v1h-1zM119 79h1v1h-1zM119 95h1v1h-1zM99 80h2v1h-2zM163 91h1v1h-1zM163 111h1v2h-1zM163 149h1v1h-1zM163 203h1v1h-1zM163 221h1v1h-1zM31 103h1v1h-1zM31 246h1v1h-1zM157 109h2v1h-2zM109 117h2v1h-2zM142 117h1v1h-1zM142 123h1v1h-1zM142 238h1v1h-1zM142 255h1v1h-1zM45 118h1v1h-1zM45 125h1v1h-1zM45 178h1v1h-1zM45 188h1v1h-1zM45 208h1v1h-1zM45 211h1v1h-1zM45 259h1v1h-1zM45 267h1v1h-1zM103 121h1v1h-1zM161 164h3v1h-3zM161 182h3v1h-3zM161 217h3v1h-3zM161 224h3v1h-3zM161 259h3v1h-3zM128 166h2v1h-2zM128 196h2v1h-2zM41 179h1v1h-1zM41 243h1v1h-1zM122 180h1v1h-1zM129 213h3v1h-3zM129 279h3v1h-3zM83 240h1v1h-1zM130 240h3v1h-3zM129 271h2v1h-2z"/>
<path fill="#22a884" d="M148 0h1v1h-1zM148 3h1v1h-1zM148 5h1v1h-1zM148 10h1v1h-1zM148 23h1v1h-1zM148 29h1v2h-1zM148 33h1v1h-1zM148 35h1v1h-1zM148 41h1v1h-1zM148 56h1v1h-1zM148 61h1v2h-1zM148 74h1v1h-1zM148 77h1v1h-1zM148 79h1v1h-1zM148 83h1v1h-1zM148 85h1v1h-1zM148 87h1v1h-1zM148 91h1v1h-1zM148 103h1v1h-1zM148 140h1v1h-1zM148 143h1v1h-1zM148 151h1v1h-1zM148 154h1v2h-1zM148 187h1v1h-1zM148 192h1v1h-1zM148 205h1v3h-1zM148 220h1v1h-1zM148 231h1v1h-1zM148 242h1v1h-1zM148 261h1v1h-1zM148 263h1v1h-1zM148 266h1v2h-1zM148 276h1v2h-1zM148 283h1v1h-1zM150 0h1v1h-1zM150 10h1v1h-1zM150 16h1v1h-1zM150 18h1v1h-1zM150 22h1v1h-1zM150 31h1v1h-1zM150 35h1v1h-1zM150 40h1v1h-1zM150 42h1v1h-1zM150 48h1v1h-1zM150 71h1v1h-1zM150 74h1v1h-1zM150 85h1v1h-1zM150 89h1v1h-1zM150 91h1v1h-1zM150 103h1v1h-1zM150 115h1v2h-1zM150 121h1v1h-1zM150 123h1v1h-1zM150 125h1v1h-1zM150 137h1v2h-1zM150 140h1v1h-1zM150 149h1v1h-1zM150 163h1v2h-1zM150 169h1v1h-1zM150 178h1v1h-1zM150 187h1v1h-1zM150 192h1v1h-1zM150 201h1v2h-1zM150 205h1v2h-1zM150 223h1v2h-1zM150 239h1v1h-1zM150 249h1v1h-1zM150 254h1v1h-1zM150 258h1v1h-1zM150 260h1v1h-1zM150 264h1v1h-1zM150 270h1v1h-1zM150 283h1v1h-1zM37 1h1v2h-1zM37 19h1v1h-1zM37 26h1v2h-1zM37 29h1v1h-1zM37 36h1v1h-1zM37 42h1v1h-1zM37 55h1v1h-1zM37 71h1v1h-1zM37 96h1v1h-1zM37 98h1v1h-1zM37 110h1v1h-1zM37 114h1v2h-1zM37 119h1v1h-1zM37 127h1v1h-1zM37 140h1v1h-1zM37 147h1v1h-1zM37 151h1v1h-1zM37 153h1v1h-1zM37 159h1v1h-1zM37 176h1v1h-1zM37 178h1v1h-1zM37 181h1v1h-1zM37 220h1v1h-1zM37 223h1v1h-1zM37 233h1v1h-1zM37 264h1v1h-1zM129 1h1v1h-1zM129 4h1v1h-1zM129 34h1v2h-1zM129 50h1v1h-1zM129 62h1v1h-1zM129 68h1v1h-1zM129 79h1v1h-1zM129 104h1v1h-1zM129 111h1v1h-1zM129 113h1v1h-1zM129 117h1v1h-1zM129 149h1v1h-1zM129 152h1v1h-1zM129 165h1v1h-1zM129 169h1v1h-1zM129 184h1v1h-1zM129 240h1v1h-1zM129 258h1v1h-1zM129 278h1v1h-1zM15 2h1v1h-1zM15 5h1v1h-1zM15 7h1v2h-1zM15 32h1v1h-1zM15 34h1v2h-1zM15 43h1v1h-1zM15 47h1v1h-1zM15 50h1v1h-1zM15 55h1v2h-1zM15 60h1v1h-1zM15 90h1v2h-1zM15 143h1v1h-1zM15 146h1v1h-1zM15 162h1v1h-1zM15 181h1v1h-1zM15 184h1v1h-1zM15 186h1v1h-1zM15 188h1v1h-1zM15 192h1v1h-1zM15 195h1v1h-1zM15 207h1v1h-1zM15 211h1v1h-1zM15 213h1v1h-1zM15 233h1v1h-1zM15 250h1v1h-1zM15 256h1v1h-1zM15 270h1v1h-1zM15 272h1v1h-1zM15 276h1v1h-1zM15 279h1v1h-1zM135 2h1v1h-1zM135 22h1v1h-1zM135 73h1v1h-1zM135 119h1v1h-1zM135 123h1v1h-1zM135 126h1v1h-1zM135 145h1v1h-1zM135 189h1v1h-1zM135 197h1v1h-1zM135 207h1v1h-1zM135 231h1v2h-1zM135 239h1v1h-1zM135 279h1v1h-1zM157 2h1v1h-1zM157 7h1v1h-1zM157 10h1v1h-1zM157 12h1v1h-1zM157 19h1v1h-1zM157 22h1v1h-1zM157 24h1v3h-1zM157 33h1v1h-1zM157 37h1v1h-1zM157 40h1v1h-1zM157 48h1v1h-1zM157 55h1v1h-1zM157 62h1v1h-1zM157 69h1v1h-1zM157 71h1v3h-1zM157 75h1v1h-1zM157 77h1v1h-1zM157 89h1v1h-1zM157 98h1v2h-1zM157 108h1v1h-1zM157 116h1v1h-1zM157 119h1v1h-1zM157 122h1v1h-1zM157 124h1v1h-1zM157 135h1v1h-1zM157 137h1v2h-1zM157 140h1v1h-1zM157 147h1v1h-1zM157 151h1v2h-1zM157 165h1v2h-1zM157 172h1v1h-1zM157 177h1v1h-1zM157 179h1v1h-1zM157 183h1v1h-1zM157 185h1v2h-1zM157 200h1v1h-1zM157 202h1v4h-1zM157 214h1v1h-1zM157 219h1v2h-1zM157 226h1v1h-1zM157 230h1v1h-1zM157 232h1v1h-1zM157 236h1v1h-1zM157 248h1v1h-1zM157 255h1v1h-1zM157 261h1v1h-1zM157 267h1v1h-1zM157 273h1v1h-1zM157 280h1v3h-1zM157 284h1v1h-1zM126 3h3v1h-3zM126 32h3v1h-3zM126 43h3v1h-3zM126 93h3v1h-3zM126 187h3v1h-3zM126 198h3v1h-3zM126 205h3v1h-3zM126 216h3v1h-3zM126 255h3v1h-3zM126 276h3v1h-3zM131 3h1v1h-1zM131 35h1v1h-1zM131 39h1v1h-1zM131 50h1v1h-1zM131 68h1v1h-1zM131 121h1v1h-1zM131 147h1v1h-1zM131 180h1v1h-1zM131 191h1v1h-1zM131 227h1v1h-1zM131 231h1v1h-1zM131 262h1v1h-1zM131 270h1v1h-1zM131 281h1v1h-1zM133 3h3v1h-3zM133 33h3v1h-3zM133 74h3v1h-3zM133 83h3v1h-3zM133 94h3v1h-3zM133 112h3v1h-3zM133 169h3v1h-3zM133 246h3v1h-3zM126 4h2v1h-2zM126 80h2v2h-2zM126 88h2v1h-2zM126 101h2v1h-2zM126 104h2v1h-2zM126 112h2v1h-2zM126 123h2v1h-2zM126 125h2v1h-2zM126 138h2v2h-2zM126 175h2v1h-2zM126 261h2v1h-2zM126 275h2v1h-2zM18 6h1v1h-1zM18 78h1v1h-1zM18 123h1v1h-1zM18 136h1v1h-1zM18 155h1v1h-1zM18 182h1v1h-1zM18 184h1v1h-1zM18 187h1v1h-1zM18 213h1v1h-1zM18 224h1v1h-1zM18 229h1v1h-1zM18 248h1v1h-1zM18 250h1v1h-1zM18 260h1v1h-1zM18 277h1v1h-1zM49 6h1v2h-1zM49 11h1v1h-1zM49 35h1v1h-1zM49 45h1v1h-1zM49 81h1v2h-1zM49 90h1v1h-1zM49 92h1v1h-1zM49 107h1v1h-1zM49 125h1v1h-1zM49 138h1v1h-1zM49 147h1v1h-1zM49 154h1v1h-1zM49 160h1v1h-1zM49 174h1v1h-1zM49 178h1v1h-1zM49 197h1v1h-1zM49 202h1v1h-1zM49 216h1v1h-1zM49 219h1v1h-1zM49 240h1v1h-1zM49 246h1v1h-1zM49 258h1v1h-1zM49 264h1v1h-1zM49 266h1v1h-1zM132 6h2v1h-2zM132 63h2v1h-2zM132 109h2v1h-2zM132 211h2v1h-2zM132 245h2v1h-2zM160 6h1v1h-1zM160 33h1v1h-1zM160 42h1v1h-1zM160 110h1v1h-1zM160 127h1v1h-1zM160 249h1v1h-1zM160 259h1v1h-1zM12 7h1v1h-1zM12 22h1v1h-1zM12 27h1v1h-1zM12 102h1v1h-1zM12 115h1v1h-1zM12 121h1v1h-1zM12 137h1v1h-1zM12 142h1v1h-1zM12 163h1v1h-1zM12 172h1v1h-1zM12 191h1v1h-1zM12 215h1v1h-1zM12 218h1v1h-1zM12 229h1v1h-1zM12 244h1v1h-1zM12 274h1v1h-1zM12 276h1v1h-1zM20 8h1v1h-1zM20 17h1v1h-1zM20 28h1v1h-1zM20 32h1v1h-1zM20 45h1v1h-1zM20 64h1v1h-1zM20 82h1v1h-1zM20 91h1v1h-1zM20 122h1v1h-1zM20 142h1v1h-1zM20 153h1v1h-1zM20 156h1v1h-1zM20 181h1v1h-1zM20 195h1v1h-1zM20 202h1v4h-1zM20 207h1v1h-1zM20 216h1v1h-1zM20 237h1v1h-1zM20 242h1v1h-1zM20 245h1v1h-1zM20 248h1v1h-1zM20 252h1v1h-1zM20 258h1v1h-1zM20 268h1v1h-1zM20 281h1v1h-1zM126 8h1v1h-1zM126 10h1v1h-1zM126 47h1v1h-1zM126 64h1v1h-1zM126 124h1v1h-1zM126 150h1v1h-1zM126 200h1v1h-1zM126 212h1v1h-1zM126 227h1v1h-1zM126 246h1v1h-1zM126 268h1v1h-1zM126 282h1v1h-1zM141 8h1v1h-1zM141 52h1v1h-1zM141 117h1v2h-1zM141 120h1v1h-1zM141 148h1v1h-1zM141 159h1v1h-1zM141 161h1v1h-1zM141 169h1v1h-1zM141 238h1v1h-1zM23 9h1v1h-1zM23 12h1v1h-1zM23 20h1v1h-1zM23 38h1v1h-1zM23 46h1v1h-1zM23 51h1v1h-1zM23 53h1v1h-1zM23 87h1v1h-1zM23 94h1v1h-1zM23 102h1v1h-1zM23 107h1v1h-1zM23 109h1v1h-1zM23 114h1v1h-1zM23 120h1v1h-1zM23 148h1v1h-1zM23 150h1v1h-1zM23 160h1v1h-1zM23 162h1v1h-1zM23 175h1v1h-1zM23 187h1v1h-1zM23 194h1v1h-1zM23 209h1v1h-1zM23 214h1v1h-1zM23 222h1v1h-1zM23 270h1v1h-1zM23 274h1v2h-1zM51 9h1v1h-1zM51 17h1v1h-1zM51 23h1v1h-1zM51 56h1v4h-1zM51 106h1v1h-1zM51 141h1v1h-1zM51 151h1v1h-1zM51 155h1v1h-1zM51 162h1v1h-1zM51 170h1v1h-1zM51 202h1v1h-1zM51 212h1v1h-1zM51 223h1v1h-1zM51 225h1v1h-1zM51 227h1v1h-1zM51 238h1v1h-1zM51 242h1v1h-1zM51 245h1v1h-1zM51 258h1v1h-1zM51 265h1v1h-1zM51 278h1v1h-1zM133 10h1v1h-1zM133 18h1v1h-1zM133 22h1v1h-1zM133 29h1v1h-1zM133 39h1v1h-1zM133 48h1v1h-1zM133 108h1v1h-1zM133 119h1v1h-1zM133 121h1v1h-1zM133 135h1v1h-1zM133 147h1v1h-1zM133 158h1v1h-1zM133 173h1v1h-1zM133 182h1v1h-1zM133 185h1v1h-1zM133 191h1v1h-1zM133 202h1v1h-1zM133 205h1v1h-1zM133 208h1v1h-1zM133 217h1v1h-1zM133 240h1v1h-1zM133 249h1v1h-1zM133 259h1v1h-1zM133 265h1v1h-1zM133 270h1v2h-1zM133 275h1v1h-1zM133 277h1v2h-1zM144 10h2v1h-2zM144 26h2v1h-2zM144 151h2v1h-2zM144 167h2v1h-2zM144 185h2v1h-2zM144 211h2v1h-2zM144 263h2v1h-2zM43 11h1v1h-1zM43 31h1v1h-1zM43 34h1v1h-1zM43 40h1v1h-1zM43 48h1v1h-1zM43 64h1v1h-1zM43 67h1v1h-1zM43 80h1v1h-1zM43 85h1v1h-1zM43 97h1v1h-1zM43 108h1v1h-1zM43 122h1v1h-1zM43 129h1v1h-1zM43 145h1v1h-1zM43 154h1v1h-1zM43 171h1v1h-1zM43 176h1v1h-1zM43 182h1v2h-1zM43 199h1v1h-1zM43 202h1v1h-1zM43 207h1v1h-1zM43 210h1v1h-1zM43 216h1v1h-1zM43 230h1v1h-1zM43 252h1v1h-1zM43 263h1v1h-1zM45 11h1v1h-1zM45 19h1v1h-1zM45 26h1v1h-1zM45 66h1v1h-1zM45 76h1v1h-1zM45 86h1v1h-1zM45 96h1v1h-1zM45 98h1v1h-1zM45 106h1v1h-1zM45 110h1v1h-1zM45 113h1v1h-1zM45 117h1v1h-1zM45 126h1v1h-1zM45 130h1v1h-1zM45 141h1v1h-1zM45 184h1v1h-1zM45 189h1v2h-1zM45 193h1v1h-1zM45 210h1v1h-1zM45 230h1v1h-1zM45 237h1v1h-1zM45 239h1v1h-1zM45 254h1v1h-1zM45 258h1v1h-1zM45 261h1v1h-1zM45 270h1v1h-1zM11 12h1v1h-1zM11 21h1v1h-1zM11 77h1v1h-1zM11 88h1v1h-1zM11 118h1v1h-1zM11 125h1v1h-1zM11 130h1v1h-1zM11 160h1v1h-1zM11 181h1v1h-1zM11 207h1v1h-1zM11 216h1v1h-1zM10 13h1v1h-1zM10 15h1v1h-1zM10 25h1v1h-1zM10 40h1v1h-1zM10 49h1v1h-1zM10 53h1v1h-1zM10 57h1v1h-1zM10 86h1v1h-1zM10 95h1v1h-1zM10 102h1v1h-1zM10 105h1v1h-1zM10 122h1v1h-1zM10 149h1v1h-1zM10 169h1v1h-1zM10 171h1v1h-1zM10 177h1v1h-1zM10 193h1v1h-1zM10 199h1v1h-1zM10 209h1v1h-1zM10 257h1v1h-1zM10 276h1v2h-1zM31 13h1v1h-1zM31 21h1v1h-1zM31 26h1v1h-1zM31 51h1v1h-1zM31 60h1v1h-1zM31 64h1v2h-1zM31 67h1v1h-1zM31 72h1v1h-1zM31 75h1v1h-1zM31 85h1v1h-1zM31 89h1v2h-1zM31 110h1v1h-1zM31 113h1v1h-1zM31 124h1v1h-1zM31 132h1v1h-1zM31 140h1v1h-1zM31 149h1v1h-1zM31 152h1v1h-1zM31 167h1v1h-1zM31 169h1v1h-1zM31 180h1v1h-1zM31 186h1v1h-1zM31 190h1v1h-1zM31 195h1v1h-1zM31 209h1v1h-1zM31 214h1v1h-1zM31 219h1v1h-1zM31 230h1v1h-1zM31 232h1v1h-1zM31 236h1v1h-1zM31 248h1v1h-1zM31 252h1v1h-1zM31 265h1v1h-1zM31 269h1v1h-1zM31 277h1v1h-1zM48 14h1v1h-1zM48 22h1v1h-1zM48 25h1v1h-1zM48 44h1v1h-1zM48 47h1v2h-1zM48 54h1v1h-1zM48 83h1v1h-1zM48 95h1v1h-1zM48 97h1v1h-1zM48 128h1v1h-1zM48 134h1v1h-1zM48 141h1v1h-1zM48 180h1v1h-1zM48 192h1v1h-1zM48 194h1v1h-1zM48 212h1v1h-1zM48 227h1v1h-1zM48 242h1v1h-1zM48 244h1v1h-1zM48 257h1v1h-1zM48 276h1v1h-1zM48 284h1v1h-1zM16 15h1v1h-1zM16 28h1v2h-1zM16 81h1v1h-1zM16 92h1v1h-1zM16 97h1v1h-1zM16 100h1v1h-1zM16 102h1v1h-1zM16 215h1v1h-1zM16 218h1v1h-1zM16 229h1v1h-1zM16 235h1v1h-1zM16 238h1v1h-1zM16 266h1v3h-1zM16 273h1v1h-1zM38 17h1v1h-1zM38 33h1v1h-1zM38 48h1v1h-1zM38 70h1v1h-1zM38 73h1v1h-1zM38 122h1v1h-1zM38 132h1v1h-1zM38 134h1v1h-1zM38 138h1v1h-1zM38 143h1v1h-1zM38 160h1v1h-1zM38 169h1v1h-1zM38 191h1v1h-1zM38 206h1v2h-1zM38 224h1v1h-1zM38 229h1v1h-1zM38 239h1v1h-1zM38 260h1v1h-1zM38 271h1v1h-1zM38 273h1v1h-1zM38 275h1v1h-1zM38 279h1v1h-1zM44 17h1v1h-1zM44 25h1v1h-1zM44 131h1v1h-1zM44 134h1v1h-1zM44 215h1v1h-1zM44 244h1v1h-1zM44 257h1v1h-1zM47 17h1v1h-1zM47 27h1v3h-1zM47 50h1v1h-1zM47 71h1v1h-1zM47 77h1v1h-1zM47 81h1v1h-1zM47 92h1v1h-1zM47 100h1v1h-1zM47 103h1v1h-1zM47 107h1v1h-1zM47 120h1v1h-1zM47 135h1v1h-1zM47 156h1v1h-1zM47 173h1v1h-1zM47 191h1v1h-1zM47 215h1v1h-1zM47 231h1v1h-1zM47 246h1v1h-1zM47 249h1v1h-1zM47 263h1v1h-1zM47 275h1v1h-1zM21 18h1v1h-1zM21 25h1v1h-1zM21 38h1v1h-1zM21 65h1v1h-1zM21 98h1v1h-1zM21 110h1v1h-1zM21 112h1v1h-1zM21 135h1v1h-1zM21 137h1v1h-1zM21 175h1v1h-1zM21 180h1v1h-1zM21 185h1v1h-1zM21 190h1v1h-1zM21 201h1v1h-1zM21 213h1v1h-1zM21 215h1v1h-1zM21 217h1v2h-1zM21 224h1v1h-1zM21 246h1v1h-1zM21 276h1v1h-1zM21 283h1v1h-1zM127 20h3v1h-3zM127 277h3v1h-3zM130 21h2v1h-2zM130 90h2v1h-2zM130 136h2v1h-2zM130 192h2v1h-2zM128 22h1v1h-1zM128 48h1v1h-1zM128 135h1v1h-1zM128 197h1v1h-1zM128 218h1v1h-1zM128 266h1v2h-1zM128 280h1v1h-1zM36 23h1v1h-1zM36 39h1v1h-1zM36 68h1v1h-1zM36 249h1v1h-1zM129 24h2v1h-2zM129 60h2v1h-2zM129 65h2v1h-2zM129 67h2v1h-2zM129 103h2v1h-2zM129 151h2v1h-2zM129 167h2v1h-2zM129 199h2v1h-2zM129 248h2v1h-2zM129 264h2v1h-2zM132 24h1v1h-1zM132 27h1v1h-1zM132 34h1v1h-1zM132 37h1v1h-1zM132 47h1v1h-1zM132 58h1v1h-1zM132 168h1v1h-1zM132 179h1v1h-1zM132 225h1v1h-1zM132 238h1v1h-1zM130 25h1v1h-1zM130 41h1v1h-1zM130 83h1v2h-1zM130 196h1v1h-1zM130 233h1v1h-1zM132 25h3v1h-3zM35 27h1v1h-1zM35 30h1v1h-1zM35 32h1v1h-1zM35 34h1v1h-1zM35 41h1v1h-1zM35 52h1v1h-1zM35 59h1v1h-1zM35 96h1v1h-1zM35 105h1v1h-1zM35 235h1v1h-1zM35 237h1v2h-1zM35 253h1v1h-1zM35 259h1v1h-1zM35 268h1v1h-1zM35 283h1v1h-1zM128 27h2v1h-2zM128 141h2v1h-2zM41 29h1v1h-1zM41 45h1v1h-1zM41 77h1v1h-1zM41 90h1v1h-1zM41 113h1v1h-1zM41 120h1v1h-1zM41 122h1v1h-1zM41 131h1v1h-1zM41 133h1v1h-1zM41 166h1v1h-1zM41 171h1v1h-1zM41 198h1v1h-1zM41 203h1v1h-1zM41 227h1v1h-1zM41 244h1v1h-1zM41 271h1v1h-1zM119 31h1v1h-1zM34 35h2v1h-2zM34 146h2v1h-2zM34 224h2v1h-2zM34 226h2v1h-2zM34 270h2v1h-2zM10 36h2v1h-2zM10 106h2v1h-2zM10 129h2v1h-2zM10 139h2v1h-2zM10 182h2v1h-2zM10 204h2v1h-2zM22 40h1v1h-1zM22 69h1v1h-1zM22 76h1v1h-1zM22 86h1v1h-1zM22 122h1v1h-1zM22 129h1v1h-1zM22 163h1v1h-1zM22 173h1v1h-1zM22 181h1v1h-1zM22 240h1v1h-1zM42 41h1v1h-1zM42 44h1v1h-1zM42 58h1v1h-1zM42 69h1v1h-1zM42 74h1v1h-1zM42 101h1v1h-1zM42 119h1v1h-1zM42 124h1v2h-1zM42 213h1v1h-1zM42 219h1v1h-1zM42 225h1v1h-1zM42 242h1v1h-1zM42 245h1v1h-1zM42 266h1v2h-1zM42 282h1v1h-1zM127 41h2v1h-2zM127 71h2v1h-2zM127 92h2v1h-2zM20 43h2v1h-2zM20 81h2v1h-2zM20 88h2v1h-2zM20 106h2v1h-2zM20 141h2v1h-2zM20 220h2v1h-2zM131 45h3v1h-3zM131 235h3v1h-3zM40 46h1v1h-1zM40 48h1v1h-1zM40 144h1v1h-1zM40 149h1v1h-1zM40 159h1v1h-1zM40 179h1v1h-1zM40 217h1v1h-1zM40 243h1v1h-1zM131 49h2v1h-2zM131 200h2v1h-2zM131 210h2v1h-2zM131 212h2v1h-2zM131 255h2v1h-2zM131 266h2v1h-2zM9 50h1v1h-1zM9 71h1v1h-1zM9 88h1v2h-1zM9 93h1v1h-1zM9 113h1v1h-1zM9 167h1v1h-1zM158 50h1v1h-1zM158 60h1v1h-1zM158 63h1v1h-1zM158 93h1v1h-1zM158 271h1v1h-1zM128 51h3v1h-3zM128 118h3v1h-3zM128 162h3v1h-3zM161 52h2v1h-2zM161 178h2v1h-2zM161 185h2v1h-2zM161 203h2v1h-2zM41 54h2v1h-2zM41 83h2v1h-2zM41 104h2v1h-2zM41 112h2v1h-2zM41 228h2v1h-2zM41 274h2v1h-2zM41 280h2v1h-2zM134 54h2v1h-2zM134 70h2v1h-2zM134 92h2v1h-2zM134 113h2v1h-2zM134 144h2v1h-2zM134 159h2v1h-2zM134 165h2v2h-2zM134 174h2v1h-2zM134 196h2v1h-2zM134 252h2v1h-2zM134 257h2v1h-2zM134 268h2v1h-2zM133 55h2v1h-2zM133 131h2v1h-2zM133 195h2v1h-2zM133 221h2v1h-2zM133 223h2v1h-2zM133 233h2v1h-2zM34 57h1v1h-1zM34 66h1v1h-1zM34 77h1v1h-1zM34 93h1v1h-1zM34 109h1v1h-1zM34 147h1v1h-1zM34 152h1v1h-1zM34 168h1v1h-1zM34 182h1v1h-1zM34 209h1v1h-1zM34 216h1v1h-1zM34 234h1v1h-1zM34 254h1v1h-1zM34 261h1v1h-1zM34 284h1v1h-1zM130 59h3v1h-3zM130 80h3v1h-3zM130 128h3v2h-3zM130 161h3v1h-3zM130 172h3v1h-3zM136 61h1v1h-1zM84 65h1v1h-1zM84 240h1v1h-1zM127 65h1v1h-1zM127 109h1v1h-1zM127 152h1v1h-1zM127 166h1v1h-1zM127 177h1v1h-1zM127 210h1v1h-1zM6 70h1v1h-1zM6 81h1v1h-1zM6 269h1v1h-1zM145 77h1v1h-1zM145 241h1v1h-1zM145 244h1v1h-1zM41 78h3v1h-3zM48 78h2v1h-2zM48 184h2v1h-2zM48 247h2v1h-2zM42 91h2v1h-2zM42 190h2v1h-2zM42 200h2v1h-2zM129 102h4v1h-4zM129 204h4v1h-4zM128 105h4v1h-4zM162 106h1v1h-1zM162 112h1v1h-1zM129 114h3v1h-3zM129 120h3v1h-3zM129 126h3v1h-3zM129 178h3v1h-3zM129 220h3v1h-3zM11 119h2v1h-2zM11 192h2v1h-2zM159 122h1v1h-1zM159 167h1v1h-1zM36 123h2v1h-2zM36 158h2v1h-2zM144 123h1v1h-1zM144 176h1v1h-1zM144 212h1v1h-1zM144 255h1v1h-1zM144 261h1v1h-1zM134 125h1v1h-1zM134 140h1v1h-1zM134 170h1v1h-1zM134 179h1v1h-1zM134 206h1v1h-1zM134 238h1v1h-1zM134 242h1v1h-1zM44 161h2v1h-2zM44 163h2v1h-2zM44 232h2v1h-2zM22 168h2v1h-2zM29 173h1v1h-1zM149 194h1v1h-1zM37 201h2v1h-2zM161 204h1v1h-1zM161 223h1v1h-1zM161 266h1v1h-1zM21 231h2v1h-2zM40 264h2v1h-2zM129 269h6v1h-6zM130 280h5v1h-5z"/>
<path fill="#2cb17e" d="M42 0h2v1h-2zM42 13h2v1h-2zM42 92h2v1h-2zM42 123h2v1h-2zM42 175h2v1h-2zM42 192h2v1h-2zM38 1h1v1h-1zM38 27h1v1h-1zM38 42h1v1h-1zM38 53h1v1h-1zM38 55h1v2h-1zM38 71h1v1h-1zM38 110h1v1h-1zM38 119h1v1h-1zM38 140h1v1h-1zM38 147h1v1h-1zM38 151h1v1h-1zM38 162h1v1h-1zM38 181h1v1h-1zM38 195h1v2h-1zM38 215h1v1h-1zM38 252h1v1h-1zM38 258h1v1h-1zM38 264h1v1h-1zM148 1h1v2h-1zM148 14h1v1h-1zM148 20h1v2h-1zM148 32h1v1h-1zM148 47h1v1h-1zM148 70h1v1h-1zM148 80h1v1h-1zM148 99h1v2h-1zM148 102h1v1h-1zM148 106h1v1h-1zM148 188h1v2h-1zM148 191h1v1h-1zM148 198h1v1h-1zM148 232h1v1h-1zM148 243h1v1h-1zM148 247h1v1h-1zM148 249h1v2h-1zM148 257h1v1h-1zM148 269h1v1h-1zM148 280h1v1h-1zM148 284h1v1h-1zM16 2h1v1h-1zM16 12h1v1h-1zM16 23h1v2h-1zM16 37h1v1h-1zM16 42h1v1h-1zM16 47h1v1h-1zM16 49h1v1h-1zM16 99h1v1h-1zM16 103h1v1h-1zM16 106h1v1h-1zM16 110h1v1h-1zM16 126h1v1h-1zM16 137h1v1h-1zM16 139h1v2h-1zM16 152h1v2h-1zM16 184h1v1h-1zM16 205h1v1h-1zM16 219h1v1h-1zM16 222h1v1h-1zM16 257h1v1h-1zM16 260h1v1h-1zM16 277h1v1h-1zM16 283h1v1h-1zM41 2h2v1h-2zM41 4h2v1h-2zM41 8h2v1h-2zM41 32h2v1h-2zM41 57h2v1h-2zM41 132h2v1h-2zM41 194h2v1h-2zM41 196h2v1h-2zM41 235h2v1h-2zM41 251h2v1h-2zM45 2h1v1h-1zM45 5h1v1h-1zM45 8h1v1h-1zM45 33h1v1h-1zM45 35h1v1h-1zM45 38h1v1h-1zM45 46h1v1h-1zM45 62h1v1h-1zM45 64h1v1h-1zM45 70h1v1h-1zM45 93h1v1h-1zM45 103h1v1h-1zM45 122h1v1h-1zM45 139h1v1h-1zM45 153h1v1h-1zM45 174h1v1h-1zM45 191h1v1h-1zM45 195h1v1h-1zM45 207h1v1h-1zM45 214h1v2h-1zM45 221h1v1h-1zM45 226h1v1h-1zM45 235h1v1h-1zM45 252h1v1h-1zM160 2h1v1h-1zM160 20h1v1h-1zM160 50h1v1h-1zM160 54h1v1h-1zM160 60h1v1h-1zM160 80h1v1h-1zM160 91h1v1h-1zM160 95h1v1h-1zM160 135h1v1h-1zM160 142h1v1h-1zM160 144h1v1h-1zM160 151h1v1h-1zM160 153h1v1h-1zM160 172h1v1h-1zM160 194h1v1h-1zM160 212h1v1h-1zM160 215h1v1h-1zM160 241h1v1h-1zM160 245h1v1h-1zM160 251h1v1h-1zM160 253h1v2h-1zM160 260h1v1h-1zM36 3h1v1h-1zM36 14h1v1h-1zM36 35h1v1h-1zM36 42h1v1h-1zM36 48h1v1h-1zM36 60h1v1h-1zM36 71h1v1h-1zM36 84h1v1h-1zM36 113h1v1h-1zM36 133h1v1h-1zM36 168h1v1h-1zM36 178h1v1h-1zM36 192h1v1h-1zM36 222h1v1h-1zM36 225h1v1h-1zM36 228h1v1h-1zM36 267h1v2h-1zM20 4h1v1h-1zM20 12h1v1h-1zM20 89h1v1h-1zM20 101h1v1h-1zM20 166h1v1h-1zM20 171h1v1h-1zM20 208h1v1h-1zM20 232h1v1h-1zM20 257h1v1h-1zM20 283h1v1h-1zM142 4h1v1h-1zM142 17h1v2h-1zM142 30h1v1h-1zM142 38h1v1h-1zM142 48h1v2h-1zM142 56h1v1h-1zM142 73h1v1h-1zM142 78h1v1h-1zM142 80h1v1h-1zM142 91h1v1h-1zM142 95h1v1h-1zM142 103h1v1h-1zM142 105h1v1h-1zM142 107h1v1h-1zM142 118h1v1h-1zM142 130h1v1h-1zM142 150h1v1h-1zM142 158h1v1h-1zM142 162h1v1h-1zM142 164h1v1h-1zM142 174h1v1h-1zM142 180h1v1h-1zM142 184h1v1h-1zM142 192h1v1h-1zM142 195h1v1h-1zM142 200h1v1h-1zM142 206h1v1h-1zM142 211h1v2h-1zM142 220h1v1h-1zM142 228h1v1h-1zM142 244h1v1h-1zM142 249h1v1h-1zM142 260h1v1h-1zM142 265h1v1h-1zM142 283h1v1h-1zM23 5h1v1h-1zM23 7h1v1h-1zM23 62h1v1h-1zM23 124h1v1h-1zM23 205h1v1h-1zM23 236h1v1h-1zM23 284h1v1h-1zM50 6h1v1h-1zM50 9h1v1h-1zM50 18h1v1h-1zM50 35h1v1h-1zM50 59h1v1h-1zM50 77h1v1h-1zM50 94h1v1h-1zM50 106h1v1h-1zM50 109h1v1h-1zM50 115h1v1h-1zM50 151h1v1h-1zM50 157h1v1h-1zM50 162h1v1h-1zM50 170h1v1h-1zM50 173h1v1h-1zM50 202h1v1h-1zM50 208h1v1h-1zM50 212h1v1h-1zM50 216h1v1h-1zM50 219h1v1h-1zM50 242h1v1h-1zM50 245h1v1h-1zM50 247h1v1h-1zM50 259h1v1h-1zM50 265h1v1h-1zM50 277h1v1h-1zM146 6h2v1h-2zM146 10h2v1h-2zM146 129h2v1h-2zM146 244h2v1h-2zM13 7h2v1h-2zM13 15h2v1h-2zM13 72h2v1h-2zM13 83h2v1h-2zM13 183h2v1h-2zM13 193h2v1h-2zM126 7h1v1h-1zM126 71h1v1h-1zM126 277h1v1h-1zM21 8h1v1h-1zM21 17h1v1h-1zM21 22h1v1h-1zM21 45h1v1h-1zM21 60h1v1h-1zM21 62h1v1h-1zM21 143h1v1h-1zM21 151h1v1h-1zM21 160h1v2h-1zM21 182h1v1h-1zM21 198h1v1h-1zM21 203h1v1h-1zM21 207h1v1h-1zM21 237h1v1h-1zM21 248h1v1h-1zM21 258h1v1h-1zM51 8h1v1h-1zM51 15h1v1h-1zM51 28h1v1h-1zM51 46h1v1h-1zM51 63h1v1h-1zM51 66h1v1h-1zM51 79h1v1h-1zM51 118h1v1h-1zM51 130h1v1h-1zM51 135h1v1h-1zM51 140h1v1h-1zM51 159h1v1h-1zM51 163h1v1h-1zM51 166h1v1h-1zM51 175h1v1h-1zM51 180h1v1h-1zM51 196h1v1h-1zM51 237h1v1h-1zM51 239h1v1h-1zM51 241h1v1h-1zM51 243h1v1h-1zM51 257h1v1h-1zM51 280h1v1h-1zM51 283h1v1h-1zM51 285h1v1h-1zM130 8h3v1h-3zM130 244h3v1h-3zM19 9h2v1h-2zM19 147h2v1h-2zM47 9h1v1h-1zM47 13h1v1h-1zM47 16h1v1h-1zM47 30h1v1h-1zM47 40h1v1h-1zM47 51h1v1h-1zM47 53h1v1h-1zM47 58h1v1h-1zM47 124h1v1h-1zM47 144h1v1h-1zM47 148h1v1h-1zM47 154h1v1h-1zM47 161h1v2h-1zM47 168h1v1h-1zM47 170h1v1h-1zM47 175h1v1h-1zM47 189h1v1h-1zM47 197h1v1h-1zM47 205h1v1h-1zM47 218h1v1h-1zM47 223h1v1h-1zM47 228h1v1h-1zM47 232h1v1h-1zM47 236h1v1h-1zM47 252h1v1h-1zM47 256h1v1h-1zM47 274h1v1h-1zM47 279h1v1h-1zM43 10h1v1h-1zM43 15h1v1h-1zM43 37h1v1h-1zM43 44h1v1h-1zM43 58h1v1h-1zM43 69h1v1h-1zM43 101h1v1h-1zM43 118h1v2h-1zM43 121h1v1h-1zM43 125h1v1h-1zM43 131h1v1h-1zM43 266h1v1h-1zM43 279h1v1h-1zM43 282h1v1h-1zM18 11h2v1h-2zM18 117h2v1h-2zM18 151h2v1h-2zM18 233h2v1h-2zM18 252h2v1h-2zM18 279h2v1h-2zM31 11h1v1h-1zM31 17h1v1h-1zM31 24h1v1h-1zM31 82h1v1h-1zM31 86h1v1h-1zM31 98h1v2h-1zM31 104h1v1h-1zM31 118h1v1h-1zM31 156h1v1h-1zM31 163h1v2h-1zM31 175h1v1h-1zM31 177h1v1h-1zM31 185h1v1h-1zM31 199h1v1h-1zM31 204h1v1h-1zM31 229h1v1h-1zM31 231h1v1h-1zM31 245h1v1h-1zM31 273h1v1h-1zM31 275h1v1h-1zM31 279h1v1h-1zM42 12h1v1h-1zM42 18h1v1h-1zM42 20h1v1h-1zM42 26h1v1h-1zM42 31h1v1h-1zM42 34h1v1h-1zM42 38h1v1h-1zM42 161h1v1h-1zM42 216h1v1h-1zM42 220h1v1h-1zM42 254h1v1h-1zM136 13h1v1h-1zM136 22h1v2h-1zM136 31h1v1h-1zM136 41h1v1h-1zM136 47h1v1h-1zM136 49h1v1h-1zM136 55h1v1h-1zM136 57h1v1h-1zM136 59h1v1h-1zM136 63h1v1h-1zM136 73h1v1h-1zM136 82h1v1h-1zM136 104h1v1h-1zM136 109h1v1h-1zM136 112h1v1h-1zM136 114h1v1h-1zM136 123h1v1h-1zM136 126h1v1h-1zM136 129h1v1h-1zM136 144h1v1h-1zM136 150h1v1h-1zM136 155h1v1h-1zM136 159h1v1h-1zM136 182h1v1h-1zM136 185h1v1h-1zM136 189h1v1h-1zM136 193h1v1h-1zM136 196h1v2h-1zM136 204h1v1h-1zM136 207h1v1h-1zM136 212h1v1h-1zM136 222h1v2h-1zM136 230h1v3h-1zM136 247h1v1h-1zM136 252h1v1h-1zM136 259h1v1h-1zM136 267h1v1h-1zM136 275h1v1h-1zM9 14h1v1h-1zM9 28h1v1h-1zM9 36h1v1h-1zM9 58h1v1h-1zM9 79h1v1h-1zM9 82h1v1h-1zM9 106h1v1h-1zM9 115h1v1h-1zM9 155h1v1h-1zM9 178h1v1h-1zM9 181h1v1h-1zM9 183h1v1h-1zM9 235h1v1h-1zM9 239h1v1h-1zM9 242h1v1h-1zM9 277h1v1h-1zM22 14h1v1h-1zM22 18h1v1h-1zM22 25h1v1h-1zM22 34h1v1h-1zM22 55h1v1h-1zM22 65h1v1h-1zM22 74h1v1h-1zM22 98h1v1h-1zM22 104h1v1h-1zM22 106h1v1h-1zM22 108h1v2h-1zM22 118h1v1h-1zM22 135h1v1h-1zM22 137h1v1h-1zM22 142h1v1h-1zM22 169h1v1h-1zM22 180h1v1h-1zM22 190h1v1h-1zM22 192h1v2h-1zM22 208h1v1h-1zM22 215h1v1h-1zM22 219h1v1h-1zM22 243h1v1h-1zM22 246h1v1h-1zM22 261h1v1h-1zM41 14h1v1h-1zM41 30h1v1h-1zM41 74h1v1h-1zM41 89h1v1h-1zM41 125h1v1h-1zM41 151h1v1h-1zM41 163h1v1h-1zM41 185h1v1h-1zM41 201h1v1h-1zM41 230h1v1h-1zM41 245h1v1h-1zM41 267h1v1h-1zM41 273h1v1h-1zM49 15h1v1h-1zM49 20h1v1h-1zM49 44h1v1h-1zM49 47h1v1h-1zM49 121h1v2h-1zM49 140h1v1h-1zM49 146h1v1h-1zM49 159h1v1h-1zM49 166h1v1h-1zM49 168h1v1h-1zM49 175h1v3h-1zM49 191h1v1h-1zM49 195h1v1h-1zM49 201h1v1h-1zM49 210h1v1h-1zM49 217h1v1h-1zM49 222h1v1h-1zM49 239h1v1h-1zM49 256h1v1h-1zM49 271h1v1h-1zM49 278h1v1h-1zM12 18h1v1h-1zM12 41h1v1h-1zM12 48h1v1h-1zM12 51h1v1h-1zM12 64h1v1h-1zM12 75h1v1h-1zM12 77h1v1h-1zM12 86h1v1h-1zM12 90h1v1h-1zM12 92h1v1h-1zM12 99h1v1h-1zM12 110h1v1h-1zM12 129h1v1h-1zM12 134h1v1h-1zM12 138h1v1h-1zM12 152h1v1h-1zM12 154h1v1h-1zM12 160h1v1h-1zM12 166h1v1h-1zM12 171h1v1h-1zM12 181h1v1h-1zM12 196h1v1h-1zM12 207h1v2h-1zM12 217h1v1h-1zM12 222h1v1h-1zM12 226h1v1h-1zM12 231h1v1h-1zM12 250h1v1h-1zM12 258h1v1h-1zM12 279h1v1h-1zM12 283h1v1h-1zM19 18h1v1h-1zM19 34h1v1h-1zM19 52h1v1h-1zM19 70h1v1h-1zM19 131h1v1h-1zM19 136h1v1h-1zM19 140h1v1h-1zM19 142h1v1h-1zM19 157h1v1h-1zM19 160h1v1h-1zM19 170h1v1h-1zM19 183h1v1h-1zM19 200h1v1h-1zM19 209h1v1h-1zM19 224h1v1h-1zM19 241h1v1h-1zM19 268h1v1h-1zM19 277h1v2h-1zM14 19h1v1h-1zM14 79h1v2h-1zM14 92h1v1h-1zM14 138h1v1h-1zM14 148h1v1h-1zM14 157h1v1h-1zM14 178h1v1h-1zM14 200h1v1h-1zM14 208h1v1h-1zM14 226h1v2h-1zM14 254h1v1h-1zM14 256h1v1h-1zM14 264h1v3h-1zM14 274h1v1h-1zM14 283h1v1h-1zM14 285h1v1h-1zM40 19h1v1h-1zM40 29h1v1h-1zM40 35h1v1h-1zM40 45h1v1h-1zM40 70h1v2h-1zM40 78h1v1h-1zM40 90h1v1h-1zM40 92h1v1h-1zM40 94h1v1h-1zM40 110h1v1h-1zM40 112h1v2h-1zM40 122h1v1h-1zM40 127h1v1h-1zM40 160h1v1h-1zM40 162h1v1h-1zM40 171h1v1h-1zM40 173h1v1h-1zM40 183h1v1h-1zM40 198h1v1h-1zM40 203h1v1h-1zM40 237h1v1h-1zM40 244h1v1h-1zM40 271h1v1h-1zM40 279h1v1h-1zM129 22h2v1h-2zM129 212h2v1h-2zM129 260h2v1h-2zM29 24h1v1h-1zM29 28h1v1h-1zM29 86h1v1h-1zM29 99h1v1h-1zM29 203h1v1h-1zM29 264h1v1h-1zM29 282h1v1h-1zM131 24h1v2h-1zM131 27h1v1h-1zM131 34h1v1h-1zM131 238h1v1h-1zM133 24h1v1h-1zM133 34h1v1h-1zM133 46h1v1h-1zM133 70h1v1h-1zM133 102h1v1h-1zM133 125h1v1h-1zM133 170h1v1h-1zM133 179h1v1h-1zM133 206h1v1h-1zM133 212h1v1h-1zM133 238h1v1h-1zM129 25h1v1h-1zM129 41h1v1h-1zM129 48h1v1h-1zM129 93h1v1h-1zM129 266h1v1h-1zM129 280h1v1h-1zM34 26h1v1h-1zM34 30h1v1h-1zM34 32h1v1h-1zM34 36h1v1h-1zM34 48h1v1h-1zM34 51h1v2h-1zM34 61h1v1h-1zM34 144h1v1h-1zM34 158h1v1h-1zM34 190h1v1h-1zM34 235h1v1h-1zM34 237h1v1h-1zM34 276h1v1h-1zM143 26h1v1h-1zM143 185h1v1h-1zM49 30h2v1h-2zM37 32h1v1h-1zM37 41h1v1h-1zM37 65h1v1h-1zM37 67h1v1h-1zM37 69h1v1h-1zM37 108h1v1h-1zM37 136h1v1h-1zM37 145h1v1h-1zM37 164h1v1h-1zM37 185h1v1h-1zM37 193h1v1h-1zM37 209h1v1h-1zM37 212h1v1h-1zM37 219h1v1h-1zM37 244h1v1h-1zM150 32h1v2h-1zM150 43h1v1h-1zM150 69h1v1h-1zM150 87h1v1h-1zM150 95h1v1h-1zM150 100h1v1h-1zM150 119h1v1h-1zM150 127h1v1h-1zM150 139h1v1h-1zM150 143h1v2h-1zM150 156h1v1h-1zM150 160h1v1h-1zM150 165h1v2h-1zM150 170h1v1h-1zM150 199h1v1h-1zM150 207h1v1h-1zM150 218h1v1h-1zM150 226h1v1h-1zM150 237h1v1h-1zM150 240h1v1h-1zM150 243h1v1h-1zM150 247h1v1h-1zM150 250h1v1h-1zM150 273h1v1h-1zM150 282h1v1h-1zM18 36h1v1h-1zM18 59h1v1h-1zM18 83h1v1h-1zM18 95h1v1h-1zM18 98h1v2h-1zM18 107h1v1h-1zM18 119h1v1h-1zM18 126h1v1h-1zM18 130h1v1h-1zM18 132h1v1h-1zM18 158h1v1h-1zM18 161h1v1h-1zM18 163h1v1h-1zM18 166h1v1h-1zM18 168h1v1h-1zM18 171h1v1h-1zM18 173h1v1h-1zM18 192h1v1h-1zM18 195h1v1h-1zM18 211h1v1h-1zM18 221h1v1h-1zM18 253h1v1h-1zM18 280h1v1h-1zM13 42h1v1h-1zM13 74h1v1h-1zM13 82h1v1h-1zM13 98h1v1h-1zM13 142h1v1h-1zM13 172h1v1h-1zM13 191h1v1h-1zM13 215h1v1h-1zM13 225h1v1h-1zM11 43h1v1h-1zM11 49h1v1h-1zM11 60h1v1h-1zM11 69h1v1h-1zM11 72h1v1h-1zM11 89h1v1h-1zM11 94h1v1h-1zM11 126h1v1h-1zM11 177h1v1h-1zM11 215h1v1h-1zM11 221h1v1h-1zM11 232h1v1h-1zM11 237h1v1h-1zM11 248h1v1h-1zM127 48h1v1h-1zM20 49h3v1h-3zM157 50h1v1h-1zM157 113h1v1h-1zM157 161h1v1h-1zM157 241h1v1h-1zM157 276h1v1h-1zM10 51h1v1h-1zM10 151h1v1h-1zM10 170h1v1h-1zM10 226h1v1h-1zM57 54h1v1h-1zM144 54h1v1h-1zM144 126h1v1h-1zM144 169h1v1h-1zM144 194h1v1h-1zM56 55h1v1h-1zM130 58h2v1h-2zM128 61h3v1h-3zM32 65h1v1h-1zM32 78h1v1h-1zM32 90h1v1h-1zM32 94h1v1h-1zM32 97h1v1h-1zM32 103h1v1h-1zM32 108h1v1h-1zM32 110h1v1h-1zM32 124h1v2h-1zM32 169h1v1h-1zM32 194h1v1h-1zM32 205h1v1h-1zM32 236h1v1h-1zM32 246h1v1h-1zM32 248h1v1h-1zM32 269h1v1h-1zM126 74h3v1h-3zM21 82h2v1h-2zM21 138h2v1h-2zM146 86h1v1h-1zM146 151h1v1h-1zM146 167h1v1h-1zM146 258h1v1h-1zM146 263h1v1h-1zM12 88h2v1h-2zM37 93h2v1h-2zM37 182h2v1h-2zM37 272h2v1h-2zM147 93h1v1h-1zM147 259h1v1h-1zM147 281h1v1h-1zM127 98h3v1h-3zM127 107h3v1h-3zM20 100h2v1h-2zM20 165h2v1h-2zM20 176h2v1h-2zM40 107h2v1h-2zM10 113h2v1h-2zM10 142h2v2h-2zM10 251h2v1h-2zM111 117h1v1h-1zM134 118h2v1h-2zM134 128h2v1h-2zM134 160h2v1h-2zM130 127h1v1h-1zM130 235h1v1h-1zM130 275h1v1h-1zM132 127h1v1h-1zM135 130h1v1h-1zM135 241h1v1h-1zM126 133h2v1h-2zM126 197h2v1h-2zM126 267h2v1h-2zM131 150h2v1h-2zM41 155h3v1h-3zM46 156h1v1h-1zM129 156h3v1h-3zM146 165h3v1h-3zM161 167h1v1h-1zM132 190h3v1h-3zM133 210h3v1h-3zM50 229h2v1h-2zM49 230h3v1h-3zM128 235h1v1h-1zM9 267h3v1h-3zM40 276h3v1h-3z"/>
<path fill="#3bbb75" d="M12 0h1v1h-1zM12 13h1v1h-1zM12 15h1v1h-1zM12 19h1v1h-1zM12 21h1v1h-1zM12 45h1v1h-1zM12 54h1v1h-1zM12 72h1v1h-1zM12 113h1v1h-1zM12 118h1v1h-1zM12 120h1v1h-1zM12 125h1v1h-1zM12 162h1v1h-1zM12 206h1v1h-1zM12 232h1v1h-1zM12 251h1v1h-1zM12 271h1v1h-1zM14 0h1v1h-1zM14 62h1v1h-1zM14 84h1v1h-1zM14 96h1v1h-1zM14 113h1v1h-1zM14 123h1v1h-1zM14 142h1v1h-1zM14 221h1v1h-1zM14 234h1v1h-1zM14 281h1v1h-1zM144 0h2v2h-2zM144 7h2v1h-2zM144 13h2v1h-2zM144 25h2v1h-2zM144 32h2v1h-2zM144 34h2v1h-2zM144 44h2v1h-2zM144 49h2v1h-2zM144 71h2v2h-2zM144 75h2v1h-2zM144 82h2v1h-2zM144 86h2v1h-2zM144 124h2v1h-2zM144 133h2v1h-2zM144 139h2v1h-2zM144 149h2v1h-2zM144 165h2v1h-2zM144 175h2v1h-2zM144 182h2v1h-2zM144 205h2v1h-2zM144 231h2v1h-2zM144 236h2v1h-2zM144 249h2v1h-2zM144 252h2v1h-2zM144 272h2v1h-2zM144 280h2v1h-2zM29 1h1v1h-1zM29 7h1v1h-1zM29 18h1v1h-1zM29 26h1v1h-1zM29 33h1v1h-1zM29 35h1v1h-1zM29 62h1v1h-1zM29 64h1v1h-1zM29 80h1v1h-1zM29 102h1v1h-1zM29 109h1v1h-1zM29 136h1v1h-1zM29 142h1v1h-1zM29 144h1v1h-1zM29 151h1v1h-1zM29 174h1v1h-1zM29 181h1v1h-1zM29 196h1v1h-1zM29 199h1v1h-1zM29 218h1v1h-1zM29 223h1v1h-1zM29 229h1v1h-1zM29 231h1v2h-1zM29 244h1v2h-1zM29 255h1v1h-1zM29 263h1v1h-1zM29 276h1v1h-1zM40 2h1v1h-1zM40 14h1v1h-1zM40 24h1v1h-1zM40 30h1v1h-1zM40 32h1v1h-1zM40 61h1v1h-1zM40 74h1v1h-1zM40 85h1v1h-1zM40 88h1v2h-1zM40 106h1v1h-1zM40 118h1v1h-1zM40 120h1v1h-1zM40 133h1v1h-1zM40 136h1v2h-1zM40 151h1v1h-1zM40 163h1v1h-1zM40 167h1v1h-1zM40 186h1v1h-1zM40 235h1v1h-1zM40 239h1v1h-1zM40 273h1v1h-1zM40 277h1v1h-1zM17 3h1v1h-1zM17 23h1v1h-1zM17 51h1v1h-1zM17 78h1v1h-1zM17 97h1v1h-1zM17 115h1v1h-1zM17 117h1v1h-1zM17 144h1v1h-1zM17 182h1v1h-1zM17 184h1v1h-1zM17 187h1v1h-1zM17 209h1v1h-1zM17 215h1v1h-1zM17 248h1v1h-1zM17 250h1v1h-1zM17 265h1v1h-1zM32 3h1v1h-1zM32 11h1v1h-1zM32 26h1v2h-1zM32 41h1v1h-1zM32 64h1v1h-1zM32 67h1v1h-1zM32 85h1v2h-1zM32 98h1v1h-1zM32 104h1v2h-1zM32 137h1v1h-1zM32 140h1v1h-1zM32 156h1v1h-1zM32 177h1v1h-1zM32 190h1v1h-1zM32 192h1v1h-1zM32 219h1v1h-1zM32 229h1v1h-1zM32 232h1v1h-1zM32 245h1v1h-1zM32 259h1v1h-1zM32 279h1v2h-1zM45 3h1v1h-1zM45 16h1v1h-1zM45 24h1v1h-1zM45 80h1v1h-1zM45 97h1v1h-1zM45 114h1v1h-1zM45 166h1v1h-1zM45 185h1v1h-1zM45 217h1v1h-1zM45 225h1v1h-1zM45 233h1v1h-1zM45 253h1v1h-1zM45 263h1v1h-1zM45 268h1v1h-1zM45 277h1v1h-1zM136 3h1v1h-1zM136 16h1v1h-1zM136 74h1v1h-1zM136 92h1v1h-1zM136 118h1v2h-1zM136 145h1v1h-1zM136 160h1v1h-1zM136 163h1v1h-1zM136 165h1v3h-1zM136 187h1v1h-1zM136 226h1v1h-1zM136 237h1v1h-1zM136 239h1v1h-1zM136 241h1v1h-1zM136 257h1v1h-1zM136 268h1v1h-1zM136 272h1v1h-1zM136 276h1v1h-1zM136 278h1v2h-1zM10 4h2v1h-2zM10 9h2v1h-2zM10 135h2v1h-2zM10 137h2v1h-2zM10 198h2v1h-2zM10 255h2v1h-2zM21 4h1v1h-1zM21 7h1v1h-1zM21 27h1v1h-1zM21 69h1v1h-1zM21 80h1v1h-1zM21 93h1v1h-1zM21 195h1v1h-1zM21 270h1v1h-1zM21 281h1v2h-1zM39 4h1v1h-1zM39 21h1v1h-1zM39 29h1v1h-1zM39 33h1v1h-1zM39 45h1v2h-1zM39 48h1v1h-1zM39 70h1v2h-1zM39 76h1v1h-1zM39 92h1v1h-1zM39 101h1v1h-1zM39 122h1v1h-1zM39 127h1v1h-1zM39 149h1v1h-1zM39 160h1v1h-1zM39 162h1v1h-1zM39 169h1v1h-1zM39 173h1v1h-1zM39 181h1v1h-1zM39 191h1v1h-1zM39 195h1v1h-1zM39 206h1v2h-1zM39 217h1v1h-1zM39 222h1v1h-1zM39 259h1v1h-1zM39 271h1v1h-1zM39 279h1v1h-1zM141 4h1v1h-1zM141 18h1v1h-1zM141 22h1v1h-1zM141 30h1v2h-1zM141 38h1v1h-1zM141 44h1v2h-1zM141 48h1v2h-1zM141 56h1v1h-1zM141 72h1v2h-1zM141 78h1v1h-1zM141 80h1v1h-1zM141 95h1v1h-1zM141 105h1v1h-1zM141 107h1v1h-1zM141 140h1v1h-1zM141 150h1v1h-1zM141 155h1v1h-1zM141 158h1v1h-1zM141 174h1v1h-1zM141 180h1v2h-1zM141 184h1v1h-1zM141 192h1v1h-1zM141 195h1v1h-1zM141 206h1v2h-1zM141 211h1v2h-1zM141 218h1v1h-1zM141 220h1v1h-1zM141 224h1v1h-1zM141 227h1v2h-1zM141 239h1v1h-1zM141 249h1v1h-1zM141 253h1v1h-1zM141 255h1v1h-1zM141 265h1v1h-1zM141 268h1v1h-1zM141 277h1v1h-1zM141 283h1v1h-1zM145 5h1v1h-1zM145 24h1v1h-1zM145 43h1v1h-1zM145 51h1v1h-1zM145 56h1v1h-1zM145 90h1v1h-1zM145 97h1v3h-1zM145 110h1v1h-1zM145 116h1v1h-1zM145 126h1v1h-1zM145 152h1v1h-1zM145 155h1v1h-1zM145 169h1v1h-1zM145 179h1v1h-1zM145 192h1v3h-1zM145 227h1v1h-1zM145 229h1v1h-1zM145 245h1v1h-1zM145 248h1v1h-1zM145 250h1v1h-1zM145 261h1v1h-1zM145 265h1v2h-1zM145 276h1v1h-1zM160 5h1v1h-1zM160 11h1v1h-1zM160 14h1v4h-1zM160 55h1v1h-1zM160 68h1v1h-1zM160 72h1v1h-1zM160 74h1v2h-1zM160 77h1v1h-1zM160 89h1v1h-1zM160 99h1v1h-1zM160 112h1v1h-1zM160 117h1v1h-1zM160 122h1v1h-1zM160 124h1v1h-1zM160 129h1v2h-1zM160 136h1v1h-1zM160 141h1v1h-1zM160 152h1v1h-1zM160 164h1v1h-1zM160 179h1v1h-1zM160 182h1v1h-1zM160 192h1v2h-1zM160 207h1v1h-1zM160 217h1v1h-1zM160 222h1v1h-1zM160 227h1v1h-1zM160 248h1v1h-1zM160 250h1v1h-1zM160 258h1v1h-1zM160 261h1v1h-1zM160 270h1v1h-1zM160 283h1v1h-1zM47 6h1v2h-1zM47 55h1v1h-1zM47 74h1v1h-1zM47 90h1v1h-1zM47 109h1v1h-1zM47 112h1v1h-1zM47 114h1v1h-1zM47 116h1v1h-1zM47 138h1v1h-1zM47 143h1v1h-1zM47 152h1v1h-1zM47 165h1v1h-1zM47 174h1v1h-1zM47 200h1v1h-1zM47 214h1v1h-1zM47 220h1v1h-1zM47 227h1v1h-1zM47 229h1v1h-1zM47 269h1v1h-1zM142 6h1v1h-1zM142 11h1v1h-1zM142 40h1v1h-1zM142 46h1v1h-1zM142 54h1v1h-1zM142 60h1v1h-1zM142 63h1v1h-1zM142 86h1v1h-1zM142 90h1v1h-1zM142 92h1v1h-1zM142 100h1v2h-1zM142 124h1v1h-1zM142 129h1v1h-1zM142 136h1v1h-1zM142 141h1v2h-1zM142 148h1v2h-1zM142 168h1v1h-1zM142 203h1v2h-1zM142 266h1v2h-1zM142 269h1v1h-1zM142 282h1v1h-1zM13 8h2v1h-2zM13 24h2v1h-2zM13 28h2v1h-2zM13 143h2v1h-2zM13 147h2v1h-2zM13 169h2v1h-2zM13 188h2v1h-2zM13 217h2v1h-2zM13 230h2v1h-2zM13 253h2v1h-2zM13 259h2v1h-2zM19 8h1v1h-1zM19 24h1v1h-1zM19 29h1v1h-1zM19 64h1v1h-1zM19 83h1v1h-1zM19 101h1v1h-1zM19 122h1v1h-1zM19 132h1v1h-1zM19 149h1v1h-1zM19 161h1v1h-1zM19 163h1v1h-1zM19 173h1v1h-1zM19 195h1v1h-1zM19 202h1v1h-1zM19 204h1v2h-1zM19 245h1v1h-1zM19 248h1v1h-1zM19 253h1v1h-1zM19 275h1v1h-1zM19 280h1v1h-1zM33 9h1v1h-1zM33 80h1v1h-1zM33 83h1v2h-1zM33 90h1v1h-1zM33 94h1v1h-1zM33 133h1v1h-1zM33 179h1v1h-1zM33 186h1v1h-1zM33 212h1v1h-1zM33 258h1v1h-1zM33 267h1v2h-1zM42 9h1v1h-1zM42 29h1v1h-1zM42 35h1v1h-1zM42 47h1v1h-1zM42 66h1v1h-1zM42 68h1v1h-1zM42 113h1v1h-1zM42 168h1v1h-1zM42 250h1v1h-1zM42 256h1v1h-1zM42 273h1v1h-1zM42 279h1v1h-1zM143 10h1v1h-1zM143 117h1v1h-1zM143 123h1v1h-1zM143 211h1v2h-1zM143 255h1v1h-1zM143 261h1v1h-1zM46 11h1v1h-1zM46 29h1v1h-1zM46 35h1v1h-1zM46 47h1v1h-1zM46 50h1v1h-1zM46 76h1v1h-1zM46 92h1v1h-1zM46 98h1v1h-1zM46 110h1v1h-1zM46 113h1v1h-1zM46 120h1v1h-1zM46 123h1v1h-1zM46 135h1v1h-1zM46 137h1v1h-1zM46 141h1v1h-1zM46 154h1v1h-1zM46 170h1v1h-1zM46 173h1v1h-1zM46 178h1v1h-1zM46 188h1v1h-1zM46 190h1v1h-1zM46 193h1v1h-1zM46 215h1v1h-1zM46 231h1v2h-1zM46 246h1v1h-1zM46 249h1v1h-1zM46 259h1v1h-1zM46 261h1v1h-1zM41 13h1v1h-1zM41 15h1v1h-1zM41 33h1v1h-1zM41 64h1v1h-1zM41 119h1v1h-1zM41 134h1v1h-1zM41 161h1v1h-1zM41 206h1v1h-1zM41 208h1v1h-1zM41 233h1v1h-1zM41 254h1v1h-1zM41 282h1v1h-1zM50 15h1v1h-1zM50 17h1v1h-1zM50 19h1v1h-1zM50 43h1v1h-1zM50 54h1v1h-1zM50 58h1v1h-1zM50 90h1v1h-1zM50 92h1v1h-1zM50 130h1v1h-1zM50 135h1v1h-1zM50 140h1v1h-1zM50 175h1v2h-1zM50 180h1v1h-1zM50 183h1v1h-1zM50 191h1v1h-1zM50 196h1v1h-1zM50 210h1v1h-1zM50 220h1v1h-1zM50 225h1v1h-1zM50 251h1v2h-1zM50 264h1v1h-1zM50 285h1v1h-1zM144 17h1v1h-1zM144 28h1v1h-1zM144 45h1v2h-1zM144 48h1v1h-1zM144 131h1v1h-1zM144 162h1v1h-1zM144 188h1v1h-1zM144 195h1v1h-1zM144 203h1v2h-1zM144 218h1v1h-1zM144 244h1v1h-1zM144 271h1v1h-1zM144 279h1v1h-1zM144 283h1v1h-1zM16 18h1v1h-1zM16 64h1v1h-1zM16 69h1v1h-1zM16 93h1v1h-1zM16 133h1v1h-1zM16 154h1v2h-1zM16 163h1v1h-1zM16 174h1v1h-1zM16 232h1v1h-1zM16 241h1v1h-1zM16 249h1v1h-1zM16 269h1v1h-1zM16 280h1v1h-1zM41 19h3v1h-3zM13 22h1v1h-1zM13 41h1v1h-1zM13 48h1v1h-1zM13 64h1v2h-1zM13 86h1v1h-1zM13 92h1v1h-1zM13 119h1v1h-1zM13 121h1v1h-1zM13 134h1v1h-1zM13 138h1v1h-1zM13 148h1v1h-1zM13 152h1v1h-1zM13 192h1v1h-1zM13 200h1v1h-1zM13 208h1v1h-1zM13 220h1v1h-1zM13 222h1v1h-1zM13 226h1v1h-1zM13 231h1v1h-1zM13 250h1v1h-1zM13 258h1v1h-1zM13 273h1v1h-1zM13 276h1v1h-1zM13 283h1v1h-1zM37 22h1v1h-1zM37 109h1v1h-1zM37 152h1v1h-1zM37 155h1v1h-1zM37 166h1v1h-1zM37 183h1v1h-1zM37 189h1v1h-1zM37 232h1v1h-1zM37 235h1v1h-1zM37 245h1v1h-1zM37 253h1v1h-1zM37 281h1v1h-1zM49 22h1v1h-1zM49 60h1v1h-1zM49 91h1v1h-1zM49 98h1v1h-1zM49 101h1v1h-1zM49 124h1v1h-1zM49 133h1v1h-1zM49 148h1v1h-1zM49 162h1v1h-1zM49 207h1v1h-1zM49 279h1v1h-1zM32 24h2v1h-2zM32 127h2v1h-2zM32 214h2v1h-2zM31 25h1v1h-1zM31 31h1v1h-1zM31 47h1v1h-1zM31 50h1v1h-1zM31 68h1v1h-1zM31 77h1v1h-1zM31 92h1v1h-1zM31 107h1v1h-1zM31 133h1v1h-1zM31 135h1v2h-1zM31 162h1v1h-1zM31 165h1v1h-1zM31 173h1v1h-1zM31 187h1v1h-1zM31 270h1v1h-1zM31 272h1v1h-1zM43 26h1v1h-1zM43 39h1v1h-1zM43 75h1v2h-1zM43 160h1v1h-1zM43 217h1v1h-1zM43 221h1v1h-1zM43 224h1v1h-1zM43 248h1v1h-1zM43 274h1v1h-1zM36 27h1v1h-1zM36 40h1v2h-1zM36 59h1v1h-1zM36 82h1v1h-1zM36 120h1v1h-1zM36 167h1v1h-1zM38 28h1v1h-1zM38 32h1v1h-1zM38 36h1v1h-1zM38 41h1v1h-1zM38 58h1v2h-1zM38 65h1v1h-1zM38 67h1v1h-1zM38 69h1v1h-1zM38 98h1v1h-1zM38 153h1v1h-1zM38 164h1v1h-1zM38 176h1v1h-1zM38 178h1v1h-1zM38 188h1v1h-1zM38 193h1v1h-1zM38 212h1v1h-1zM38 220h1v1h-1zM38 240h1v1h-1zM38 254h1v1h-1zM23 31h1v1h-1zM23 242h1v1h-1zM23 244h1v1h-1zM23 250h1v1h-1zM23 257h1v1h-1zM44 31h1v1h-1zM44 125h1v1h-1zM44 173h1v1h-1zM44 183h1v1h-1zM44 211h1v1h-1zM44 267h1v1h-1zM18 33h1v1h-1zM18 53h1v1h-1zM18 70h1v3h-1zM18 93h1v1h-1zM18 102h1v1h-1zM18 104h1v1h-1zM18 131h1v1h-1zM18 141h1v2h-1zM18 148h1v1h-1zM18 164h1v1h-1zM18 186h1v1h-1zM18 210h1v1h-1zM18 238h1v1h-1zM18 284h1v1h-1zM18 37h2v1h-2zM18 43h2v1h-2zM18 125h2v1h-2zM18 135h2v1h-2zM18 234h2v1h-2zM18 242h2v1h-2zM18 273h2v1h-2zM22 38h1v1h-1zM22 43h1v1h-1zM22 46h1v1h-1zM22 50h1v1h-1zM22 62h1v1h-1zM22 72h1v1h-1zM22 92h1v1h-1zM22 94h1v1h-1zM22 102h1v1h-1zM22 114h1v1h-1zM22 120h1v1h-1zM22 132h1v1h-1zM22 143h1v1h-1zM22 160h1v1h-1zM22 175h1v1h-1zM22 201h1v1h-1zM22 214h1v1h-1zM22 218h1v1h-1zM22 274h1v2h-1zM51 40h1v1h-1zM51 88h1v1h-1zM51 167h1v1h-1zM51 171h1v1h-1zM51 192h1v1h-1zM51 199h1v1h-1zM51 208h1v1h-1zM135 43h1v1h-1zM17 56h2v1h-2zM55 67h1v1h-1zM30 72h1v1h-1zM30 78h1v1h-1zM30 96h1v1h-1zM30 99h1v1h-1zM30 137h1v2h-1zM30 152h1v1h-1zM30 154h1v1h-1zM30 156h1v1h-1zM30 193h1v3h-1zM30 204h1v1h-1zM30 226h1v1h-1zM30 240h1v1h-1zM30 242h1v1h-1zM30 249h1v1h-1zM30 252h1v1h-1zM30 261h1v1h-1zM30 284h1v1h-1zM39 73h2v1h-2zM39 185h2v1h-2zM39 201h2v1h-2zM17 75h5v1h-5zM10 78h1v1h-1zM10 94h1v1h-1zM10 132h1v1h-1zM10 188h1v1h-1zM10 190h1v1h-1zM10 202h1v1h-1zM10 206h1v1h-1zM10 210h1v1h-1zM10 212h1v1h-1zM10 247h1v1h-1zM11 79h1v1h-1zM11 90h1v1h-1zM11 98h1v1h-1zM11 189h1v1h-1zM11 220h1v1h-1zM11 227h1v1h-1zM11 233h1v1h-1zM11 252h1v1h-1zM11 259h1v1h-1zM11 273h1v1h-1zM42 79h2v1h-2zM42 239h2v1h-2zM49 79h2v1h-2zM49 163h2v1h-2zM49 283h2v1h-2zM50 87h2v1h-2zM50 178h2v1h-2zM19 107h2v1h-2zM136 113h2v1h-2zM20 114h1v1h-1zM20 117h1v1h-1zM20 145h1v1h-1zM20 148h1v1h-1zM20 162h1v1h-1zM20 167h1v1h-1zM20 211h1v1h-1zM20 222h1v1h-1zM20 261h1v2h-1zM137 123h1v1h-1zM137 216h1v1h-1zM131 127h1v1h-1zM133 128h1v1h-1zM133 150h1v1h-1zM41 142h2v1h-2zM41 193h2v1h-2zM41 199h2v1h-2zM41 204h2v1h-2zM38 144h2v1h-2zM38 159h2v1h-2zM40 148h2v1h-2zM40 190h2v1h-2zM141 166h2v1h-2zM141 175h2v1h-2zM18 191h3v1h-3zM150 194h1v1h-1zM37 205h2v1h-2zM21 216h2v1h-2zM29 234h2v1h-2zM129 235h1v1h-1zM157 246h1v1h-1zM31 255h2v1h-2zM20 260h2v1h-2z"/>
<path fill="#4ec36b" d="M13 0h1v1h-1zM13 13h1v1h-1zM13 19h1v1h-1zM13 62h1v1h-1zM13 114h1v1h-1zM13 120h1v1h-1zM13 162h1v2h-1zM13 181h1v1h-1zM13 206h1v1h-1zM13 223h1v1h-1zM13 233h1v1h-1zM13 242h1v1h-1zM13 256h1v1h-1zM13 270h1v1h-1zM13 279h1v1h-1zM146 0h1v2h-1zM146 7h1v1h-1zM146 16h1v1h-1zM146 25h1v1h-1zM146 27h1v1h-1zM146 43h1v1h-1zM146 68h1v1h-1zM146 78h1v1h-1zM146 110h1v1h-1zM146 124h1v1h-1zM146 126h1v1h-1zM146 148h1v1h-1zM146 169h1v1h-1zM146 175h1v1h-1zM146 179h1v1h-1zM146 189h1v1h-1zM146 193h1v2h-1zM146 238h1v1h-1zM146 245h1v1h-1zM146 248h1v1h-1zM146 250h1v1h-1zM146 280h1v1h-1zM141 1h1v1h-1zM141 6h1v1h-1zM141 29h1v1h-1zM141 35h1v1h-1zM141 40h1v1h-1zM141 46h1v1h-1zM141 54h1v1h-1zM141 58h1v1h-1zM141 60h1v2h-1zM141 86h1v1h-1zM141 90h1v1h-1zM141 92h1v1h-1zM141 100h1v1h-1zM141 125h1v1h-1zM141 129h1v1h-1zM141 131h1v2h-1zM141 141h1v2h-1zM141 167h1v2h-1zM141 185h1v2h-1zM141 204h1v1h-1zM141 214h1v1h-1zM141 223h1v1h-1zM141 246h1v1h-1zM141 257h1v1h-1zM141 266h1v2h-1zM141 269h1v2h-1zM141 282h1v1h-1zM17 2h1v1h-1zM17 11h1v1h-1zM17 24h1v1h-1zM17 36h1v2h-1zM17 42h1v1h-1zM17 47h1v1h-1zM17 49h1v1h-1zM17 59h1v2h-1zM17 81h1v1h-1zM17 99h1v1h-1zM17 119h1v1h-1zM17 125h1v1h-1zM17 140h1v1h-1zM17 158h1v1h-1zM17 166h1v1h-1zM17 168h1v2h-1zM17 171h1v1h-1zM17 195h1v1h-1zM17 199h1v1h-1zM17 206h1v1h-1zM17 211h1v1h-1zM17 222h1v1h-1zM17 233h1v1h-1zM17 238h1v1h-1zM17 242h1v1h-1zM17 249h1v1h-1zM17 260h1v1h-1zM17 283h1v1h-1zM35 2h1v1h-1zM35 5h1v2h-1zM35 12h1v1h-1zM35 43h1v2h-1zM35 62h1v1h-1zM35 77h1v1h-1zM35 102h1v1h-1zM35 104h1v1h-1zM35 119h1v1h-1zM35 138h1v1h-1zM35 156h1v1h-1zM35 161h1v1h-1zM35 170h1v1h-1zM35 177h1v1h-1zM35 179h1v1h-1zM35 196h1v1h-1zM35 201h1v2h-1zM35 223h1v1h-1zM35 243h1v1h-1zM35 249h1v1h-1zM35 252h1v1h-1zM35 265h1v1h-1zM35 269h1v1h-1zM35 277h1v1h-1zM35 280h1v1h-1zM46 2h1v1h-1zM46 8h1v1h-1zM46 31h1v1h-1zM46 33h1v1h-1zM46 56h1v1h-1zM46 93h1v1h-1zM46 116h1v1h-1zM46 161h1v2h-1zM46 172h1v1h-1zM46 175h1v1h-1zM46 189h1v1h-1zM46 197h1v1h-1zM46 218h1v1h-1zM46 221h1v1h-1zM46 226h1v1h-1zM46 236h1v1h-1zM147 2h1v1h-1zM147 21h1v1h-1zM147 30h1v1h-1zM147 38h1v1h-1zM147 41h1v1h-1zM147 57h1v1h-1zM147 62h1v1h-1zM147 83h1v1h-1zM147 91h1v1h-1zM147 123h1v1h-1zM147 127h1v1h-1zM147 151h1v1h-1zM147 182h1v1h-1zM147 192h1v1h-1zM147 198h1v1h-1zM147 203h1v1h-1zM147 207h1v1h-1zM147 228h1v1h-1zM147 242h1v1h-1zM147 253h1v1h-1zM147 267h1v1h-1zM147 269h1v1h-1zM147 284h1v1h-1zM16 3h1v1h-1zM16 32h1v1h-1zM16 54h1v1h-1zM16 73h1v2h-1zM16 132h1v1h-1zM16 196h1v1h-1zM16 200h1v1h-1zM16 214h1v1h-1zM16 226h1v1h-1zM30 3h1v1h-1zM30 13h1v2h-1zM30 34h1v1h-1zM30 37h1v1h-1zM30 43h1v2h-1zM30 53h1v1h-1zM30 65h1v1h-1zM30 69h1v1h-1zM30 83h1v1h-1zM30 110h1v1h-1zM30 118h1v1h-1zM30 120h1v1h-1zM30 131h1v1h-1zM30 167h1v1h-1zM30 175h1v2h-1zM30 180h1v1h-1zM30 182h1v2h-1zM30 199h1v1h-1zM30 230h1v1h-1zM30 233h1v1h-1zM30 238h1v1h-1zM30 243h1v1h-1zM30 265h1v1h-1zM30 269h1v1h-1zM30 275h1v1h-1zM30 277h1v1h-1zM56 3h1v1h-1zM56 223h1v1h-1zM56 248h1v1h-1zM56 278h1v1h-1zM146 3h2v1h-2zM146 5h2v1h-2zM146 20h2v1h-2zM146 23h2v1h-2zM146 32h2v1h-2zM146 51h2v1h-2zM146 56h2v1h-2zM146 66h2v1h-2zM146 77h2v1h-2zM146 82h2v1h-2zM146 87h2v1h-2zM146 95h2v1h-2zM146 98h2v2h-2zM146 116h2v1h-2zM146 140h2v1h-2zM146 152h2v1h-2zM146 155h2v1h-2zM146 181h2v1h-2zM146 191h2v1h-2zM146 205h2v1h-2zM146 214h2v1h-2zM146 220h2v1h-2zM146 224h2v1h-2zM146 229h2v1h-2zM146 231h2v1h-2zM146 249h2v1h-2zM146 252h2v1h-2zM146 261h2v1h-2zM146 266h2v1h-2zM146 277h2v1h-2zM13 4h2v1h-2zM13 25h2v1h-2zM13 50h2v1h-2zM13 61h2v1h-2zM13 63h2v1h-2zM13 182h2v1h-2zM13 204h2v1h-2zM13 247h2v1h-2zM143 4h1v1h-1zM143 17h1v1h-1zM143 30h1v1h-1zM143 38h1v1h-1zM143 46h1v1h-1zM143 48h1v2h-1zM143 80h1v1h-1zM143 86h1v1h-1zM143 95h1v2h-1zM143 100h1v1h-1zM143 118h1v1h-1zM143 133h1v1h-1zM143 174h1v1h-1zM143 181h1v2h-1zM143 193h1v1h-1zM143 205h1v2h-1zM143 215h1v1h-1zM143 228h1v1h-1zM143 244h1v1h-1zM143 271h1v1h-1zM10 5h1v1h-1zM10 81h1v1h-1zM10 159h1v1h-1zM10 166h1v1h-1zM47 5h1v1h-1zM47 37h1v1h-1zM47 110h1v1h-1zM47 117h1v1h-1zM47 131h1v1h-1zM47 185h1v1h-1zM47 196h1v1h-1zM47 224h1v1h-1zM47 233h1v1h-1zM47 247h1v1h-1zM47 270h1v1h-1zM47 273h1v1h-1zM47 283h1v1h-1zM47 285h1v1h-1zM22 7h1v1h-1zM22 80h1v1h-1zM22 93h1v1h-1zM22 148h1v1h-1zM22 195h1v1h-1zM22 205h1v1h-1zM22 236h1v1h-1zM22 270h1v1h-1zM22 281h1v2h-1zM22 284h1v1h-1zM48 7h1v1h-1zM48 11h1v1h-1zM48 27h1v2h-1zM48 71h1v1h-1zM48 77h1v1h-1zM48 81h1v1h-1zM48 90h1v1h-1zM48 92h1v1h-1zM48 100h1v1h-1zM48 107h1v1h-1zM48 136h1v1h-1zM48 191h1v1h-1zM48 193h1v1h-1zM48 200h1v1h-1zM48 255h1v1h-1zM48 258h1v1h-1zM48 280h1v2h-1zM50 8h1v1h-1zM50 47h1v1h-1zM50 60h1v1h-1zM50 66h1v1h-1zM50 88h1v1h-1zM50 119h1v1h-1zM50 124h1v1h-1zM50 166h1v1h-1zM50 168h1v1h-1zM50 190h1v1h-1zM50 192h1v1h-1zM50 195h1v1h-1zM50 201h1v1h-1zM50 244h1v1h-1zM50 271h1v1h-1zM50 278h1v2h-1zM141 9h2v1h-2zM45 10h1v1h-1zM45 42h1v1h-1zM45 73h1v1h-1zM45 145h1v1h-1zM45 203h1v1h-1zM45 238h1v1h-1zM45 240h1v1h-1zM45 248h1v1h-1zM136 10h1v1h-1zM136 43h1v1h-1zM136 58h1v1h-1zM136 101h1v2h-1zM136 178h1v1h-1zM44 11h1v1h-1zM44 26h1v1h-1zM44 37h1v1h-1zM44 76h1v1h-1zM44 82h1v1h-1zM44 95h1v1h-1zM44 104h1v1h-1zM44 106h1v1h-1zM44 126h1v1h-1zM44 128h1v2h-1zM44 158h1v1h-1zM44 184h1v1h-1zM44 189h1v1h-1zM44 210h1v1h-1zM44 216h1v1h-1zM44 241h1v1h-1zM44 252h1v1h-1zM44 258h1v1h-1zM44 279h1v1h-1zM44 282h1v1h-1zM21 12h1v1h-1zM21 169h1v1h-1zM21 206h1v1h-1zM21 234h1v1h-1zM33 12h1v1h-1zM33 27h1v1h-1zM33 30h1v1h-1zM33 48h1v1h-1zM33 65h1v1h-1zM33 86h1v1h-1zM33 98h1v1h-1zM33 102h1v1h-1zM33 104h1v1h-1zM33 121h1v2h-1zM33 140h1v1h-1zM33 151h1v1h-1zM33 153h1v1h-1zM33 159h1v1h-1zM33 170h1v1h-1zM33 177h1v1h-1zM33 182h1v1h-1zM33 192h1v1h-1zM33 194h1v2h-1zM33 219h1v1h-1zM33 233h1v1h-1zM33 263h1v2h-1zM33 269h1v1h-1zM33 280h1v1h-1zM15 15h1v1h-1zM15 29h1v1h-1zM15 33h1v1h-1zM15 79h1v3h-1zM15 92h1v1h-1zM15 99h1v1h-1zM15 102h1v1h-1zM15 105h1v1h-1zM15 138h1v2h-1zM15 178h1v1h-1zM15 193h1v2h-1zM15 199h1v1h-1zM15 206h1v1h-1zM15 208h1v1h-1zM15 218h1v1h-1zM15 227h1v1h-1zM15 229h1v1h-1zM15 235h1v1h-1zM15 238h1v1h-1zM15 257h1v1h-1zM15 265h1v2h-1zM15 268h1v1h-1zM15 283h1v1h-1zM15 285h1v1h-1zM40 15h1v1h-1zM40 33h1v1h-1zM40 54h1v2h-1zM40 57h1v1h-1zM40 59h1v1h-1zM40 64h1v1h-1zM40 67h1v1h-1zM40 100h1v1h-1zM40 102h1v1h-1zM40 134h1v1h-1zM40 206h1v1h-1zM40 210h1v1h-1zM40 229h1v1h-1zM40 254h1v1h-1zM40 270h1v1h-1zM40 282h1v1h-1zM18 16h4v1h-4zM142 16h1v1h-1zM142 99h1v1h-1zM142 237h1v1h-1zM32 17h1v1h-1zM32 39h1v1h-1zM32 50h1v1h-1zM32 53h1v1h-1zM32 75h1v1h-1zM32 107h1v1h-1zM32 118h1v1h-1zM32 131h1v1h-1zM32 133h1v1h-1zM32 146h1v1h-1zM32 149h1v1h-1zM32 157h1v1h-1zM32 203h1v1h-1zM32 209h1v1h-1zM32 238h1v1h-1zM32 256h1v1h-1zM32 272h1v1h-1zM41 17h1v1h-1zM41 44h1v1h-1zM41 53h1v1h-1zM41 60h1v1h-1zM41 80h1v1h-1zM41 168h1v1h-1zM41 182h1v1h-1zM41 195h1v1h-1zM41 213h1v1h-1zM41 239h1v1h-1zM145 17h1v1h-1zM145 41h1v1h-1zM145 46h1v1h-1zM145 157h1v1h-1zM145 233h1v1h-1zM32 18h2v1h-2zM32 72h2v1h-2zM32 92h2v1h-2zM32 144h2v1h-2zM32 165h2v1h-2zM32 211h2v1h-2zM14 20h1v1h-1zM14 37h1v1h-1zM14 78h1v1h-1zM14 90h1v1h-1zM14 127h1v2h-1zM14 135h1v1h-1zM14 210h1v1h-1zM14 212h1v1h-1zM14 215h1v2h-1zM14 284h1v1h-1zM38 22h1v1h-1zM38 152h1v1h-1zM38 157h1v1h-1zM38 166h1v1h-1zM38 232h1v1h-1zM38 235h1v1h-1zM38 238h1v1h-1zM38 245h1v1h-1zM38 265h1v1h-1zM38 282h1v1h-1zM37 24h2v1h-2zM41 24h2v1h-2zM41 108h2v1h-2zM41 116h2v1h-2zM23 28h1v1h-1zM23 123h1v1h-1zM43 29h1v1h-1zM43 36h1v1h-1zM43 47h1v1h-1zM43 55h1v1h-1zM43 68h1v1h-1zM43 84h1v1h-1zM43 102h1v1h-1zM43 142h1v1h-1zM43 150h1v1h-1zM43 168h1v1h-1zM43 256h1v1h-1zM43 273h1v1h-1zM51 30h1v1h-1zM51 55h1v1h-1zM51 65h1v1h-1zM51 100h1v1h-1zM51 109h1v1h-1zM51 129h1v1h-1zM51 184h1v1h-1zM51 187h1v1h-1zM51 197h1v1h-1zM51 203h1v1h-1zM51 240h1v1h-1zM51 259h1v1h-1zM51 268h1v1h-1zM37 31h1v1h-1zM37 92h1v1h-1zM37 231h1v1h-1zM39 32h1v1h-1zM39 42h1v1h-1zM39 50h1v1h-1zM39 56h1v1h-1zM39 61h1v1h-1zM39 78h1v1h-1zM39 93h1v2h-1zM39 133h1v1h-1zM39 136h1v1h-1zM39 170h1v1h-1zM39 172h1v1h-1zM39 182h1v1h-1zM39 228h1v1h-1zM39 258h1v1h-1zM39 264h1v1h-1zM39 268h1v1h-1zM39 272h1v1h-1zM39 276h1v1h-1zM49 32h1v1h-1zM49 67h1v1h-1zM49 135h1v1h-1zM49 173h1v1h-1zM49 186h1v1h-1zM49 196h1v1h-1zM49 205h1v2h-1zM49 223h1v1h-1zM49 226h1v1h-1zM49 274h1v1h-1zM49 282h1v1h-1zM19 33h1v1h-1zM19 61h1v1h-1zM19 95h1v1h-1zM19 102h1v1h-1zM19 104h1v1h-1zM19 106h1v1h-1zM19 162h1v1h-1zM19 166h1v1h-1zM19 171h1v1h-1zM19 210h1v1h-1zM19 232h1v1h-1zM19 257h1v1h-1zM19 260h1v1h-1zM18 34h1v1h-1zM18 159h1v1h-1zM18 189h1v1h-1zM18 218h1v1h-1zM18 256h1v1h-1zM18 259h1v1h-1zM18 282h1v1h-1zM18 285h1v1h-1zM137 37h2v1h-2zM137 61h2v1h-2zM137 108h2v1h-2zM137 148h2v1h-2zM137 183h2v1h-2zM137 199h2v1h-2zM11 41h1v1h-1zM11 67h1v1h-1zM11 73h1v1h-1zM11 86h1v1h-1zM42 42h2v1h-2zM42 52h2v1h-2zM42 133h2v1h-2zM42 157h2v1h-2zM12 49h1v1h-1zM12 127h1v1h-1zM12 135h1v1h-1zM12 143h1v1h-1zM12 220h1v1h-1zM12 249h1v1h-1zM12 252h1v1h-1zM12 254h1v1h-1zM12 259h1v1h-1zM12 266h1v1h-1zM12 60h3v1h-3zM160 62h1v2h-1zM160 204h1v1h-1zM160 223h1v1h-1zM160 266h1v1h-1zM160 271h1v1h-1zM144 63h1v1h-1zM144 101h1v2h-1zM144 168h1v1h-1zM44 67h2v1h-2zM137 70h1v1h-1zM20 71h1v1h-1zM20 214h1v1h-1zM20 282h1v1h-1zM20 285h1v1h-1zM138 76h1v1h-1zM138 113h1v1h-1zM138 163h1v1h-1zM138 191h1v1h-1zM138 273h1v1h-1zM42 77h1v1h-1zM42 272h1v1h-1zM47 82h2v1h-2zM20 84h2v1h-2zM20 118h2v1h-2zM31 100h1v1h-1zM31 128h1v1h-1zM31 139h1v1h-1zM31 170h1v1h-1zM31 198h1v1h-1zM31 205h1v1h-1zM31 247h1v1h-1zM31 249h1v1h-1zM31 278h1v1h-1zM144 104h2v1h-2zM144 120h2v1h-2zM144 225h2v1h-2zM144 243h2v1h-2zM144 246h2v1h-2zM144 273h2v1h-2zM54 110h1v1h-1zM39 119h2v1h-2zM34 128h1v1h-1zM34 149h1v1h-1zM34 214h1v1h-1zM16 130h2v1h-2zM10 133h3v1h-3zM10 239h3v1h-3zM40 143h2v1h-2zM10 179h2v1h-2zM10 285h2v1h-2zM18 208h2v1h-2zM12 221h2v1h-2zM144 235h3v1h-3zM48 275h2v1h-2zM31 282h2v1h-2z"/>
<path fill="#63cb5f" d="M15 0h1v1h-1zM15 24h1v2h-1zM15 27h1v1h-1zM15 106h1v1h-1zM15 110h1v1h-1zM15 112h1v1h-1zM15 120h1v1h-1zM15 123h1v2h-1zM15 126h1v1h-1zM15 153h1v1h-1zM15 159h1v1h-1zM15 163h1v1h-1zM15 219h1v1h-1zM15 230h1v1h-1zM15 232h1v1h-1zM15 245h1v1h-1zM15 277h1v1h-1zM15 281h1v1h-1zM35 0h1v1h-1zM35 47h1v1h-1zM35 54h1v1h-1zM35 56h1v1h-1zM35 64h1v1h-1zM35 67h1v1h-1zM35 69h1v1h-1zM35 78h1v1h-1zM35 93h1v1h-1zM35 97h1v1h-1zM35 100h1v1h-1zM35 123h1v1h-1zM35 131h1v1h-1zM35 153h1v1h-1zM35 171h1v1h-1zM35 193h1v1h-1zM35 209h1v1h-1zM35 215h1v1h-1zM35 219h1v2h-1zM35 234h1v1h-1zM35 246h1v1h-1zM35 255h1v1h-1zM35 275h1v1h-1zM35 282h1v1h-1zM57 0h1v1h-1zM57 3h1v1h-1zM57 34h1v1h-1zM57 51h1v1h-1zM57 70h1v1h-1zM57 107h1v1h-1zM57 110h1v2h-1zM57 129h1v1h-1zM57 157h1v1h-1zM57 215h1v1h-1zM57 222h1v2h-1zM57 235h1v1h-1zM57 244h1v1h-1zM137 1h1v1h-1zM137 12h1v2h-1zM137 31h1v1h-1zM137 47h1v1h-1zM137 49h1v1h-1zM137 52h1v1h-1zM137 57h1v1h-1zM137 59h1v1h-1zM137 82h1v1h-1zM137 101h1v1h-1zM137 109h1v1h-1zM137 114h1v1h-1zM137 124h1v1h-1zM137 144h1v1h-1zM137 155h1v1h-1zM137 166h1v1h-1zM137 172h1v1h-1zM137 180h1v2h-1zM137 202h1v1h-1zM137 212h1v1h-1zM137 222h1v2h-1zM137 230h1v1h-1zM137 232h1v1h-1zM137 240h1v1h-1zM137 244h1v1h-1zM137 247h1v1h-1zM137 263h1v1h-1zM137 267h1v1h-1zM147 1h1v1h-1zM147 47h1v1h-1zM147 189h1v1h-1zM147 195h1v1h-1zM34 2h1v1h-1zM34 9h1v1h-1zM34 24h1v1h-1zM34 43h1v1h-1zM34 62h1v1h-1zM34 80h1v1h-1zM34 83h1v1h-1zM34 102h1v1h-1zM34 110h1v1h-1zM34 119h1v1h-1zM34 133h1v1h-1zM34 138h1v1h-1zM34 140h1v1h-1zM34 179h1v1h-1zM34 186h1v1h-1zM34 194h1v1h-1zM34 205h1v1h-1zM34 212h1v1h-1zM34 228h1v1h-1zM34 249h1v1h-1zM34 268h1v1h-1zM34 280h1v1h-1zM46 3h1v1h-1zM46 6h1v1h-1zM46 16h1v1h-1zM46 18h1v1h-1zM46 40h1v1h-1zM46 103h1v1h-1zM46 112h1v1h-1zM46 114h1v1h-1zM46 138h1v1h-1zM46 166h1v1h-1zM46 196h1v1h-1zM46 200h1v1h-1zM46 219h1v2h-1zM46 222h1v1h-1zM46 225h1v1h-1zM46 227h1v1h-1zM46 229h1v1h-1zM46 269h1v1h-1zM9 4h1v1h-1zM9 10h1v2h-1zM9 19h1v1h-1zM9 29h1v1h-1zM9 38h1v1h-1zM9 41h1v1h-1zM9 44h1v1h-1zM9 74h1v2h-1zM9 85h1v1h-1zM9 107h1v1h-1zM9 119h1v2h-1zM9 125h1v1h-1zM9 141h1v1h-1zM9 144h1v1h-1zM9 165h1v1h-1zM9 184h1v1h-1zM9 186h1v2h-1zM9 191h1v1h-1zM9 221h1v1h-1zM9 230h1v1h-1zM9 249h1v1h-1zM9 275h1v1h-1zM9 285h1v1h-1zM56 4h1v1h-1zM56 10h1v1h-1zM56 24h1v1h-1zM56 38h1v2h-1zM56 54h1v1h-1zM56 91h1v1h-1zM56 94h1v2h-1zM56 114h1v1h-1zM56 116h1v1h-1zM56 119h1v1h-1zM56 121h1v1h-1zM56 128h1v1h-1zM56 132h1v1h-1zM56 153h1v1h-1zM56 198h1v1h-1zM56 228h1v2h-1zM56 250h1v1h-1zM56 260h1v1h-1zM56 279h1v1h-1zM14 5h1v1h-1zM14 98h1v1h-1zM14 121h1v2h-1zM14 146h1v1h-1zM14 187h1v1h-1zM14 192h1v1h-1zM14 248h1v1h-1zM14 278h1v1h-1zM17 6h1v1h-1zM17 18h1v1h-1zM17 69h1v2h-1zM17 72h1v1h-1zM17 93h1v1h-1zM17 133h1v1h-1zM17 142h1v1h-1zM17 155h1v1h-1zM17 162h1v2h-1zM17 226h1v1h-1zM17 235h1v1h-1zM17 267h1v1h-1zM17 269h1v1h-1zM17 280h1v1h-1zM17 284h1v1h-1zM33 7h1v1h-1zM33 29h1v1h-1zM33 39h1v1h-1zM33 70h1v1h-1zM33 87h1v1h-1zM33 118h1v1h-1zM33 146h1v1h-1zM33 149h1v1h-1zM33 154h1v1h-1zM33 157h1v1h-1zM33 201h1v1h-1zM33 235h1v1h-1zM33 257h1v1h-1zM33 282h1v1h-1zM43 8h1v1h-1zM43 184h1v1h-1zM43 260h1v1h-1zM43 268h1v1h-1zM43 272h1v1h-1zM30 9h1v1h-1zM30 12h1v1h-1zM30 16h1v1h-1zM30 22h1v1h-1zM30 30h1v1h-1zM30 47h1v1h-1zM30 66h1v1h-1zM30 76h1v1h-1zM30 79h1v1h-1zM30 82h1v1h-1zM30 89h1v1h-1zM30 123h1v2h-1zM30 159h1v1h-1zM30 163h1v1h-1zM30 179h1v1h-1zM30 197h1v1h-1zM30 205h1v1h-1zM30 235h1v1h-1zM30 239h1v1h-1zM30 258h1v1h-1zM30 270h1v1h-1zM16 11h1v1h-1zM16 17h1v1h-1zM16 58h1v1h-1zM16 62h1v1h-1zM16 96h1v1h-1zM16 117h1v1h-1zM16 145h1v1h-1zM16 197h1v1h-1zM16 252h1v1h-1zM14 12h2v1h-2zM22 12h1v1h-1zM22 110h1v1h-1zM22 159h1v1h-1zM22 227h1v1h-1zM22 234h1v1h-1zM22 244h1v1h-1zM45 12h1v1h-1zM45 154h1v1h-1zM45 170h1v1h-1zM45 173h1v1h-1zM45 206h1v1h-1zM48 15h1v2h-1zM48 18h1v1h-1zM48 20h1v1h-1zM48 30h1v1h-1zM48 40h1v1h-1zM48 45h1v1h-1zM48 51h1v1h-1zM48 76h1v1h-1zM48 122h1v1h-1zM48 124h1v1h-1zM48 144h1v1h-1zM48 151h1v2h-1zM48 154h1v1h-1zM48 159h1v2h-1zM48 173h1v2h-1zM48 205h1v1h-1zM48 210h1v1h-1zM48 217h1v1h-1zM48 219h1v1h-1zM48 222h1v2h-1zM48 239h1v2h-1zM48 246h1v1h-1zM48 252h1v1h-1zM48 266h1v1h-1zM48 274h1v1h-1zM48 279h1v1h-1zM141 16h1v1h-1zM40 17h1v1h-1zM40 22h1v1h-1zM40 37h1v1h-1zM40 53h1v1h-1zM40 91h1v1h-1zM40 150h1v1h-1zM40 174h1v1h-1zM40 195h1v1h-1zM40 231h1v1h-1zM146 17h1v1h-1zM146 34h1v1h-1zM146 41h1v1h-1zM146 46h1v1h-1zM146 127h1v1h-1zM146 157h1v1h-1zM146 182h1v2h-1zM146 186h1v1h-1zM146 192h1v1h-1zM146 225h1v1h-1zM146 242h1v1h-1zM146 246h1v1h-1zM146 259h1v1h-1zM24 18h1v1h-1zM24 93h1v1h-1zM24 226h1v1h-1zM24 246h1v1h-1zM39 19h1v1h-1zM39 28h1v1h-1zM39 55h1v1h-1zM39 57h1v2h-1zM39 85h1v1h-1zM39 88h1v1h-1zM39 98h1v1h-1zM39 102h1v1h-1zM39 138h1v1h-1zM39 184h1v1h-1zM39 186h1v1h-1zM39 188h1v1h-1zM39 210h1v1h-1zM39 234h1v1h-1zM39 239h1v1h-1zM39 254h1v1h-1zM44 27h1v1h-1zM44 35h1v1h-1zM44 39h1v1h-1zM44 46h1v1h-1zM44 50h1v1h-1zM44 62h1v1h-1zM44 64h1v1h-1zM44 69h1v2h-1zM44 75h1v1h-1zM44 122h1v2h-1zM44 139h1v1h-1zM44 153h1v1h-1zM44 171h1v1h-1zM44 178h1v1h-1zM44 191h1v1h-1zM44 195h1v1h-1zM44 207h1v1h-1zM44 248h1v1h-1zM44 251h1v1h-1zM44 273h1v1h-1zM44 281h1v1h-1zM44 283h1v1h-1zM13 30h2v1h-2zM13 95h2v1h-2zM13 239h2v1h-2zM13 243h2v1h-2zM32 31h1v1h-1zM32 77h1v1h-1zM32 113h1v1h-1zM32 136h1v1h-1zM32 186h1v1h-1zM32 234h1v1h-1zM32 277h1v1h-1zM143 33h1v2h-1zM143 40h1v1h-1zM143 60h1v1h-1zM143 63h1v1h-1zM143 90h1v1h-1zM143 102h1v1h-1zM143 124h1v1h-1zM143 126h1v1h-1zM143 129h1v1h-1zM143 136h1v1h-1zM143 149h1v1h-1zM143 158h1v1h-1zM143 162h1v2h-1zM143 175h1v1h-1zM143 188h1v1h-1zM143 195h1v1h-1zM143 203h1v2h-1zM143 214h1v1h-1zM143 243h1v1h-1zM143 252h1v1h-1zM143 266h1v2h-1zM143 272h1v1h-1zM143 282h1v2h-1zM46 38h2v1h-2zM42 39h1v1h-1zM19 40h1v1h-1zM19 58h1v1h-1zM19 97h1v1h-1zM19 145h1v1h-1zM19 148h1v1h-1zM19 214h1v1h-1zM19 240h1v1h-1zM19 256h1v1h-1zM19 261h1v1h-1zM19 282h1v1h-1zM51 41h1v1h-1zM51 173h1v1h-1zM51 191h1v1h-1zM51 219h1v1h-1zM51 251h1v1h-1zM51 270h1v1h-1zM31 44h1v1h-1zM31 188h1v1h-1zM31 208h1v1h-1zM31 217h1v1h-1zM32 45h2v1h-2zM20 46h1v1h-1zM20 250h1v1h-1zM20 271h1v1h-1zM20 276h1v1h-1zM47 46h1v1h-1zM47 49h1v1h-1zM47 176h1v1h-1zM47 181h1v1h-1zM47 251h1v1h-1zM49 50h1v1h-1zM49 64h1v1h-1zM49 68h1v1h-1zM49 72h1v1h-1zM49 221h1v1h-1zM49 262h1v1h-1zM18 57h1v1h-1zM18 153h1v1h-1zM18 175h1v1h-1zM18 202h1v1h-1zM36 63h1v1h-1zM36 107h1v1h-1zM36 170h1v1h-1zM36 238h1v1h-1zM36 243h1v1h-1zM36 252h1v1h-1zM36 265h1v1h-1zM37 66h1v1h-1zM37 195h1v1h-1zM37 214h1v1h-1zM12 67h1v1h-1zM12 73h1v1h-1zM12 98h1v1h-1zM12 112h1v1h-1zM12 151h1v1h-1zM12 189h1v1h-1zM12 238h1v1h-1zM23 70h1v1h-1zM23 188h1v1h-1zM42 71h2v1h-2zM42 98h2v1h-2zM38 79h1v1h-1zM38 89h1v1h-1zM38 92h1v1h-1zM38 135h1v1h-1zM38 154h1v1h-1zM38 208h1v1h-1zM38 231h1v1h-1zM38 250h1v1h-1zM13 90h1v1h-1zM13 113h1v1h-1zM13 127h1v1h-1zM13 135h1v1h-1zM13 210h1v1h-1zM13 224h1v1h-1zM13 254h1v1h-1zM13 266h1v1h-1zM13 281h1v1h-1zM41 93h2v1h-2zM48 102h2v1h-2zM146 102h2v1h-2zM146 122h2v1h-2zM146 243h2v1h-2zM21 124h1v1h-1zM50 129h1v1h-1zM50 133h1v1h-1zM50 186h1v1h-1zM50 207h1v1h-1zM50 223h1v1h-1zM136 142h1v1h-1zM160 167h1v1h-1zM44 169h2v1h-2zM56 170h2v1h-2zM56 195h2v1h-2zM56 281h2v1h-2zM21 194h2v1h-2zM11 209h1v1h-1zM11 242h1v1h-1zM16 221h2v1h-2zM18 251h2v1h-2zM33 252h2v1h-2zM30 281h2v1h-2z"/>
<path fill="#7ad151" d="M34 0h1v1h-1zM34 12h1v1h-1zM34 14h1v1h-1zM34 18h1v1h-1zM34 27h1v1h-1zM34 64h1v2h-1zM34 70h1v1h-1zM34 92h1v1h-1zM34 94h1v1h-1zM34 97h1v2h-1zM34 104h1v1h-1zM34 131h1v1h-1zM34 151h1v1h-1zM34 170h1v1h-1zM34 177h1v1h-1zM34 195h1v1h-1zM34 219h1v1h-1zM34 263h1v1h-1zM34 265h1v1h-1zM34 269h1v1h-1zM34 275h1v1h-1zM34 281h1v1h-1zM36 0h1v1h-1zM36 5h1v2h-1zM36 18h1v1h-1zM36 29h1v1h-1zM36 34h1v1h-1zM36 44h1v1h-1zM36 51h1v1h-1zM36 77h1v1h-1zM36 91h1v1h-1zM36 96h1v1h-1zM36 102h1v1h-1zM36 106h1v1h-1zM36 119h1v1h-1zM36 124h1v1h-1zM36 131h1v1h-1zM36 153h1v1h-1zM36 157h1v1h-1zM36 160h1v2h-1zM36 176h1v1h-1zM36 196h1v1h-1zM36 201h1v2h-1zM36 204h1v1h-1zM36 217h1v1h-1zM36 223h1v2h-1zM36 269h1v1h-1zM36 275h1v1h-1zM36 284h1v2h-1zM138 0h1v2h-1zM138 12h1v1h-1zM138 14h1v1h-1zM138 18h1v1h-1zM138 21h1v1h-1zM138 26h1v1h-1zM138 31h1v1h-1zM138 46h1v1h-1zM138 49h1v2h-1zM138 52h1v1h-1zM138 67h1v1h-1zM138 82h1v1h-1zM138 84h1v1h-1zM138 88h1v1h-1zM138 93h1v1h-1zM138 101h1v1h-1zM138 105h1v2h-1zM138 114h1v1h-1zM138 124h1v1h-1zM138 144h1v1h-1zM138 152h1v1h-1zM138 154h1v3h-1zM138 166h1v1h-1zM138 172h1v1h-1zM138 180h1v2h-1zM138 202h1v1h-1zM138 205h1v1h-1zM138 212h1v1h-1zM138 218h1v1h-1zM138 222h1v2h-1zM138 240h1v1h-1zM138 244h1v1h-1zM138 258h1v1h-1zM138 284h1v1h-1zM55 2h1v1h-1zM55 55h1v1h-1zM55 126h1v1h-1zM55 143h1v1h-1zM55 193h1v1h-1zM55 248h1v1h-1zM55 268h1v1h-1zM55 278h1v1h-1zM15 3h1v1h-1zM15 37h1v1h-1zM15 64h1v1h-1zM15 127h1v2h-1zM15 130h1v1h-1zM15 166h1v1h-1zM15 168h1v1h-1zM15 190h1v1h-1zM15 212h1v1h-1zM15 215h1v2h-1zM15 241h1v1h-1zM15 278h1v1h-1zM49 3h1v1h-1zM49 8h1v1h-1zM49 229h1v1h-1zM49 231h1v1h-1zM30 5h1v1h-1zM30 21h1v1h-1zM30 81h1v1h-1zM30 91h1v1h-1zM30 100h1v1h-1zM30 128h1v1h-1zM30 160h1v1h-1zM30 162h1v1h-1zM30 187h1v1h-1zM30 200h1v1h-1zM30 213h1v2h-1zM30 228h1v1h-1zM30 262h1v1h-1zM30 282h1v1h-1zM46 5h1v1h-1zM46 49h1v1h-1zM46 73h1v1h-1zM46 117h1v1h-1zM46 145h1v1h-1zM46 171h1v1h-1zM46 185h1v1h-1zM46 233h1v1h-1zM46 247h1v1h-1zM46 251h1v1h-1zM46 270h1v1h-1zM46 274h1v1h-1zM46 285h1v1h-1zM12 6h1v1h-1zM12 47h1v1h-1zM12 209h1v1h-1zM24 6h1v1h-1zM24 64h1v1h-1zM24 113h1v1h-1zM24 117h1v1h-1zM24 190h1v1h-1zM24 215h1v1h-1zM24 263h1v1h-1zM24 278h1v1h-1zM40 6h1v1h-1zM40 60h1v1h-1zM40 223h1v1h-1zM31 12h1v1h-1zM31 43h1v1h-1zM31 62h1v1h-1zM39 14h1v1h-1zM39 54h1v1h-1zM39 148h1v1h-1zM39 150h1v1h-1zM39 174h1v1h-1zM39 229h1v1h-1zM39 231h1v1h-1zM39 238h1v1h-1zM39 243h1v1h-1zM39 265h1v1h-1zM39 282h1v1h-1zM9 15h1v2h-1zM9 25h1v1h-1zM9 40h1v1h-1zM9 60h1v1h-1zM9 64h1v1h-1zM9 67h1v1h-1zM9 78h1v1h-1zM9 83h1v1h-1zM9 86h1v1h-1zM9 96h1v2h-1zM9 102h1v1h-1zM9 105h1v1h-1zM9 110h1v1h-1zM9 122h1v1h-1zM9 134h1v1h-1zM9 161h1v1h-1zM9 169h1v1h-1zM9 173h1v1h-1zM9 196h1v1h-1zM9 219h1v1h-1zM9 227h1v1h-1zM9 253h1v1h-1zM9 257h1v1h-1zM9 272h1v1h-1zM9 284h1v1h-1zM15 16h2v1h-2zM137 16h1v1h-1zM137 53h1v1h-1zM137 73h1v2h-1zM137 104h1v1h-1zM137 145h1v1h-1zM137 149h1v1h-1zM137 163h1v1h-1zM137 165h1v1h-1zM137 182h1v1h-1zM137 231h1v1h-1zM137 237h1v1h-1zM137 257h1v1h-1zM137 272h1v1h-1zM137 274h1v2h-1zM137 278h1v1h-1zM44 19h1v1h-1zM44 80h1v1h-1zM44 97h1v1h-1zM44 142h1v1h-1zM44 224h1v1h-1zM44 239h1v1h-1zM44 245h1v1h-1zM44 253h1v1h-1zM44 256h1v1h-1zM44 263h1v1h-1zM44 274h1v1h-1zM44 276h1v1h-1zM56 20h1v1h-1zM56 34h1v1h-1zM56 69h1v1h-1zM56 106h1v1h-1zM56 210h1v1h-1zM137 22h2v2h-2zM137 55h2v1h-2zM137 64h2v1h-2zM137 79h2v1h-2zM137 85h2v1h-2zM137 110h2v1h-2zM137 115h2v1h-2zM137 118h2v2h-2zM137 128h2v2h-2zM137 167h2v1h-2zM137 173h2v1h-2zM137 213h2v1h-2zM137 239h2v1h-2zM137 241h2v1h-2zM137 259h2v1h-2zM29 23h1v1h-1zM29 31h1v1h-1zM29 34h1v1h-1zM29 43h1v2h-1zM29 48h1v1h-1zM29 70h1v1h-1zM29 78h1v1h-1zM29 125h1v1h-1zM29 137h1v3h-1zM29 143h1v1h-1zM29 150h1v1h-1zM29 154h1v1h-1zM29 156h1v1h-1zM29 167h1v1h-1zM29 176h1v1h-1zM29 193h1v2h-1zM29 204h1v1h-1zM29 226h1v1h-1zM29 240h1v1h-1zM29 242h1v1h-1zM29 249h1v1h-1zM29 256h1v1h-1zM29 271h1v1h-1zM29 284h1v1h-1zM47 24h1v1h-1zM47 64h1v1h-1zM47 142h1v1h-1zM20 29h1v1h-1zM20 161h1v1h-1zM17 32h1v1h-1zM17 54h1v1h-1zM17 57h1v1h-1zM17 62h1v1h-1zM17 132h1v1h-1zM17 175h1v1h-1zM17 189h1v1h-1zM17 208h1v1h-1zM17 218h1v1h-1zM17 253h1v1h-1zM17 277h1v1h-1zM17 282h1v1h-1zM50 32h1v1h-1zM50 41h1v1h-1zM50 64h1v1h-1zM50 72h1v1h-1zM50 102h1v1h-1zM50 122h1v1h-1zM50 184h1v1h-1zM50 205h1v1h-1zM50 240h1v1h-1zM50 274h1v2h-1zM35 38h1v1h-1zM35 40h1v1h-1zM35 55h1v1h-1zM35 74h1v1h-1zM35 81h1v1h-1zM35 85h1v2h-1zM35 89h1v1h-1zM35 126h1v1h-1zM35 148h1v1h-1zM35 155h1v1h-1zM35 163h1v1h-1zM35 175h1v1h-1zM35 183h1v1h-1zM35 197h1v1h-1zM35 208h1v1h-1zM35 225h1v1h-1zM35 231h1v1h-1zM35 236h1v1h-1zM35 260h1v1h-1zM57 39h1v1h-1zM57 50h1v1h-1zM57 53h1v1h-1zM57 59h1v1h-1zM57 88h1v1h-1zM57 94h1v1h-1zM57 99h1v1h-1zM57 114h1v1h-1zM57 203h1v1h-1zM57 208h1v1h-1zM57 267h1v1h-1zM57 282h1v1h-1zM11 42h1v1h-1zM11 265h1v1h-1zM33 42h1v1h-1zM33 46h1v1h-1zM33 54h1v1h-1zM33 100h1v1h-1zM33 113h1v1h-1zM33 163h1v1h-1zM33 173h1v1h-1zM33 210h1v1h-1zM33 222h1v1h-1zM33 226h1v1h-1zM33 262h1v1h-1zM33 277h1v1h-1zM32 44h1v1h-1zM32 188h1v1h-1zM32 220h1v1h-1zM37 46h1v1h-1zM18 47h1v1h-1zM18 60h1v1h-1zM18 139h1v1h-1zM18 146h1v1h-1zM18 206h1v1h-1zM18 217h1v1h-1zM48 55h1v2h-1zM48 70h1v1h-1zM48 74h1v1h-1zM48 114h1v1h-1zM48 121h1v1h-1zM48 143h1v1h-1zM48 165h1v1h-1zM48 168h1v1h-1zM48 175h1v1h-1zM48 228h1v1h-1zM48 230h1v1h-1zM48 269h1v2h-1zM48 283h1v1h-1zM38 66h1v1h-1zM38 86h1v1h-1zM38 214h1v1h-1zM38 280h1v1h-1zM51 73h1v1h-1zM51 189h1v1h-1zM22 84h1v1h-1zM22 123h1v2h-1zM13 87h1v1h-1zM13 112h1v1h-1zM13 146h1v1h-1zM13 238h1v1h-1zM13 268h1v1h-1zM29 88h2v1h-2zM29 210h2v1h-2zM36 90h2v1h-2zM42 94h1v1h-1zM42 106h1v1h-1zM42 202h1v1h-1zM143 99h1v1h-1zM143 101h1v1h-1zM143 104h1v1h-1zM143 148h1v1h-1zM143 237h1v1h-1zM13 104h2v1h-2zM42 120h2v1h-2zM16 121h1v1h-1zM16 161h1v1h-1zM16 165h1v1h-1zM16 169h1v1h-1zM14 136h1v1h-1zM14 223h1v1h-1zM43 152h1v1h-1zM14 154h2v1h-2zM41 162h1v1h-1zM41 229h1v1h-1zM147 179h1v1h-1zM56 188h2v1h-2zM34 191h2v1h-2zM25 223h1v1h-1zM16 228h2v1h-2zM45 228h1v1h-1zM21 250h1v1h-1zM19 259h1v1h-1zM19 271h1v1h-1zM19 285h1v1h-1zM146 273h1v1h-1z"/>
<path fill="#95d840" d="M55 1h1v1h-1zM55 4h1v2h-1zM55 12h1v1h-1zM55 19h1v1h-1zM55 24h1v1h-1zM55 44h1v1h-1zM55 57h1v1h-1zM55 62h1v1h-1zM55 70h1v1h-1zM55 94h1v2h-1zM55 100h1v1h-1zM55 115h1v2h-1zM55 132h1v1h-1zM55 156h1v1h-1zM55 162h1v1h-1zM55 227h1v1h-1zM55 235h1v1h-1zM55 250h1v1h-1zM55 279h1v1h-1zM22 2h1v1h-1zM36 2h1v1h-1zM36 21h1v1h-1zM36 46h1v1h-1zM36 62h1v1h-1zM36 69h1v1h-1zM36 87h1v1h-1zM36 93h1v1h-1zM36 98h1v1h-1zM36 100h1v1h-1zM36 108h1v1h-1zM36 114h1v2h-1zM36 136h1v1h-1zM36 141h1v1h-1zM36 159h1v1h-1zM36 165h1v1h-1zM36 182h1v1h-1zM36 193h1v1h-1zM36 209h1v1h-1zM36 212h1v1h-1zM36 215h1v1h-1zM36 220h1v1h-1zM36 230h1v1h-1zM36 234h1v1h-1zM36 246h1v1h-1zM36 250h1v1h-1zM36 255h1v1h-1zM36 261h1v1h-1zM9 3h1v1h-1zM9 6h1v1h-1zM9 32h1v1h-1zM9 51h1v1h-1zM9 95h1v1h-1zM9 129h1v1h-1zM9 135h1v1h-1zM9 162h1v1h-1zM9 179h1v1h-1zM9 182h1v1h-1zM9 220h1v1h-1zM9 225h1v1h-1zM9 229h1v1h-1zM9 251h1v2h-1zM9 262h1v1h-1zM9 276h1v1h-1zM29 3h1v1h-1zM29 13h1v2h-1zM29 37h1v1h-1zM29 49h1v1h-1zM29 53h1v1h-1zM29 69h1v1h-1zM29 85h1v1h-1zM29 93h1v1h-1zM29 95h1v2h-1zM29 106h1v1h-1zM29 110h1v1h-1zM29 120h1v1h-1zM29 131h1v1h-1zM29 153h1v1h-1zM29 155h1v1h-1zM29 177h1v1h-1zM29 180h1v1h-1zM29 182h1v2h-1zM29 239h1v1h-1zM29 243h1v1h-1zM29 254h1v1h-1zM29 258h1v1h-1zM29 261h1v1h-1zM29 269h1v1h-1zM29 277h1v1h-1zM54 3h2v1h-2zM54 29h2v1h-2zM54 124h2v1h-2zM54 128h2v1h-2zM54 200h2v1h-2zM54 240h2v1h-2zM54 260h2v1h-2zM138 3h1v1h-1zM138 16h1v1h-1zM138 53h1v1h-1zM138 60h1v1h-1zM138 192h1v2h-1zM138 197h1v1h-1zM138 207h1v1h-1zM138 230h1v1h-1zM138 237h1v1h-1zM138 257h1v1h-1zM138 272h1v1h-1zM34 7h1v1h-1zM34 29h1v1h-1zM34 38h1v1h-1zM34 40h1v1h-1zM34 54h1v1h-1zM34 69h1v1h-1zM34 126h1v1h-1zM34 139h1v1h-1zM34 155h1v1h-1zM34 163h1v1h-1zM34 201h1v1h-1zM34 208h1v1h-1zM34 210h1v1h-1zM34 231h1v1h-1zM34 236h1v1h-1zM34 260h1v1h-1zM34 262h1v1h-1zM164 7h1v1h-1zM164 23h1v1h-1zM164 68h1v1h-1zM164 85h1v1h-1zM164 90h1v1h-1zM164 145h1v1h-1zM164 156h1v1h-1zM164 259h1v1h-1zM164 273h1v1h-1zM54 8h1v1h-1zM54 30h1v1h-1zM54 39h1v1h-1zM54 52h1v1h-1zM54 55h1v1h-1zM54 96h1v2h-1zM54 113h1v1h-1zM54 143h1v1h-1zM54 239h1v1h-1zM44 10h1v1h-1zM44 36h1v1h-1zM44 42h1v1h-1zM44 203h1v1h-1zM44 221h1v1h-1zM44 236h1v1h-1zM48 10h1v1h-1zM48 110h1v1h-1zM48 135h1v1h-1zM48 187h1v1h-1zM48 224h1v1h-1zM48 233h1v1h-1zM48 263h1v1h-1zM48 273h1v1h-1zM46 12h1v1h-1zM46 24h1v1h-1zM46 46h1v1h-1zM46 65h1v1h-1zM46 169h1v1h-1zM46 206h1v1h-1zM17 16h1v1h-1zM17 28h1v1h-1zM17 38h1v1h-1zM17 83h1v1h-1zM17 92h1v1h-1zM17 153h1v1h-1zM17 202h1v1h-1zM17 252h1v1h-1zM39 22h1v1h-1zM39 67h1v1h-1zM39 250h1v1h-1zM56 22h2v1h-2zM47 26h1v1h-1zM47 76h1v1h-1zM47 104h1v1h-1zM47 261h1v1h-1zM47 281h1v1h-1zM53 26h2v1h-2zM53 152h2v1h-2zM53 161h2v1h-2zM53 263h2v1h-2zM35 28h1v1h-1zM35 37h1v1h-1zM35 72h1v1h-1zM35 84h1v1h-1zM35 132h1v1h-1zM35 184h1v1h-1zM35 192h1v1h-1zM53 33h1v1h-1zM53 62h1v1h-1zM53 90h1v1h-1zM53 103h1v1h-1zM53 108h1v1h-1zM53 118h1v1h-1zM53 121h1v2h-1zM53 138h1v1h-1zM53 148h1v1h-1zM53 162h1v1h-1zM53 185h1v1h-1zM53 197h1v1h-1zM53 209h1v1h-1zM53 217h1v2h-1zM53 231h1v1h-1zM53 244h1v1h-1zM53 267h1v1h-1zM53 276h1v2h-1zM53 284h1v1h-1zM50 34h1v1h-1zM50 50h1v1h-1zM50 73h1v1h-1zM51 37h1v1h-1zM51 256h1v1h-1zM53 38h3v1h-3zM53 117h3v1h-3zM15 40h1v1h-1zM15 73h1v1h-1zM15 121h1v1h-1zM15 145h1v1h-1zM15 197h1v1h-1zM15 200h1v1h-1zM15 239h1v1h-1zM15 248h1v1h-1zM15 260h1v1h-1zM15 263h1v1h-1zM12 42h1v1h-1zM12 212h1v1h-1zM12 265h1v1h-1zM19 46h1v2h-1zM19 206h1v1h-1zM41 50h1v1h-1zM137 58h2v1h-2zM52 64h1v1h-1zM52 67h1v1h-1zM52 98h1v1h-1zM52 195h1v1h-1zM30 90h1v1h-1zM30 170h1v1h-1zM30 198h1v1h-1zM30 221h1v1h-1zM30 247h1v1h-1zM30 278h1v1h-1zM137 102h1v1h-1zM137 226h1v1h-1zM14 151h1v1h-1zM14 175h1v1h-1zM14 273h1v1h-1zM33 156h2v1h-2zM10 160h1v1h-1zM10 269h1v1h-1zM31 160h1v1h-1zM13 189h1v1h-1zM202 191h1v1h-1zM40 196h1v1h-1zM40 251h1v1h-1zM33 203h1v1h-1zM33 246h1v1h-1zM33 265h1v1h-1zM41 231h2v1h-2zM35 233h2v1h-2zM21 257h1v1h-1zM32 276h1v1h-1zM42 285h1v1h-1z"/>
<path fill="#b0dd2f" d="M30 2h1v1h-1zM30 285h1v1h-1zM52 5h1v1h-1zM52 51h1v1h-1zM52 108h1v1h-1zM52 122h1v2h-1zM52 207h1v1h-1zM52 244h1v1h-1zM52 247h1v1h-1zM52 255h1v1h-1zM52 284h1v1h-1zM39 6h1v1h-1zM39 223h1v1h-1zM29 9h1v1h-1zM29 12h1v1h-1zM29 47h1v1h-1zM29 57h1v1h-1zM29 59h1v1h-1zM29 66h1v1h-1zM29 76h1v1h-1zM29 79h1v1h-1zM29 83h1v1h-1zM29 89h1v1h-1zM29 92h1v1h-1zM29 123h1v2h-1zM29 159h1v1h-1zM29 179h1v1h-1zM29 187h1v1h-1zM29 195h1v1h-1zM29 209h1v1h-1zM29 214h1v1h-1zM29 230h1v1h-1zM29 235h1v1h-1zM29 250h1v1h-1zM29 252h1v1h-1zM29 260h1v1h-1zM29 281h1v1h-1zM36 10h1v1h-1zM36 38h1v1h-1zM36 55h1v1h-1zM36 145h1v1h-1zM36 155h1v1h-1zM36 172h1v1h-1zM36 183h1v1h-1zM36 219h1v1h-1zM36 229h1v1h-1zM36 253h1v1h-1zM36 272h1v1h-1zM15 11h1v1h-1zM15 17h1v1h-1zM15 96h1v1h-1zM15 117h1v1h-1zM15 136h1v1h-1zM15 140h1v1h-1zM15 161h1v1h-1zM15 221h1v1h-1zM15 228h1v1h-1zM9 12h1v1h-1zM9 68h1v1h-1zM9 94h1v1h-1zM9 136h1v1h-1zM9 151h1v1h-1zM9 210h1v1h-1zM9 226h1v1h-1zM53 13h1v1h-1zM53 36h1v1h-1zM53 96h1v1h-1zM53 113h1v1h-1zM53 151h1v1h-1zM53 159h1v1h-1zM53 181h1v1h-1zM53 230h1v1h-1zM53 242h1v1h-1zM53 269h1v1h-1zM203 19h1v1h-1zM203 191h1v1h-1zM50 20h1v1h-1zM50 256h1v1h-1zM55 20h1v2h-1zM55 34h1v1h-1zM55 106h1v1h-1zM55 138h1v1h-1zM55 210h1v1h-1zM34 37h1v1h-1zM34 42h1v1h-1zM34 72h1v1h-1zM34 95h1v1h-1zM34 100h1v1h-1zM34 123h1v1h-1zM34 132h1v1h-1zM34 173h1v1h-1zM34 189h1v1h-1zM34 192h1v1h-1zM34 211h1v1h-1zM34 233h1v1h-1zM34 238h1v1h-1zM34 246h1v1h-1zM34 277h1v1h-1zM34 279h1v1h-1zM48 38h1v1h-1zM48 67h1v2h-1zM48 176h1v1h-1zM48 196h1v1h-1zM48 221h1v1h-1zM48 231h1v1h-1zM48 262h1v1h-1zM40 50h1v1h-1zM40 125h1v1h-1zM54 57h1v1h-1zM54 62h1v1h-1zM54 70h1v1h-1zM54 79h1v1h-1zM54 100h1v1h-1zM54 194h1v1h-1zM54 225h1v1h-1zM53 75h2v1h-2zM53 99h2v1h-2zM53 164h2v1h-2zM53 180h2v1h-2zM53 214h2v1h-2zM138 75h1v1h-1zM12 78h1v1h-1zM13 124h2v1h-2zM13 133h2v1h-2zM13 219h2v1h-2zM13 129h1v1h-1zM35 135h1v1h-1zM35 166h1v1h-1zM35 194h1v1h-1zM35 251h1v1h-1zM137 142h1v1h-1zM137 178h1v1h-1zM17 146h1v1h-1zM17 244h1v1h-1zM44 154h1v1h-1zM44 170h1v1h-1zM44 230h1v1h-1zM44 260h1v1h-1zM44 268h1v1h-1zM32 208h1v1h-1zM32 284h1v1h-1zM21 230h1v1h-1zM22 257h1v1h-1zM205 258h1v1h-1zM33 276h1v1h-1zM33 283h1v1h-1z"/>
<path fill="#cae11f" d="M9 0h1v1h-1zM9 5h1v1h-1zM9 81h1v1h-1zM9 159h1v1h-1zM9 198h1v1h-1zM9 202h1v1h-1zM9 206h1v1h-1zM9 271h1v1h-1zM21 0h2v1h-2zM205 0h1v1h-1zM205 14h1v1h-1zM205 25h1v1h-1zM205 29h1v2h-1zM205 32h1v1h-1zM205 38h1v1h-1zM205 54h1v1h-1zM205 60h1v1h-1zM205 83h1v1h-1zM205 86h1v2h-1zM205 92h1v1h-1zM205 112h1v1h-1zM205 119h1v1h-1zM205 138h1v1h-1zM205 142h1v1h-1zM205 169h1v1h-1zM205 179h1v1h-1zM205 205h1v1h-1zM205 217h1v1h-1zM205 225h1v2h-1zM205 238h1v1h-1zM205 252h1v1h-1zM205 281h1v1h-1zM205 284h1v1h-1zM29 5h1v1h-1zM29 21h1v1h-1zM29 90h1v2h-1zM29 160h1v1h-1zM29 170h1v1h-1zM29 221h1v1h-1zM29 228h1v1h-1zM29 262h1v1h-1zM164 6h1v1h-1zM164 9h1v1h-1zM164 13h1v2h-1zM164 25h1v1h-1zM164 38h1v1h-1zM164 40h1v1h-1zM164 62h1v1h-1zM164 69h1v1h-1zM164 74h1v1h-1zM164 98h1v1h-1zM164 102h1v2h-1zM164 109h1v1h-1zM164 118h1v2h-1zM164 127h1v1h-1zM164 134h1v2h-1zM164 137h1v1h-1zM164 142h1v1h-1zM164 171h1v1h-1zM164 174h1v1h-1zM164 176h1v1h-1zM164 180h1v1h-1zM164 187h1v1h-1zM164 189h1v2h-1zM164 193h1v2h-1zM164 198h1v1h-1zM164 206h1v1h-1zM164 213h1v1h-1zM164 219h1v2h-1zM164 230h1v1h-1zM164 233h1v1h-1zM164 241h1v1h-1zM164 244h1v1h-1zM164 250h1v1h-1zM164 263h1v2h-1zM164 271h1v2h-1zM25 7h1v1h-1zM25 31h1v1h-1zM25 72h1v1h-1zM25 74h1v1h-1zM25 79h1v1h-1zM25 95h1v1h-1zM25 139h1v1h-1zM25 210h1v1h-1zM25 234h1v1h-1zM25 239h1v1h-1zM25 254h1v1h-1zM25 261h1v1h-1zM25 270h1v1h-1zM25 276h1v1h-1zM48 8h1v1h-1zM48 64h1v1h-1zM48 229h1v1h-1zM202 10h3v1h-3zM202 141h3v1h-3zM202 161h3v1h-3zM202 208h3v1h-3zM24 12h2v1h-2zM24 17h2v1h-2zM24 21h2v1h-2zM24 62h2v1h-2zM24 96h2v1h-2zM24 102h2v1h-2zM24 145h2v1h-2zM24 148h2v1h-2zM24 216h2v1h-2zM24 271h2v1h-2zM202 15h4v1h-4zM202 105h4v1h-4zM202 246h4v1h-4zM202 21h1v1h-1zM202 24h1v1h-1zM202 30h1v1h-1zM202 56h1v1h-1zM202 72h1v1h-1zM202 92h1v1h-1zM202 121h1v1h-1zM202 144h1v1h-1zM202 149h1v1h-1zM202 171h1v1h-1zM202 232h1v1h-1zM202 27h2v1h-2zM202 62h2v1h-2zM202 65h2v1h-2zM202 80h2v2h-2zM202 100h2v1h-2zM202 107h2v1h-2zM202 120h2v1h-2zM202 127h2v1h-2zM202 137h2v1h-2zM202 170h2v1h-2zM202 215h2v1h-2zM202 224h2v1h-2zM202 226h2v3h-2zM202 230h2v1h-2zM202 240h2v2h-2zM202 253h2v1h-2zM202 284h2v1h-2zM36 28h1v1h-1zM36 66h1v1h-1zM36 166h1v1h-1zM36 206h1v2h-1zM36 232h1v1h-1zM36 257h1v1h-1zM36 281h1v1h-1zM44 49h1v1h-1zM44 228h1v1h-1zM24 50h1v1h-1zM24 54h1v1h-1zM24 59h1v1h-1zM24 92h1v1h-1zM24 107h1v1h-1zM24 114h1v1h-1zM24 135h1v1h-1zM24 144h1v1h-1zM24 147h1v1h-1zM24 151h1v1h-1zM24 171h1v1h-1zM24 199h1v1h-1zM24 206h1v2h-1zM24 220h1v1h-1zM24 253h1v1h-1zM24 260h1v1h-1zM24 264h1v1h-1zM24 279h1v1h-1zM204 55h1v1h-1zM204 220h1v1h-1zM203 67h1v1h-1zM203 187h1v1h-1zM203 250h1v1h-1zM204 73h2v1h-2zM204 114h2v1h-2zM204 209h2v1h-2zM204 223h2v1h-2zM204 255h2v1h-2zM13 78h1v1h-1zM47 91h1v1h-1zM47 126h1v1h-1zM33 97h1v1h-1zM33 208h1v1h-1zM203 97h2v1h-2zM54 138h1v1h-1zM54 242h1v1h-1zM10 144h1v1h-1zM34 148h1v1h-1zM34 165h1v2h-1zM34 203h1v1h-1zM12 149h1v1h-1zM15 165h1v1h-1zM15 169h1v1h-1zM15 175h1v1h-1zM15 273h1v1h-1zM15 280h1v1h-1zM30 165h1v1h-1zM51 168h1v1h-1zM55 195h1v1h-1zM39 196h1v1h-1zM22 230h1v1h-1zM18 272h2v1h-2zM46 281h1v1h-1z"/>
<path fill="#e5e419" d="M164 3h1v1h-1zM164 22h1v1h-1zM164 24h1v1h-1zM164 37h1v1h-1zM164 44h1v1h-1zM164 51h1v1h-1zM164 54h1v1h-1zM164 72h1v2h-1zM164 79h1v1h-1zM164 91h1v1h-1zM164 107h1v1h-1zM164 110h1v2h-1zM164 114h1v1h-1zM164 120h1v1h-1zM164 125h1v1h-1zM164 146h1v1h-1zM164 164h1v1h-1zM164 178h1v1h-1zM164 217h1v1h-1zM164 221h1v2h-1zM164 225h1v1h-1zM44 12h1v1h-1zM44 22h1v1h-1zM34 19h1v1h-1zM34 283h1v1h-1zM203 21h2v1h-2zM203 30h2v1h-2zM203 72h2v1h-2zM203 86h2v1h-2zM24 22h1v1h-1zM24 48h1v1h-1zM24 72h1v1h-1zM24 79h1v1h-1zM24 95h1v1h-1zM24 110h1v2h-1zM24 146h1v1h-1zM24 164h1v1h-1zM24 234h1v2h-1zM36 24h1v1h-1zM36 194h1v2h-1zM36 251h1v1h-1zM25 26h1v1h-1zM25 57h1v1h-1zM25 191h1v1h-1zM25 203h1v1h-1zM25 207h1v1h-1zM33 37h1v1h-1zM29 39h1v1h-1zM29 163h1v1h-1zM29 213h1v1h-1zM29 270h1v1h-1zM203 40h1v1h-1zM203 56h1v1h-1zM9 52h1v1h-1zM204 62h1v1h-1zM204 80h1v1h-1zM204 87h1v1h-1zM204 92h1v1h-1zM204 137h1v2h-1zM204 170h1v1h-1zM204 224h1v1h-1zM204 226h1v2h-1zM204 230h1v1h-1zM204 250h1v1h-1zM204 253h1v2h-1zM204 284h1v1h-1zM15 71h1v1h-1zM24 109h2v1h-2zM38 118h1v1h-1zM16 138h1v1h-1zM204 139h2v1h-2zM13 149h1v1h-1zM35 162h1v1h-1zM35 205h1v1h-1zM53 195h2v1h-2zM48 261h1v1h-1zM30 279h1v1h-1z"/>
<path fill="#fde725" d="M29 2h1v1h-1zM29 36h1v1h-1zM29 65h1v1h-1zM29 115h1v1h-1zM29 152h1v1h-1zM29 165h1v1h-1zM29 198h1v1h-1zM29 285h1v1h-1zM24 5h1v1h-1zM24 28h1v1h-1zM24 31h1v1h-1zM24 53h1v1h-1zM24 70h1v1h-1zM24 168h1v1h-1zM24 188h1v1h-1zM24 242h1v1h-1zM24 250h1v1h-1zM24 270h1v1h-1zM52 17h1v1h-1zM52 28h1v1h-1zM52 30h1v1h-1zM52 37h1v1h-1zM52 55h1v2h-1zM52 63h1v1h-1zM52 65h1v1h-1zM52 87h1v2h-1zM52 103h1v1h-1zM52 115h1v1h-1zM52 117h1v1h-1zM52 121h1v1h-1zM52 138h1v1h-1zM52 140h1v1h-1zM52 148h1v1h-1zM52 155h1v1h-1zM52 159h1v1h-1zM52 171h1v2h-1zM52 185h1v1h-1zM52 187h1v1h-1zM52 189h1v1h-1zM52 191h1v2h-1zM52 197h1v1h-1zM52 205h1v1h-1zM52 209h1v1h-1zM52 218h1v1h-1zM52 223h1v1h-1zM52 225h1v1h-1zM52 227h1v1h-1zM52 229h1v3h-1zM52 238h1v2h-1zM52 241h1v2h-1zM52 251h1v1h-1zM52 256h1v2h-1zM52 265h1v1h-1zM52 267h1v2h-1zM52 270h1v1h-1zM52 276h1v1h-1zM52 278h1v1h-1zM52 280h1v1h-1zM35 24h1v1h-1zM39 86h1v1h-1zM48 91h1v1h-1zM164 112h1v1h-1zM164 182h1v1h-1zM164 211h1v1h-1zM46 126h1v1h-1zM34 129h1v1h-1zM34 162h1v1h-1zM9 160h1v1h-1zM9 269h1v1h-1zM36 205h1v1h-1z"/>
<path fill="#10d088" fill-opacity="0.04" d="M3 112h6v1h-6zM68 112h10v1h-10zM68 113h10v1h-10zM3 268h6v1h-6zM68 268h10v1h-10zM3 271h6v1h-6zM68 271h10v1h-10zM3 272h6v1h-6zM68 272h10v1h-10zM3 273h6v1h-6zM68 273h10v1h-10zM3 274h6v1h-6zM68 274h10v1h-10zM3 275h6v1h-6zM68 275h10v1h-10zM3 276h6v1h-6zM68 276h10v1h-10zM3 278h6v1h-6zM68 278h10v1h-10zM3 279h6v1h-6zM68 279h10v1h-10z"/>
<path fill="#d5ff17" fill-opacity="0.04" d="M9 112h17v1h-17zM9 113h17v1h-17zM9 264h17v1h-17zM9 265h17v1h-17zM9 268h17v1h-17zM9 269h17v1h-17zM9 270h17v1h-17zM9 271h17v1h-17zM9 272h17v1h-17zM9 273h17v1h-17zM9 274h17v1h-17zM9 275h17v1h-17zM9 276h17v1h-17zM9 278h17v1h-17zM9 279h17v1h-17z"/>
<path fill="#e6ff10" fill-opacity="0.04" d="M29 112h29v1h-29zM29 268h29v1h-29zM29 271h29v1h-29zM29 272h29v1h-29zM29 273h29v1h-29zM29 274h29v1h-29zM29 275h29v1h-29zM29 276h29v1h-29zM29 278h29v1h-29zM29 279h29v1h-29z"/>
<path fill="#40e070" fill-opacity="0.08" d="M58 112h10v1h-10zM58 113h10v1h-10zM58 264h10v1h-10zM58 265h10v1h-10zM58 268h10v1h-10zM58 270h10v1h-10zM58 271h10v1h-10zM58 272h10v1h-10zM58 275h10v1h-10z"/>
<path fill="#10d088" fill-opacity="0.08" d="M3 113h6v1h-6zM68 114h10v1h-10zM3 264h6v1h-6zM68 264h10v1h-10zM3 265h6v1h-6zM68 265h10v1h-10zM3 267h6v1h-6zM68 267h10v1h-10zM3 269h6v1h-6zM68 269h10v1h-10zM3 270h6v1h-6zM68 270h10v1h-10z"/>
<path fill="#e6ff10" fill-opacity="0.08" d="M29 113h29v1h-29zM29 264h29v1h-29zM29 265h29v1h-29zM29 267h29v1h-29zM29 269h29v1h-29zM29 270h29v1h-29z"/>
<path fill="#10d088" fill-opacity="0.12" d="M3 114h6v1h-6zM3 115h6v1h-6zM68 115h10v1h-10zM68 116h10v1h-10zM68 120h10v1h-10zM68 131h10v1h-10zM68 135h10v1h-10zM68 258h10v1h-10zM3 260h6v1h-6zM68 260h10v1h-10zM68 261h10v1h-10zM3 262h6v1h-6zM68 262h10v1h-10zM68 263h10v1h-10zM3 266h6v1h-6zM68 266h10v1h-10z"/>
<path fill="#d5ff17" fill-opacity="0.08" d="M9 114h17v1h-17zM9 115h17v1h-17zM9 260h17v1h-17zM9 262h17v1h-17zM9 266h17v1h-17zM9 267h17v1h-17z"/>
<path fill="#e6ff10" fill-opacity="0.12" d="M29 114h29v1h-29zM29 115h29v1h-29zM29 260h29v1h-29zM29 262h29v1h-29zM29 266h29v1h-29z"/>
<path fill="#40e070" fill-opacity="0.12" d="M58 114h10v1h-10zM58 266h10v1h-10zM58 267h10v1h-10zM58 269h10v1h-10z"/>
<path fill="#40e070" fill-opacity="0.16" d="M58 115h10v1h-10zM58 131h10v1h-10zM58 258h10v1h-10zM58 260h10v1h-10zM58 261h10v1h-10zM58 262h10v1h-10z"/>
<path fill="#10d088" fill-opacity="0.16" d="M3 116h6v1h-6zM3 117h6v1h-6zM68 117h10v1h-10zM3 119h6v1h-6zM68 119h10v1h-10zM3 120h6v1h-6zM3 121h6v1h-6zM68 121h10v1h-10zM68 122h10v1h-10zM3 131h6v1h-6zM3 132h6v1h-6zM68 132h10v1h-10zM3 135h6v1h-6zM3 136h6v1h-6zM68 136h10v1h-10zM3 137h6v1h-6zM68 137h10v1h-10zM3 142h6v1h-6zM68 142h10v1h-10zM68 145h10v1h-10zM68 148h10v1h-10zM3 151h6v1h-6zM68 151h10v1h-10zM3 153h6v1h-6zM68 153h10v1h-10zM68 237h10v1h-10zM3 251h6v1h-6zM68 251h10v1h-10zM3 252h6v1h-6zM68 252h10v1h-10zM3 258h6v1h-6zM3 259h6v1h-6zM68 259h10v1h-10zM3 261h6v1h-6zM3 263h6v1h-6z"/>
<path fill="#d5ff17" fill-opacity="0.12" d="M9 116h17v1h-17zM9 117h17v1h-17zM9 119h17v1h-17zM9 120h17v1h-17zM9 121h17v1h-17zM9 122h17v1h-17zM9 131h17v1h-17zM9 132h17v1h-17zM9 135h17v1h-17zM9 136h17v1h-17zM9 137h17v1h-17zM9 142h17v1h-17zM9 145h17v1h-17zM9 148h17v1h-17zM9 151h17v1h-17zM9 153h17v1h-17zM9 237h17v1h-17zM9 251h17v1h-17zM9 252h17v1h-17zM9 258h17v1h-17zM9 259h17v1h-17zM9 261h17v1h-17zM9 263h17v1h-17z"/>
<path fill="#e6ff10" fill-opacity="0.16" d="M29 116h29v1h-29zM29 117h29v1h-29zM29 119h29v1h-29zM29 120h29v1h-29zM29 121h29v1h-29zM29 131h29v1h-29zM29 132h29v1h-29zM29 135h29v1h-29zM29 136h29v1h-29zM29 137h29v1h-29zM29 142h29v1h-29zM29 151h29v1h-29zM29 153h29v1h-29zM29 251h29v1h-29zM29 252h29v1h-29zM29 258h29v1h-29zM29 259h29v1h-29zM29 261h29v1h-29zM29 263h29v1h-29z"/>
<path fill="#40e070" fill-opacity="0.20" d="M58 116h10v1h-10zM58 117h10v1h-10zM58 119h10v1h-10zM58 120h10v1h-10zM58 121h10v1h-10zM58 132h10v1h-10zM58 135h10v1h-10zM58 136h10v1h-10zM58 137h10v1h-10zM58 142h10v1h-10zM58 151h10v1h-10zM58 153h10v1h-10zM58 251h10v1h-10zM58 252h10v1h-10zM58 259h10v1h-10zM58 263h10v1h-10z"/>
<path fill="#10d088" fill-opacity="0.20" d="M3 118h6v1h-6zM68 118h10v1h-10zM3 122h6v1h-6zM68 123h10v1h-10zM68 124h10v1h-10zM3 125h6v1h-6zM68 125h10v1h-10zM3 127h6v1h-6zM68 127h10v1h-10zM68 129h10v1h-10zM3 130h6v1h-6zM68 130h10v1h-10zM68 134h10v1h-10zM68 138h10v1h-10zM68 141h10v1h-10zM68 143h10v1h-10zM68 144h10v1h-10zM3 145h6v1h-6zM3 147h6v1h-6zM68 147h10v1h-10zM3 148h6v1h-6zM68 149h10v1h-10zM68 152h10v1h-10zM68 165h10v1h-10zM68 216h10v1h-10zM3 223h6v1h-6zM68 223h10v1h-10zM68 224h10v1h-10zM68 226h10v1h-10zM3 237h6v1h-6zM3 248h6v1h-6zM68 248h10v1h-10zM68 249h10v1h-10zM3 253h6v1h-6zM68 253h10v1h-10zM68 255h10v1h-10zM68 257h10v1h-10z"/>
<path fill="#d5ff17" fill-opacity="0.16" d="M9 118h17v1h-17zM9 123h17v1h-17zM9 124h17v1h-17zM9 125h17v1h-17zM9 126h17v1h-17zM9 127h17v1h-17zM9 128h17v1h-17zM9 129h17v1h-17zM9 130h17v1h-17zM9 133h17v1h-17zM9 134h17v1h-17zM9 138h17v1h-17zM9 139h17v1h-17zM9 141h17v1h-17zM9 143h17v1h-17zM9 144h17v1h-17zM9 146h17v1h-17zM9 147h17v1h-17zM9 149h17v1h-17zM9 150h17v1h-17zM9 152h17v1h-17zM9 159h17v1h-17zM9 165h17v1h-17zM9 167h17v1h-17zM9 216h17v1h-17zM9 219h17v1h-17zM9 223h17v1h-17zM9 224h17v1h-17zM9 225h17v1h-17zM9 226h17v1h-17zM9 232h17v1h-17zM9 233h17v1h-17zM9 235h17v1h-17zM9 239h17v1h-17zM9 248h17v1h-17zM9 249h17v1h-17zM9 253h17v1h-17zM9 255h17v1h-17zM9 256h17v1h-17zM9 257h17v1h-17z"/>
<path fill="#e6ff10" fill-opacity="0.20" d="M29 118h29v1h-29zM29 122h29v1h-29zM29 125h29v1h-29zM29 127h29v1h-29zM29 130h29v1h-29zM29 145h29v1h-29zM29 147h29v1h-29zM29 148h29v1h-29zM29 223h29v1h-29zM29 237h29v1h-29zM29 248h29v1h-29zM29 253h29v1h-29z"/>
<path fill="#40e070" fill-opacity="0.24" d="M58 118h10v1h-10zM58 122h10v1h-10zM58 125h10v1h-10zM58 127h10v1h-10zM58 130h10v1h-10zM58 145h10v1h-10zM58 147h10v1h-10zM58 148h10v1h-10zM58 223h10v1h-10zM58 237h10v1h-10zM58 253h10v1h-10z"/>
<path fill="#10d088" fill-opacity="0.24" d="M3 123h6v1h-6zM3 124h6v1h-6zM3 126h6v1h-6zM68 126h10v1h-10zM3 128h6v1h-6zM68 128h10v1h-10zM3 129h6v1h-6zM3 133h6v1h-6zM68 133h10v1h-10zM3 134h6v1h-6zM3 138h6v1h-6zM3 139h6v1h-6zM68 139h10v1h-10zM68 140h10v1h-10zM3 141h6v1h-6zM3 143h6v1h-6zM3 144h6v1h-6zM3 146h6v1h-6zM68 146h10v1h-10zM3 149h6v1h-6zM3 150h6v1h-6zM68 150h10v1h-10zM3 152h6v1h-6zM3 159h6v1h-6zM68 159h10v1h-10zM68 161h10v1h-10zM3 165h6v1h-6zM3 167h6v1h-6zM68 167h10v1h-10zM68 211h10v1h-10zM3 216h6v1h-6zM68 218h10v1h-10zM3 219h6v1h-6zM68 219h10v1h-10zM3 220h6v1h-6zM68 220h10v1h-10zM68 222h10v1h-10zM3 224h6v1h-6zM3 225h6v1h-6zM68 225h10v1h-10zM3 226h6v1h-6zM3 227h6v1h-6zM68 227h10v1h-10zM3 232h6v1h-6zM68 232h10v1h-10zM3 233h6v1h-6zM68 233h10v1h-10zM3 235h6v1h-6zM68 235h10v1h-10zM68 236h10v1h-10zM3 239h6v1h-6zM68 239h10v1h-10zM68 241h10v1h-10zM68 242h10v1h-10zM68 245h10v1h-10zM3 249h6v1h-6zM68 250h10v1h-10zM68 254h10v1h-10zM3 255h6v1h-6zM3 256h6v1h-6zM68 256h10v1h-10zM3 257h6v1h-6z"/>
<path fill="#e6ff10" fill-opacity="0.24" d="M29 123h29v1h-29zM29 124h29v1h-29zM29 126h29v1h-29zM29 128h29v1h-29zM29 129h29v1h-29zM29 133h29v1h-29zM29 134h29v1h-29zM29 138h29v1h-29zM29 139h29v1h-29zM29 141h29v1h-29zM29 143h29v1h-29zM29 144h29v1h-29zM29 146h29v1h-29zM29 149h29v1h-29zM29 150h29v1h-29zM29 152h29v1h-29zM29 159h29v1h-29zM29 165h29v1h-29zM29 167h29v1h-29zM29 216h29v1h-29zM29 219h29v1h-29zM29 220h29v1h-29zM29 224h29v1h-29zM29 225h29v1h-29zM29 226h29v1h-29zM29 227h29v1h-29zM29 232h29v1h-29zM29 233h29v1h-29zM29 235h29v1h-29zM29 239h29v1h-29zM29 249h29v1h-29zM29 255h29v1h-29zM29 256h29v1h-29zM29 257h29v1h-29z"/>
<path fill="#40e070" fill-opacity="0.28" d="M58 123h10v1h-10zM58 124h10v1h-10zM58 126h10v1h-10zM58 128h10v1h-10zM58 129h10v1h-10zM58 134h10v1h-10zM58 138h10v1h-10zM58 139h10v1h-10zM58 141h10v1h-10zM58 143h10v1h-10zM58 144h10v1h-10zM58 146h10v1h-10zM58 149h10v1h-10zM58 150h10v1h-10zM58 152h10v1h-10zM58 159h10v1h-10zM58 165h10v1h-10zM58 216h10v1h-10zM58 224h10v1h-10zM58 225h10v1h-10zM58 226h10v1h-10zM58 232h10v1h-10zM58 233h10v1h-10zM58 239h10v1h-10zM58 248h10v1h-10zM58 249h10v1h-10zM58 255h10v1h-10zM58 256h10v1h-10zM58 257h10v1h-10z"/>
<path fill="#40e070" fill-opacity="0.32" d="M58 133h10v1h-10zM58 140h10v1h-10zM58 161h10v1h-10zM58 167h10v1h-10zM58 211h10v1h-10zM58 218h10v1h-10zM58 219h10v1h-10zM58 220h10v1h-10zM58 222h10v1h-10zM58 227h10v1h-10zM58 235h10v1h-10zM58 241h10v1h-10zM58 245h10v1h-10zM58 254h10v1h-10z"/>
<path fill="#10d088" fill-opacity="0.28" d="M3 140h6v1h-6zM68 160h10v1h-10zM3 161h6v1h-6zM68 162h10v1h-10zM68 164h10v1h-10zM3 166h6v1h-6zM68 166h10v1h-10zM3 211h6v1h-6zM68 215h10v1h-10zM68 217h10v1h-10zM3 218h6v1h-6zM3 222h6v1h-6zM68 229h10v1h-10zM3 230h6v1h-6zM68 230h10v1h-10zM3 234h6v1h-6zM68 234h10v1h-10zM3 236h6v1h-6zM3 240h6v1h-6zM68 240h10v1h-10zM3 241h6v1h-6zM3 242h6v1h-6zM68 243h10v1h-10zM68 244h10v1h-10zM3 245h6v1h-6zM68 246h10v1h-10zM68 247h10v1h-10zM3 250h6v1h-6zM3 254h6v1h-6z"/>
<path fill="#d5ff17" fill-opacity="0.20" d="M9 140h17v1h-17zM9 161h17v1h-17zM9 166h17v1h-17zM9 211h17v1h-17zM9 218h17v1h-17zM9 220h17v1h-17zM9 222h17v1h-17zM9 227h17v1h-17zM9 229h17v1h-17zM9 230h17v1h-17zM9 234h17v1h-17zM9 236h17v1h-17zM9 240h17v1h-17zM9 241h17v1h-17zM9 242h17v1h-17zM9 245h17v1h-17zM9 246h17v1h-17zM9 247h17v1h-17zM9 250h17v1h-17zM9 254h17v1h-17z"/>
<path fill="#e6ff10" fill-opacity="0.28" d="M29 140h29v1h-29zM29 161h29v1h-29zM29 166h29v1h-29zM29 211h29v1h-29zM29 218h29v1h-29zM29 222h29v1h-29zM29 230h29v1h-29zM29 234h29v1h-29zM29 236h29v1h-29zM29 240h29v1h-29zM29 241h29v1h-29zM29 242h29v1h-29zM29 245h29v1h-29zM29 250h29v1h-29zM29 254h29v1h-29z"/>
<path fill="#10d088" fill-opacity="0.40" d="M3 154h6v1h-6zM68 156h10v1h-10zM68 169h10v1h-10zM68 176h10v1h-10zM3 179h6v1h-6zM3 192h6v1h-6zM68 194h10v1h-10zM3 195h6v1h-6zM3 197h6v1h-6zM3 200h6v1h-6zM3 207h6v1h-6z"/>
<path fill="#d5ff17" fill-opacity="0.28" d="M9 154h17v1h-17zM9 156h17v1h-17zM9 173h17v1h-17zM9 175h17v1h-17zM9 179h17v1h-17zM9 181h17v1h-17zM9 183h17v1h-17zM9 186h17v1h-17zM9 192h17v1h-17zM9 195h17v1h-17zM9 197h17v1h-17zM9 200h17v1h-17zM9 201h17v1h-17zM9 207h17v1h-17z"/>
<path fill="#e6ff10" fill-opacity="0.40" d="M29 154h29v1h-29zM29 179h29v1h-29zM29 192h29v1h-29zM29 195h29v1h-29zM29 197h29v1h-29zM29 200h29v1h-29zM29 207h29v1h-29z"/>
<path fill="#40e070" fill-opacity="0.48" d="M58 154h10v1h-10zM58 179h10v1h-10zM58 192h10v1h-10zM58 195h10v1h-10zM58 197h10v1h-10zM58 200h10v1h-10zM58 207h10v1h-10z"/>
<path fill="#10d088" fill-opacity="0.36" d="M68 154h10v1h-10zM3 158h6v1h-6zM3 173h6v1h-6zM3 175h6v1h-6zM68 179h10v1h-10zM3 181h6v1h-6zM68 181h10v1h-10zM3 183h6v1h-6zM68 183h10v1h-10zM3 185h6v1h-6zM3 186h6v1h-6zM3 189h6v1h-6zM68 192h10v1h-10zM3 193h6v1h-6zM68 195h10v1h-10zM3 196h6v1h-6zM68 197h10v1h-10zM68 200h10v1h-10zM3 201h6v1h-6zM68 207h10v1h-10zM3 210h6v1h-6zM3 212h6v1h-6zM3 213h6v1h-6zM3 214h6v1h-6zM3 221h6v1h-6zM3 228h6v1h-6zM3 231h6v1h-6z"/>
<path fill="#10d088" fill-opacity="0.60" d="M3 155h6v1h-6zM3 182h6v1h-6zM3 198h6v1h-6zM3 199h6v1h-6zM3 203h6v1h-6z"/>
<path fill="#d5ff17" fill-opacity="0.40" d="M9 155h17v1h-17zM9 157h17v1h-17zM9 172h17v1h-17zM9 174h17v1h-17zM9 178h17v1h-17zM9 182h17v1h-17zM9 191h17v1h-17zM9 198h17v1h-17zM9 202h17v1h-17zM9 203h17v1h-17zM9 208h17v1h-17z"/>
<path fill="#e6ff10" fill-opacity="0.60" d="M29 155h29v1h-29zM29 182h29v1h-29zM29 198h29v1h-29zM29 199h29v1h-29zM29 203h29v1h-29z"/>
<path fill="#40e070" fill-opacity="0.72" d="M58 155h10v1h-10zM58 199h10v1h-10zM58 203h10v1h-10zM58 204h10v1h-10z"/>
<path fill="#10d088" fill-opacity="0.52" d="M68 155h10v1h-10zM3 170h6v1h-6zM3 171h6v1h-6zM68 172h10v1h-10zM68 174h10v1h-10zM3 177h6v1h-6zM68 178h10v1h-10zM68 182h10v1h-10zM3 184h6v1h-6zM3 190h6v1h-6zM68 191h10v1h-10zM68 198h10v1h-10zM68 203h10v1h-10zM3 205h6v1h-6zM68 208h10v1h-10zM3 209h6v1h-6z"/>
<path fill="#10d088" fill-opacity="0.44" d="M3 156h6v1h-6zM68 168h10v1h-10zM3 169h6v1h-6zM3 176h6v1h-6zM68 177h10v1h-10zM68 180h10v1h-10zM68 187h10v1h-10zM68 188h10v1h-10zM3 194h6v1h-6zM68 206h10v1h-10z"/>
<path fill="#e6ff10" fill-opacity="0.44" d="M29 156h29v1h-29zM29 169h29v1h-29zM29 176h29v1h-29zM29 194h29v1h-29z"/>
<path fill="#40e070" fill-opacity="0.52" d="M58 156h10v1h-10zM58 176h10v1h-10zM58 194h10v1h-10z"/>
<path fill="#10d088" fill-opacity="0.56" d="M3 157h6v1h-6zM3 172h6v1h-6zM3 174h6v1h-6zM3 178h6v1h-6zM3 191h6v1h-6zM68 199h10v1h-10zM3 202h6v1h-6zM68 204h10v1h-10zM3 208h6v1h-6z"/>
<path fill="#e6ff10" fill-opacity="0.56" d="M29 157h29v1h-29zM29 172h29v1h-29zM29 174h29v1h-29zM29 178h29v1h-29zM29 191h29v1h-29zM29 202h29v1h-29zM29 208h29v1h-29z"/>
<path fill="#40e070" fill-opacity="0.68" d="M58 157h10v1h-10zM58 172h10v1h-10zM58 174h10v1h-10zM58 178h10v1h-10zM58 182h10v1h-10zM58 191h10v1h-10zM58 198h10v1h-10zM58 208h10v1h-10z"/>
<path fill="#10d088" fill-opacity="0.48" d="M68 157h10v1h-10zM3 168h6v1h-6zM68 170h10v1h-10zM68 171h10v1h-10zM3 180h6v1h-6zM68 184h10v1h-10zM3 187h6v1h-6zM3 188h6v1h-6zM68 190h10v1h-10zM68 202h10v1h-10zM68 205h10v1h-10zM3 206h6v1h-6zM68 209h10v1h-10z"/>
<path fill="#d5ff17" fill-opacity="0.24" d="M9 158h17v1h-17zM9 160h17v1h-17zM9 162h17v1h-17zM9 163h17v1h-17zM9 164h17v1h-17zM9 185h17v1h-17zM9 189h17v1h-17zM9 193h17v1h-17zM9 196h17v1h-17zM9 210h17v1h-17zM9 212h17v1h-17zM9 213h17v1h-17zM9 214h17v1h-17zM9 215h17v1h-17zM9 217h17v1h-17zM9 221h17v1h-17zM9 228h17v1h-17zM9 231h17v1h-17zM9 238h17v1h-17zM9 243h17v1h-17zM9 244h17v1h-17z"/>
<path fill="#e6ff10" fill-opacity="0.36" d="M29 158h29v1h-29zM29 173h29v1h-29zM29 175h29v1h-29zM29 181h29v1h-29zM29 183h29v1h-29zM29 185h29v1h-29zM29 186h29v1h-29zM29 189h29v1h-29zM29 193h29v1h-29zM29 196h29v1h-29zM29 201h29v1h-29zM29 210h29v1h-29zM29 212h29v1h-29zM29 213h29v1h-29zM29 214h29v1h-29zM29 221h29v1h-29zM29 228h29v1h-29zM29 231h29v1h-29z"/>
<path fill="#40e070" fill-opacity="0.40" d="M58 158h10v1h-10zM58 160h10v1h-10zM58 162h10v1h-10zM58 163h10v1h-10zM58 164h10v1h-10zM58 189h10v1h-10zM58 215h10v1h-10zM58 217h10v1h-10zM58 238h10v1h-10zM58 243h10v1h-10zM58 244h10v1h-10z"/>
<path fill="#10d088" fill-opacity="0.32" d="M68 158h10v1h-10zM3 160h6v1h-6zM3 162h6v1h-6zM3 163h6v1h-6zM68 163h10v1h-10zM3 164h6v1h-6zM68 173h10v1h-10zM68 175h10v1h-10zM68 185h10v1h-10zM68 186h10v1h-10zM68 189h10v1h-10zM68 193h10v1h-10zM68 196h10v1h-10zM68 201h10v1h-10zM68 210h10v1h-10zM68 212h10v1h-10zM68 213h10v1h-10zM68 214h10v1h-10zM3 215h6v1h-6zM3 217h6v1h-6zM68 221h10v1h-10zM68 228h10v1h-10zM3 229h6v1h-6zM68 231h10v1h-10zM3 238h6v1h-6zM68 238h10v1h-10zM3 243h6v1h-6zM3 244h6v1h-6zM3 246h6v1h-6zM3 247h6v1h-6z"/>
<path fill="#e6ff10" fill-opacity="0.32" d="M29 160h29v1h-29zM29 162h29v1h-29zM29 163h29v1h-29zM29 164h29v1h-29zM29 215h29v1h-29zM29 217h29v1h-29zM29 229h29v1h-29zM29 238h29v1h-29zM29 243h29v1h-29zM29 244h29v1h-29zM29 246h29v1h-29zM29 247h29v1h-29z"/>
<path fill="#40e070" fill-opacity="0.36" d="M58 166h10v1h-10zM58 229h10v1h-10zM58 230h10v1h-10zM58 234h10v1h-10zM58 236h10v1h-10zM58 240h10v1h-10zM58 242h10v1h-10zM58 246h10v1h-10zM58 247h10v1h-10zM58 250h10v1h-10z"/>
<path fill="#d5ff17" fill-opacity="0.36" d="M9 168h17v1h-17zM9 170h17v1h-17zM9 171h17v1h-17zM9 177h17v1h-17zM9 184h17v1h-17zM9 190h17v1h-17zM9 205h17v1h-17zM9 209h17v1h-17z"/>
<path fill="#e6ff10" fill-opacity="0.48" d="M29 168h29v1h-29zM29 180h29v1h-29zM29 187h29v1h-29zM29 188h29v1h-29zM29 206h29v1h-29z"/>
<path fill="#40e070" fill-opacity="0.60" d="M58 168h10v1h-10zM58 170h10v1h-10zM58 177h10v1h-10zM58 184h10v1h-10zM58 205h10v1h-10z"/>
<path fill="#d5ff17" fill-opacity="0.32" d="M9 169h17v1h-17zM9 176h17v1h-17zM9 180h17v1h-17zM9 187h17v1h-17zM9 188h17v1h-17zM9 194h17v1h-17zM9 206h17v1h-17z"/>
<path fill="#40e070" fill-opacity="0.56" d="M58 169h10v1h-10zM58 180h10v1h-10zM58 187h10v1h-10zM58 188h10v1h-10zM58 206h10v1h-10z"/>
<path fill="#e6ff10" fill-opacity="0.52" d="M29 170h29v1h-29zM29 171h29v1h-29zM29 177h29v1h-29zM29 184h29v1h-29zM29 190h29v1h-29zM29 205h29v1h-29zM29 209h29v1h-29z"/>
<path fill="#40e070" fill-opacity="0.64" d="M58 171h10v1h-10zM58 190h10v1h-10zM58 202h10v1h-10zM58 209h10v1h-10z"/>
<path fill="#40e070" fill-opacity="0.44" d="M58 173h10v1h-10zM58 175h10v1h-10zM58 181h10v1h-10zM58 183h10v1h-10zM58 185h10v1h-10zM58 186h10v1h-10zM58 193h10v1h-10zM58 196h10v1h-10zM58 201h10v1h-10zM58 210h10v1h-10zM58 212h10v1h-10zM58 213h10v1h-10zM58 214h10v1h-10zM58 221h10v1h-10zM58 228h10v1h-10zM58 231h10v1h-10z"/>
<path fill="#d5ff17" fill-opacity="0.44" d="M9 199h17v1h-17zM9 204h17v1h-17z"/>
<path fill="#10d088" fill-opacity="0.64" d="M3 204h6v1h-6z"/>
<path fill="#e6ff10" fill-opacity="0.64" d="M29 204h29v1h-29z"/>
<path fill="#40e070" fill-opacity="0.04" d="M58 273h10v1h-10zM58 274h10v1h-10zM58 276h10v1h-10zM58 278h10v1h-10zM58 279h10v1h-10z"/>
<path fill="#0acb89" fill-opacity="0.32" d="M68 116h9v1h-9zM103 116h3v1h-3zM83 123h3v1h-3zM106 123h4v1h-4zM68 124h5v1h-5zM112 124h7v1h-7zM80 128h2v1h-2zM110 128h3v1h-3zM82 130h10v1h-10zM99 130h7v1h-7zM106 130h6v1h-6zM112 130h3v1h-3zM82 132h5v1h-5zM97 132h3v1h-3zM103 132h7v1h-7zM97 133h9v1h-9zM112 133h5v1h-5zM68 137h8v1h-8zM90 137h3v1h-3zM93 137h10v1h-10zM117 137h3v1h-3zM76 140h10v1h-10zM86 140h10v1h-10zM98 140h4v1h-4zM117 140h3v1h-3zM68 143h8v1h-8zM92 143h7v1h-7zM109 143h10v1h-10zM107 145h3v1h-3zM73 147h4v1h-4zM97 147h5v1h-5zM102 147h8v1h-8zM68 153h8v1h-8zM106 153h6v1h-6zM112 153h4v1h-4zM86 154h7v1h-7zM101 154h2v1h-2zM68 155h3v1h-3zM71 155h6v1h-6zM95 155h5v1h-5zM100 155h6v1h-6zM92 158h10v1h-10zM70 163h2v1h-2zM82 163h9v1h-9zM75 166h2v1h-2zM68 169h4v1h-4zM86 169h6v1h-6zM95 169h3v1h-3zM98 169h10v1h-10zM84 170h5v1h-5zM95 170h5v1h-5zM106 170h6v1h-6zM112 170h4v1h-4zM116 170h4v1h-4zM80 174h5v1h-5zM77 177h3v1h-3zM85 177h3v1h-3zM93 177h6v1h-6zM99 177h9v1h-9zM116 177h4v1h-4zM68 179h4v1h-4zM74 179h2v1h-2zM76 179h6v1h-6zM82 179h7v1h-7zM101 179h3v1h-3zM78 180h5v1h-5zM83 180h3v1h-3zM99 180h5v1h-5zM104 180h5v1h-5zM109 180h10v1h-10zM77 181h3v1h-3zM80 181h8v1h-8zM91 181h3v1h-3zM98 181h5v1h-5zM108 181h2v1h-2zM74 185h8v1h-8zM116 185h10v1h-10zM68 189h8v1h-8zM88 189h2v1h-2zM95 189h5v1h-5zM77 190h5v1h-5zM99 190h4v1h-4zM70 192h9v1h-9zM86 192h5v1h-5zM104 192h10v1h-10zM114 192h6v1h-6zM75 196h6v1h-6zM81 196h2v1h-2zM98 196h5v1h-5zM85 197h5v1h-5zM90 197h5v1h-5zM68 199h10v1h-10zM78 199h2v1h-2zM80 199h4v1h-4zM97 199h5v1h-5zM111 199h5v1h-5zM118 199h2v1h-2zM95 210h6v1h-6zM113 210h6v1h-6zM119 210h4v1h-4zM123 210h2v1h-2zM68 219h10v1h-10zM96 219h5v1h-5zM111 219h7v1h-7zM122 219h4v1h-4zM68 225h6v1h-6zM74 225h9v1h-9zM102 225h7v1h-7zM78 228h8v1h-8zM86 228h6v1h-6zM104 228h6v1h-6zM68 239h8v1h-8zM80 239h4v1h-4zM103 239h5v1h-5zM75 246h9v1h-9zM84 246h4v1h-4zM88 246h3v1h-3zM91 246h6v1h-6zM97 246h4v1h-4zM101 246h9v1h-9zM110 246h4v1h-4zM85 248h5v1h-5zM115 248h5v1h-5zM68 250h2v1h-2zM70 250h4v1h-4zM74 250h5v1h-5zM79 250h2v1h-2zM104 250h9v1h-9z"/>
<path fill="#0acb89" fill-opacity="0.12" d="M77 116h7v1h-7zM84 116h9v1h-9zM96 117h9v1h-9zM68 118h5v1h-5zM86 118h4v1h-4zM109 118h8v1h-8zM68 119h3v1h-3zM79 119h5v1h-5zM84 119h9v1h-9zM93 119h8v1h-8zM107 119h6v1h-6zM86 123h4v1h-4zM94 123h10v1h-10zM104 123h2v1h-2zM79 124h10v1h-10zM125 124h1v1h-1zM83 125h5v1h-5zM88 125h10v1h-10zM72 126h8v1h-8zM80 126h7v1h-7zM87 126h3v1h-3zM97 126h10v1h-10zM78 130h4v1h-4zM92 130h7v1h-7zM68 133h10v1h-10zM117 133h6v1h-6zM68 134h3v1h-3zM90 134h9v1h-9zM103 134h10v1h-10zM68 136h5v1h-5zM107 137h8v1h-8zM115 137h2v1h-2zM71 141h4v1h-4zM81 141h9v1h-9zM100 141h3v1h-3zM107 141h4v1h-4zM68 142h2v1h-2zM78 142h10v1h-10zM72 146h6v1h-6zM78 146h5v1h-5zM90 146h3v1h-3zM105 146h5v1h-5zM87 147h10v1h-10zM78 150h7v1h-7zM85 150h7v1h-7zM92 150h9v1h-9zM101 150h9v1h-9zM110 150h9v1h-9zM94 153h8v1h-8zM91 163h6v1h-6zM75 169h9v1h-9zM68 170h8v1h-8zM78 170h6v1h-6zM100 170h6v1h-6zM115 171h5v1h-5zM80 172h3v1h-3zM91 172h9v1h-9zM68 176h4v1h-4zM72 176h2v1h-2zM82 176h7v1h-7zM89 176h4v1h-4zM93 176h7v1h-7zM100 176h6v1h-6zM106 176h4v1h-4zM110 176h7v1h-7zM117 176h4v1h-4zM121 176h5v1h-5zM68 177h9v1h-9zM88 177h5v1h-5zM112 177h4v1h-4zM72 179h2v1h-2zM89 179h9v1h-9zM68 181h2v1h-2zM70 181h7v1h-7zM103 181h5v1h-5zM68 184h6v1h-6zM90 184h3v1h-3zM95 184h3v1h-3zM111 184h5v1h-5zM119 184h2v1h-2zM121 184h4v1h-4zM68 186h2v1h-2zM90 186h9v1h-9zM99 186h2v1h-2zM101 186h2v1h-2zM120 186h6v1h-6zM68 191h8v1h-8zM76 191h8v1h-8zM94 191h7v1h-7zM84 192h2v1h-2zM95 192h9v1h-9zM89 199h8v1h-8zM102 199h9v1h-9zM68 200h3v1h-3zM99 200h4v1h-4zM112 200h6v1h-6zM118 200h2v1h-2zM68 204h5v1h-5zM73 204h9v1h-9zM82 204h5v1h-5zM94 204h7v1h-7zM108 204h5v1h-5zM68 205h2v1h-2zM70 205h5v1h-5zM90 205h3v1h-3zM93 205h6v1h-6zM68 206h4v1h-4zM86 206h10v1h-10zM77 211h7v1h-7zM89 211h2v1h-2zM93 211h10v1h-10zM109 211h8v1h-8zM117 211h5v1h-5zM122 211h3v1h-3zM95 220h7v1h-7zM102 220h7v1h-7zM118 220h2v1h-2zM120 220h6v1h-6zM68 222h7v1h-7zM105 222h2v1h-2zM116 223h4v1h-4zM68 227h10v1h-10zM94 230h9v1h-9zM105 230h9v1h-9zM86 231h6v1h-6zM109 231h1v1h-1zM88 233h9v1h-9zM109 233h5v1h-5zM114 233h6v1h-6zM73 235h2v1h-2zM85 235h8v1h-8zM99 235h8v1h-8zM107 235h6v1h-6zM117 235h8v1h-8zM125 235h1v1h-1zM71 236h6v1h-6zM77 236h2v1h-2zM79 236h10v1h-10zM89 236h5v1h-5zM94 236h10v1h-10zM104 236h8v1h-8zM112 236h6v1h-6zM118 236h2v1h-2zM90 237h8v1h-8zM68 240h8v1h-8zM90 242h2v1h-2zM101 242h8v1h-8zM99 243h7v1h-7zM68 246h7v1h-7zM114 246h6v1h-6zM78 249h8v1h-8zM86 249h6v1h-6zM81 250h5v1h-5zM113 250h3v1h-3zM116 250h4v1h-4zM68 251h7v1h-7zM94 251h10v1h-10zM68 253h3v1h-3zM71 253h6v1h-6zM72 254h9v1h-9zM90 256h5v1h-5zM113 256h5v1h-5zM104 262h7v1h-7zM68 263h8v1h-8zM89 263h6v1h-6zM95 263h5v1h-5zM100 263h5v1h-5zM105 263h4v1h-4zM109 263h4v1h-4zM123 263h3v1h-3zM103 264h3v1h-3zM68 265h3v1h-3zM68 267h6v1h-6zM74 267h4v1h-4zM83 267h10v1h-10zM99 267h10v1h-10zM107 268h4v1h-4zM76 269h2v1h-2zM78 269h6v1h-6zM84 269h3v1h-3zM87 269h3v1h-3zM90 269h6v1h-6zM96 269h3v1h-3zM99 269h9v1h-9zM108 269h2v1h-2zM78 270h9v1h-9zM110 270h10v1h-10zM75 271h8v1h-8zM90 271h3v1h-3zM95 271h9v1h-9zM125 271h1v1h-1zM79 275h9v1h-9zM96 275h4v1h-4zM121 275h5v1h-5z"/>
<path fill="#0acb89" fill-opacity="0.24" d="M93 116h10v1h-10zM106 116h6v1h-6zM107 237h3v1h-3zM110 237h5v1h-5zM87 238h10v1h-10zM97 238h2v1h-2zM99 238h10v1h-10zM124 238h2v1h-2zM76 241h2v1h-2zM86 241h2v1h-2zM106 241h4v1h-4zM73 243h5v1h-5zM68 244h8v1h-8zM76 244h5v1h-5zM88 244h8v1h-8zM108 244h5v1h-5zM121 244h5v1h-5zM68 245h3v1h-3zM80 245h8v1h-8zM98 245h7v1h-7zM113 245h2v1h-2z"/>
<path fill="#0acb89" fill-opacity="0.40" d="M112 116h7v1h-7zM119 116h7v1h-7zM115 120h5v1h-5zM83 122h7v1h-7zM68 127h2v1h-2zM70 127h2v1h-2zM73 135h2v1h-2zM78 135h8v1h-8zM81 138h7v1h-7zM92 139h4v1h-4zM107 139h2v1h-2zM109 139h5v1h-5zM96 152h6v1h-6zM102 152h3v1h-3zM105 152h9v1h-9zM117 152h8v1h-8zM70 160h5v1h-5zM82 160h7v1h-7zM95 160h9v1h-9zM75 164h5v1h-5zM89 164h10v1h-10zM102 164h5v1h-5zM112 165h4v1h-4zM68 173h10v1h-10zM97 173h6v1h-6zM103 173h3v1h-3zM123 173h3v1h-3zM93 187h10v1h-10zM68 198h2v1h-2zM72 198h8v1h-8zM68 216h5v1h-5zM73 216h3v1h-3zM100 216h5v1h-5zM105 216h5v1h-5zM117 216h2v1h-2zM96 217h3v1h-3zM68 218h4v1h-4zM87 218h5v1h-5zM96 218h8v1h-8zM114 218h4v1h-4zM121 218h3v1h-3zM91 221h3v1h-3zM99 221h8v1h-8zM107 221h3v1h-3zM75 222h3v1h-3zM107 222h3v1h-3zM68 223h3v1h-3zM71 223h7v1h-7zM78 223h7v1h-7zM85 223h4v1h-4zM89 223h7v1h-7zM96 223h8v1h-8zM104 223h2v1h-2zM106 223h4v1h-4zM78 224h2v1h-2zM86 224h3v1h-3zM104 224h7v1h-7zM124 224h2v1h-2zM78 227h9v1h-9zM87 227h7v1h-7zM94 227h10v1h-10zM104 227h6v1h-6zM68 249h10v1h-10zM92 249h8v1h-8zM100 249h10v1h-10zM110 249h6v1h-6zM116 249h4v1h-4zM120 249h4v1h-4zM86 250h3v1h-3zM94 250h10v1h-10z"/>
<path fill="#0acb89" fill-opacity="0.04" d="M68 117h3v1h-3zM71 117h7v1h-7zM87 117h4v1h-4zM90 118h2v1h-2zM92 118h8v1h-8zM117 118h3v1h-3zM76 119h3v1h-3zM98 125h10v1h-10zM81 134h4v1h-4zM113 134h4v1h-4zM117 134h3v1h-3zM94 136h5v1h-5zM99 136h8v1h-8zM114 136h6v1h-6zM68 146h4v1h-4zM68 150h10v1h-10zM68 171h10v1h-10zM68 172h3v1h-3zM71 172h4v1h-4zM100 172h4v1h-4zM106 172h4v1h-4zM93 184h2v1h-2zM105 184h6v1h-6zM70 186h10v1h-10zM80 186h10v1h-10zM103 186h9v1h-9zM84 191h2v1h-2zM86 191h8v1h-8zM101 191h2v1h-2zM103 191h7v1h-7zM89 200h7v1h-7zM119 204h1v1h-1zM103 211h6v1h-6zM84 220h3v1h-3zM109 220h9v1h-9zM68 233h5v1h-5zM80 233h8v1h-8zM97 233h4v1h-4zM104 233h5v1h-5zM68 235h5v1h-5zM75 235h7v1h-7zM82 235h3v1h-3zM93 235h6v1h-6zM68 252h2v1h-2zM85 252h8v1h-8zM93 252h7v1h-7zM104 252h6v1h-6zM117 254h5v1h-5zM80 256h5v1h-5zM95 256h7v1h-7zM76 257h7v1h-7zM100 257h7v1h-7zM107 257h6v1h-6zM123 257h3v1h-3zM68 258h4v1h-4zM72 258h4v1h-4zM76 258h7v1h-7zM91 258h6v1h-6zM97 258h9v1h-9zM106 258h2v1h-2zM108 258h2v1h-2zM125 258h1v1h-1zM73 260h10v1h-10zM83 260h7v1h-7zM90 260h10v1h-10zM100 260h8v1h-8zM108 260h2v1h-2zM71 262h2v1h-2zM114 262h6v1h-6zM76 263h7v1h-7zM113 263h10v1h-10zM77 264h8v1h-8zM85 264h8v1h-8zM93 264h10v1h-10zM68 268h5v1h-5zM73 268h5v1h-5zM88 268h10v1h-10zM105 268h2v1h-2zM68 269h3v1h-3zM71 269h2v1h-2zM87 270h4v1h-4zM102 270h8v1h-8zM83 271h7v1h-7zM93 271h2v1h-2zM109 271h9v1h-9zM68 272h8v1h-8zM76 272h2v1h-2zM87 272h2v1h-2zM93 272h9v1h-9zM114 272h4v1h-4zM76 274h6v1h-6zM88 275h8v1h-8zM81 279h8v1h-8zM105 279h5v1h-5zM88 280h4v1h-4zM95 280h8v1h-8zM68 281h8v1h-8zM76 281h8v1h-8zM90 281h2v1h-2zM92 281h4v1h-4zM96 281h4v1h-4zM100 281h8v1h-8zM108 281h9v1h-9zM117 281h7v1h-7zM68 283h4v1h-4zM72 283h2v1h-2zM78 283h8v1h-8zM86 283h9v1h-9zM95 283h6v1h-6zM101 283h3v1h-3zM104 283h3v1h-3zM107 283h10v1h-10zM117 283h3v1h-3zM68 285h10v1h-10zM78 285h10v1h-10zM90 285h9v1h-9zM99 285h10v1h-10z"/>
<path fill="#0acb89" fill-opacity="0.08" d="M78 117h9v1h-9zM105 117h2v1h-2zM73 118h5v1h-5zM113 119h2v1h-2zM115 119h3v1h-3zM118 119h8v1h-8zM68 126h4v1h-4zM90 126h7v1h-7zM71 134h10v1h-10zM83 136h2v1h-2zM85 136h9v1h-9zM110 136h4v1h-4zM75 141h6v1h-6zM96 141h4v1h-4zM103 141h4v1h-4zM98 142h8v1h-8zM83 146h7v1h-7zM119 150h1v1h-1zM78 171h5v1h-5zM83 171h9v1h-9zM101 171h6v1h-6zM75 172h5v1h-5zM83 172h8v1h-8zM84 184h2v1h-2zM116 184h3v1h-3zM125 184h1v1h-1zM115 186h5v1h-5zM96 200h3v1h-3zM103 200h3v1h-3zM106 200h6v1h-6zM101 204h7v1h-7zM68 211h9v1h-9zM84 211h5v1h-5zM91 211h2v1h-2zM125 211h1v1h-1zM123 214h3v1h-3zM96 215h7v1h-7zM77 220h7v1h-7zM73 233h3v1h-3zM76 233h4v1h-4zM101 233h3v1h-3zM113 235h4v1h-4zM68 236h3v1h-3zM68 238h9v1h-9zM77 238h10v1h-10zM76 240h7v1h-7zM83 240h9v1h-9zM92 240h8v1h-8zM100 240h10v1h-10zM110 240h6v1h-6zM116 240h4v1h-4zM68 241h6v1h-6zM88 241h5v1h-5zM68 242h6v1h-6zM74 242h4v1h-4zM78 242h9v1h-9zM87 242h3v1h-3zM92 242h9v1h-9zM109 242h1v1h-1zM113 244h8v1h-8zM88 245h10v1h-10zM115 245h5v1h-5zM88 247h4v1h-4zM92 247h9v1h-9zM75 251h9v1h-9zM84 251h10v1h-10zM109 251h1v1h-1zM70 252h7v1h-7zM77 252h8v1h-8zM100 252h4v1h-4zM107 255h3v1h-3zM93 257h7v1h-7zM113 257h10v1h-10zM83 258h8v1h-8zM110 258h7v1h-7zM84 259h6v1h-6zM114 259h3v1h-3zM122 259h4v1h-4zM83 263h6v1h-6zM68 264h3v1h-3zM71 264h4v1h-4zM75 264h2v1h-2zM106 264h4v1h-4zM71 265h7v1h-7zM78 265h4v1h-4zM82 265h5v1h-5zM87 265h5v1h-5zM92 265h7v1h-7zM99 265h2v1h-2zM101 265h9v1h-9zM78 267h5v1h-5zM78 268h10v1h-10zM98 268h5v1h-5zM103 268h2v1h-2zM111 268h4v1h-4zM115 268h5v1h-5zM73 269h3v1h-3zM68 270h5v1h-5zM73 270h5v1h-5zM91 270h5v1h-5zM96 270h6v1h-6zM68 271h7v1h-7zM104 271h5v1h-5zM118 271h7v1h-7zM68 274h8v1h-8zM82 274h3v1h-3zM85 274h2v1h-2zM87 274h9v1h-9zM96 274h2v1h-2zM98 274h10v1h-10zM108 274h2v1h-2zM68 275h2v1h-2zM70 275h9v1h-9zM100 275h10v1h-10zM110 275h2v1h-2zM112 275h9v1h-9zM68 279h3v1h-3zM71 279h10v1h-10zM89 279h3v1h-3zM92 279h6v1h-6zM98 279h7v1h-7zM68 280h4v1h-4zM72 280h8v1h-8zM80 280h8v1h-8zM92 280h3v1h-3zM103 280h7v1h-7z"/>
<path fill="#0acb89" fill-opacity="0.16" d="M91 117h5v1h-5zM107 117h3v1h-3zM78 118h8v1h-8zM100 118h9v1h-9zM71 119h5v1h-5zM101 119h6v1h-6zM68 125h6v1h-6zM74 125h9v1h-9zM108 125h2v1h-2zM107 126h3v1h-3zM94 128h3v1h-3zM97 128h4v1h-4zM115 128h4v1h-4zM70 132h5v1h-5zM80 132h2v1h-2zM85 134h5v1h-5zM99 134h4v1h-4zM73 136h10v1h-10zM107 136h3v1h-3zM106 140h7v1h-7zM113 140h4v1h-4zM68 141h3v1h-3zM90 141h6v1h-6zM111 141h5v1h-5zM116 141h4v1h-4zM70 142h2v1h-2zM72 142h6v1h-6zM88 142h5v1h-5zM93 142h5v1h-5zM106 142h4v1h-4zM86 143h6v1h-6zM68 145h2v1h-2zM93 146h4v1h-4zM97 146h8v1h-8zM68 148h6v1h-6zM74 148h7v1h-7zM98 148h2v1h-2zM100 148h3v1h-3zM77 154h6v1h-6zM84 155h4v1h-4zM88 155h5v1h-5zM106 155h4v1h-4zM88 156h10v1h-10zM98 156h7v1h-7zM105 156h5v1h-5zM84 166h4v1h-4zM119 166h1v1h-1zM92 171h9v1h-9zM107 171h8v1h-8zM104 172h2v1h-2zM106 174h7v1h-7zM113 174h5v1h-5zM79 175h2v1h-2zM106 175h4v1h-4zM74 176h8v1h-8zM74 180h4v1h-4zM119 180h7v1h-7zM74 184h10v1h-10zM86 184h4v1h-4zM98 184h7v1h-7zM112 186h3v1h-3zM108 196h6v1h-6zM114 196h6v1h-6zM97 197h3v1h-3zM108 197h10v1h-10zM118 197h4v1h-4zM71 200h10v1h-10zM81 200h8v1h-8zM83 201h7v1h-7zM90 201h10v1h-10zM117 201h3v1h-3zM87 204h7v1h-7zM113 204h6v1h-6zM68 213h5v1h-5zM73 213h2v1h-2zM82 213h4v1h-4zM118 213h2v1h-2zM81 216h3v1h-3zM119 216h1v1h-1zM68 220h9v1h-9zM87 220h8v1h-8zM94 225h6v1h-6zM119 225h1v1h-1zM92 228h4v1h-4zM112 234h8v1h-8zM109 238h8v1h-8zM111 239h6v1h-6zM81 244h7v1h-7zM99 244h9v1h-9zM71 245h9v1h-9zM105 245h8v1h-8zM81 247h5v1h-5zM86 247h2v1h-2zM116 247h2v1h-2zM102 248h4v1h-4zM68 254h4v1h-4zM81 254h7v1h-7zM88 254h2v1h-2zM96 254h5v1h-5zM101 254h6v1h-6zM122 254h4v1h-4zM70 256h5v1h-5zM75 256h5v1h-5zM85 256h5v1h-5zM118 256h8v1h-8zM68 259h5v1h-5zM80 259h4v1h-4zM96 259h8v1h-8zM73 262h6v1h-6zM79 262h6v1h-6zM111 262h3v1h-3zM93 267h6v1h-6zM109 267h1v1h-1z"/>
<path fill="#0acb89" fill-opacity="0.20" d="M68 120h8v1h-8zM81 121h7v1h-7zM103 121h4v1h-4zM70 122h6v1h-6zM89 124h6v1h-6zM95 124h8v1h-8zM103 124h9v1h-9zM119 124h6v1h-6zM88 127h8v1h-8zM96 127h10v1h-10zM118 127h4v1h-4zM68 129h8v1h-8zM96 129h10v1h-10zM96 131h2v1h-2zM116 131h4v1h-4zM78 133h9v1h-9zM87 133h10v1h-10zM106 133h6v1h-6zM123 133h3v1h-3zM68 135h5v1h-5zM86 135h8v1h-8zM88 138h6v1h-6zM72 139h8v1h-8zM89 139h3v1h-3zM99 139h8v1h-8zM114 139h6v1h-6zM70 144h8v1h-8zM98 144h4v1h-4zM102 144h4v1h-4zM68 147h5v1h-5zM110 149h6v1h-6zM96 151h10v1h-10zM71 152h2v1h-2zM81 152h10v1h-10zM114 152h3v1h-3zM85 157h9v1h-9zM94 157h2v1h-2zM73 159h7v1h-7zM106 159h10v1h-10zM75 160h7v1h-7zM89 160h6v1h-6zM75 161h6v1h-6zM81 161h6v1h-6zM87 161h2v1h-2zM105 161h10v1h-10zM68 162h6v1h-6zM92 162h4v1h-4zM68 163h2v1h-2zM72 163h10v1h-10zM97 163h9v1h-9zM68 164h7v1h-7zM99 164h3v1h-3zM116 164h5v1h-5zM118 168h2v1h-2zM72 169h3v1h-3zM84 169h2v1h-2zM76 170h2v1h-2zM89 170h6v1h-6zM78 173h4v1h-4zM82 173h8v1h-8zM106 173h4v1h-4zM119 173h2v1h-2zM80 177h5v1h-5zM68 178h9v1h-9zM98 179h3v1h-3zM104 179h9v1h-9zM88 181h3v1h-3zM111 182h5v1h-5zM125 182h1v1h-1zM94 183h8v1h-8zM102 183h4v1h-4zM82 185h7v1h-7zM89 185h10v1h-10zM107 185h9v1h-9zM68 187h5v1h-5zM73 187h4v1h-4zM110 187h4v1h-4zM114 187h6v1h-6zM73 188h7v1h-7zM99 188h5v1h-5zM84 193h8v1h-8zM95 193h2v1h-2zM107 193h3v1h-3zM75 194h4v1h-4zM79 194h10v1h-10zM95 194h10v1h-10zM88 198h4v1h-4zM84 199h5v1h-5zM116 199h2v1h-2zM94 202h10v1h-10zM120 203h2v1h-2zM94 207h7v1h-7zM101 207h5v1h-5zM116 207h7v1h-7zM82 208h3v1h-3zM111 208h3v1h-3zM125 208h1v1h-1zM68 209h6v1h-6zM89 209h10v1h-10zM112 209h8v1h-8zM93 214h10v1h-10zM68 215h3v1h-3zM72 217h3v1h-3zM75 217h3v1h-3zM92 218h4v1h-4zM104 218h7v1h-7zM124 218h2v1h-2zM78 219h4v1h-4zM82 219h7v1h-7zM101 219h5v1h-5zM85 226h4v1h-4zM81 232h4v1h-4zM105 232h9v1h-9zM68 247h6v1h-6zM74 247h7v1h-7zM101 247h5v1h-5zM118 247h5v1h-5zM89 250h5v1h-5zM104 251h5v1h-5zM90 254h3v1h-3zM93 254h3v1h-3zM107 254h8v1h-8zM115 254h2v1h-2zM76 255h6v1h-6zM82 255h5v1h-5zM68 256h2v1h-2zM102 256h7v1h-7zM109 256h4v1h-4zM90 259h6v1h-6zM104 259h3v1h-3zM107 259h2v1h-2zM109 259h5v1h-5zM119 259h3v1h-3zM68 262h3v1h-3zM85 262h10v1h-10zM95 262h9v1h-9z"/>
<path fill="#0acb89" fill-opacity="0.56" d="M76 120h5v1h-5zM81 120h9v1h-9zM90 120h5v1h-5zM95 120h9v1h-9zM104 120h9v1h-9zM68 121h4v1h-4zM88 121h4v1h-4zM92 121h6v1h-6zM98 121h5v1h-5zM116 121h6v1h-6zM122 121h4v1h-4zM68 122h2v1h-2zM90 122h9v1h-9zM99 122h9v1h-9zM108 122h4v1h-4zM72 127h4v1h-4zM76 127h2v1h-2zM78 127h2v1h-2zM106 127h3v1h-3zM109 127h9v1h-9zM122 127h4v1h-4zM119 128h4v1h-4zM123 128h3v1h-3zM76 129h5v1h-5zM81 129h7v1h-7zM88 129h8v1h-8zM106 129h4v1h-4zM75 132h5v1h-5zM100 132h3v1h-3zM119 132h7v1h-7zM75 135h3v1h-3zM106 135h3v1h-3zM68 138h7v1h-7zM75 138h6v1h-6zM94 138h6v1h-6zM107 138h3v1h-3zM80 139h3v1h-3zM87 139h2v1h-2zM96 139h3v1h-3zM96 140h2v1h-2zM93 145h2v1h-2zM95 145h5v1h-5zM68 152h3v1h-3zM73 152h8v1h-8zM91 152h5v1h-5zM125 152h1v1h-1zM73 154h4v1h-4zM83 154h3v1h-3zM103 154h10v1h-10zM116 154h6v1h-6zM122 154h4v1h-4zM79 156h9v1h-9zM68 158h7v1h-7zM75 158h4v1h-4zM102 158h9v1h-9zM120 158h6v1h-6zM68 159h2v1h-2zM70 159h3v1h-3zM84 159h10v1h-10zM94 159h3v1h-3zM104 160h6v1h-6zM80 164h3v1h-3zM83 164h6v1h-6zM107 164h9v1h-9zM121 164h5v1h-5zM68 165h10v1h-10zM78 165h10v1h-10zM92 165h5v1h-5zM97 165h5v1h-5zM102 165h10v1h-10zM70 166h5v1h-5zM77 166h4v1h-4zM81 166h3v1h-3zM98 166h10v1h-10zM108 166h3v1h-3zM111 166h8v1h-8zM110 173h9v1h-9zM121 173h2v1h-2zM68 180h6v1h-6zM77 183h4v1h-4zM81 183h2v1h-2zM83 183h4v1h-4zM87 183h7v1h-7zM106 183h4v1h-4zM77 187h3v1h-3zM80 187h7v1h-7zM87 187h6v1h-6zM76 189h7v1h-7zM100 189h8v1h-8zM117 189h9v1h-9zM68 190h3v1h-3zM82 190h6v1h-6zM88 190h9v1h-9zM97 190h2v1h-2zM103 190h6v1h-6zM83 196h7v1h-7zM90 196h2v1h-2zM92 196h6v1h-6zM120 196h6v1h-6zM72 197h6v1h-6zM95 197h2v1h-2zM122 197h4v1h-4zM70 198h2v1h-2zM80 198h8v1h-8zM92 198h6v1h-6zM98 198h2v1h-2zM100 198h10v1h-10zM68 201h2v1h-2zM100 201h8v1h-8zM108 201h9v1h-9zM68 210h9v1h-9zM101 210h8v1h-8zM68 217h4v1h-4zM78 217h9v1h-9zM105 217h5v1h-5zM72 218h10v1h-10zM82 218h3v1h-3zM85 218h2v1h-2zM111 218h3v1h-3zM118 218h3v1h-3zM76 221h3v1h-3zM68 248h7v1h-7zM75 248h10v1h-10zM90 248h8v1h-8z"/>
<path fill="#0acb89" fill-opacity="0.68" d="M113 120h2v1h-2zM72 121h9v1h-9zM107 121h9v1h-9zM76 122h7v1h-7zM112 122h5v1h-5zM117 122h9v1h-9zM80 127h8v1h-8zM94 135h10v1h-10zM104 135h2v1h-2zM109 135h9v1h-9zM118 135h8v1h-8zM100 138h2v1h-2zM102 138h5v1h-5zM68 139h4v1h-4zM83 139h4v1h-4zM80 159h4v1h-4zM97 159h9v1h-9zM116 159h4v1h-4zM68 160h2v1h-2zM88 165h4v1h-4zM116 165h4v1h-4zM90 173h7v1h-7zM68 183h9v1h-9zM103 187h3v1h-3zM106 187h2v1h-2zM108 187h2v1h-2zM123 207h3v1h-3zM68 208h2v1h-2zM68 221h8v1h-8zM79 221h6v1h-6zM85 221h6v1h-6zM94 221h5v1h-5zM78 226h7v1h-7zM89 226h4v1h-4z"/>
<path fill="#0acb89" fill-opacity="0.36" d="M68 123h10v1h-10zM78 123h5v1h-5zM90 123h4v1h-4zM73 124h6v1h-6zM68 130h10v1h-10zM115 130h5v1h-5zM76 137h6v1h-6zM82 137h8v1h-8zM103 137h4v1h-4zM77 147h10v1h-10zM76 153h3v1h-3zM79 153h10v1h-10zM89 153h5v1h-5zM102 153h4v1h-4zM116 153h4v1h-4zM106 163h4v1h-4zM92 169h3v1h-3zM108 169h2v1h-2zM108 177h4v1h-4zM113 179h7v1h-7zM94 181h4v1h-4zM68 185h6v1h-6zM99 185h8v1h-8zM68 192h2v1h-2zM79 192h5v1h-5zM91 192h4v1h-4zM82 206h2v1h-2zM108 206h10v1h-10zM70 207h8v1h-8zM91 208h3v1h-3zM94 208h6v1h-6zM108 208h3v1h-3zM117 208h2v1h-2zM68 212h10v1h-10zM81 212h5v1h-5zM110 212h3v1h-3zM113 212h8v1h-8zM91 214h2v1h-2zM77 215h5v1h-5zM85 215h8v1h-8zM73 229h6v1h-6zM81 229h3v1h-3zM91 229h5v1h-5zM96 229h2v1h-2zM98 229h7v1h-7zM68 230h8v1h-8zM84 230h3v1h-3zM87 230h7v1h-7zM103 230h2v1h-2zM114 230h6v1h-6zM68 231h9v1h-9zM100 231h2v1h-2zM102 231h7v1h-7zM68 232h5v1h-5zM73 232h8v1h-8zM85 232h6v1h-6zM114 232h6v1h-6zM95 234h7v1h-7zM68 237h10v1h-10zM78 237h10v1h-10zM88 237h2v1h-2zM115 237h5v1h-5zM83 243h6v1h-6zM89 243h10v1h-10zM106 243h9v1h-9zM115 243h5v1h-5zM81 253h9v1h-9zM90 253h6v1h-6zM96 255h2v1h-2z"/>
<path fill="#0acb89" fill-opacity="0.44" d="M68 128h7v1h-7zM75 128h5v1h-5zM82 128h6v1h-6zM88 128h6v1h-6zM101 128h2v1h-2zM103 128h7v1h-7zM113 128h2v1h-2zM77 131h7v1h-7zM98 131h7v1h-7zM68 132h2v1h-2zM87 132h10v1h-10zM110 132h9v1h-9zM68 140h8v1h-8zM102 140h4v1h-4zM76 143h10v1h-10zM99 143h10v1h-10zM119 143h1v1h-1zM88 144h10v1h-10zM106 144h4v1h-4zM70 145h9v1h-9zM79 145h4v1h-4zM83 145h8v1h-8zM91 145h2v1h-2zM100 145h7v1h-7zM81 148h7v1h-7zM88 148h10v1h-10zM103 148h7v1h-7zM104 149h4v1h-4zM106 151h7v1h-7zM68 154h5v1h-5zM93 154h8v1h-8zM113 154h3v1h-3zM77 155h7v1h-7zM93 155h2v1h-2zM68 156h2v1h-2zM70 156h2v1h-2zM72 156h7v1h-7zM79 158h7v1h-7zM86 158h6v1h-6zM111 158h4v1h-4zM115 158h5v1h-5zM68 161h7v1h-7zM115 161h5v1h-5zM82 162h10v1h-10zM106 162h3v1h-3zM117 162h6v1h-6zM68 166h2v1h-2zM88 166h10v1h-10zM82 167h5v1h-5zM71 168h10v1h-10zM108 168h10v1h-10zM124 168h2v1h-2zM68 174h9v1h-9zM77 174h3v1h-3zM85 174h9v1h-9zM94 174h4v1h-4zM98 174h8v1h-8zM118 174h2v1h-2zM68 175h4v1h-4zM72 175h3v1h-3zM75 175h4v1h-4zM81 175h9v1h-9zM90 175h9v1h-9zM99 175h7v1h-7zM80 178h7v1h-7zM99 178h8v1h-8zM115 178h6v1h-6zM86 180h6v1h-6zM92 180h7v1h-7zM81 182h9v1h-9zM80 188h4v1h-4zM83 189h5v1h-5zM90 189h5v1h-5zM108 189h9v1h-9zM71 190h6v1h-6zM109 190h1v1h-1zM77 195h8v1h-8zM105 195h4v1h-4zM68 196h7v1h-7zM103 196h5v1h-5zM68 197h4v1h-4zM78 197h7v1h-7zM100 197h5v1h-5zM105 197h3v1h-3zM70 201h3v1h-3zM73 201h10v1h-10zM84 202h4v1h-4zM75 203h5v1h-5zM96 203h4v1h-4zM100 203h10v1h-10zM110 203h5v1h-5zM115 203h5v1h-5zM77 210h4v1h-4zM81 210h7v1h-7zM88 210h5v1h-5zM93 210h2v1h-2zM109 210h4v1h-4zM125 210h1v1h-1zM91 213h3v1h-3zM94 213h8v1h-8zM102 213h7v1h-7zM109 213h9v1h-9zM98 237h9v1h-9zM76 239h4v1h-4zM84 239h9v1h-9zM93 239h8v1h-8zM108 239h3v1h-3zM117 239h4v1h-4zM68 243h5v1h-5zM78 243h5v1h-5zM98 248h4v1h-4zM106 248h9v1h-9zM77 253h4v1h-4zM96 253h7v1h-7zM103 253h7v1h-7z"/>
<path fill="#0acb89" fill-opacity="0.72" d="M68 131h5v1h-5zM84 131h6v1h-6zM112 131h4v1h-4zM100 149h2v1h-2zM102 149h2v1h-2zM68 151h8v1h-8zM90 151h6v1h-6zM116 151h4v1h-4zM96 157h8v1h-8zM95 161h10v1h-10zM120 161h6v1h-6zM74 167h8v1h-8zM87 167h8v1h-8zM68 168h3v1h-3zM87 178h7v1h-7zM107 178h8v1h-8zM121 178h5v1h-5zM73 182h8v1h-8zM90 182h8v1h-8zM68 193h9v1h-9zM92 193h3v1h-3zM68 194h7v1h-7zM68 195h6v1h-6zM85 195h2v1h-2zM87 195h8v1h-8zM95 195h4v1h-4zM99 195h6v1h-6zM88 202h6v1h-6zM80 203h2v1h-2zM82 203h5v1h-5zM107 209h5v1h-5zM87 217h9v1h-9zM99 217h6v1h-6z"/>
<path fill="#0acb89" fill-opacity="0.64" d="M73 131h4v1h-4zM90 131h6v1h-6zM105 131h7v1h-7zM68 144h2v1h-2zM78 144h10v1h-10zM68 149h8v1h-8zM76 149h8v1h-8zM84 149h9v1h-9zM93 149h7v1h-7zM108 149h2v1h-2zM116 149h4v1h-4zM76 151h4v1h-4zM80 151h10v1h-10zM113 151h3v1h-3zM68 157h9v1h-9zM77 157h8v1h-8zM104 157h8v1h-8zM112 157h8v1h-8zM89 161h2v1h-2zM91 161h4v1h-4zM74 162h8v1h-8zM96 162h5v1h-5zM101 162h5v1h-5zM109 162h8v1h-8zM123 162h3v1h-3zM68 167h6v1h-6zM95 167h6v1h-6zM101 167h3v1h-3zM104 167h3v1h-3zM107 167h3v1h-3zM81 168h7v1h-7zM88 168h6v1h-6zM94 168h9v1h-9zM103 168h5v1h-5zM120 168h4v1h-4zM77 178h3v1h-3zM94 178h5v1h-5zM68 182h5v1h-5zM98 182h3v1h-3zM101 182h10v1h-10zM116 182h9v1h-9zM68 188h5v1h-5zM84 188h9v1h-9zM93 188h4v1h-4zM97 188h2v1h-2zM104 188h6v1h-6zM77 193h7v1h-7zM97 193h10v1h-10zM89 194h6v1h-6zM105 194h3v1h-3zM108 194h2v1h-2zM74 195h3v1h-3zM109 195h6v1h-6zM115 195h5v1h-5zM68 202h5v1h-5zM73 202h6v1h-6zM79 202h5v1h-5zM104 202h6v1h-6zM68 203h4v1h-4zM72 203h3v1h-3zM87 203h9v1h-9zM122 203h4v1h-4zM96 212h9v1h-9zM105 212h5v1h-5zM79 229h2v1h-2zM84 229h7v1h-7zM112 229h8v1h-8zM97 232h8v1h-8zM86 234h2v1h-2z"/>
<path fill="#0acb89" fill-opacity="0.28" d="M75 205h9v1h-9zM84 205h6v1h-6zM99 205h4v1h-4zM103 205h7v1h-7zM72 206h10v1h-10zM84 206h2v1h-2zM96 206h7v1h-7zM103 206h5v1h-5zM118 206h2v1h-2zM86 213h5v1h-5zM68 214h5v1h-5zM73 214h9v1h-9zM82 214h9v1h-9zM103 214h2v1h-2zM105 214h4v1h-4zM109 214h6v1h-6zM115 214h3v1h-3zM118 214h5v1h-5zM71 215h6v1h-6zM82 215h3v1h-3zM93 215h3v1h-3zM103 215h3v1h-3zM106 215h4v1h-4zM84 216h7v1h-7zM89 219h7v1h-7zM106 219h5v1h-5zM118 219h4v1h-4zM78 222h10v1h-10zM88 222h10v1h-10zM98 222h7v1h-7zM110 223h3v1h-3zM68 224h10v1h-10zM80 224h2v1h-2zM89 224h7v1h-7zM96 224h8v1h-8zM111 224h9v1h-9zM76 230h8v1h-8zM77 231h9v1h-9zM117 238h7v1h-7zM74 241h2v1h-2zM78 241h8v1h-8zM93 241h8v1h-8zM101 241h5v1h-5zM96 244h3v1h-3zM106 247h10v1h-10zM123 247h3v1h-3zM124 249h2v1h-2zM68 255h8v1h-8zM87 255h9v1h-9zM98 255h9v1h-9zM73 259h7v1h-7zM117 259h2v1h-2z"/>
<path fill="#0acb89" fill-opacity="0.52" d="M68 207h2v1h-2zM78 207h8v1h-8zM86 207h8v1h-8zM106 207h10v1h-10zM70 208h2v1h-2zM72 208h4v1h-4zM76 208h6v1h-6zM85 208h2v1h-2zM87 208h4v1h-4zM100 208h8v1h-8zM114 208h3v1h-3zM119 208h6v1h-6zM78 212h3v1h-3zM86 212h10v1h-10zM121 212h5v1h-5zM75 213h7v1h-7zM76 216h5v1h-5zM91 216h9v1h-9zM110 216h7v1h-7zM68 226h10v1h-10zM93 226h10v1h-10zM103 226h4v1h-4zM107 226h3v1h-3zM68 229h5v1h-5zM105 229h3v1h-3zM108 229h4v1h-4zM91 232h6v1h-6zM68 234h5v1h-5zM73 234h3v1h-3zM76 234h6v1h-6zM82 234h2v1h-2zM84 234h2v1h-2zM88 234h7v1h-7zM102 234h10v1h-10zM101 239h2v1h-2zM121 239h5v1h-5z"/>
<path fill="#0acb89" fill-opacity="0.60" d="M74 209h5v1h-5zM79 209h4v1h-4zM83 209h6v1h-6zM99 209h8v1h-8zM100 225h2v1h-2zM68 228h5v1h-5zM96 228h5v1h-5zM101 228h3v1h-3zM112 228h8v1h-8z"/>
<path fill="#0acb89" fill-opacity="0.48" d="M113 223h3v1h-3zM82 224h4v1h-4zM120 224h4v1h-4zM83 225h7v1h-7zM90 225h4v1h-4zM109 225h10v1h-10zM73 228h5v1h-5zM110 228h2v1h-2zM92 231h8v1h-8z"/>
<path fill="#c8e020" fill-opacity="0.44" d="M58 154h34v1h-34zM58 156h34v1h-34z"/>
<path fill="#5ec962" fill-opacity="0.36" d="M92 154h26v1h-26zM92 156h26v1h-26z"/>
<path fill="#c8e020" fill-opacity="0.56" d="M58 155h34v1h-34z"/>
<path fill="#5ec962" fill-opacity="0.44" d="M92 155h26v1h-26z"/>
<path fill="#c8e020" fill-opacity="0.24" d="M58 157h34v1h-34z"/>
<path fill="#5ec962" fill-opacity="0.20" d="M92 157h26v1h-26z"/>
<path fill="#3f4d8a" fill-opacity="0.24" d="M959 115h109v93h-109z"/>
<path fill="#3f4d8a" fill-opacity="0.32" d="M1068 115h52v93h-52z"/>
<path fill="#472a7a" fill-opacity="0.16" d="M1446 115h78v93h-78zM1648 115h24v93h-24z"/>
<path fill="#472a7a" d="M2633 4h1v1h-1zM2336 7h1v1h-1zM2336 94h1v2h-1zM2636 9h2v2h-2zM2552 28h1v2h-1zM2531 31h1v1h-1zM2515 33h1v1h-1zM2551 34h1v1h-1zM2259 62h2v1h-2zM2617 83h1v1h-1zM2557 91h2v2h-2zM2553 100h2v2h-2zM2545 122h2v1h-2zM2577 129h2v2h-2zM2496 149h2v2h-2zM2262 150h2v1h-2zM2626 163h2v2h-2zM2647 165h1v1h-1zM2626 170h1v1h-1zM2493 177h1v2h-1zM2608 181h2v1h-2zM2624 204h1v1h-1zM2511 210h1v2h-1zM2502 241h2v1h-2zM1723 242h1v2h-1zM2558 242h1v1h-1zM2584 249h1v2h-1zM2614 254h2v2h-2zM2526 263h1v2h-1zM2270 275h2v2h-2z"/>
<path fill="#472e7c" d="M2435 2h2v1h-2zM2198 9h1v2h-1zM2319 18h1v1h-1zM2118 22h1v2h-1zM2102 28h2v1h-2zM2457 34h1v2h-1zM2460 41h2v1h-2zM2326 43h1v1h-1zM1838 44h2v2h-2zM2377 44h2v1h-2zM2123 45h2v2h-2zM2123 85h2v1h-2zM2123 158h2v1h-2zM2254 49h1v1h-1zM2343 57h2v2h-2zM2343 143h2v2h-2zM2358 58h2v2h-2zM2209 65h1v2h-1zM2459 67h2v2h-2zM2409 69h1v2h-1zM1721 74h2v1h-2zM2378 77h1v1h-1zM2512 87h2v2h-2zM2102 91h1v2h-1zM2285 102h1v1h-1zM2483 105h1v2h-1zM2372 106h1v2h-1zM2276 109h1v1h-1zM1843 114h1v2h-1zM2346 114h2v1h-2zM2134 115h2v2h-2zM2254 119h2v2h-2zM2459 119h1v1h-1zM2209 123h2v2h-2zM2592 128h2v2h-2zM2592 145h2v1h-2zM2255 146h1v2h-1zM2402 146h1v1h-1zM2049 155h2v2h-2zM2641 159h2v1h-2zM2236 168h1v2h-1zM2195 172h2v1h-2zM2388 172h1v2h-1zM2413 172h2v1h-2zM2628 177h1v2h-1zM2389 178h1v1h-1zM2389 229h1v1h-1zM2611 179h1v1h-1zM2108 183h2v2h-2zM2378 188h2v2h-2zM2438 192h2v1h-2zM2156 196h1v1h-1zM2285 205h2v1h-2zM2007 206h2v1h-2zM2554 210h1v2h-1zM2450 224h2v1h-2zM2267 227h2v2h-2zM2127 228h1v1h-1zM2137 233h1v1h-1zM2134 234h1v1h-1zM2422 243h2v2h-2zM2121 246h1v1h-1zM2483 246h2v1h-2zM2369 250h1v1h-1zM2353 260h2v2h-2zM2612 266h2v2h-2zM2652 266h1v2h-1zM2345 272h1v1h-1zM2657 274h1v2h-1zM2406 280h2v1h-2zM1079 281h2v2h-2zM2479 281h1v2h-1z"/>
<path fill="#46307e" d="M2081 1h1v2h-1zM1841 2h1v2h-1zM1841 80h1v1h-1zM2038 5h1v2h-1zM1846 16h1v2h-1zM2257 19h1v2h-1zM2427 20h1v1h-1zM1865 25h2v2h-2zM1890 25h2v1h-2zM2392 25h1v1h-1zM2392 64h1v1h-1zM1980 30h1v1h-1zM1952 33h2v1h-2zM1982 35h2v1h-2zM1977 36h1v1h-1zM1988 36h1v2h-1zM2176 36h2v2h-2zM1886 37h1v1h-1zM2131 37h2v2h-2zM2059 39h2v2h-2zM2077 39h2v1h-2zM1073 42h1v1h-1zM1971 48h1v2h-1zM2016 50h1v2h-1zM2462 54h2v1h-2zM1084 57h2v2h-2zM2024 75h1v1h-1zM1931 76h2v1h-2zM1882 77h1v2h-1zM2352 77h2v1h-2zM2098 79h1v2h-1zM2098 228h1v2h-1zM1895 84h2v2h-2zM1892 85h2v2h-2zM1892 209h2v2h-2zM2397 87h2v1h-2zM2349 91h2v1h-2zM2153 94h1v2h-1zM1910 105h2v1h-2zM2091 105h2v1h-2zM2069 113h1v2h-1zM1888 119h2v1h-2zM2439 129h2v2h-2zM2026 130h1v2h-1zM2238 133h2v2h-2zM1920 138h2v2h-2zM2471 142h1v1h-1zM2365 146h1v1h-1zM2365 239h1v2h-1zM1859 151h1v2h-1zM1859 201h1v1h-1zM2351 153h2v2h-2zM1792 156h1v1h-1zM1889 158h1v2h-1zM2002 163h1v2h-1zM2002 166h1v2h-1zM1897 165h1v1h-1zM1976 178h2v2h-2zM1789 185h2v1h-2zM1072 186h1v2h-1zM1881 188h1v1h-1zM1134 190h2v2h-2zM1810 193h1v2h-1zM2302 194h1v1h-1zM1136 199h1v2h-1zM1806 200h2v1h-2zM1847 200h2v1h-2zM2101 200h1v2h-1zM2048 202h2v2h-2zM2639 202h1v2h-1zM1888 204h1v1h-1zM1975 204h2v1h-2zM1975 208h2v1h-2zM2295 214h1v2h-1zM2474 215h2v2h-2zM2160 216h1v1h-1zM2293 217h1v2h-1zM1841 220h2v1h-2zM2205 220h1v1h-1zM2322 222h1v2h-1zM2045 225h1v2h-1zM1932 233h2v1h-2zM1982 233h1v1h-1zM2366 236h1v1h-1zM2062 238h1v1h-1zM2109 238h2v2h-2zM1995 244h1v1h-1zM2149 252h1v1h-1zM2383 254h2v1h-2zM2095 256h2v1h-2zM1864 258h1v1h-1zM1994 260h1v2h-1zM2054 263h1v1h-1zM2429 264h2v2h-2zM2072 275h1v1h-1zM1867 279h1v1h-1zM2027 279h2v2h-2zM2293 280h2v1h-2zM1992 284h1v2h-1zM2408 284h1v1h-1z"/>
<path fill="#463480" d="M1902 5h2v2h-2zM1779 9h1v1h-1zM2082 11h2v1h-2zM2082 263h2v2h-2zM1906 14h1v1h-1zM2233 15h1v1h-1zM1548 18h1v1h-1zM1548 202h1v1h-1zM1404 21h2v2h-2zM1680 28h2v1h-2zM1783 29h2v2h-2zM1783 36h2v2h-2zM1962 39h1v1h-1zM1796 45h2v2h-2zM2240 51h1v2h-1zM689 52h2v2h-2zM1807 52h2v1h-2zM1884 56h1v2h-1zM1769 60h2v1h-2zM2020 66h2v1h-2zM2020 206h2v2h-2zM2658 69h1v2h-1zM2569 73h1v2h-1zM1371 75h2v1h-2zM2618 75h2v2h-2zM2618 268h2v1h-2zM1830 76h2v2h-2zM1693 77h1v1h-1zM1930 80h1v2h-1zM1691 81h1v1h-1zM1781 85h1v1h-1zM1713 88h2v1h-2zM2158 89h1v2h-1zM2158 266h1v2h-1zM1909 96h1v2h-1zM2421 96h1v1h-1zM2421 177h1v2h-1zM1539 97h2v1h-2zM1565 100h2v2h-2zM1565 116h2v1h-2zM1495 102h2v1h-2zM1821 104h2v1h-2zM1535 106h2v2h-2zM1709 111h2v1h-2zM1124 116h1v1h-1zM1710 116h2v1h-2zM2354 116h1v2h-1zM2354 157h1v2h-1zM1940 125h2v2h-2zM1844 128h1v1h-1zM1432 131h1v1h-1zM1690 145h1v1h-1zM1825 150h2v2h-2zM1665 152h2v2h-2zM1916 153h2v1h-2zM2247 156h1v2h-1zM1780 171h2v2h-2zM1669 177h1v1h-1zM1706 177h1v1h-1zM1443 186h1v1h-1zM1883 189h1v1h-1zM1866 197h1v1h-1zM1830 200h1v2h-1zM2022 211h2v2h-2zM1601 212h2v1h-2zM2305 219h1v1h-1zM1817 226h1v2h-1zM1835 226h1v1h-1zM1548 227h2v1h-2zM1668 236h1v1h-1zM1832 239h1v2h-1zM1559 243h2v2h-2zM2380 245h1v1h-1zM1733 255h2v2h-2zM1946 256h2v1h-2zM2006 257h1v2h-1zM1499 259h1v2h-1zM1538 264h2v1h-2zM1712 266h1v2h-1zM1583 268h1v1h-1zM1913 268h2v2h-2zM1942 269h2v1h-2zM1447 280h2v2h-2zM2080 280h1v1h-1zM1698 285h2v1h-2z"/>
<path fill="#453781" d="M656 0h1v1h-1zM1612 1h2v1h-2zM1749 1h2v2h-2zM2553 3h1v2h-1zM2517 4h2v1h-2zM2298 5h1v1h-1zM2502 6h2v1h-2zM2502 97h2v2h-2zM1560 7h1v2h-1zM1110 11h1v2h-1zM1563 11h2v2h-2zM2596 11h2v1h-2zM2018 12h1v2h-1zM1667 14h1v2h-1zM2270 18h2v1h-2zM2511 19h1v1h-1zM1100 23h1v1h-1zM2259 23h2v1h-2zM1591 25h1v1h-1zM1987 26h1v1h-1zM1987 222h1v1h-1zM771 28h2v2h-2zM814 28h1v1h-1zM1744 28h2v1h-2zM1744 104h2v1h-2zM2263 28h2v2h-2zM730 29h2v2h-2zM2262 31h1v1h-1zM2262 264h1v1h-1zM685 33h2v2h-2zM1546 33h2v2h-2zM1546 52h2v1h-2zM1483 34h2v2h-2zM1574 35h1v1h-1zM1103 38h2v2h-2zM708 41h2v2h-2zM1614 42h2v1h-2zM2534 42h1v1h-1zM1380 44h2v2h-2zM1313 47h1v2h-1zM2336 48h1v1h-1zM2532 49h2v2h-2zM1672 51h1v1h-1zM2526 54h1v2h-1zM763 55h2v2h-2zM1119 56h2v1h-2zM1119 253h2v1h-2zM2519 56h2v2h-2zM1449 57h1v2h-1zM1660 57h1v2h-1zM664 58h2v2h-2zM863 58h2v1h-2zM1557 58h1v2h-1zM1557 162h1v1h-1zM2618 59h1v2h-1zM2525 61h1v2h-1zM2525 254h1v1h-1zM1433 66h1v2h-1zM773 67h1v2h-1zM1065 69h2v2h-2zM2610 69h2v1h-2zM706 73h2v1h-2zM2580 75h2v2h-2zM2653 78h1v1h-1zM956 80h1v1h-1zM2529 82h2v1h-2zM916 83h1v1h-1zM2503 85h1v1h-1zM2563 85h2v1h-2zM1700 86h1v1h-1zM1700 251h1v1h-1zM1591 88h2v1h-2zM700 91h1v1h-1zM1755 91h2v2h-2zM869 93h1v1h-1zM1762 95h2v2h-2zM2543 96h1v2h-1zM2543 141h1v2h-1zM2614 97h2v2h-2zM2614 183h2v1h-2zM1168 99h1v1h-1zM1383 99h1v2h-1zM2622 100h1v2h-1zM1826 101h1v1h-1zM2609 101h2v2h-2zM759 102h1v1h-1zM914 103h2v1h-2zM1088 103h2v1h-2zM1220 105h1v2h-1zM1065 111h1v1h-1zM726 112h2v1h-2zM2663 113h1v2h-1zM1652 115h1v1h-1zM2619 115h2v2h-2zM954 119h1v1h-1zM1108 120h1v1h-1zM2568 121h1v1h-1zM763 122h1v2h-1zM1491 124h1v1h-1zM2507 124h1v1h-1zM1154 125h2v1h-2zM1493 132h2v1h-2zM1402 133h1v2h-1zM2627 137h1v2h-1zM667 145h2v2h-2zM1983 146h1v2h-1zM2557 146h2v1h-2zM1513 154h2v1h-2zM2537 154h2v1h-2zM2647 156h2v1h-2zM832 158h1v1h-1zM663 160h2v2h-2zM1304 160h1v1h-1zM1308 161h2v1h-2zM2562 161h1v1h-1zM1476 173h1v2h-1zM1368 174h2v2h-2zM2499 175h1v1h-1zM1171 176h2v2h-2zM1671 177h1v1h-1zM1863 179h1v2h-1zM2256 179h1v1h-1zM1797 184h1v2h-1zM1068 185h1v1h-1zM755 186h2v1h-2zM1503 188h2v1h-2zM939 190h1v1h-1zM2642 191h1v2h-1zM2642 194h1v2h-1zM831 192h1v1h-1zM874 192h2v1h-2zM2560 194h2v2h-2zM2617 194h1v2h-1zM2336 197h2v2h-2zM800 198h2v2h-2zM1208 198h2v1h-2zM2593 198h2v1h-2zM1413 199h1v2h-1zM2662 200h1v2h-1zM671 201h1v1h-1zM1486 201h2v2h-2zM2606 204h1v1h-1zM1509 205h2v2h-2zM1755 205h1v1h-1zM2546 206h2v2h-2zM859 208h2v1h-2zM2499 208h2v1h-2zM739 210h1v1h-1zM2638 213h1v2h-1zM2638 232h1v2h-1zM2530 216h1v2h-1zM1411 219h2v2h-2zM753 221h1v1h-1zM2624 221h2v2h-2zM2338 222h1v2h-1zM1562 224h1v2h-1zM800 226h1v2h-1zM2517 227h1v2h-1zM912 231h2v1h-2zM820 232h2v1h-2zM1420 232h2v2h-2zM1301 235h1v2h-1zM2539 235h2v2h-2zM2663 235h2v1h-2zM2261 238h1v1h-1zM646 240h2v1h-2zM726 240h1v2h-1zM2593 240h1v2h-1zM1442 242h1v2h-1zM675 244h1v2h-1zM1463 245h2v1h-2zM2114 246h1v1h-1zM1176 251h2v2h-2zM713 252h1v2h-1zM900 254h1v2h-1zM731 255h1v2h-1zM2572 261h1v1h-1zM931 264h2v2h-2zM1485 267h1v2h-1zM2258 270h2v1h-2zM1983 273h2v2h-2zM1356 274h1v1h-1zM1359 274h1v1h-1zM735 276h1v2h-1zM2623 278h1v2h-1zM1644 279h1v2h-1zM2485 279h1v1h-1zM1242 281h2v1h-2zM1199 282h1v2h-1zM1356 283h2v2h-2zM2548 285h2v1h-2z"/>
<path fill="#443a83" d="M1169 0h2v1h-2zM521 2h1v2h-1zM1080 2h1v2h-1zM2276 2h1v2h-1zM2276 178h1v1h-1zM1725 3h2v2h-2zM1725 25h2v2h-2zM1077 6h2v2h-2zM1314 6h2v2h-2zM2042 6h1v1h-1zM2042 65h1v1h-1zM2330 6h2v2h-2zM2578 8h1v2h-1zM1295 10h1v1h-1zM1725 10h1v1h-1zM1200 13h1v1h-1zM2052 13h1v1h-1zM2326 16h2v2h-2zM1956 17h1v2h-1zM2209 17h2v1h-2zM2378 17h2v2h-2zM2378 128h2v2h-2zM490 19h2v2h-2zM490 45h2v1h-2zM490 158h2v1h-2zM2567 19h1v2h-1zM1970 20h2v1h-2zM2274 22h1v1h-1zM2274 135h1v1h-1zM2052 23h2v1h-2zM2252 23h2v2h-2zM2128 24h2v2h-2zM1081 25h2v1h-2zM1966 25h1v2h-1zM2425 25h2v2h-2zM1608 27h2v2h-2zM2076 27h1v2h-1zM1101 28h2v1h-2zM1201 28h2v2h-2zM2443 28h2v2h-2zM2436 30h1v1h-1zM2563 31h2v2h-2zM410 32h1v2h-1zM809 32h2v2h-2zM1627 33h2v1h-2zM1720 33h1v2h-1zM2264 33h2v2h-2zM2264 129h2v1h-2zM2485 33h1v2h-1zM543 39h1v2h-1zM543 90h1v1h-1zM2234 39h2v1h-2zM1642 40h2v2h-2zM1295 41h2v1h-2zM620 42h1v2h-1zM1255 42h1v1h-1zM569 43h1v2h-1zM1843 43h1v2h-1zM585 44h1v2h-1zM787 44h2v1h-2zM1330 44h1v2h-1zM2241 44h2v2h-2zM2241 47h2v2h-2zM2241 159h2v1h-2zM2276 44h2v1h-2zM2041 45h2v2h-2zM2401 45h2v1h-2zM2401 54h2v2h-2zM2597 47h1v2h-1zM2494 49h1v2h-1zM2454 50h2v1h-2zM2561 50h1v2h-1zM2111 51h1v1h-1zM2250 52h1v2h-1zM2599 52h2v1h-2zM2599 183h2v2h-2zM1956 54h2v2h-2zM2337 54h2v2h-2zM2337 270h2v1h-2zM2643 54h2v1h-2zM2561 55h2v1h-2zM2561 184h2v2h-2zM2063 56h2v1h-2zM2599 58h1v1h-1zM2252 59h1v2h-1zM456 60h2v2h-2zM2090 60h1v1h-1zM2549 60h2v1h-2zM2575 63h2v1h-2zM1104 66h1v2h-1zM2368 66h2v2h-2zM2368 142h2v1h-2zM2194 68h1v1h-1zM1011 69h1v1h-1zM553 70h2v1h-2zM2411 70h1v1h-1zM2034 71h2v1h-2zM2473 74h2v2h-2zM2473 267h2v1h-2zM2504 75h2v1h-2zM2504 138h2v2h-2zM2415 80h2v1h-2zM2559 81h2v1h-2zM2559 120h2v2h-2zM2589 81h2v1h-2zM2270 83h2v2h-2zM940 85h2v2h-2zM1222 85h2v1h-2zM2490 86h1v1h-1zM2512 86h2v1h-2zM2355 89h1v2h-1zM983 91h1v1h-1zM1321 91h2v2h-2zM2477 91h1v4h-1zM2650 91h1v2h-1zM2650 265h1v2h-1zM926 94h2v2h-2zM2488 94h1v1h-1zM2488 128h1v2h-1zM1289 95h1v1h-1zM2350 97h2v2h-2zM2268 100h2v1h-2zM2128 101h1v2h-1zM1018 102h1v1h-1zM1018 148h1v1h-1zM805 103h1v1h-1zM1405 104h1v2h-1zM2413 104h1v2h-1zM732 106h1v2h-1zM732 267h1v2h-1zM2251 106h1v1h-1zM1114 107h1v2h-1zM2404 107h2v1h-2zM1357 108h2v2h-2zM538 109h2v2h-2zM1029 110h1v1h-1zM185 112h1v1h-1zM578 112h1v1h-1zM761 112h2v2h-2zM2032 113h2v2h-2zM1727 114h1v2h-1zM2215 114h2v1h-2zM1991 115h1v2h-1zM2087 115h1v1h-1zM1625 118h2v2h-2zM1218 119h1v1h-1zM2123 119h1v1h-1zM2640 119h1v1h-1zM2267 121h2v2h-2zM2300 124h2v2h-2zM633 127h2v1h-2zM2236 127h2v2h-2zM2562 127h1v1h-1zM1517 130h2v1h-2zM1965 130h1v2h-1zM1629 131h2v1h-2zM2550 131h1v2h-1zM1311 132h2v2h-2zM1964 132h1v2h-1zM1155 133h1v1h-1zM2410 133h1v1h-1zM777 134h2v1h-2zM1341 134h2v1h-2zM2133 136h1v1h-1zM1201 139h1v1h-1zM1287 139h1v2h-1zM2461 141h2v2h-2zM2461 232h2v1h-2zM1192 143h1v1h-1zM2384 143h1v1h-1zM2651 144h2v1h-2zM2425 150h1v1h-1zM1112 151h1v2h-1zM1079 153h1v1h-1zM2308 153h1v2h-1zM1648 154h1v1h-1zM1648 189h1v2h-1zM2199 154h1v2h-1zM2278 154h2v1h-2zM1172 155h2v2h-2zM761 156h1v2h-1zM1494 157h1v1h-1zM2318 157h2v1h-2zM1405 158h2v1h-2zM2379 158h1v2h-1zM877 160h1v1h-1zM1211 160h1v1h-1zM2106 161h2v2h-2zM2044 164h2v2h-2zM2044 253h2v2h-2zM2102 165h2v2h-2zM2278 169h1v1h-1zM1309 170h2v1h-2zM2519 173h2v1h-2zM636 175h1v1h-1zM548 176h1v1h-1zM2283 176h2v2h-2zM2620 176h2v1h-2zM1082 177h2v1h-2zM1674 177h2v1h-2zM2612 177h1v2h-1zM2533 178h2v1h-2zM2601 179h2v2h-2zM2662 180h2v2h-2zM635 181h2v1h-2zM1726 184h1v2h-1zM2074 184h2v2h-2zM2274 185h2v1h-2zM1211 186h2v2h-2zM827 187h1v1h-1zM2585 187h2v2h-2zM2219 188h1v1h-1zM2587 189h1v2h-1zM1248 190h2v2h-2zM2221 191h2v1h-2zM560 192h1v2h-1zM485 193h2v2h-2zM1173 196h1v2h-1zM572 197h2v2h-2zM2146 197h2v2h-2zM2395 199h2v1h-2zM1549 200h1v2h-1zM571 201h2v2h-2zM1959 202h1v2h-1zM2622 203h2v1h-2zM2622 283h2v1h-2zM2116 205h1v1h-1zM1972 207h1v1h-1zM2604 210h1v1h-1zM2145 212h1v2h-1zM2590 212h1v2h-1zM2590 223h1v2h-1zM2444 214h2v1h-2zM2456 214h2v2h-2zM2041 215h1v1h-1zM2268 216h1v1h-1zM2525 216h2v1h-2zM1261 217h1v2h-1zM2288 218h1v1h-1zM2346 219h1v2h-1zM2387 220h2v1h-2zM694 226h1v1h-1zM1029 230h2v1h-2zM2333 231h2v1h-2zM1965 232h2v1h-2zM1524 235h1v1h-1zM668 238h2v2h-2zM2283 239h1v1h-1zM2283 251h1v1h-1zM2137 242h1v1h-1zM2628 242h2v1h-2zM819 243h1v1h-1zM801 244h1v2h-1zM1205 246h1v1h-1zM2458 246h2v2h-2zM2285 248h2v2h-2zM2331 249h2v2h-2zM524 250h2v2h-2zM532 250h1v2h-1zM2547 250h2v2h-2zM2312 254h1v2h-1zM556 256h2v1h-2zM2522 256h1v1h-1zM2198 257h1v1h-1zM1291 258h2v1h-2zM2317 264h2v2h-2zM2544 264h1v2h-1zM1323 265h2v2h-2zM602 267h2v1h-2zM1345 269h2v1h-2zM1836 269h1v1h-1zM2629 270h2v2h-2zM2520 271h2v2h-2zM2220 272h1v1h-1zM2138 274h1v2h-1zM2138 285h1v1h-1zM2313 274h1v2h-1zM510 275h1v2h-1zM1186 278h2v2h-2zM1194 278h1v1h-1zM591 279h1v1h-1zM2044 279h1v2h-1zM2578 279h2v2h-2zM2418 280h1v1h-1zM2263 282h1v1h-1zM1628 284h2v1h-2zM2213 284h2v1h-2zM2468 284h1v2h-1z"/>
<path fill="#433e85" d="M2611 0h2v1h-2zM1944 1h1v1h-1zM529 2h1v2h-1zM2413 4h1v2h-1zM369 6h2v1h-2zM2304 6h1v2h-1zM2387 6h2v2h-2zM2404 7h1v1h-1zM2460 7h1v2h-1zM1297 8h2v1h-2zM2605 8h1v2h-1zM2605 93h1v1h-1zM2283 10h2v1h-2zM2283 18h2v1h-2zM764 11h2v2h-2zM1250 12h1v1h-1zM1842 12h2v1h-2zM2208 12h2v1h-2zM2087 14h2v2h-2zM2087 211h2v2h-2zM1279 15h2v2h-2zM483 16h2v2h-2zM582 17h1v2h-1zM1216 18h2v1h-2zM990 21h1v1h-1zM1715 21h1v1h-1zM2004 21h1v2h-1zM2095 21h2v1h-2zM1918 22h1v1h-1zM2044 23h2v1h-2zM2389 24h1v1h-1zM1272 25h1v2h-1zM2307 25h2v2h-2zM2180 27h2v2h-2zM342 28h2v2h-2zM2442 29h1v1h-1zM450 32h2v2h-2zM2028 32h1v1h-1zM1994 33h2v1h-2zM2390 33h1v2h-1zM334 34h2v1h-2zM2226 34h1v1h-1zM1843 35h2v1h-2zM535 36h2v1h-2zM2149 36h1v2h-1zM2439 36h2v1h-2zM2587 37h2v1h-2zM989 40h2v2h-2zM989 188h2v1h-2zM2388 40h1v1h-1zM2388 223h1v2h-1zM1727 41h2v1h-2zM919 42h2v2h-2zM1882 42h2v2h-2zM2284 43h1v2h-1zM2284 185h1v2h-1zM2578 44h2v1h-2zM2578 118h2v2h-2zM1296 45h2v2h-2zM452 46h2v2h-2zM2433 46h1v1h-1zM2125 48h1v1h-1zM2208 48h1v1h-1zM2208 269h1v2h-1zM2214 48h1v1h-1zM2187 49h2v2h-2zM2187 215h2v2h-2zM317 50h2v2h-2zM499 53h2v2h-2zM499 187h2v1h-2zM581 53h2v1h-2zM2137 53h1v2h-1zM2137 144h1v1h-1zM2488 53h1v2h-1zM1792 56h2v1h-2zM517 57h1v2h-1zM1730 57h2v2h-2zM2528 58h2v2h-2zM1888 59h1v1h-1zM2004 59h2v1h-2zM2408 59h1v1h-1zM1894 60h2v2h-2zM2265 60h2v1h-2zM2167 61h1v2h-1zM587 64h1v2h-1zM1555 64h1v1h-1zM2040 64h2v1h-2zM1875 66h1v1h-1zM2274 67h2v2h-2zM2365 70h1v2h-1zM2650 73h1v2h-1zM2650 111h1v1h-1zM2032 74h1v2h-1zM2387 74h1v1h-1zM1893 75h1v1h-1zM2501 77h2v1h-2zM2204 78h2v2h-2zM516 79h1v1h-1zM2469 79h1v1h-1zM2125 80h2v2h-2zM1419 83h1v1h-1zM1867 83h2v1h-2zM2376 84h2v2h-2zM391 86h2v2h-2zM2021 86h1v1h-1zM2021 92h1v2h-1zM2366 86h2v1h-2zM2654 86h1v1h-1zM2654 267h1v1h-1zM422 87h1v2h-1zM422 266h1v2h-1zM2613 91h1v1h-1zM1350 94h1v1h-1zM2459 94h2v1h-2zM473 98h2v1h-2zM1080 98h2v1h-2zM1080 271h2v1h-2zM1897 98h2v2h-2zM2554 99h1v1h-1zM2554 105h1v2h-1zM2595 100h2v2h-2zM562 103h2v1h-2zM2019 103h2v2h-2zM2222 103h1v2h-1zM1067 104h1v1h-1zM728 108h1v2h-1zM1908 108h2v1h-2zM2412 108h1v1h-1zM400 110h2v1h-2zM2076 110h1v2h-1zM2076 143h1v2h-1zM394 111h1v1h-1zM1254 111h2v2h-2zM2401 111h2v1h-2zM2107 112h2v1h-2zM481 113h2v2h-2zM1041 113h1v1h-1zM1720 114h2v2h-2zM528 115h2v1h-2zM478 117h1v2h-1zM1078 117h1v1h-1zM366 118h2v2h-2zM1026 118h1v2h-1zM2235 118h2v1h-2zM2310 119h2v2h-2zM2197 122h1v1h-1zM1905 126h2v1h-2zM475 127h2v1h-2zM1997 129h2v1h-2zM1725 130h1v2h-1zM426 131h1v1h-1zM2417 131h2v2h-2zM2139 132h2v2h-2zM2406 132h1v2h-1zM2365 133h2v2h-2zM1515 134h2v1h-2zM1790 134h1v1h-1zM2283 134h1v2h-1zM1861 137h1v2h-1zM1890 138h2v1h-2zM1891 139h2v2h-2zM2202 139h2v1h-2zM1977 141h2v2h-2zM2111 141h1v2h-1zM996 143h1v1h-1zM2299 143h2v1h-2zM435 144h1v2h-1zM1974 144h1v1h-1zM2351 144h2v1h-2zM1886 145h2v2h-2zM1992 145h2v1h-2zM2075 145h1v2h-1zM457 147h1v2h-1zM2121 147h1v2h-1zM504 148h2v2h-2zM1787 149h1v1h-1zM2206 149h2v1h-2zM2029 153h2v2h-2zM2369 153h2v2h-2zM1932 154h1v1h-1zM1052 158h1v1h-1zM1002 160h2v1h-2zM1994 160h1v2h-1zM2639 160h1v2h-1zM1020 162h1v1h-1zM1020 276h1v1h-1zM1178 162h2v1h-2zM2571 165h1v2h-1zM858 166h1v2h-1zM1915 166h1v1h-1zM2021 168h2v1h-2zM2293 168h2v2h-2zM770 169h1v2h-1zM1914 169h2v2h-2zM1132 171h2v1h-2zM1847 171h2v2h-2zM2459 171h1v2h-1zM2325 172h2v1h-2zM558 173h1v2h-1zM1129 173h2v1h-2zM1197 174h1v1h-1zM2049 174h1v1h-1zM2280 174h1v1h-1zM2491 175h1v2h-1zM2318 176h1v1h-1zM2422 176h2v1h-2zM2285 177h2v1h-2zM2465 178h1v1h-1zM2024 180h2v2h-2zM179 181h1v1h-1zM2094 181h2v1h-2zM2438 181h1v1h-1zM2098 182h1v2h-1zM2031 184h1v2h-1zM840 186h2v1h-2zM1955 187h2v2h-2zM2230 187h2v1h-2zM1146 188h1v2h-1zM1850 188h2v1h-2zM2441 190h1v1h-1zM2345 191h2v1h-2zM1981 193h2v2h-2zM1981 251h2v1h-2zM1055 195h1v2h-1zM2060 197h2v2h-2zM2613 197h2v2h-2zM2078 198h2v2h-2zM2112 199h2v1h-2zM536 201h1v2h-1zM1933 203h1v2h-1zM2414 203h2v1h-2zM1785 204h2v2h-2zM2130 205h1v1h-1zM2408 206h2v1h-2zM2340 207h1v2h-1zM424 210h2v1h-2zM2126 210h1v1h-1zM2291 210h2v1h-2zM2342 216h1v2h-1zM2294 218h2v1h-2zM2066 221h1v2h-1zM2395 221h2v2h-2zM1091 222h1v2h-1zM1952 222h2v2h-2zM2118 222h1v2h-1zM2192 222h1v2h-1zM2144 223h2v1h-2zM2254 223h1v2h-1zM1845 226h1v1h-1zM1214 227h1v2h-1zM1966 230h2v1h-2zM2153 230h1v2h-1zM2360 231h1v2h-1zM353 233h1v1h-1zM458 233h2v1h-2zM1895 233h1v2h-1zM498 234h1v1h-1zM371 235h1v2h-1zM2198 236h1v1h-1zM2065 239h1v1h-1zM1273 241h1v1h-1zM2031 241h2v2h-2zM2222 242h2v2h-2zM2181 243h2v2h-2zM2239 243h2v2h-2zM2014 244h1v1h-1zM2471 244h1v2h-1zM2471 274h1v2h-1zM2224 246h1v2h-1zM2611 246h1v1h-1zM2385 247h2v2h-2zM2448 252h1v4h-1zM1716 253h1v2h-1zM439 254h1v1h-1zM2342 255h2v1h-2zM2621 255h1v2h-1zM2179 258h1v1h-1zM2223 264h2v1h-2zM1991 265h1v2h-1zM2466 265h2v1h-2zM1083 266h1v1h-1zM2367 268h2v1h-2zM440 270h2v2h-2zM1951 270h2v1h-2zM2132 271h2v2h-2zM1980 274h2v1h-2zM1623 277h1v1h-1zM2402 277h2v2h-2zM2207 278h2v1h-2zM2294 278h1v2h-1zM2657 278h1v1h-1zM1269 280h1v2h-1zM1850 280h1v1h-1zM2350 280h1v1h-1zM810 282h2v2h-2zM434 283h2v2h-2zM2025 283h2v1h-2zM1881 284h1v1h-1zM2062 284h2v2h-2z"/>
<path fill="#424086" d="M1769 0h2v2h-2zM2238 1h2v2h-2zM1141 3h1v1h-1zM1141 19h1v2h-1zM1910 3h1v1h-1zM2166 3h2v2h-2zM1607 4h1v2h-1zM1607 221h1v2h-1zM2029 4h2v1h-2zM2029 117h2v1h-2zM300 5h2v2h-2zM1599 5h1v1h-1zM1072 6h2v1h-2zM1072 172h2v2h-2zM1129 6h2v2h-2zM1129 280h2v1h-2zM1680 7h2v2h-2zM2162 7h2v2h-2zM2362 7h1v1h-1zM2362 166h1v1h-1zM1790 8h1v1h-1zM2081 8h1v2h-1zM1790 9h2v1h-2zM1478 11h2v1h-2zM440 12h3v1h-3zM1655 12h1v1h-1zM1025 13h1v1h-1zM1143 14h1v2h-1zM2478 14h1v2h-1zM2478 51h1v2h-1zM2478 156h1v2h-1zM2478 284h1v2h-1zM2290 17h1v2h-1zM1124 18h1v2h-1zM1124 283h1v1h-1zM1440 18h2v2h-2zM1523 18h1v1h-1zM1584 18h1v2h-1zM1780 19h2v1h-2zM1876 19h2v1h-2zM1927 19h2v1h-2zM1927 194h2v1h-2zM2348 20h1v1h-1zM1823 21h2v2h-2zM1823 54h2v1h-2zM2006 21h1v1h-1zM2164 21h1v1h-1zM2164 96h1v1h-1zM1855 22h2v1h-2zM1128 26h2v2h-2zM2247 26h2v1h-2zM1294 27h1v1h-1zM1294 151h1v2h-1zM1294 204h1v1h-1zM1680 27h1v1h-1zM2383 27h1v2h-1zM1739 29h1v2h-1zM2046 29h1v2h-1zM2082 30h2v2h-2zM2068 32h1v1h-1zM2037 33h2v2h-2zM2037 266h2v2h-2zM1793 34h1v1h-1zM769 36h1v1h-1zM2224 36h2v1h-2zM769 37h2v1h-2zM2223 37h2v1h-2zM1542 39h1v2h-1zM1784 39h1v1h-1zM2088 43h1v1h-1zM2088 145h1v1h-1zM1958 44h2v2h-2zM1958 102h2v2h-2zM1958 191h2v1h-2zM1958 199h2v2h-2zM272 45h1v1h-1zM1802 46h1v2h-1zM2237 47h2v1h-2zM354 48h2v2h-2zM381 48h2v1h-2zM2067 48h1v2h-1zM255 49h2v1h-2zM1884 49h2v2h-2zM1884 75h2v2h-2zM1685 50h2v1h-2zM1543 52h1v2h-1zM1543 161h1v1h-1zM1712 52h1v2h-1zM2163 53h1v1h-1zM2452 53h1v2h-1zM1663 54h1v1h-1zM1663 55h3v1h-3zM2070 55h2v1h-2zM1664 56h2v1h-2zM1690 56h2v2h-2zM1544 58h1v2h-1zM1544 119h1v2h-1zM1544 273h1v1h-1zM2147 58h1v1h-1zM1063 59h1v1h-1zM1827 59h1v1h-1zM1827 99h1v1h-1zM1827 272h1v1h-1zM1816 61h1v2h-1zM269 63h1v1h-1zM2451 63h1v1h-1zM2451 209h1v1h-1zM2027 64h1v1h-1zM1849 67h1v2h-1zM1849 182h1v1h-1zM329 68h2v1h-2zM1738 69h2v1h-2zM1848 69h1v2h-1zM1848 72h1v2h-1zM1916 69h1v1h-1zM1717 71h1v2h-1zM1936 71h1v1h-1zM2380 75h1v1h-1zM1057 77h2v1h-2zM844 78h2v1h-2zM1802 80h2v2h-2zM1893 80h1v1h-1zM1056 81h2v2h-2zM2054 81h1v2h-1zM1128 82h1v2h-1zM2136 83h2v1h-2zM2030 88h2v2h-2zM2030 161h2v2h-2zM337 89h2v2h-2zM1066 89h2v1h-2zM1948 89h1v2h-1zM1665 91h1v1h-1zM262 92h1v1h-1zM2205 92h1v1h-1zM1436 93h1v1h-1zM1089 94h1v2h-1zM2394 94h1v2h-1zM2001 95h2v2h-2zM2181 99h2v1h-2zM2237 99h1v2h-1zM1929 101h2v2h-2zM333 103h1v2h-1zM1766 103h1v2h-1zM1847 104h2v1h-2zM1559 105h2v2h-2zM1930 107h2v1h-2zM1459 108h1v1h-1zM1950 109h1v2h-1zM2161 111h1v1h-1zM325 113h1v1h-1zM1934 113h1v2h-1zM2062 113h1v1h-1zM1138 114h1v1h-1zM1694 114h1v2h-1zM1909 115h1v1h-1zM1731 116h2v2h-2zM1542 117h2v1h-2zM2314 118h1v1h-1zM2314 200h1v1h-1zM2010 120h2v2h-2zM1695 126h1v2h-1zM1872 127h2v1h-2zM2426 128h1v1h-1zM1904 129h1v1h-1zM2006 131h2v2h-2zM2006 179h2v2h-2zM1655 133h2v2h-2zM2100 133h2v2h-2zM2100 193h2v1h-2zM503 134h1v1h-1zM2217 134h2v2h-2zM1939 135h1v1h-1zM348 136h2v1h-2zM1945 136h1v1h-1zM1846 137h1v1h-1zM2019 137h2v1h-2zM2175 137h2v2h-2zM1676 138h2v1h-2zM1783 138h1v1h-1zM1936 138h2v2h-2zM1936 154h2v1h-2zM1371 139h1v2h-1zM1371 198h1v1h-1zM1534 139h1v1h-1zM1758 140h1v2h-1zM2179 141h2v1h-2zM1603 143h1v2h-1zM972 145h2v2h-2zM972 193h2v2h-2zM279 148h2v2h-2zM1008 148h1v1h-1zM1732 150h2v1h-2zM1778 150h2v1h-2zM1871 150h2v2h-2zM1952 150h1v1h-1zM1511 151h2v2h-2zM1778 151h3v1h-3zM2341 151h1v1h-1zM1779 152h2v1h-2zM2180 152h2v2h-2zM1768 153h2v2h-2zM319 155h2v2h-2zM1879 156h2v1h-2zM274 157h2v1h-2zM1395 157h2v2h-2zM1805 158h1v2h-1zM1798 159h2v2h-2zM2045 160h1v1h-1zM2246 161h2v1h-2zM2246 229h2v1h-2zM1904 162h2v1h-2zM1942 164h2v2h-2zM257 166h2v2h-2zM340 166h1v1h-1zM1691 166h2v2h-2zM1691 200h2v1h-2zM1948 168h2v2h-2zM1946 171h1v1h-1zM2393 171h2v2h-2zM1735 172h1v1h-1zM1500 174h2v2h-2zM2296 175h2v2h-2zM1693 177h2v1h-2zM2144 177h2v2h-2zM1495 178h1v2h-1zM1676 178h1v1h-1zM1685 179h1v1h-1zM288 183h2v1h-2zM542 184h1v1h-1zM1731 184h1v1h-1zM1130 185h2v1h-2zM1134 186h2v1h-2zM1771 187h1v2h-1zM1771 265h1v1h-1zM1901 188h1v1h-1zM1535 191h2v1h-2zM1811 192h1v2h-1zM2228 193h2v1h-2zM2100 194h1v1h-1zM2392 195h2v1h-2zM1825 199h2v2h-2zM1890 200h1v2h-1zM2266 200h1v1h-1zM1908 202h1v1h-1zM1908 236h1v1h-1zM361 203h1v1h-1zM259 205h1v2h-1zM1669 206h1v2h-1zM1736 206h2v1h-2zM1742 207h1v2h-1zM370 209h2v1h-2zM327 210h2v1h-2zM361 211h2v2h-2zM2068 214h2v2h-2zM267 219h2v2h-2zM1992 220h1v1h-1zM2026 221h2v2h-2zM1089 223h2v2h-2zM1664 225h1v2h-1zM2380 227h2v2h-2zM1856 230h2v2h-2zM1951 230h2v2h-2zM2040 230h1v1h-1zM280 233h2v1h-2zM2025 237h2v2h-2zM1127 238h2v1h-2zM1686 238h1v1h-1zM1898 238h2v2h-2zM1694 239h2v1h-2zM1833 240h1v1h-1zM1833 254h1v2h-1zM1758 241h2v1h-2zM1129 245h1v2h-1zM1812 245h2v1h-2zM2310 245h2v1h-2zM1716 247h2v2h-2zM2247 247h1v1h-1zM264 248h1v2h-1zM1071 249h1v1h-1zM1548 249h1v1h-1zM1666 249h1v1h-1zM1993 249h1v1h-1zM1551 251h1v1h-1zM952 255h1v1h-1zM2362 255h2v2h-2zM1659 257h1v2h-1zM2097 258h1v1h-1zM1688 259h1v2h-1zM2153 261h2v1h-2zM2193 262h2v1h-2zM2408 262h1v2h-1zM344 263h2v1h-2zM1132 264h1v2h-1zM2356 264h2v1h-2zM1887 265h1v2h-1zM1779 266h1v1h-1zM2162 266h1v1h-1zM2284 267h2v2h-2zM324 268h2v1h-2zM1796 271h1v2h-1zM1085 272h1v1h-1zM1753 274h2v1h-2zM2020 276h2v2h-2zM2348 276h2v2h-2zM1551 278h2v1h-2zM1791 279h1v2h-1zM1499 281h1v2h-1zM1705 282h2v2h-2zM2354 283h2v1h-2zM1881 285h1v1h-1z"/>
<path fill="#414487" d="M743 0h1v2h-1zM1606 0h1v2h-1zM1852 2h2v1h-2zM1304 3h2v2h-2zM1304 238h2v2h-2zM1503 3h2v2h-2zM1547 4h2v2h-2zM744 5h2v1h-2zM2496 5h1v1h-1zM1679 6h1v1h-1zM1199 8h2v1h-2zM1596 8h1v2h-1zM1657 9h2v2h-2zM298 10h2v2h-2zM1775 10h2v2h-2zM795 12h2v2h-2zM1567 12h1v2h-1zM1783 14h1v1h-1zM662 15h1v1h-1zM2012 15h1v1h-1zM1909 16h1v2h-1zM1162 18h1v2h-1zM1162 229h1v1h-1zM1463 18h1v2h-1zM1542 18h1v1h-1zM2347 18h2v1h-2zM1754 19h2v2h-2zM1754 36h2v1h-2zM308 20h1v1h-1zM1934 20h1v1h-1zM1617 21h2v1h-2zM2246 21h2v1h-2zM2037 22h2v2h-2zM2037 99h2v2h-2zM1401 24h2v2h-2zM1804 24h2v2h-2zM1389 25h2v2h-2zM1304 27h1v1h-1zM1225 28h2v2h-2zM2172 28h2v1h-2zM707 29h2v2h-2zM1464 29h2v2h-2zM1816 29h1v2h-1zM856 31h2v2h-2zM1220 33h2v2h-2zM2000 33h1v2h-1zM2000 96h1v1h-1zM879 35h2v2h-2zM1232 35h1v1h-1zM1429 36h2v1h-2zM892 37h2v1h-2zM1087 38h1v2h-1zM1699 38h1v2h-1zM1235 39h1v2h-1zM1404 39h2v2h-2zM1068 40h1v2h-1zM1068 75h1v1h-1zM902 41h1v2h-1zM902 61h1v1h-1zM762 42h1v1h-1zM729 43h1v2h-1zM1215 44h1v1h-1zM1215 156h1v2h-1zM1215 160h1v1h-1zM1215 172h1v1h-1zM1467 44h1v2h-1zM1467 117h1v1h-1zM817 46h1v2h-1zM1161 46h2v2h-2zM1161 164h2v1h-2zM971 47h2v1h-2zM1751 50h1v2h-1zM2305 52h1v1h-1zM2305 136h1v2h-1zM1673 53h1v2h-1zM1431 56h2v2h-2zM1442 57h1v1h-1zM1916 58h2v2h-2zM1453 60h1v2h-1zM2178 60h2v2h-2zM729 61h2v2h-2zM1530 62h2v2h-2zM1752 62h2v1h-2zM674 63h1v2h-1zM1225 63h1v2h-1zM955 66h2v1h-2zM941 67h1v1h-1zM1947 67h1v2h-1zM1646 68h1v2h-1zM1592 69h2v1h-2zM959 72h1v1h-1zM1171 72h1v1h-1zM833 73h2v2h-2zM1604 73h2v2h-2zM1115 75h1v2h-1zM605 78h2v1h-2zM1500 78h1v2h-1zM1658 78h2v2h-2zM1658 82h2v2h-2zM1346 79h2v2h-2zM774 80h1v2h-1zM1455 80h1v1h-1zM1618 83h1v1h-1zM1618 105h1v1h-1zM1090 84h1v2h-1zM2240 84h2v2h-2zM650 86h2v1h-2zM650 224h2v1h-2zM1502 87h2v2h-2zM1490 88h1v1h-1zM1244 89h2v1h-2zM1614 89h1v2h-1zM2184 89h2v1h-2zM768 91h1v2h-1zM1706 91h2v2h-2zM1753 91h2v2h-2zM1475 92h2v2h-2zM650 93h1v1h-1zM781 93h1v1h-1zM781 224h1v1h-1zM865 93h1v2h-1zM865 195h1v1h-1zM1170 93h2v2h-2zM1711 95h2v1h-2zM720 96h2v2h-2zM828 96h2v1h-2zM1535 96h2v2h-2zM1560 96h1v2h-1zM708 97h2v2h-2zM1230 97h1v1h-1zM1308 97h1v2h-1zM1529 97h1v2h-1zM1529 121h1v2h-1zM1499 99h1v1h-1zM1577 99h1v1h-1zM1548 100h1v1h-1zM697 101h1v1h-1zM1547 101h1v1h-1zM886 102h1v2h-1zM849 103h1v1h-1zM849 175h1v1h-1zM849 279h1v1h-1zM1776 103h1v2h-1zM2120 103h2v2h-2zM931 104h2v1h-2zM818 106h2v2h-2zM1543 107h2v2h-2zM1425 108h1v1h-1zM1522 108h1v1h-1zM1577 108h2v2h-2zM713 110h2v2h-2zM713 148h2v1h-2zM872 110h1v2h-1zM1802 110h1v2h-1zM1033 111h2v1h-2zM1086 111h1v1h-1zM734 112h2v2h-2zM1752 112h1v1h-1zM1795 113h2v2h-2zM721 114h2v2h-2zM721 143h2v1h-2zM721 197h2v2h-2zM1468 114h1v2h-1zM1658 114h1v2h-1zM1844 114h1v1h-1zM947 115h1v1h-1zM1814 115h2v2h-2zM1814 158h2v2h-2zM685 116h1v2h-1zM2421 117h1v1h-1zM1153 118h1v1h-1zM927 122h1v1h-1zM1873 122h2v1h-2zM1906 122h1v2h-1zM867 124h1v2h-1zM1399 129h1v2h-1zM1809 130h2v2h-2zM793 131h1v1h-1zM1394 132h1v1h-1zM1482 133h2v2h-2zM1707 133h1v2h-1zM941 136h2v1h-2zM316 139h1v1h-1zM316 211h1v1h-1zM871 139h1v2h-1zM871 144h1v2h-1zM1546 139h2v1h-2zM2493 139h1v1h-1zM663 140h2v2h-2zM663 192h2v1h-2zM782 140h2v1h-2zM1816 140h2v1h-2zM1122 142h2v1h-2zM1181 143h2v1h-2zM1501 144h1v1h-1zM1714 144h1v2h-1zM1714 221h1v2h-1zM2119 145h1v2h-1zM831 147h2v2h-2zM1463 147h2v2h-2zM1066 148h2v1h-2zM1066 172h2v2h-2zM812 149h1v1h-1zM2124 149h1v1h-1zM808 150h2v1h-2zM924 150h2v2h-2zM1145 152h1v1h-1zM676 153h2v1h-2zM1444 153h2v2h-2zM608 154h1v2h-1zM1916 154h1v1h-1zM693 156h2v1h-2zM1492 157h2v2h-2zM1167 158h2v1h-2zM1616 159h2v2h-2zM1821 159h1v2h-1zM907 162h2v2h-2zM826 164h1v1h-1zM1377 165h1v2h-1zM1913 166h2v2h-2zM1425 167h2v1h-2zM821 170h1v1h-1zM821 221h1v2h-1zM1208 171h2v1h-2zM1807 171h1v1h-1zM1699 172h2v2h-2zM1544 173h1v2h-1zM1621 174h1v1h-1zM1764 174h2v2h-2zM879 176h1v2h-1zM1702 176h2v2h-2zM704 177h1v1h-1zM2018 179h1v1h-1zM1160 180h1v1h-1zM1804 181h1v2h-1zM1428 182h1v1h-1zM1745 183h2v2h-2zM1563 184h2v1h-2zM1705 188h1v2h-1zM1744 188h2v2h-2zM772 190h2v1h-2zM902 192h2v1h-2zM1763 192h2v1h-2zM1776 192h2v2h-2zM1749 197h1v2h-1zM1348 198h1v2h-1zM1609 198h2v2h-2zM898 199h1v1h-1zM1800 200h1v1h-1zM1164 201h2v1h-2zM2289 201h2v2h-2zM1653 203h2v2h-2zM807 204h2v1h-2zM1139 204h2v1h-2zM1476 204h2v1h-2zM848 205h1v1h-1zM1809 205h1v1h-1zM1739 206h1v2h-1zM647 207h1v1h-1zM698 207h1v1h-1zM1528 208h2v2h-2zM2122 208h2v2h-2zM672 211h2v2h-2zM795 211h1v2h-1zM1174 211h2v1h-2zM1743 211h2v2h-2zM1036 212h2v1h-2zM1454 212h1v2h-1zM1523 212h1v1h-1zM277 216h1v1h-1zM423 217h1v2h-1zM1832 218h1v1h-1zM1401 220h1v2h-1zM1379 222h2v2h-2zM1058 223h2v2h-2zM1455 231h2v1h-2zM644 232h1v1h-1zM1621 232h2v1h-2zM263 233h1v1h-1zM757 234h1v1h-1zM1799 236h2v1h-2zM1805 236h1v2h-1zM2009 236h2v2h-2zM2009 275h2v2h-2zM1828 237h2v1h-2zM898 238h2v1h-2zM898 265h2v1h-2zM1301 239h1v1h-1zM1541 245h2v2h-2zM1802 245h2v2h-2zM1704 247h2v2h-2zM1120 249h1v1h-1zM1088 250h2v1h-2zM1602 250h1v2h-1zM1098 251h1v2h-1zM1100 253h1v2h-1zM832 255h2v2h-2zM2124 255h2v1h-2zM1619 258h2v2h-2zM1863 258h1v2h-1zM1872 260h1v1h-1zM1618 261h2v2h-2zM1857 262h2v1h-2zM1552 263h1v1h-1zM1103 264h2v2h-2zM1484 265h1v1h-1zM1501 266h2v1h-2zM1501 281h2v2h-2zM1226 267h2v2h-2zM671 271h2v1h-2zM1697 271h1v2h-1zM1356 273h2v1h-2zM1815 273h1v2h-1zM1161 276h1v1h-1zM1346 276h1v2h-1zM1310 277h1v2h-1zM2233 277h1v2h-1zM1583 278h2v2h-2zM614 279h1v2h-1zM1417 279h1v2h-1zM1665 279h2v2h-2zM1825 279h1v1h-1zM2092 279h1v2h-1zM1171 280h2v1h-2zM1418 282h1v2h-1zM863 283h1v1h-1zM2018 285h2v1h-2z"/>
<path fill="#404688" d="M1414 1h2v2h-2zM803 2h2v2h-2zM1182 2h2v1h-2zM804 4h2v1h-2zM1186 4h1v1h-1zM677 5h1v2h-1zM813 6h1v2h-1zM510 8h2v1h-2zM510 54h2v2h-2zM1336 8h1v2h-1zM1336 234h1v2h-1zM645 9h2v1h-2zM924 9h2v2h-2zM1116 11h2v1h-2zM887 12h2v1h-2zM1095 13h1v1h-1zM521 14h1v2h-1zM580 14h2v1h-2zM580 282h2v1h-2zM1660 14h1v1h-1zM579 15h2v2h-2zM1625 15h2v1h-2zM1625 283h2v2h-2zM1750 16h1v1h-1zM826 17h2v1h-2zM508 18h2v1h-2zM703 18h1v2h-1zM1670 18h2v1h-2zM683 19h1v2h-1zM1632 19h1v2h-1zM1632 240h1v1h-1zM1513 20h2v2h-2zM857 21h2v2h-2zM1287 21h1v2h-1zM1467 21h1v2h-1zM1458 22h2v2h-2zM1491 22h2v1h-2zM1553 23h1v1h-1zM501 24h2v1h-2zM868 24h1v1h-1zM834 25h1v1h-1zM1161 25h1v2h-1zM1814 31h2v2h-2zM548 32h2v1h-2zM1159 33h2v2h-2zM1381 33h1v2h-1zM1018 34h1v2h-1zM1379 35h1v2h-1zM1670 35h1v1h-1zM1144 36h1v1h-1zM746 38h2v1h-2zM1333 38h1v1h-1zM1453 38h2v2h-2zM515 39h2v2h-2zM1632 39h2v2h-2zM1697 40h2v1h-2zM808 41h2v2h-2zM1549 41h1v1h-1zM1616 42h1v1h-1zM1422 44h1v2h-1zM1473 46h1v1h-1zM796 47h1v2h-1zM1547 48h1v2h-1zM657 49h1v1h-1zM796 49h2v1h-2zM1086 52h1v1h-1zM1086 66h1v2h-1zM1235 52h2v2h-2zM790 54h2v1h-2zM1364 55h2v1h-2zM1418 58h2v2h-2zM543 59h1v1h-1zM948 59h2v2h-2zM948 137h2v2h-2zM1184 59h2v1h-2zM805 61h2v1h-2zM1156 61h1v1h-1zM1582 62h2v1h-2zM608 63h2v1h-2zM745 63h2v2h-2zM941 64h2v1h-2zM831 65h2v1h-2zM1324 65h1v1h-1zM1505 65h1v2h-1zM472 66h1v2h-1zM669 68h1v1h-1zM613 69h1v1h-1zM1453 69h1v1h-1zM1510 71h2v1h-2zM1510 98h2v2h-2zM842 72h1v2h-1zM944 73h1v1h-1zM710 74h2v1h-2zM623 75h1v2h-1zM1392 75h1v2h-1zM576 76h1v2h-1zM635 77h1v2h-1zM1219 77h2v2h-2zM1463 78h2v2h-2zM1761 79h1v2h-1zM603 81h1v2h-1zM1589 82h1v1h-1zM545 83h2v2h-2zM545 283h2v2h-2zM825 83h1v2h-1zM1107 84h1v1h-1zM788 85h1v2h-1zM1261 85h2v2h-2zM592 86h2v2h-2zM1357 86h2v2h-2zM975 87h1v2h-1zM1472 87h2v1h-2zM1472 125h2v1h-2zM1480 87h1v1h-1zM732 88h2v1h-2zM1330 88h2v2h-2zM875 89h2v2h-2zM551 90h2v1h-2zM1177 91h1v2h-1zM1177 137h1v1h-1zM1445 91h2v2h-2zM1221 92h1v1h-1zM1158 93h1v2h-1zM681 95h2v2h-2zM1261 95h1v1h-1zM544 97h1v2h-1zM544 166h1v1h-1zM590 97h1v1h-1zM1547 97h2v1h-2zM585 98h1v2h-1zM502 101h1v2h-1zM830 101h1v2h-1zM1334 102h2v1h-2zM1334 144h2v1h-2zM755 103h2v2h-2zM1015 103h2v2h-2zM537 104h2v2h-2zM537 125h2v1h-2zM875 105h1v2h-1zM1700 107h2v2h-2zM602 109h2v1h-2zM726 110h1v1h-1zM1173 110h1v1h-1zM908 111h1v1h-1zM929 111h1v2h-1zM1633 111h2v1h-2zM620 112h1v1h-1zM1187 112h1v1h-1zM1292 112h1v2h-1zM1551 112h1v1h-1zM709 113h2v2h-2zM778 113h2v1h-2zM561 114h1v1h-1zM571 114h1v1h-1zM758 114h1v2h-1zM1357 114h1v1h-1zM1121 116h2v2h-2zM1121 165h2v1h-2zM680 118h1v1h-1zM1917 118h1v2h-1zM515 119h1v2h-1zM946 119h1v2h-1zM544 120h2v2h-2zM530 122h2v2h-2zM530 256h2v1h-2zM1650 122h1v1h-1zM818 123h2v2h-2zM1218 123h2v1h-2zM1369 123h2v2h-2zM1369 149h2v1h-2zM586 124h2v1h-2zM586 184h2v1h-2zM801 124h2v1h-2zM843 124h1v2h-1zM843 203h1v1h-1zM1650 125h2v1h-2zM686 126h2v1h-2zM807 126h2v1h-2zM872 127h1v2h-1zM1311 127h1v2h-1zM882 128h2v1h-2zM568 131h2v2h-2zM323 132h1v2h-1zM908 132h2v1h-2zM1683 132h2v2h-2zM1594 133h2v2h-2zM532 134h1v1h-1zM893 135h2v1h-2zM2184 135h1v1h-1zM534 136h1v2h-1zM555 137h2v1h-2zM1238 137h1v3h-1zM781 138h1v1h-1zM933 138h2v2h-2zM1364 138h1v1h-1zM884 139h1v1h-1zM1493 140h1v1h-1zM732 141h1v1h-1zM1152 141h1v1h-1zM1507 142h1v1h-1zM1795 142h2v2h-2zM1947 142h2v2h-2zM1643 143h2v2h-2zM1424 144h1v1h-1zM773 146h1v2h-1zM1291 146h2v1h-2zM1198 148h1v2h-1zM1482 148h2v1h-2zM1438 149h1v2h-1zM2009 149h1v1h-1zM470 151h2v2h-2zM470 216h2v1h-2zM998 151h1v2h-1zM1243 151h2v1h-2zM1310 151h1v2h-1zM723 153h1v2h-1zM723 281h1v2h-1zM1529 154h1v2h-1zM917 155h2v1h-2zM917 206h2v1h-2zM1210 156h2v2h-2zM1252 157h1v1h-1zM777 161h2v1h-2zM577 163h2v1h-2zM2174 163h1v1h-1zM1347 164h2v1h-2zM1347 256h2v1h-2zM841 165h2v1h-2zM841 190h2v1h-2zM1285 165h1v2h-1zM1285 214h1v1h-1zM1349 165h1v1h-1zM1323 166h1v2h-1zM600 169h1v2h-1zM927 169h2v1h-2zM927 214h2v2h-2zM1572 169h2v2h-2zM1740 170h1v1h-1zM610 174h1v1h-1zM1393 174h1v1h-1zM1626 174h2v1h-2zM597 175h2v2h-2zM1119 176h2v1h-2zM1482 176h1v1h-1zM607 177h1v2h-1zM623 177h2v1h-2zM1556 177h2v1h-2zM1241 178h2v2h-2zM1481 178h2v1h-2zM1639 178h2v1h-2zM1653 178h1v1h-1zM1113 182h1v1h-1zM879 183h1v1h-1zM1104 183h1v1h-1zM1399 183h2v1h-2zM737 184h1v1h-1zM1406 185h2v2h-2zM1641 186h1v1h-1zM679 189h2v2h-2zM625 190h1v2h-1zM1569 191h2v2h-2zM567 193h1v2h-1zM567 208h1v1h-1zM549 194h1v2h-1zM1090 197h2v2h-2zM841 199h1v2h-1zM1560 201h2v1h-2zM687 202h2v1h-2zM751 202h1v2h-1zM1164 203h2v1h-2zM1402 203h2v1h-2zM1402 270h2v2h-2zM1646 203h1v2h-1zM898 204h1v1h-1zM1370 205h2v1h-2zM1448 207h2v2h-2zM1111 209h1v2h-1zM1130 209h3v1h-3zM1492 209h1v2h-1zM985 210h1v2h-1zM1314 210h1v1h-1zM1571 213h1v1h-1zM869 214h2v2h-2zM1191 214h1v1h-1zM1190 218h1v1h-1zM1524 218h2v2h-2zM1524 227h2v1h-2zM904 220h2v1h-2zM1326 220h1v1h-1zM1508 220h1v2h-1zM761 221h1v1h-1zM1088 221h1v2h-1zM1476 221h2v1h-2zM742 222h1v1h-1zM1249 222h1v2h-1zM1195 223h2v2h-2zM1524 223h1v2h-1zM1452 224h1v1h-1zM635 225h2v2h-2zM1029 225h1v2h-1zM931 228h2v1h-2zM911 230h1v1h-1zM1229 230h2v2h-2zM1661 230h2v2h-2zM625 231h2v2h-2zM600 233h2v2h-2zM729 234h1v1h-1zM1741 234h2v1h-2zM1286 236h1v2h-1zM646 237h1v2h-1zM511 238h2v2h-2zM1101 238h2v1h-2zM1393 239h2v2h-2zM721 240h1v1h-1zM1171 240h1v1h-1zM1411 242h2v2h-2zM611 243h2v2h-2zM754 243h1v1h-1zM1209 244h2v1h-2zM1295 245h2v1h-2zM1341 246h2v1h-2zM1644 246h2v2h-2zM1754 246h2v2h-2zM597 247h1v2h-1zM667 249h1v1h-1zM827 250h2v1h-2zM803 251h1v2h-1zM864 252h1v2h-1zM923 252h1v1h-1zM785 253h1v1h-1zM1347 255h1v1h-1zM720 257h1v1h-1zM673 260h1v2h-1zM1479 260h2v2h-2zM910 261h2v1h-2zM1190 263h2v1h-2zM1627 264h1v2h-1zM505 265h1v1h-1zM715 266h2v1h-2zM880 266h2v2h-2zM784 267h1v2h-1zM784 285h1v1h-1zM179 269h1v1h-1zM589 270h2v1h-2zM679 272h1v2h-1zM626 273h1v1h-1zM1100 273h2v2h-2zM1628 274h2v2h-2zM713 277h2v1h-2zM731 277h2v2h-2zM925 277h2v1h-2zM1243 277h1v2h-1zM1007 279h1v2h-1zM1236 279h1v2h-1zM1612 279h1v2h-1zM592 280h1v1h-1zM1194 280h2v1h-2zM1246 280h2v1h-2zM1455 283h1v2h-1z"/>
<path fill="#3e4989" d="M398 0h2v2h-2zM398 40h2v2h-2zM628 0h2v1h-2zM571 2h2v2h-2zM1163 2h1v1h-1zM461 4h2v2h-2zM1291 4h2v1h-2zM506 5h2v2h-2zM1635 6h1v2h-1zM519 9h1v2h-1zM1004 10h1v2h-1zM1004 41h1v1h-1zM420 12h1v1h-1zM460 12h2v2h-2zM760 12h2v2h-2zM760 284h2v1h-2zM1629 15h2v1h-2zM710 16h2v1h-2zM1190 16h2v2h-2zM504 17h1v1h-1zM504 169h1v1h-1zM796 17h1v1h-1zM997 18h1v2h-1zM1041 18h1v2h-1zM1422 18h2v2h-2zM1422 176h2v2h-2zM1201 19h1v1h-1zM514 21h1v1h-1zM963 22h2v1h-2zM1252 22h2v1h-2zM1184 23h1v1h-1zM897 25h1v1h-1zM480 26h2v1h-2zM974 26h2v1h-2zM499 27h2v2h-2zM752 27h1v2h-1zM1307 27h1v1h-1zM1203 28h1v2h-1zM893 29h2v1h-2zM891 30h4v1h-4zM1178 31h2v1h-2zM1178 110h2v1h-2zM405 33h1v2h-1zM405 243h1v1h-1zM1269 33h2v1h-2zM977 38h1v1h-1zM977 69h1v1h-1zM1018 42h1v2h-1zM630 43h2v2h-2zM630 222h2v1h-2zM1206 43h2v2h-2zM1102 45h2v1h-2zM386 46h1v2h-1zM1316 49h1v2h-1zM504 50h2v1h-2zM1638 50h2v1h-2zM1212 51h2v2h-2zM766 54h1v1h-1zM1020 54h1v2h-1zM1645 56h2v1h-2zM317 58h2v1h-2zM1042 59h2v2h-2zM445 60h2v2h-2zM445 242h2v2h-2zM425 61h1v1h-1zM1014 61h2v2h-2zM547 62h2v2h-2zM547 190h2v1h-2zM883 64h2v2h-2zM858 65h1v1h-1zM1002 65h2v1h-2zM891 67h1v1h-1zM1259 69h2v1h-2zM1622 69h1v1h-1zM1662 71h2v1h-2zM592 75h2v2h-2zM1091 76h1v2h-1zM1741 76h2v2h-2zM436 78h1v2h-1zM430 81h2v2h-2zM823 82h2v2h-2zM835 84h2v2h-2zM528 86h1v1h-1zM528 205h1v1h-1zM809 86h1v2h-1zM962 87h1v2h-1zM586 88h2v1h-2zM1000 89h1v1h-1zM1262 89h2v2h-2zM1268 91h1v1h-1zM657 92h2v1h-2zM1448 92h2v2h-2zM1188 96h2v2h-2zM498 98h1v2h-1zM519 98h2v2h-2zM627 101h1v2h-1zM579 102h2v2h-2zM579 248h2v1h-2zM1263 102h2v2h-2zM948 104h1v2h-1zM506 105h1v2h-1zM369 106h1v2h-1zM369 228h1v1h-1zM1405 106h1v1h-1zM1312 107h1v2h-1zM620 108h2v1h-2zM760 108h1v1h-1zM853 110h1v1h-1zM1448 110h1v1h-1zM1253 114h2v2h-2zM556 115h2v1h-2zM842 115h1v1h-1zM854 115h2v2h-2zM533 118h2v1h-2zM742 118h2v1h-2zM576 119h1v2h-1zM994 119h2v2h-2zM1630 120h2v2h-2zM505 126h1v1h-1zM536 126h1v2h-1zM465 127h1v2h-1zM964 127h2v2h-2zM1052 129h1v2h-1zM1192 130h2v2h-2zM1474 130h1v1h-1zM430 131h1v2h-1zM1282 131h1v2h-1zM1282 257h1v2h-1zM889 132h1v2h-1zM1326 133h1v2h-1zM1629 134h1v2h-1zM434 135h1v1h-1zM411 139h2v2h-2zM551 139h1v1h-1zM526 140h1v1h-1zM543 140h1v1h-1zM986 140h1v2h-1zM1253 140h3v1h-3zM1626 140h2v2h-2zM1253 141h1v1h-1zM573 142h1v1h-1zM353 143h1v2h-1zM1238 143h2v1h-2zM1263 143h1v1h-1zM1263 256h1v1h-1zM439 144h2v1h-2zM439 175h2v1h-2zM396 146h2v2h-2zM396 261h2v1h-2zM986 146h2v2h-2zM347 147h1v1h-1zM1006 147h1v1h-1zM572 148h2v2h-2zM897 149h2v1h-2zM938 152h2v1h-2zM459 154h2v1h-2zM1573 154h1v2h-1zM837 156h1v1h-1zM1278 156h2v2h-2zM842 158h2v2h-2zM1290 159h1v1h-1zM426 160h1v2h-1zM426 250h1v2h-1zM998 163h1v2h-1zM998 267h1v1h-1zM342 166h1v1h-1zM495 167h2v1h-2zM1217 169h1v2h-1zM890 170h2v2h-2zM1104 170h2v2h-2zM1165 170h1v2h-1zM1271 170h1v1h-1zM984 171h2v1h-2zM1551 171h1v3h-1zM1270 173h1v1h-1zM382 175h1v1h-1zM422 176h1v2h-1zM974 177h1v1h-1zM1009 177h1v2h-1zM1009 231h1v1h-1zM852 180h1v1h-1zM1279 180h1v2h-1zM377 182h2v2h-2zM431 182h1v2h-1zM1332 183h2v1h-2zM400 184h2v2h-2zM538 185h1v2h-1zM1262 185h1v2h-1zM1052 188h2v2h-2zM1515 189h1v1h-1zM374 191h1v2h-1zM968 195h1v2h-1zM1282 195h2v1h-2zM1519 195h1v2h-1zM450 197h1v2h-1zM1388 198h1v1h-1zM440 200h2v1h-2zM380 204h1v1h-1zM383 206h1v1h-1zM386 207h2v2h-2zM582 207h1v1h-1zM592 207h1v2h-1zM375 211h1v1h-1zM516 211h1v2h-1zM1146 212h1v1h-1zM1187 212h1v1h-1zM484 213h2v2h-2zM834 213h2v2h-2zM834 216h2v2h-2zM1018 213h2v1h-2zM394 215h2v1h-2zM372 216h2v2h-2zM1229 216h2v1h-2zM1267 216h1v2h-1zM1178 218h1v2h-1zM536 221h2v1h-2zM536 248h2v1h-2zM496 222h1v1h-1zM372 224h1v1h-1zM1010 228h1v1h-1zM1055 229h2v1h-2zM1587 229h2v2h-2zM948 230h2v2h-2zM937 231h1v2h-1zM401 232h1v1h-1zM453 235h1v1h-1zM711 236h1v2h-1zM1021 237h2v1h-2zM364 238h2v2h-2zM452 239h1v2h-1zM1004 241h2v1h-2zM613 243h1v2h-1zM767 244h1v2h-1zM994 245h1v1h-1zM994 283h1v1h-1zM1191 246h1v1h-1zM616 248h1v2h-1zM515 249h2v1h-2zM978 252h1v2h-1zM359 254h2v1h-2zM1569 254h1v1h-1zM1026 255h2v2h-2zM1159 255h2v1h-2zM845 257h1v2h-1zM1002 258h1v2h-1zM334 262h2v2h-2zM520 263h1v1h-1zM741 264h2v2h-2zM1040 264h2v1h-2zM1114 265h2v2h-2zM525 266h2v1h-2zM809 266h2v2h-2zM792 267h2v1h-2zM775 268h2v2h-2zM1330 268h1v1h-1zM736 269h1v2h-1zM1314 269h1v1h-1zM1054 270h2v1h-2zM1297 271h2v2h-2zM1369 271h2v2h-2zM883 272h1v1h-1zM966 272h1v2h-1zM1525 272h2v1h-2zM456 276h1v1h-1zM1623 276h2v1h-2zM967 279h1v1h-1zM350 281h1v2h-1zM419 283h2v1h-2zM1134 283h3v1h-3zM413 284h2v2h-2zM599 285h2v1h-2z"/>
<path fill="#3e4c8a" d="M1048 6h2v2h-2zM301 7h2v1h-2zM365 7h1v2h-1zM299 13h1v1h-1zM362 14h1v2h-1zM257 15h2v1h-2zM1339 19h1v2h-1zM1339 117h1v2h-1zM409 20h1v2h-1zM529 20h2v1h-2zM529 273h2v2h-2zM990 20h1v1h-1zM183 22h2v1h-2zM1265 26h2v1h-2zM281 29h2v2h-2zM281 250h2v1h-2zM823 30h1v2h-1zM332 34h1v1h-1zM1283 35h2v2h-2zM1031 36h1v2h-1zM325 41h2v1h-2zM337 41h1v2h-1zM988 41h1v2h-1zM346 42h2v2h-2zM346 203h2v1h-2zM1278 42h2v2h-2zM972 43h1v1h-1zM278 49h2v1h-2zM1254 51h1v2h-1zM1004 53h1v2h-1zM295 54h2v2h-2zM448 55h1v2h-1zM855 56h1v1h-1zM1022 56h1v2h-1zM1022 178h1v2h-1zM368 57h2v2h-2zM1636 59h1v1h-1zM1636 162h1v1h-1zM335 64h2v1h-2zM289 68h1v1h-1zM275 69h2v1h-2zM303 70h2v1h-2zM344 72h2v2h-2zM981 72h2v1h-2zM981 224h2v1h-2zM987 74h1v2h-1zM378 78h1v2h-1zM1350 78h1v1h-1zM412 79h2v2h-2zM498 80h1v2h-1zM1024 81h2v1h-2zM415 82h1v1h-1zM415 258h1v2h-1zM301 84h1v2h-1zM301 139h1v2h-1zM980 88h2v2h-2zM338 91h1v1h-1zM270 93h2v1h-2zM381 93h2v2h-2zM447 94h2v2h-2zM604 95h1v1h-1zM288 97h2v2h-2zM288 171h2v2h-2zM276 98h1v2h-1zM276 114h1v1h-1zM1057 98h1v1h-1zM1057 206h1v1h-1zM1055 99h2v2h-2zM866 102h1v2h-1zM279 103h1v2h-1zM406 103h1v2h-1zM262 104h1v2h-1zM1051 105h2v2h-2zM1051 258h2v1h-2zM279 106h2v1h-2zM279 137h2v1h-2zM350 107h2v1h-2zM503 110h2v2h-2zM503 277h2v2h-2zM1041 111h1v2h-1zM1056 112h1v1h-1zM976 115h2v1h-2zM1551 115h1v1h-1zM1551 183h1v2h-1zM1551 197h1v3h-1zM1551 213h1v3h-1zM1551 234h1v3h-1zM1551 268h1v3h-1zM287 118h1v2h-1zM1053 119h2v1h-2zM1037 120h1v1h-1zM286 121h2v1h-2zM286 178h2v1h-2zM454 122h1v2h-1zM964 123h1v1h-1zM292 124h2v2h-2zM481 124h2v2h-2zM1048 124h1v2h-1zM431 131h2v2h-2zM452 132h1v1h-1zM267 133h2v2h-2zM499 137h2v2h-2zM471 142h2v2h-2zM962 142h2v2h-2zM1264 143h1v2h-1zM1266 146h2v2h-2zM429 149h2v2h-2zM429 244h2v1h-2zM1013 153h1v1h-1zM440 154h2v1h-2zM604 155h2v1h-2zM1294 158h2v1h-2zM254 159h1v1h-1zM297 162h1v2h-1zM297 202h1v2h-1zM341 162h2v2h-2zM287 170h2v1h-2zM540 170h1v2h-1zM1039 172h2v2h-2zM463 182h2v2h-2zM1388 182h1v1h-1zM930 189h2v1h-2zM393 190h2v1h-2zM255 191h2v2h-2zM447 191h1v1h-1zM1064 191h2v2h-2zM486 192h1v1h-1zM1034 192h2v2h-2zM260 193h1v1h-1zM356 196h2v2h-2zM275 201h1v2h-1zM325 201h1v1h-1zM365 206h2v1h-2zM1175 212h1v1h-1zM295 216h1v1h-1zM252 218h1v1h-1zM374 221h1v2h-1zM598 228h2v2h-2zM1137 229h2v1h-2zM992 233h2v1h-2zM386 234h1v1h-1zM1051 236h1v1h-1zM588 237h1v2h-1zM340 238h2v2h-2zM276 239h2v2h-2zM288 239h1v1h-1zM1063 239h1v1h-1zM401 240h2v1h-2zM1002 240h2v1h-2zM1196 240h2v2h-2zM354 244h2v1h-2zM482 244h2v1h-2zM453 245h1v1h-1zM593 245h1v2h-1zM1049 250h1v1h-1zM401 253h1v2h-1zM457 255h1v2h-1zM542 259h2v1h-2zM547 266h2v1h-2zM398 267h2v2h-2zM1067 271h2v2h-2zM395 275h2v1h-2zM1013 276h2v1h-2zM1040 276h2v2h-2zM428 277h1v2h-1zM1099 280h2v1h-2zM246 281h1v1h-1zM792 283h1v2h-1zM1130 283h3v1h-3zM348 285h2v1h-2z"/>
<path fill="#3c4f8a" d="M493 9h1v1h-1zM254 24h1v1h-1zM314 24h2v2h-2zM343 25h2v2h-2zM343 156h2v1h-2zM454 25h1v2h-1zM1284 37h1v1h-1zM287 40h1v1h-1zM287 91h1v2h-1zM302 43h1v1h-1zM392 45h2v1h-2zM392 145h2v1h-2zM392 284h2v2h-2zM346 59h1v2h-1zM979 60h2v1h-2zM423 72h1v2h-1zM313 81h1v2h-1zM1294 81h2v2h-2zM277 82h1v1h-1zM1022 91h1v1h-1zM253 98h1v1h-1zM260 106h1v2h-1zM270 109h1v1h-1zM969 115h2v2h-2zM286 120h2v1h-2zM352 127h1v1h-1zM1023 128h2v1h-2zM308 141h2v1h-2zM1046 143h1v2h-1zM257 146h1v2h-1zM1030 149h1v1h-1zM379 156h1v1h-1zM273 157h1v1h-1zM305 163h1v1h-1zM1281 177h2v2h-2zM251 178h1v1h-1zM303 188h2v1h-2zM335 188h1v2h-1zM324 198h1v1h-1zM282 208h1v2h-1zM1162 209h2v1h-2zM244 214h1v1h-1zM542 219h1v1h-1zM452 226h1v1h-1zM1164 229h2v1h-2zM344 230h1v1h-1zM331 244h2v2h-2zM991 247h2v2h-2zM1130 255h1v1h-1zM330 258h1v2h-1zM1023 258h1v1h-1zM542 261h2v1h-2zM500 268h2v2h-2zM1064 269h2v2h-2zM254 270h2v1h-2zM384 280h2v1h-2zM297 281h1v1h-1z"/>
<path fill="#3b528b" d="M328 12h1v1h-1zM328 218h1v2h-1zM1036 39h2v1h-2zM566 44h1v1h-1zM263 49h1v1h-1zM564 52h1v2h-1zM328 58h2v2h-2zM261 84h1v1h-1zM298 84h2v1h-2zM379 112h1v2h-1zM1551 113h1v2h-1zM1551 120h1v3h-1zM1551 272h1v2h-1zM441 126h3v1h-3zM323 129h2v1h-2zM245 133h1v1h-1zM261 140h2v1h-2zM303 152h1v1h-1zM1164 163h3v1h-3zM1033 166h1v2h-1zM1033 247h1v2h-1zM565 170h2v1h-2zM568 193h2v1h-2zM566 201h2v2h-2zM424 204h2v1h-2zM1140 209h3v1h-3zM1152 229h3v1h-3zM1132 255h2v1h-2zM307 257h1v1h-1zM299 260h1v2h-1zM250 267h1v1h-1zM343 274h2v2h-2zM389 278h1v1h-1zM1145 283h1v1h-1z"/>
<path fill="#3a548c" d="M565 10h1v2h-1zM1551 108h1v3h-1zM1551 123h1v3h-1zM1551 255h1v1h-1zM420 126h3v1h-3zM452 126h2v1h-2zM566 126h1v1h-1zM1150 139h2v1h-2zM177 145h1v1h-1zM644 145h3v1h-3zM644 165h3v1h-3zM644 205h3v1h-3zM644 215h3v1h-3zM646 148h4v1h-4zM642 149h4v1h-4zM642 197h4v1h-4zM642 208h4v1h-4zM657 151h4v1h-4zM649 152h9v1h-9zM658 153h3v1h-3zM658 156h3v1h-3zM644 154h5v1h-5zM644 164h5v1h-5zM648 155h3v1h-3zM648 178h3v1h-3zM652 158h4v1h-4zM656 159h6v1h-6zM656 191h6v1h-6zM654 160h5v1h-5zM643 161h4v1h-4zM653 162h4v1h-4zM653 202h4v2h-4zM653 216h4v1h-4zM643 163h11v1h-11zM658 163h4v1h-4zM658 194h4v1h-4zM658 214h4v1h-4zM653 164h7v1h-7zM654 165h7v1h-7zM654 166h8v1h-8zM453 167h1v1h-1zM641 168h4v1h-4zM641 176h4v1h-4zM644 173h8v1h-8zM659 173h3v1h-3zM659 179h3v1h-3zM659 198h3v1h-3zM659 204h3v1h-3zM659 209h3v1h-3zM651 177h5v1h-5zM660 177h2v1h-2zM660 190h2v1h-2zM660 202h2v1h-2zM660 205h2v1h-2zM655 180h4v1h-4zM656 182h4v1h-4zM652 183h10v1h-10zM646 187h6v1h-6zM650 188h4v1h-4zM654 193h4v1h-4zM645 194h8v1h-8zM649 195h3v1h-3zM649 196h4v1h-4zM649 218h4v1h-4zM641 198h8v1h-8zM173 202h2v1h-2zM643 202h5v1h-5zM644 203h4v1h-4zM652 209h3v1h-3zM641 210h9v1h-9zM651 212h4v1h-4zM642 213h5v1h-5zM645 214h4v1h-4zM650 215h3v1h-3zM648 217h4v1h-4zM440 226h2v1h-2zM1130 229h2v1h-2zM1155 229h1v1h-1zM1159 229h3v1h-3zM1139 255h3v1h-3zM1145 255h1v1h-1zM345 256h1v2h-1z"/>
<path fill="#38588c" d="M1162 163h2v1h-2zM1159 209h2v1h-2zM1164 209h3v1h-3zM423 226h1v1h-1zM1157 229h2v1h-2zM422 245h3v1h-3zM1551 247h1v1h-1zM1131 255h1v1h-1z"/>
<path fill="#375a8c" d="M423 0h3v1h-3zM448 6h1v1h-1zM584 18h1v1h-1zM604 49h1v1h-1zM1551 99h1v2h-1zM1551 107h1v1h-1zM1551 134h1v3h-1zM1551 276h1v1h-1zM1162 120h3v1h-3zM1162 283h3v1h-3zM441 132h3v1h-3zM650 139h12v1h-12zM1163 139h3v1h-3zM659 145h3v1h-3zM659 148h3v1h-3zM659 189h3v1h-3zM659 201h3v1h-3zM659 215h3v1h-3zM650 147h3v1h-3zM658 147h4v1h-4zM658 170h4v1h-4zM658 178h4v1h-4zM648 151h4v1h-4zM648 201h4v1h-4zM648 209h4v1h-4zM644 153h3v1h-3zM656 158h5v1h-5zM651 161h8v1h-8zM651 206h8v1h-8zM657 162h4v1h-4zM657 167h4v1h-4zM1155 163h6v1h-6zM647 165h3v1h-3zM647 215h3v1h-3zM651 166h3v1h-3zM644 170h9v1h-9zM650 171h10v1h-10zM641 174h4v1h-4zM641 211h4v1h-4zM650 174h5v1h-5zM647 177h4v1h-4zM647 204h4v1h-4zM643 180h4v1h-4zM643 191h4v1h-4zM660 182h2v1h-2zM643 183h9v1h-9zM642 185h8v1h-8zM642 188h8v1h-8zM651 189h4v1h-4zM654 190h3v1h-3zM2493 190h1v1h-1zM655 192h5v1h-5zM646 193h5v1h-5zM642 194h3v1h-3zM652 195h7v1h-7zM645 196h4v1h-4zM653 196h8v1h-8zM646 197h4v1h-4zM653 197h9v1h-9zM649 198h3v1h-3zM642 199h4v1h-4zM653 199h3v1h-3zM654 200h8v1h-8zM440 204h1v1h-1zM655 209h4v1h-4zM655 217h4v1h-4zM1155 209h3v1h-3zM655 212h7v1h-7zM657 213h5v1h-5zM307 226h3v1h-3zM1136 229h1v1h-1zM450 235h3v1h-3zM425 240h3v1h-3zM1151 255h3v1h-3zM1149 283h1v1h-1zM1159 283h2v1h-2z"/>
<path fill="#365d8d" d="M450 6h3v1h-3zM427 12h1v1h-1zM1551 39h1v3h-1zM1551 52h1v1h-1zM1551 59h1v1h-1zM1551 92h1v1h-1zM1551 101h1v1h-1zM1551 202h1v2h-1zM584 120h2v1h-2zM1148 120h3v1h-3zM184 134h1v1h-1zM1154 134h3v1h-3zM212 165h1v1h-1zM354 167h1v1h-1zM345 199h1v2h-1zM1135 209h3v1h-3zM353 220h2v1h-2zM289 221h1v2h-1zM420 225h1v1h-1zM424 226h2v1h-2zM426 235h2v1h-2zM512 244h2v2h-2zM1146 255h3v1h-3zM449 264h2v1h-2z"/>
<path fill="#355f8d" d="M335 39h1v1h-1zM177 73h2v1h-2zM177 224h2v1h-2zM177 255h2v1h-2zM1551 95h1v3h-1zM1551 105h1v2h-1zM1551 116h1v3h-1zM1551 230h1v1h-1zM420 108h3v1h-3zM420 167h3v1h-3zM1147 120h1v1h-1zM2496 121h1v1h-1zM2496 179h1v1h-1zM1148 130h1v1h-1zM426 132h1v1h-1zM1150 136h3v1h-3zM1150 209h3v1h-3zM1130 139h3v1h-3zM191 153h1v1h-1zM303 159h1v1h-1zM183 161h2v1h-2zM357 167h1v1h-1zM278 181h1v1h-1zM305 206h1v1h-1zM293 208h2v1h-2zM1143 229h2v1h-2zM423 235h3v1h-3zM440 245h1v1h-1zM450 245h3v1h-3zM307 254h1v1h-1zM1136 255h3v1h-3zM189 266h1v1h-1zM216 270h1v1h-1zM216 279h1v1h-1z"/>
<path fill="#33628d" d="M450 0h1v1h-1zM214 2h1v1h-1zM319 6h2v1h-2zM440 6h3v1h-3zM1551 9h1v1h-1zM1551 168h1v2h-1zM189 48h1v1h-1zM185 55h1v1h-1zM444 108h1v1h-1zM1137 120h3v1h-3zM1156 120h3v1h-3zM423 126h2v1h-2zM444 132h3v1h-3zM289 135h1v1h-1zM1159 136h1v1h-1zM1159 139h2v1h-2zM643 144h5v1h-5zM643 178h5v1h-5zM650 145h4v1h-4zM654 148h5v1h-5zM646 149h4v1h-4zM646 179h4v1h-4zM646 208h4v1h-4zM345 150h1v1h-1zM641 150h10v1h-10zM656 150h5v1h-5zM656 211h5v1h-5zM652 151h5v1h-5zM652 176h5v1h-5zM642 152h4v1h-4zM647 153h3v1h-3zM440 155h2v1h-2zM659 155h3v1h-3zM659 195h3v1h-3zM644 156h5v1h-5zM644 195h5v1h-5zM644 218h5v1h-5zM643 157h14v1h-14zM651 159h5v1h-5zM642 160h3v1h-3zM647 161h4v1h-4zM647 180h4v1h-4zM1138 163h2v1h-2zM191 164h1v1h-1zM642 166h5v1h-5zM642 177h5v1h-5zM644 167h9v1h-9zM645 168h4v1h-4zM642 171h8v1h-8zM655 173h4v1h-4zM655 204h4v1h-4zM183 175h2v1h-2zM654 175h4v1h-4zM655 178h3v1h-3zM641 181h3v1h-3zM646 182h10v1h-10zM641 184h8v1h-8zM655 184h5v1h-5zM644 186h12v1h-12zM658 188h3v1h-3zM658 193h3v1h-3zM646 199h3v1h-3zM656 201h3v1h-3zM656 215h3v1h-3zM658 207h4v1h-4zM1133 209h2v1h-2zM1161 209h1v1h-1zM648 212h3v1h-3zM654 213h3v1h-3zM649 214h5v1h-5zM644 216h4v2h-4zM657 216h4v1h-4zM653 218h4v1h-4zM441 220h2v1h-2zM445 225h1v1h-1zM420 226h3v1h-3zM1146 229h3v1h-3zM1143 255h2v1h-2zM1150 255h1v1h-1zM1164 255h2v1h-2zM299 268h1v1h-1z"/>
<path fill="#32648e" d="M446 0h1v1h-1zM446 173h1v1h-1zM445 12h2v1h-2zM2496 48h1v1h-1zM2496 160h1v1h-1zM2496 169h1v1h-1zM2493 71h1v1h-1zM2493 109h1v1h-1zM2493 265h1v1h-1zM356 88h1v2h-1zM1161 91h2v1h-2zM276 108h2v1h-2zM440 108h1v1h-1zM183 109h2v1h-2zM1140 117h1v1h-1zM1551 119h1v1h-1zM1130 120h2v1h-2zM1134 120h1v1h-1zM1134 229h1v1h-1zM1155 120h1v1h-1zM1160 120h1v1h-1zM425 132h1v1h-1zM1139 139h1v1h-1zM218 141h1v1h-1zM293 142h2v1h-2zM189 145h1v1h-1zM303 157h1v2h-1zM1132 163h3v1h-3zM175 171h1v1h-1zM423 173h5v1h-5zM307 185h1v1h-1zM307 224h1v2h-1zM177 191h2v1h-2zM447 204h1v1h-1zM220 216h1v1h-1zM1145 229h1v1h-1zM193 230h1v1h-1zM193 264h1v1h-1zM440 240h3v1h-3zM425 264h2v1h-2zM187 269h2v1h-2zM1137 283h3v1h-3z"/>
<path fill="#31678e" d="M302 0h1v1h-1zM304 0h1v1h-1zM449 6h1v1h-1zM2496 16h1v1h-1zM2496 265h1v1h-1zM299 61h1v2h-1zM212 69h1v1h-1zM212 132h1v1h-1zM212 260h1v1h-1zM1551 83h1v1h-1zM1551 262h1v3h-1zM218 100h1v1h-1zM423 120h2v1h-2zM1135 120h1v1h-1zM1143 120h3v1h-3zM214 123h1v1h-1zM214 154h1v1h-1zM214 158h1v1h-1zM183 125h2v1h-2zM183 232h2v1h-2zM448 126h1v1h-1zM309 132h1v1h-1zM1141 134h3v1h-3zM1137 136h1v1h-1zM1140 139h2v1h-2zM1156 139h2v1h-2zM420 155h3v1h-3zM1148 163h2v1h-2zM1154 182h3v1h-3zM216 189h1v1h-1zM301 190h1v1h-1zM441 204h3v1h-3zM274 210h1v2h-1zM355 215h2v1h-2zM422 220h2v1h-2zM426 220h2v1h-2zM447 225h1v1h-1zM442 235h2v1h-2zM352 237h1v2h-1zM443 240h2v1h-2zM179 251h1v1h-1zM1154 255h4v1h-4zM304 264h2v1h-2zM189 270h1v1h-1zM193 275h1v1h-1zM1146 283h2v1h-2z"/>
<path fill="#306a8e" d="M183 2h2v1h-2zM453 6h1v1h-1zM453 12h1v1h-1zM453 120h1v1h-1zM185 26h1v1h-1zM356 38h1v1h-1zM283 56h1v1h-1zM2493 59h1v1h-1zM2493 150h1v1h-1zM220 65h1v1h-1zM218 72h1v1h-1zM218 85h1v1h-1zM179 74h1v1h-1zM298 108h3v1h-3zM452 108h2v1h-2zM335 129h1v2h-1zM2496 129h1v1h-1zM2496 155h1v1h-1zM2496 172h1v1h-1zM1157 134h2v1h-2zM1155 136h2v1h-2zM1161 136h3v1h-3zM1161 255h3v1h-3zM651 144h10v1h-10zM655 146h6v1h-6zM646 147h4v1h-4zM646 190h4v1h-4zM642 148h4v1h-4zM646 152h3v1h-3zM173 154h2v1h-2zM651 155h8v1h-8zM653 156h5v1h-5zM657 157h4v1h-4zM657 203h4v1h-4zM647 158h5v1h-5zM647 159h4v1h-4zM649 160h5v1h-5zM649 207h5v1h-5zM659 161h2v1h-2zM659 180h2v1h-2zM1130 163h2v1h-2zM1136 163h2v1h-2zM1161 163h1v1h-1zM649 164h4v1h-4zM650 165h4v1h-4zM650 175h4v1h-4zM650 179h4v1h-4zM181 181h1v1h-1zM648 181h9v1h-9zM643 182h3v1h-3zM660 184h1v1h-1zM660 192h1v1h-1zM654 185h4v1h-4zM654 214h4v1h-4zM656 187h5v1h-5zM647 191h9v1h-9zM644 192h3v1h-3zM651 192h4v1h-4zM650 197h3v1h-3zM656 198h3v1h-3zM644 201h4v1h-4zM644 209h4v1h-4zM648 203h5v1h-5zM449 204h3v1h-3zM656 205h4v1h-4zM655 208h4v1h-4zM440 215h2v1h-2zM446 215h1v1h-1zM652 217h3v1h-3zM212 218h1v1h-1zM279 225h2v1h-2zM318 225h1v1h-1zM451 225h2v1h-2zM191 231h1v1h-1zM442 245h3v1h-3z"/>
<path fill="#2f6c8e" d="M420 0h2v1h-2zM283 3h1v2h-1zM2496 8h1v1h-1zM2496 105h1v1h-1zM2496 174h1v1h-1zM2496 198h1v1h-1zM334 12h3v1h-3zM193 42h1v1h-1zM1142 91h3v1h-3zM187 105h2v1h-2zM87 108h1v1h-1zM1141 108h1v1h-1zM216 112h1v1h-1zM2493 114h1v1h-1zM2493 123h1v1h-1zM274 120h1v1h-1zM181 125h1v1h-1zM181 256h1v1h-1zM313 132h1v1h-1zM427 132h1v1h-1zM1145 134h3v1h-3zM1164 134h3v1h-3zM1147 136h2v1h-2zM1153 136h2v1h-2zM214 138h1v1h-1zM1143 139h2v1h-2zM1153 139h3v1h-3zM304 173h1v1h-1zM1134 194h3v1h-3zM173 195h2v1h-2zM173 272h2v1h-2zM1138 209h1v1h-1zM312 220h2v1h-2zM425 220h1v1h-1zM444 226h1v1h-1zM353 240h3v1h-3zM440 264h1v1h-1z"/>
<path fill="#2e6f8e" d="M277 0h1v1h-1zM96 6h3v1h-3zM289 12h1v1h-1zM289 259h1v1h-1zM303 12h2v1h-2zM335 17h1v2h-1zM335 108h1v2h-1zM218 30h1v1h-1zM216 37h1v1h-1zM216 271h1v1h-1zM657 53h2v1h-2zM657 107h2v1h-2zM183 63h2v1h-2zM181 65h1v1h-1zM2496 71h1v1h-1zM2496 113h1v1h-1zM2496 123h1v1h-1zM2496 143h1v1h-1zM2496 189h1v1h-1zM2496 204h1v1h-1zM655 93h3v1h-3zM1551 103h1v2h-1zM423 108h2v1h-2zM423 264h2v1h-2zM650 108h3v1h-3zM1144 117h2v1h-2zM1152 117h1v1h-1zM1159 117h1v1h-1zM217 120h3v1h-3zM357 126h1v1h-1zM1140 130h3v1h-3zM1140 163h3v1h-3zM1134 134h1v1h-1zM175 135h1v1h-1zM1130 136h1v1h-1zM214 137h1v1h-1zM653 137h3v1h-3zM646 138h3v1h-3zM646 235h3v1h-3zM646 251h3v1h-3zM1134 139h2v1h-2zM1137 139h1v1h-1zM220 151h1v1h-1zM187 154h2v1h-2zM336 155h2v1h-2zM98 167h2v1h-2zM423 167h1v1h-1zM177 173h2v1h-2zM420 173h3v1h-3zM298 204h1v1h-1zM447 215h2v1h-2zM320 220h1v1h-1zM451 220h3v1h-3zM660 229h1v1h-1zM280 245h3v1h-3zM293 263h2v2h-2zM444 264h1v1h-1zM642 265h2v1h-2zM345 277h1v2h-1zM657 284h4v1h-4z"/>
<path fill="#2d718e" d="M2496 0h1v1h-1zM2496 194h1v1h-1zM2496 196h1v1h-1zM183 8h2v1h-2zM183 50h2v1h-2zM183 130h2v1h-2zM189 57h1v1h-1zM189 60h1v1h-1zM187 64h2v1h-2zM187 109h2v1h-2zM187 208h2v1h-2zM356 66h1v1h-1zM356 68h1v1h-1zM356 160h1v1h-1zM356 189h1v1h-1zM345 90h1v1h-1zM216 92h1v1h-1zM216 235h1v1h-1zM173 93h2v1h-2zM440 102h3v1h-3zM1150 108h3v1h-3zM1156 117h1v1h-1zM1152 120h3v1h-3zM440 126h1v1h-1zM447 126h1v1h-1zM1135 130h1v1h-1zM1144 134h1v1h-1zM1159 134h1v1h-1zM1141 136h1v1h-1zM1157 136h2v1h-2zM191 137h1v1h-1zM289 142h1v1h-1zM289 165h1v1h-1zM274 144h1v1h-1zM274 182h1v2h-1zM274 185h1v2h-1zM274 213h1v1h-1zM301 156h1v2h-1zM301 247h1v2h-1zM1144 163h3v1h-3zM335 165h1v2h-1zM193 168h1v1h-1zM283 169h1v2h-1zM310 173h3v1h-3zM279 204h3v1h-3zM1133 214h2v1h-2zM1157 214h3v1h-3zM220 215h1v1h-1zM420 215h2v1h-2zM334 220h1v1h-1zM281 225h1v1h-1zM315 225h3v1h-3zM440 225h2v1h-2zM348 240h3v1h-3zM348 264h3v1h-3zM453 240h1v1h-1zM357 245h1v1h-1zM303 257h1v2h-1zM293 260h2v1h-2z"/>
<path fill="#2c738e" d="M312 0h1v1h-1zM218 1h1v1h-1zM218 66h1v1h-1zM218 165h1v1h-1zM335 5h1v2h-1zM335 37h1v2h-1zM189 7h1v1h-1zM189 74h1v1h-1zM220 23h1v1h-1zM345 34h1v1h-1zM345 121h1v2h-1zM191 39h1v1h-1zM191 269h1v1h-1zM293 39h2v1h-2zM212 40h1v1h-1zM177 43h2v1h-2zM177 46h2v1h-2zM177 130h2v1h-2zM2496 47h1v1h-1zM2496 144h1v1h-1zM173 74h2v1h-2zM173 150h2v1h-2zM173 152h2v1h-2zM173 182h2v1h-2zM173 226h2v1h-2zM216 95h1v1h-1zM311 108h2v1h-2zM1149 108h1v1h-1zM1161 108h1v1h-1zM2493 118h1v1h-1zM2493 267h1v1h-1zM2493 279h1v1h-1zM349 120h3v1h-3zM1132 120h2v1h-2zM1132 136h2v1h-2zM1140 120h3v1h-3zM175 121h1v1h-1zM307 126h2v1h-2zM310 126h2v1h-2zM193 129h1v1h-1zM193 134h1v1h-1zM193 182h1v1h-1zM193 215h1v1h-1zM1130 130h2v1h-2zM275 132h1v1h-1zM278 132h1v1h-1zM453 132h1v1h-1zM1131 134h2v1h-2zM1136 134h1v1h-1zM1149 134h3v1h-3zM1139 136h1v1h-1zM642 139h5v1h-5zM642 159h5v1h-5zM648 144h3v1h-3zM1138 144h3v1h-3zM647 145h3v1h-3zM647 213h3v1h-3zM652 146h3v1h-3zM650 148h4v1h-4zM650 185h4v1h-4zM650 149h6v1h-6zM654 153h4v1h-4zM654 163h4v1h-4zM649 154h5v1h-5zM644 155h4v1h-4zM644 181h4v1h-4zM659 160h3v1h-3zM659 206h3v1h-3zM649 168h4v1h-4zM643 169h8v1h-8zM655 169h5v1h-5zM274 173h3v1h-3zM316 173h3v1h-3zM447 173h2v1h-2zM660 174h2v1h-2zM660 186h2v1h-2zM651 178h4v1h-4zM1139 182h3v1h-3zM1152 182h1v1h-1zM658 185h4v1h-4zM641 187h5v1h-5zM274 188h1v2h-1zM647 189h4v1h-4zM647 205h4v1h-4zM657 190h3v1h-3zM651 193h3v1h-3zM1157 194h3v1h-3zM181 196h1v1h-1zM181 203h1v1h-1zM644 200h3v1h-3zM652 201h4v1h-4zM648 202h5v1h-5zM648 216h5v1h-5zM355 204h2v1h-2zM650 208h5v1h-5zM648 211h8v1h-8zM643 212h5v1h-5zM642 214h3v1h-3zM321 215h1v1h-1zM657 218h5v1h-5zM279 226h2v1h-2zM303 231h1v2h-1zM308 240h2v1h-2zM340 264h1v2h-1zM185 283h1v1h-1z"/>
<path fill="#2b758e" d="M299 0h1v1h-1zM2496 2h1v1h-1zM2496 159h1v1h-1zM2496 206h1v1h-1zM2496 223h1v1h-1zM2496 268h1v1h-1zM106 6h3v1h-3zM302 6h2v1h-2zM348 12h2v1h-2zM175 20h1v1h-1zM187 47h2v1h-2zM187 110h2v1h-2zM214 54h1v1h-1zM214 232h1v1h-1zM189 80h1v1h-1zM177 99h2v1h-2zM177 189h2v1h-2zM177 261h2v1h-2zM177 284h2v1h-2zM218 101h1v1h-1zM305 102h1v1h-1zM318 102h2v1h-2zM185 106h1v1h-1zM353 108h1v1h-1zM1136 108h1v1h-1zM173 118h2v1h-2zM173 168h2v1h-2zM173 211h2v1h-2zM173 256h2v1h-2zM303 118h1v2h-1zM303 155h1v2h-1zM303 178h1v2h-1zM294 124h1v2h-1zM274 126h1v1h-1zM274 215h1v1h-1zM352 126h1v1h-1zM1143 130h2v1h-2zM1143 283h2v1h-2zM1155 130h3v1h-3zM1134 136h3v1h-3zM212 142h1v1h-1zM212 267h1v1h-1zM212 277h1v1h-1zM1146 144h1v1h-1zM1142 155h2v1h-2zM216 156h1v1h-1zM220 157h1v1h-1zM1133 160h1v1h-1zM275 167h3v1h-3zM313 167h3v1h-3zM321 167h1v1h-1zM1130 182h2v1h-2zM1143 182h3v1h-3zM286 194h1v1h-1zM1139 194h3v1h-3zM1160 194h3v1h-3zM1148 202h2v1h-2zM300 204h2v1h-2zM319 204h2v1h-2zM307 207h1v2h-1zM301 211h1v1h-1zM1164 214h3v1h-3zM319 220h1v1h-1zM424 220h1v1h-1zM103 225h3v1h-3zM308 225h2v1h-2zM453 225h1v1h-1zM311 245h2v1h-2zM334 245h3v1h-3zM345 245h1v2h-1zM340 253h1v1h-1zM310 264h3v1h-3zM179 268h1v1h-1z"/>
<path fill="#2a788e" d="M281 6h1v1h-1zM345 7h1v2h-1zM299 24h1v2h-1zM299 127h1v1h-1zM299 186h1v2h-1zM179 33h1v1h-1zM179 212h1v1h-1zM295 43h1v2h-1zM2493 47h1v1h-1zM189 56h1v1h-1zM189 120h1v1h-1zM189 128h1v1h-1zM303 71h1v1h-1zM303 226h1v1h-1zM177 80h2v1h-2zM2496 82h1v1h-1zM2496 92h1v1h-1zM2496 112h1v1h-1zM2496 133h1v1h-1zM2496 191h1v1h-1zM2496 221h1v1h-1zM2496 266h1v1h-1zM1146 88h1v1h-1zM1162 88h3v1h-3zM1130 91h1v1h-1zM1147 91h2v1h-2zM193 93h1v1h-1zM173 96h2v1h-2zM173 236h2v1h-2zM314 102h1v1h-1zM275 108h1v1h-1zM427 108h1v1h-1zM1131 108h2v1h-2zM1138 108h3v1h-3zM1139 117h1v1h-1zM352 120h3v1h-3zM298 126h2v1h-2zM104 132h1v1h-1zM353 132h3v1h-3zM1143 136h3v1h-3zM187 141h2v1h-2zM1134 144h1v1h-1zM1150 144h3v1h-3zM1141 155h1v1h-1zM1157 155h2v1h-2zM303 167h2v1h-2zM309 173h1v1h-1zM1136 182h2v1h-2zM307 183h1v2h-1zM181 202h1v1h-1zM283 202h1v1h-1zM283 256h1v2h-1zM1145 202h1v1h-1zM1155 202h3v1h-3zM336 204h1v1h-1zM448 204h1v1h-1zM448 226h1v1h-1zM1148 214h3v1h-3zM1161 214h3v1h-3zM351 215h2v1h-2zM281 220h2v1h-2zM309 220h3v1h-3zM218 225h1v1h-1zM275 225h2v1h-2zM298 225h1v1h-1zM183 228h2v1h-2zM312 235h1v1h-1zM278 240h4v1h-4zM310 240h3v1h-3zM220 244h1v1h-1zM220 262h1v1h-1zM216 253h1v1h-1zM191 257h1v1h-1zM317 264h2v1h-2zM175 273h1v1h-1zM214 280h1v1h-1z"/>
<path fill="#297a8e" d="M298 0h1v1h-1zM298 235h1v1h-1zM311 0h1v1h-1zM318 0h1v1h-1zM298 12h3v1h-3zM2496 12h1v1h-1zM2496 209h1v1h-1zM2496 218h1v1h-1zM2496 243h1v1h-1zM356 13h1v2h-1zM356 245h1v1h-1zM173 25h2v1h-2zM173 63h2v1h-2zM214 58h1v1h-1zM214 176h1v1h-1zM181 62h1v1h-1zM181 75h1v1h-1zM189 63h1v1h-1zM345 65h1v2h-1zM187 84h2v1h-2zM185 88h1v1h-1zM1134 91h3v1h-3zM1146 91h1v1h-1zM281 102h1v1h-1zM355 102h3v1h-3zM448 102h2v1h-2zM310 108h1v1h-1zM1130 108h1v1h-1zM303 110h1v1h-1zM303 262h1v1h-1zM183 111h2v1h-2zM1130 117h2v1h-2zM449 120h2v1h-2zM317 126h3v1h-3zM193 127h1v1h-1zM193 183h1v1h-1zM1152 134h1v1h-1zM1160 134h4v1h-4zM218 140h1v1h-1zM218 144h1v1h-1zM218 221h1v1h-1zM1160 144h3v1h-3zM175 151h1v1h-1zM175 241h1v1h-1zM175 255h1v1h-1zM175 284h1v1h-1zM275 155h2v1h-2zM308 155h4v1h-4zM350 155h3v1h-3zM1137 155h3v1h-3zM1154 155h3v1h-3zM191 170h1v1h-1zM179 174h1v1h-1zM1146 182h2v1h-2zM1158 182h1v1h-1zM1132 196h2v1h-2zM1162 196h1v1h-1zM87 204h2v1h-2zM300 215h2v1h-2zM283 217h1v2h-1zM349 220h3v1h-3zM274 225h1v1h-1zM274 259h1v1h-1zM104 235h1v1h-1zM279 235h1v1h-1zM300 235h1v1h-1zM321 235h1v1h-1zM357 235h1v1h-1zM82 245h3v1h-3zM427 245h1v1h-1zM177 248h2v1h-2zM220 260h1v1h-1z"/>
<path fill="#287d8e" d="M105 0h3v1h-3zM301 0h1v1h-1zM301 158h1v1h-1zM345 1h1v2h-1zM345 25h1v2h-1zM345 104h1v1h-1zM357 6h1v1h-1zM303 13h1v1h-1zM303 116h1v2h-1zM303 216h1v2h-1zM335 22h1v2h-1zM335 203h1v1h-1zM283 28h1v1h-1zM2496 42h1v1h-1zM2496 104h1v1h-1zM2496 124h1v1h-1zM2496 134h1v1h-1zM2496 181h1v1h-1zM2496 242h1v1h-1zM193 44h1v1h-1zM193 86h1v1h-1zM185 65h1v1h-1zM185 151h1v1h-1zM189 65h1v1h-1zM189 271h1v1h-1zM183 77h2v1h-2zM173 78h2v1h-2zM173 217h2v1h-2zM173 227h2v1h-2zM179 85h1v1h-1zM1132 91h2v1h-2zM1137 91h2v1h-2zM1158 91h3v1h-3zM1163 91h2v1h-2zM187 93h2v1h-2zM450 102h3v1h-3zM175 104h1v1h-1zM281 108h2v1h-2zM318 108h1v1h-1zM336 108h1v1h-1zM1154 108h2v1h-2zM1154 144h2v1h-2zM191 111h1v1h-1zM191 264h1v1h-1zM1137 117h1v1h-1zM275 120h3v1h-3zM275 126h3v1h-3zM300 120h1v1h-1zM317 120h1v1h-1zM355 120h3v1h-3zM216 126h1v1h-1zM301 126h2v1h-2zM301 167h2v1h-2zM1132 130h3v1h-3zM1157 144h3v1h-3zM274 154h1v2h-1zM278 155h1v1h-1zM278 235h1v1h-1zM281 155h1v1h-1zM348 155h2v1h-2zM1160 155h2v1h-2zM280 167h2v1h-2zM280 173h2v1h-2zM313 173h2v1h-2zM220 179h1v1h-1zM220 203h1v1h-1zM220 231h1v1h-1zM220 235h1v1h-1zM1143 196h2v1h-2zM1154 196h3v1h-3zM299 197h1v2h-1zM299 213h1v2h-1zM299 233h1v1h-1zM302 204h2v1h-2zM306 204h3v1h-3zM312 204h2v1h-2zM1130 214h2v1h-2zM334 215h1v1h-1zM298 220h1v1h-1zM448 220h3v1h-3zM353 225h1v1h-1zM353 264h1v1h-1zM86 226h1v1h-1zM298 226h3v1h-3zM351 245h1v1h-1zM275 264h1v1h-1zM289 264h1v2h-1zM356 276h1v2h-1z"/>
<path fill="#27808e" d="M313 0h2v1h-2zM321 0h1v1h-1zM321 240h1v1h-1zM345 5h1v2h-1zM345 9h1v1h-1zM345 234h1v1h-1zM220 6h2v1h-2zM274 6h4v1h-4zM299 6h1v1h-1zM299 63h1v2h-1zM299 276h1v2h-1zM175 11h1v1h-1zM175 86h1v1h-1zM278 11h1v2h-1zM278 54h1v2h-1zM278 97h1v2h-1zM278 204h1v1h-1zM278 222h1v2h-1zM179 16h1v1h-1zM307 48h1v1h-1zM307 186h1v1h-1zM307 232h1v2h-1zM191 61h1v1h-1zM191 82h1v1h-1zM2496 65h1v1h-1zM2496 72h1v1h-1zM2496 167h1v1h-1zM173 66h2v1h-2zM289 76h1v1h-1zM356 83h1v1h-1zM356 242h1v1h-1zM1136 88h3v1h-3zM1154 88h2v1h-2zM1140 91h2v1h-2zM1157 91h1v1h-1zM303 102h2v1h-2zM279 108h2v1h-2zM307 108h3v1h-3zM313 108h3v1h-3zM348 108h3v1h-3zM1135 117h1v1h-1zM1146 117h3v1h-3zM185 120h1v1h-1zM185 213h1v1h-1zM278 120h2v1h-2zM302 120h2v1h-2zM183 123h2v1h-2zM183 147h2v1h-2zM314 126h3v1h-3zM214 127h1v1h-1zM293 130h2v1h-2zM293 168h2v1h-2zM1160 130h1v1h-1zM283 132h1v1h-1zM283 209h1v1h-1zM283 213h1v2h-1zM1130 134h1v1h-1zM303 135h1v2h-1zM301 142h1v1h-1zM1130 144h3v1h-3zM1152 160h3v1h-3zM193 162h1v1h-1zM193 164h1v1h-1zM193 181h1v1h-1zM319 167h2v1h-2zM187 169h2v1h-2zM187 189h2v1h-2zM335 172h1v1h-1zM335 249h1v2h-1zM277 173h2v1h-2zM337 173h1v1h-1zM348 173h1v1h-1zM352 173h6v1h-6zM1163 182h2v1h-2zM218 196h1v1h-1zM82 215h1v1h-1zM98 215h2v1h-2zM348 215h2v1h-2zM348 245h2v1h-2zM301 225h3v1h-3zM357 225h1v1h-1zM357 264h1v1h-1zM281 226h2v1h-2zM282 240h2v1h-2zM317 240h1v1h-1zM307 245h2v1h-2zM177 247h2v1h-2zM86 264h3v1h-3z"/>
<path fill="#26828e" d="M99 0h3v1h-3zM355 0h2v1h-2zM282 6h2v1h-2zM304 6h4v1h-4zM354 6h3v1h-3zM2496 11h1v1h-1zM2496 34h1v1h-1zM2496 64h1v1h-1zM2496 114h1v1h-1zM2496 220h1v1h-1zM2496 261h1v1h-1zM356 12h2v1h-2zM646 26h3v1h-3zM293 29h2v2h-2zM179 30h1v1h-1zM193 30h1v1h-1zM345 30h1v2h-1zM345 57h1v2h-1zM345 152h1v2h-1zM356 46h1v2h-1zM356 59h1v1h-1zM356 169h1v1h-1zM356 177h1v2h-1zM356 213h1v1h-1zM653 53h2v1h-2zM303 65h1v1h-1zM648 67h2v1h-2zM274 75h1v1h-1zM274 141h1v2h-1zM274 153h1v1h-1zM274 168h1v2h-1zM191 81h1v1h-1zM1133 88h3v1h-3zM1158 88h2v1h-2zM1158 130h2v1h-2zM1151 91h3v1h-3zM655 100h2v1h-2zM92 102h1v1h-1zM94 102h2v1h-2zM218 103h1v1h-1zM305 106h1v2h-1zM351 108h1v1h-1zM1143 108h2v1h-2zM1156 108h2v1h-2zM1132 117h3v1h-3zM1149 117h2v1h-2zM648 118h3v1h-3zM648 274h3v1h-3zM648 284h3v1h-3zM283 120h1v1h-1zM304 126h3v1h-3zM657 130h4v1h-4zM1145 130h2v1h-2zM276 132h2v1h-2zM335 141h1v1h-1zM648 143h4v1h-4zM648 270h4v1h-4zM657 143h2v1h-2zM654 145h5v1h-5zM216 146h1v1h-1zM643 146h9v1h-9zM651 150h5v1h-5zM644 151h4v1h-4zM650 153h4v1h-4zM650 190h4v1h-4zM650 213h4v1h-4zM286 154h1v2h-1zM654 154h4v1h-4zM654 210h4v1h-4zM277 155h1v1h-1zM185 157h1v1h-1zM1147 160h2v1h-2zM1155 160h3v1h-3zM645 162h8v1h-8zM653 167h4v1h-4zM653 273h4v1h-4zM653 168h5v1h-5zM660 169h2v1h-2zM658 175h4v1h-4zM645 176h4v1h-4zM278 177h1v2h-1zM301 183h1v2h-1zM652 187h4v1h-4zM340 196h1v2h-1zM1149 196h3v1h-3zM656 199h3v1h-3zM657 202h3v1h-3zM657 229h3v1h-3zM1150 202h3v1h-3zM309 204h1v1h-1zM349 204h2v1h-2zM651 204h4v1h-4zM641 207h4v1h-4zM659 208h3v1h-3zM1136 214h3v1h-3zM1143 214h3v1h-3zM302 215h2v1h-2zM311 215h5v1h-5zM314 220h2v1h-2zM337 220h1v1h-1zM355 220h1v1h-1zM442 225h3v1h-3zM100 226h2v1h-2zM353 226h1v1h-1zM313 235h2v1h-2zM313 240h3v1h-3zM318 240h3v1h-3zM350 245h1v1h-1zM335 264h3v1h-3zM653 265h3v1h-3zM655 266h3v1h-3zM183 268h2v1h-2zM181 273h1v1h-1z"/>
<path fill="#25848e" d="M189 2h1v1h-1zM189 285h1v1h-1zM185 5h1v1h-1zM185 67h1v1h-1zM280 12h4v1h-4zM312 12h2v1h-2zM353 12h3v1h-3zM181 25h1v1h-1zM191 29h1v1h-1zM191 79h1v1h-1zM191 100h1v1h-1zM177 49h2v1h-2zM177 126h2v1h-2zM2496 60h1v1h-1zM2496 78h1v1h-1zM2496 192h1v1h-1zM2496 233h1v1h-1zM2496 275h1v1h-1zM220 72h1v1h-1zM220 246h1v1h-1zM1150 88h3v1h-3zM1154 91h2v1h-2zM1154 214h2v1h-2zM345 96h1v1h-1zM345 241h1v1h-1zM335 98h1v2h-1zM183 99h2v1h-2zM84 102h2v1h-2zM302 102h1v1h-1zM315 102h1v1h-1zM217 108h1v1h-1zM1160 117h1v1h-1zM1160 214h1v1h-1zM1162 117h2v1h-2zM311 120h1v1h-1zM187 125h2v1h-2zM295 130h1v2h-1zM1149 130h3v1h-3zM310 132h3v1h-3zM173 137h2v1h-2zM173 175h2v1h-2zM1142 144h3v1h-3zM1163 144h3v1h-3zM1163 194h3v1h-3zM1143 145h1v1h-1zM1155 145h1v1h-1zM301 155h2v1h-2zM293 159h2v1h-2zM293 175h2v2h-2zM293 189h2v2h-2zM293 272h2v1h-2zM307 164h1v1h-1zM350 167h1v1h-1zM355 167h2v1h-2zM216 172h1v1h-1zM306 173h1v1h-1zM308 173h1v1h-1zM303 175h1v2h-1zM289 186h1v2h-1zM1151 194h2v1h-2zM301 195h1v1h-1zM1141 196h2v1h-2zM218 201h1v1h-1zM218 232h1v1h-1zM1130 202h1v1h-1zM274 212h1v1h-1zM93 215h2v1h-2zM179 220h1v1h-1zM300 220h1v1h-1zM305 222h1v1h-1zM305 231h1v2h-1zM87 226h3v1h-3zM304 226h1v1h-1zM304 245h1v1h-1zM314 226h3v1h-3zM348 226h1v1h-1zM442 226h2v1h-2zM318 235h3v1h-3zM334 235h3v1h-3z"/>
<path fill="#24868e" d="M351 0h2v1h-2zM311 6h7v1h-7zM334 6h1v1h-1zM334 132h1v1h-1zM334 167h1v1h-1zM334 264h1v1h-1zM336 6h2v1h-2zM336 225h2v1h-2zM348 6h3v1h-3zM173 10h2v1h-2zM306 12h4v1h-4zM2496 19h1v1h-1zM2496 193h1v1h-1zM183 32h2v1h-2zM183 128h2v1h-2zM356 49h1v1h-1zM356 106h1v2h-1zM179 57h1v1h-1zM352 66h1v2h-1zM187 78h2v1h-2zM187 86h2v1h-2zM187 97h2v1h-2zM187 131h2v1h-2zM187 144h2v1h-2zM187 165h2v1h-2zM187 266h2v1h-2zM1149 91h2v1h-2zM283 100h1v2h-1zM1158 108h3v1h-3zM189 121h1v1h-1zM189 130h1v1h-1zM189 275h1v1h-1zM191 123h1v1h-1zM191 205h1v1h-1zM83 126h3v1h-3zM100 126h3v1h-3zM100 215h3v1h-3zM280 126h3v1h-3zM286 127h1v2h-1zM286 264h1v2h-1zM1161 130h2v1h-2zM219 132h3v1h-3zM314 132h3v1h-3zM307 136h1v1h-1zM278 138h1v1h-1zM177 146h2v1h-2zM177 204h2v1h-2zM217 155h1v1h-1zM1163 155h3v1h-3zM289 156h1v2h-1zM289 214h1v2h-1zM1130 157h1v1h-1zM1132 160h1v1h-1zM220 164h1v1h-1zM117 173h3v1h-3zM298 173h3v1h-3zM295 177h1v1h-1zM305 177h1v1h-1zM293 182h2v1h-2zM1147 194h3v1h-3zM1152 196h2v1h-2zM1144 202h1v1h-1zM1147 202h1v1h-1zM1164 202h1v1h-1zM282 204h1v1h-1zM357 204h1v1h-1zM357 226h1v1h-1zM345 216h1v2h-1zM86 220h3v1h-3zM100 220h1v1h-1zM299 220h1v2h-1zM316 220h3v1h-3zM303 222h1v2h-1zM312 225h3v1h-3zM340 225h1v1h-1zM335 233h1v2h-1zM335 251h1v1h-1zM217 235h3v1h-3zM84 240h1v1h-1zM88 240h3v1h-3zM105 240h2v1h-2zM302 240h3v1h-3zM175 254h1v1h-1zM217 264h2v1h-2z"/>
<path fill="#23898e" d="M187 0h2v1h-2zM336 0h2v1h-2zM336 102h2v1h-2zM289 10h1v1h-1zM289 73h1v1h-1zM311 12h1v1h-1zM193 15h1v1h-1zM193 197h1v1h-1zM356 17h1v2h-1zM356 56h1v2h-1zM356 71h1v1h-1zM356 129h1v1h-1zM356 142h1v1h-1zM218 37h1v1h-1zM274 62h1v2h-1zM185 66h1v1h-1zM303 68h1v2h-1zM303 186h1v2h-1zM303 212h1v2h-1zM183 74h2v1h-2zM183 284h2v1h-2zM2496 87h1v1h-1zM2496 118h1v1h-1zM305 88h1v2h-1zM1145 88h1v1h-1zM1139 91h1v1h-1zM189 93h1v1h-1zM189 101h1v1h-1zM340 96h1v2h-1zM340 133h1v1h-1zM277 102h4v1h-4zM307 102h1v2h-1zM307 150h1v1h-1zM307 197h1v1h-1zM307 213h1v1h-1zM310 102h1v1h-1zM316 102h2v1h-2zM316 235h2v1h-2zM301 108h2v1h-2zM301 235h2v1h-2zM354 108h2v1h-2zM295 114h1v1h-1zM103 120h3v1h-3zM304 120h3v1h-3zM319 120h3v1h-3zM98 126h2v1h-2zM351 126h1v1h-1zM1137 130h3v1h-3zM1137 134h3v1h-3zM101 132h1v1h-1zM106 132h3v1h-3zM351 132h2v1h-2zM220 141h1v1h-1zM214 146h1v1h-1zM177 151h2v1h-2zM175 154h1v1h-1zM82 155h3v1h-3zM1130 155h6v1h-6zM1161 157h2v1h-2zM298 167h3v1h-3zM298 240h3v1h-3zM293 178h2v2h-2zM1154 202h1v1h-1zM310 204h2v1h-2zM352 207h1v1h-1zM179 209h1v1h-1zM179 239h1v1h-1zM1151 214h2v1h-2zM96 215h2v1h-2zM275 215h3v1h-3zM217 220h1v1h-1zM278 220h3v1h-3zM348 220h1v1h-1zM94 225h2v1h-2zM282 225h1v1h-1zM300 225h1v1h-1zM274 226h3v1h-3zM217 245h3v1h-3zM302 264h2v1h-2zM313 264h1v1h-1z"/>
<path fill="#228b8d" d="M102 12h3v1h-3zM301 12h2v1h-2zM301 132h2v1h-2zM274 14h1v1h-1zM274 138h1v2h-1zM274 204h1v1h-1zM274 237h1v2h-1zM289 15h1v1h-1zM289 193h1v2h-1zM289 206h1v1h-1zM307 18h1v2h-1zM191 67h1v2h-1zM191 250h1v1h-1zM293 67h2v2h-2zM293 144h2v2h-2zM293 157h2v2h-2zM293 201h2v1h-2zM293 206h2v2h-2zM293 223h2v1h-2zM293 226h2v2h-2zM293 276h2v1h-2zM283 69h1v2h-1zM283 171h1v2h-1zM189 71h1v1h-1zM181 84h1v1h-1zM181 188h1v1h-1zM1147 88h1v1h-1zM1160 88h2v1h-2zM179 101h1v1h-1zM101 102h1v1h-1zM1146 108h2v1h-2zM336 120h2v1h-2zM348 120h1v1h-1zM335 121h1v2h-1zM335 138h1v1h-1zM309 126h1v1h-1zM1163 130h3v1h-3zM92 132h2v1h-2zM281 132h1v1h-1zM348 132h2v1h-2zM175 136h1v1h-1zM175 192h1v1h-1zM175 225h1v1h-1zM177 137h2v1h-2zM177 158h2v1h-2zM183 145h2v1h-2zM345 145h1v2h-1zM345 260h1v1h-1zM352 152h1v1h-1zM95 155h1v1h-1zM282 155h2v1h-2zM282 215h2v1h-2zM321 155h1v1h-1zM1135 160h3v1h-3zM1162 160h2v1h-2zM286 161h1v1h-1zM82 167h1v1h-1zM91 167h1v1h-1zM307 167h3v1h-3zM89 173h2v1h-2zM302 173h2v1h-2zM349 173h3v1h-3zM220 178h1v1h-1zM218 182h1v1h-1zM216 183h1v1h-1zM340 188h1v2h-1zM1130 196h2v1h-2zM1134 196h2v1h-2zM85 204h2v1h-2zM278 214h1v1h-1zM299 215h1v1h-1zM304 215h1v1h-1zM335 215h2v1h-2zM102 220h2v1h-2zM305 225h1v2h-1zM83 226h3v1h-3zM310 226h1v1h-1zM315 235h1v1h-1zM354 235h3v1h-3zM212 239h1v1h-1zM334 240h2v1h-2zM119 245h2v1h-2zM185 254h1v1h-1zM356 255h1v1h-1zM282 264h1v1h-1z"/>
<path fill="#218e8d" d="M90 0h1v1h-1zM96 0h3v1h-3zM123 0h1v1h-1zM123 102h1v1h-1zM315 0h3v1h-3zM319 0h2v1h-2zM278 6h3v1h-3zM335 20h1v1h-1zM335 167h1v1h-1zM283 48h1v2h-1zM283 219h1v2h-1zM181 53h1v1h-1zM181 82h1v1h-1zM356 54h1v2h-1zM345 67h1v2h-1zM345 163h1v1h-1zM345 226h1v2h-1zM303 76h1v1h-1zM293 95h2v1h-2zM293 231h2v2h-2zM299 97h1v2h-1zM1134 97h3v1h-3zM282 102h2v1h-2zM308 102h2v1h-2zM353 102h2v1h-2zM352 107h1v2h-1zM352 220h1v1h-1zM107 108h2v1h-2zM107 155h2v1h-2zM107 167h2v1h-2zM189 114h1v1h-1zM274 117h1v2h-1zM274 127h1v2h-1zM274 262h1v1h-1zM106 120h2v1h-2zM334 120h2v1h-2zM179 121h1v1h-1zM179 211h1v1h-1zM289 131h1v1h-1zM289 240h1v2h-1zM307 140h1v2h-1zM307 258h1v1h-1zM301 151h1v1h-1zM94 155h1v1h-1zM94 245h1v1h-1zM1151 155h3v1h-3zM305 158h1v2h-1zM1130 160h2v1h-2zM87 167h2v1h-2zM100 167h2v1h-2zM114 167h2v1h-2zM348 167h2v1h-2zM319 173h3v1h-3zM1138 194h1v1h-1zM1160 196h1v1h-1zM1164 196h2v1h-2zM1135 202h2v1h-2zM351 204h2v1h-2zM1139 214h2v1h-2zM96 225h1v1h-1zM105 226h2v1h-2zM220 226h2v1h-2zM334 226h1v1h-1zM2496 234h1v1h-1zM348 235h3v1h-3zM85 240h3v1h-3zM352 245h2v1h-2zM355 245h1v1h-1zM185 253h1v1h-1z"/>
<path fill="#21918c" d="M94 0h2v1h-2zM281 0h3v1h-3zM183 3h2v1h-2zM183 68h2v1h-2zM321 6h1v1h-1zM320 12h2v1h-2zM320 126h2v1h-2zM655 15h4v1h-4zM655 106h4v1h-4zM303 17h1v2h-1zM303 83h1v2h-1zM303 133h1v2h-1zM303 205h1v1h-1zM352 25h1v2h-1zM299 37h1v2h-1zM299 185h1v1h-1zM299 269h1v1h-1zM214 67h1v1h-1zM185 79h1v1h-1zM185 262h1v1h-1zM218 80h1v1h-1zM212 81h1v1h-1zM283 84h1v1h-1zM283 110h1v2h-1zM283 173h1v1h-1zM283 203h1v2h-1zM283 224h1v2h-1zM283 264h1v1h-1zM356 92h1v2h-1zM356 206h1v1h-1zM356 252h1v1h-1zM193 95h1v1h-1zM193 206h1v1h-1zM193 211h1v1h-1zM653 97h4v1h-4zM646 100h3v1h-3zM177 101h2v1h-2zM345 101h1v1h-1zM219 102h2v1h-2zM349 102h1v1h-1zM289 105h1v1h-1zM88 108h3v1h-3zM316 108h2v1h-2zM82 120h3v1h-3zM280 120h3v1h-3zM307 122h1v2h-1zM307 177h1v1h-1zM307 209h1v2h-1zM655 122h3v1h-3zM335 124h1v2h-1zM657 125h2v1h-2zM300 126h1v1h-1zM334 126h3v1h-3zM655 128h2v1h-2zM655 142h2v1h-2zM646 131h4v1h-4zM123 132h1v1h-1zM217 132h1v1h-1zM187 135h2v1h-2zM187 277h2v1h-2zM191 135h1v1h-1zM191 154h1v1h-1zM191 193h1v1h-1zM210 139h1v1h-1zM651 140h1v1h-1zM2496 145h1v1h-1zM90 155h2v1h-2zM189 156h1v1h-1zM1145 157h3v1h-3zM1153 157h3v1h-3zM1149 160h2v1h-2zM1160 160h2v1h-2zM89 167h2v1h-2zM105 167h2v1h-2zM91 173h3v1h-3zM99 173h3v1h-3zM179 176h1v1h-1zM179 214h1v1h-1zM179 275h1v1h-1zM295 201h1v1h-1zM1161 202h3v1h-3zM121 204h2v1h-2zM304 204h2v1h-2zM337 204h1v1h-1zM353 204h2v1h-2zM309 215h1v1h-1zM301 219h1v2h-1zM301 240h1v1h-1zM82 220h1v1h-1zM101 220h1v1h-1zM653 222h6v1h-6zM90 225h3v1h-3zM277 225h2v2h-2zM125 226h1v1h-1zM83 235h2v1h-2zM310 235h2v1h-2zM650 237h4v1h-4zM92 240h2v1h-2zM305 240h3v1h-3zM293 242h2v2h-2zM293 248h2v1h-2zM650 244h2v1h-2zM642 246h2v1h-2zM106 264h2v1h-2zM316 264h1v1h-1z"/>
<path fill="#20928c" d="M278 0h3v1h-3zM334 0h2v1h-2zM334 102h2v1h-2zM334 204h2v1h-2zM352 1h1v2h-1zM352 162h1v1h-1zM352 264h1v1h-1zM95 6h1v1h-1zM179 6h1v1h-1zM356 7h1v1h-1zM356 152h1v1h-1zM123 12h2v1h-2zM1130 23h3v1h-3zM185 24h1v1h-1zM185 56h1v1h-1zM173 28h2v1h-2zM173 208h2v1h-2zM177 33h2v1h-2zM181 47h1v1h-1zM187 59h2v1h-2zM187 231h2v1h-2zM183 62h2v1h-2zM2496 85h1v1h-1zM193 89h1v1h-1zM218 89h1v1h-1zM274 97h1v2h-1zM105 102h2v1h-2zM91 108h3v1h-3zM117 108h1v1h-1zM337 108h1v1h-1zM189 110h1v1h-1zM189 182h1v1h-1zM212 118h1v1h-1zM86 126h3v1h-3zM103 126h1v1h-1zM304 132h3v1h-3zM340 141h1v2h-1zM340 222h1v2h-1zM1135 144h2v1h-2zM1147 144h2v1h-2zM335 145h1v1h-1zM335 282h1v2h-1zM1132 145h3v1h-3zM1136 157h3v1h-3zM301 172h1v2h-1zM295 193h1v2h-1zM305 193h1v2h-1zM305 213h1v1h-1zM104 204h3v1h-3zM123 204h3v1h-3zM276 220h2v1h-2zM289 223h1v2h-1zM97 225h2v1h-2zM97 226h1v1h-1zM274 235h3v1h-3zM307 235h1v1h-1zM351 235h3v1h-3zM123 245h1v1h-1zM345 255h1v1h-1zM175 267h1v1h-1z"/>
<path fill="#1f958b" d="M87 12h1v1h-1zM217 12h3v1h-3zM299 19h1v2h-1zM299 140h1v2h-1zM299 222h1v1h-1zM299 225h1v1h-1zM299 241h1v2h-1zM286 28h1v2h-1zM286 144h1v2h-1zM356 32h1v1h-1zM283 42h1v1h-1zM283 133h1v2h-1zM283 268h1v1h-1zM307 71h1v2h-1zM1140 88h1v1h-1zM345 94h1v2h-1zM345 119h1v2h-1zM345 130h1v1h-1zM345 155h1v1h-1zM345 252h1v2h-1zM293 107h2v1h-2zM293 121h2v2h-2zM293 126h2v1h-2zM293 233h2v1h-2zM293 240h2v2h-2zM295 109h1v2h-1zM310 120h1v1h-1zM310 215h1v1h-1zM185 123h1v1h-1zM185 138h1v1h-1zM335 132h1v1h-1zM335 183h1v1h-1zM335 227h1v2h-1zM274 135h1v2h-1zM274 221h1v2h-1zM658 152h4v1h-4zM279 155h2v1h-2zM1142 157h2v1h-2zM642 162h3v1h-3zM179 163h1v1h-1zM647 166h4v1h-4zM120 167h5v1h-5zM655 174h5v1h-5zM1163 180h1v1h-1zM652 184h3v1h-3zM187 185h2v1h-2zM654 188h4v1h-4zM655 189h4v1h-4zM305 196h1v1h-1zM305 223h1v2h-1zM1136 196h2v1h-2zM90 204h3v1h-3zM96 204h1v1h-1zM100 204h2v1h-2zM643 204h4v1h-4zM650 210h4v1h-4zM645 211h3v1h-3zM306 215h3v1h-3zM303 220h1v2h-1zM303 282h1v2h-1zM321 220h1v1h-1zM321 264h1v1h-1zM98 226h2v1h-2zM354 226h3v1h-3zM336 240h2v1h-2zM177 244h2v1h-2zM85 245h2v1h-2zM309 245h2v1h-2zM301 261h1v2h-1zM351 264h1v1h-1zM352 268h1v1h-1zM340 280h1v1h-1z"/>
<path fill="#1f978b" d="M98 12h3v1h-3zM1141 23h2v1h-2zM1141 145h2v1h-2zM1147 23h3v1h-3zM1160 23h3v1h-3zM356 41h1v2h-1zM356 224h1v2h-1zM193 51h1v1h-1zM179 59h1v1h-1zM289 81h1v2h-1zM289 129h1v1h-1zM175 99h1v1h-1zM107 102h2v1h-2zM295 104h1v1h-1zM295 198h1v2h-1zM293 105h2v2h-2zM293 184h2v2h-2zM293 255h2v1h-2zM293 281h2v2h-2zM293 285h2v1h-2zM2496 107h1v1h-1zM85 120h3v1h-3zM114 120h2v1h-2zM121 126h1v1h-1zM1154 145h1v1h-1zM274 147h1v2h-1zM335 151h1v2h-1zM307 153h1v2h-1zM307 158h1v2h-1zM307 170h1v1h-1zM307 199h1v1h-1zM307 202h1v1h-1zM99 155h3v1h-3zM104 155h3v1h-3zM123 155h3v1h-3zM1159 157h1v1h-1zM1137 180h3v1h-3zM1150 180h2v1h-2zM207 216h2v2h-2zM104 220h2v1h-2zM334 225h2v1h-2zM283 236h1v2h-1zM93 245h1v1h-1zM299 249h1v2h-1zM223 257h1v1h-1zM278 265h1v1h-1z"/>
<path fill="#1f9a8a" d="M187 1h2v1h-2zM117 12h1v1h-1zM1153 23h2v1h-2zM1153 97h2v1h-2zM299 40h1v1h-1zM299 175h1v2h-1zM299 193h1v2h-1zM299 203h1v2h-1zM191 64h1v1h-1zM189 66h1v1h-1zM189 238h1v1h-1zM301 83h1v1h-1zM301 208h1v2h-1zM217 102h2v1h-2zM348 102h1v1h-1zM295 112h1v1h-1zM295 239h1v1h-1zM108 120h1v1h-1zM298 120h2v1h-2zM105 126h2v1h-2zM105 245h2v1h-2zM286 141h1v1h-1zM286 150h1v2h-1zM293 147h2v3h-2zM345 148h1v1h-1zM345 229h1v1h-1zM345 237h1v2h-1zM193 150h1v1h-1zM1131 157h2v1h-2zM335 163h1v1h-1zM335 170h1v2h-1zM335 226h1v1h-1zM335 267h1v2h-1zM274 164h1v1h-1zM274 167h1v1h-1zM214 165h1v1h-1zM85 173h1v1h-1zM97 204h3v1h-3zM114 204h3v1h-3zM335 220h2v1h-2zM122 225h2v1h-2zM352 225h1v2h-1zM91 235h2v1h-2zM118 235h1v1h-1zM298 245h1v1h-1zM337 245h1v1h-1zM307 249h1v2h-1zM83 264h3v1h-3zM96 264h3v1h-3zM278 276h1v2h-1zM283 279h1v1h-1z"/>
<path fill="#1e9c89" d="M303 0h1v2h-1zM303 196h1v1h-1zM303 237h1v2h-1zM83 12h3v1h-3zM91 12h1v1h-1zM106 12h1v1h-1zM305 12h1v2h-1zM183 20h2v1h-2zM1150 23h3v1h-3zM173 34h2v1h-2zM340 44h1v2h-1zM340 125h1v2h-1zM295 45h1v2h-1zM274 57h1v2h-1zM274 73h1v2h-1zM274 131h1v2h-1zM345 61h1v2h-1zM301 92h1v1h-1zM301 161h1v1h-1zM1150 97h1v1h-1zM306 102h1v1h-1zM299 112h1v1h-1zM299 216h1v1h-1zM177 117h2v1h-2zM177 143h2v1h-2zM100 120h1v1h-1zM118 126h3v1h-3zM307 129h1v2h-1zM307 162h1v2h-1zM307 195h1v2h-1zM84 132h2v1h-2zM88 132h1v1h-1zM1145 145h3v1h-3zM283 149h1v2h-1zM283 216h1v1h-1zM334 155h2v1h-2zM1149 157h2v1h-2zM1163 157h2v1h-2zM193 158h1v1h-1zM356 161h1v2h-1zM356 200h1v2h-1zM175 175h1v1h-1zM1130 180h1v1h-1zM1156 180h3v1h-3zM293 181h2v1h-2zM293 186h2v1h-2zM293 197h2v1h-2zM293 218h2v1h-2zM185 214h1v1h-1zM289 216h1v1h-1zM286 218h1v2h-1zM120 220h2v1h-2zM217 226h2v1h-2zM103 235h1v1h-1zM280 235h2v1h-2zM2496 240h1v1h-1z"/>
<path fill="#1f9f88" d="M1155 23h2v1h-2zM191 40h1v1h-1zM191 213h1v1h-1zM303 42h1v2h-1zM303 55h1v1h-1zM303 124h1v2h-1zM303 168h1v2h-1zM177 64h2v1h-2zM289 70h1v1h-1zM289 162h1v2h-1zM289 189h1v2h-1zM293 70h2v2h-2zM293 79h2v1h-2zM293 101h2v2h-2zM293 209h2v1h-2zM293 213h2v1h-2zM293 246h2v1h-2zM299 87h1v2h-1zM352 94h1v2h-1zM650 97h3v1h-3zM650 128h3v1h-3zM1141 97h3v1h-3zM87 102h1v1h-1zM221 102h1v1h-1zM221 264h1v1h-1zM100 108h2v1h-2zM307 112h1v1h-1zM88 120h2v1h-2zM642 125h2v1h-2zM82 126h1v1h-1zM283 126h1v1h-1zM98 132h2v1h-2zM648 135h4v1h-4zM657 137h4v1h-4zM2496 140h1v1h-1zM1149 145h1v1h-1zM220 155h2v1h-2zM1139 157h3v1h-3zM115 173h2v1h-2zM340 182h1v1h-1zM305 184h1v1h-1zM301 210h1v1h-1zM301 245h1v1h-1zM85 215h1v1h-1zM88 215h1v1h-1zM181 220h1v1h-1zM175 221h1v1h-1zM219 225h1v1h-1zM89 235h2v1h-2zM114 235h1v1h-1zM277 235h1v1h-1zM650 239h2v1h-2zM217 240h1v1h-1zM657 255h3v1h-3zM278 260h1v2h-1zM120 264h2v1h-2zM183 266h2v1h-2zM642 266h3v1h-3zM655 278h4v1h-4z"/>
<path fill="#1fa188" d="M293 20h2v1h-2zM293 55h2v1h-2zM293 77h2v1h-2zM293 83h2v2h-2zM293 93h2v1h-2zM293 100h2v1h-2zM293 138h2v2h-2zM293 196h2v1h-2zM1164 23h3v1h-3zM305 47h1v1h-1zM305 220h1v2h-1zM299 58h1v2h-1zM299 68h1v2h-1zM299 180h1v2h-1zM274 79h1v2h-1zM274 193h1v2h-1zM274 240h1v1h-1zM221 126h1v1h-1zM86 132h2v1h-2zM336 132h2v1h-2zM216 141h1v1h-1zM1153 145h1v1h-1zM1160 145h2v1h-2zM289 146h1v2h-1zM289 169h1v2h-1zM289 182h1v1h-1zM307 152h1v1h-1zM307 172h1v2h-1zM307 188h1v1h-1zM88 155h2v1h-2zM301 160h1v1h-1zM301 197h1v1h-1zM301 283h1v1h-1zM1159 160h1v1h-1zM295 162h1v1h-1zM295 164h1v2h-1zM295 191h1v1h-1zM303 170h1v2h-1zM303 229h1v2h-1zM220 173h1v1h-1zM220 225h1v1h-1zM283 179h1v2h-1zM278 196h1v2h-1zM82 204h1v1h-1zM286 222h1v2h-1zM345 224h1v1h-1zM124 225h2v1h-2zM120 226h2v1h-2zM108 235h1v1h-1zM117 245h2v1h-2zM121 245h1v1h-1zM356 279h1v2h-1z"/>
<path fill="#20a386" d="M107 12h2v1h-2zM295 59h1v2h-1zM295 264h1v2h-1zM303 59h1v2h-1zM303 89h1v2h-1zM303 126h1v1h-1zM303 276h1v1h-1zM274 77h1v1h-1zM274 152h1v1h-1zM1139 97h2v1h-2zM1161 97h2v1h-2zM278 105h1v1h-1zM124 108h1v1h-1zM173 111h2v1h-2zM177 120h2v1h-2zM283 122h1v1h-1zM283 280h1v2h-1zM95 126h1v1h-1zM1136 145h2v1h-2zM1156 145h3v1h-3zM1162 145h3v1h-3zM1148 157h1v1h-1zM1151 157h1v1h-1zM299 162h1v2h-1zM299 177h1v2h-1zM123 173h3v1h-3zM293 173h2v2h-2zM293 210h2v2h-2zM175 178h1v1h-1zM1141 180h1v1h-1zM1162 180h1v1h-1zM305 186h1v1h-1zM117 204h3v1h-3zM117 264h3v1h-3zM103 215h3v1h-3zM114 220h5v1h-5zM301 233h1v2h-1zM115 235h3v1h-3zM121 235h5v1h-5zM356 237h1v2h-1zM97 245h3v1h-3zM335 257h1v1h-1zM125 264h1v1h-1z"/>
<path fill="#21a685" d="M356 2h1v2h-1zM356 108h1v2h-1zM117 6h2v1h-2zM1133 23h3v1h-3zM1137 23h2v1h-2zM278 29h1v1h-1zM278 56h1v1h-1zM278 108h1v1h-1zM299 29h1v2h-1zM299 144h1v1h-1zM299 166h1v1h-1zM293 32h2v2h-2zM293 46h2v2h-2zM293 165h2v2h-2zM293 278h2v2h-2zM289 95h1v2h-1zM181 105h1v1h-1zM173 108h2v1h-2zM173 242h2v1h-2zM116 120h3v1h-3zM114 132h2v1h-2zM307 133h1v1h-1zM1139 145h1v1h-1zM1133 157h1v1h-1zM274 162h1v1h-1zM345 171h1v1h-1zM1132 180h1v1h-1zM1164 180h1v1h-1zM303 192h1v1h-1zM303 273h1v1h-1zM295 205h1v2h-1zM295 281h1v1h-1zM336 226h2v1h-2zM103 245h1v1h-1zM120 263h1v1h-1z"/>
<path fill="#22a884" d="M125 6h1v1h-1zM125 12h1v1h-1zM299 7h1v2h-1zM299 70h1v1h-1zM299 109h1v1h-1zM305 15h1v1h-1zM305 86h1v2h-1zM305 129h1v2h-1zM356 26h1v2h-1zM356 282h1v1h-1zM301 53h1v2h-1zM301 206h1v2h-1zM191 77h1v1h-1zM345 91h1v1h-1zM1130 97h1v1h-1zM1130 145h1v1h-1zM1157 97h1v1h-1zM289 104h1v1h-1zM289 174h1v2h-1zM289 201h1v2h-1zM283 123h1v1h-1zM283 200h1v2h-1zM293 132h2v2h-2zM293 220h2v2h-2zM303 142h1v2h-1zM278 146h1v1h-1zM175 155h1v1h-1zM1134 157h1v1h-1zM274 160h1v2h-1zM274 177h1v1h-1zM295 161h1v1h-1zM295 251h1v1h-1zM660 164h2v1h-2zM649 176h3v1h-3zM654 179h5v1h-5zM1154 180h2v1h-2zM653 194h5v1h-5zM659 199h3v1h-3zM647 200h4v1h-4zM210 201h1v1h-1zM642 206h5v1h-5zM658 210h4v1h-4zM207 219h2v1h-2zM119 220h1v1h-1zM123 240h3v1h-3zM212 261h1v1h-1zM114 264h1v1h-1z"/>
<path fill="#25ab82" d="M119 0h1v1h-1zM1158 23h1v1h-1zM303 33h1v2h-1zM303 95h1v2h-1zM303 107h1v2h-1zM303 191h1v1h-1zM210 65h1v1h-1zM1155 97h2v1h-2zM301 102h1v1h-1zM293 103h2v2h-2zM293 123h2v1h-2zM293 150h2v2h-2zM118 108h3v1h-3zM175 137h1v1h-1zM295 153h1v2h-1zM295 187h1v2h-1zM356 174h1v2h-1zM286 195h1v2h-1zM183 202h2v1h-2zM283 244h1v2h-1z"/>
<path fill="#26ad81" d="M179 4h1v1h-1zM219 6h1v1h-1zM219 215h1v1h-1zM105 12h1v1h-1zM655 18h3v1h-3zM655 131h3v1h-3zM289 26h1v1h-1zM345 42h1v2h-1zM193 43h1v1h-1zM299 43h1v2h-1zM299 184h1v1h-1zM646 43h3v1h-3zM301 55h1v1h-1zM301 134h1v2h-1zM301 163h1v1h-1zM650 67h3v1h-3zM650 260h3v1h-3zM305 72h1v1h-1zM305 146h1v2h-1zM305 255h1v1h-1zM303 77h1v1h-1zM303 141h1v1h-1zM283 88h1v2h-1zM648 94h3v1h-3zM648 140h3v1h-3zM648 96h4v1h-4zM659 107h1v1h-1zM653 108h4v1h-4zM653 233h4v1h-4zM187 113h2v1h-2zM646 115h2v1h-2zM642 117h3v1h-3zM210 123h1v1h-1zM89 126h3v1h-3zM89 220h3v1h-3zM653 142h2v1h-2zM92 155h2v1h-2zM293 161h2v1h-2zM293 229h2v1h-2zM293 257h2v1h-2zM1147 180h2v1h-2zM286 209h1v1h-1zM286 211h1v2h-1zM121 215h1v1h-1zM119 225h3v1h-3zM116 245h1v1h-1zM274 260h1v1h-1z"/>
<path fill="#29af7f" d="M278 2h1v2h-1zM278 163h1v2h-1zM93 6h1v1h-1zM82 12h1v1h-1zM115 12h2v1h-2zM274 32h1v2h-1zM305 66h1v1h-1zM305 113h1v2h-1zM303 81h1v2h-1zM303 160h1v2h-1zM303 207h1v2h-1zM293 85h2v1h-2zM293 120h2v1h-2zM295 157h1v2h-1zM210 171h1v1h-1zM210 243h1v2h-1zM210 278h1v1h-1zM114 225h2v1h-2zM289 225h1v2h-1zM289 266h1v2h-1zM283 251h1v1h-1z"/>
<path fill="#2cb17e" d="M1139 23h2v1h-2zM293 86h2v1h-2zM293 164h2v1h-2zM293 192h2v1h-2zM1151 97h1v1h-1zM207 103h2v2h-2zM207 203h2v1h-2zM335 113h1v2h-1zM115 126h2v1h-2zM345 131h1v2h-1zM305 150h1v1h-1zM305 269h1v1h-1zM116 167h2v1h-2zM283 181h1v1h-1zM303 189h1v2h-1zM274 190h1v1h-1zM177 240h2v1h-2zM123 264h2v1h-2z"/>
<path fill="#2fb47c" d="M295 5h1v2h-1zM295 221h1v2h-1zM301 47h1v2h-1zM299 50h1v1h-1zM299 66h1v2h-1zM299 207h1v1h-1zM283 106h1v2h-1zM274 107h1v2h-1zM274 264h1v1h-1zM303 145h1v1h-1zM303 201h1v2h-1zM303 271h1v2h-1zM286 162h1v2h-1zM278 169h1v2h-1zM210 212h1v1h-1zM210 235h1v2h-1zM305 215h1v2h-1z"/>
<path fill="#32b67a" d="M303 39h1v2h-1zM303 132h1v1h-1zM303 166h1v1h-1zM180 59h2v1h-2zM180 222h2v2h-2zM283 60h1v1h-1zM305 71h1v1h-1zM305 165h1v2h-1zM305 251h1v2h-1zM307 79h1v1h-1zM210 89h1v2h-1zM299 95h1v2h-1zM299 164h1v1h-1zM299 195h1v1h-1zM1158 97h3v1h-3zM100 132h1v1h-1zM345 166h1v2h-1zM286 179h1v2h-1zM274 198h1v1h-1zM274 253h1v2h-1zM274 284h1v2h-1z"/>
<path fill="#37b878" d="M293 8h2v2h-2zM293 81h2v2h-2zM293 111h2v2h-2zM299 15h1v1h-1zM289 24h1v2h-1zM289 250h1v1h-1zM303 99h1v2h-1zM189 138h1v1h-1zM307 147h1v1h-1zM274 201h1v2h-1zM210 213h1v2h-1zM295 270h1v2h-1z"/>
<path fill="#3bbb75" d="M283 9h1v1h-1zM35 87h1v1h-1zM35 131h1v2h-1zM295 124h1v1h-1zM295 138h1v1h-1zM210 142h1v1h-1zM210 233h1v2h-1zM293 180h2v1h-2zM293 238h2v1h-2zM303 182h1v2h-1zM307 193h1v2h-1zM289 200h1v1h-1zM207 227h2v1h-2zM301 259h1v1h-1z"/>
<path fill="#3fbc73" d="M289 1h1v1h-1zM289 136h1v2h-1zM274 11h1v1h-1zM274 24h1v2h-1zM1138 97h1v1h-1zM293 108h2v1h-2zM293 160h2v1h-2zM210 110h1v1h-1zM278 128h1v1h-1zM345 133h1v2h-1zM207 155h2v1h-2zM207 170h2v1h-2zM120 203h1v1h-1zM35 284h1v1h-1zM295 285h1v1h-1z"/>
<path fill="#44bf70" d="M210 1h1v2h-1zM210 136h1v2h-1zM210 229h1v2h-1zM120 65h1v2h-1zM283 94h1v1h-1zM283 115h1v1h-1zM283 226h1v2h-1zM283 255h1v1h-1zM180 125h1v1h-1zM180 126h2v1h-2zM299 155h1v2h-1zM299 234h1v2h-1zM299 244h1v2h-1zM125 167h1v1h-1zM207 188h2v1h-2zM289 213h1v1h-1zM293 217h2v1h-2z"/>
<path fill="#48c16e" d="M303 29h1v2h-1zM223 111h1v2h-1zM223 141h1v2h-1zM299 114h1v3h-1zM278 116h1v1h-1zM207 125h2v2h-2zM274 146h1v1h-1zM293 154h2v2h-2zM180 166h2v1h-2zM289 184h1v1h-1zM289 210h1v2h-1zM289 277h1v1h-1zM189 239h1v1h-1zM120 247h1v2h-1zM295 248h1v2h-1z"/>
<path fill="#4ec36b" d="M289 20h1v1h-1zM207 96h2v2h-2zM210 130h1v2h-1zM210 166h1v2h-1zM210 180h1v1h-1zM295 151h1v1h-1zM303 198h1v2h-1zM303 263h1v1h-1z"/>
<path fill="#52c569" d="M301 41h1v2h-1zM301 119h1v2h-1zM283 51h1v2h-1zM180 122h2v2h-2zM180 153h2v2h-2zM207 149h2v1h-2zM207 165h2v1h-2zM207 183h2v2h-2zM207 196h2v1h-2zM207 212h2v2h-2zM210 226h1v1h-1zM210 250h1v1h-1zM299 248h1v1h-1z"/>
<path fill="#58c765" d="M120 20h1v1h-1zM120 163h1v2h-1zM120 197h1v1h-1zM301 130h1v2h-1zM303 138h1v2h-1zM283 176h1v1h-1zM299 191h1v2h-1zM207 211h2v1h-2z"/>
<path fill="#5ec962" d="M35 3h1v1h-1zM120 16h1v2h-1zM207 53h2v1h-2zM274 91h1v1h-1zM274 115h1v1h-1zM223 157h1v2h-1zM283 191h1v2h-1zM283 275h1v2h-1z"/>
<path fill="#63cb5f" d="M180 38h2v1h-2zM293 78h2v1h-2zM293 171h2v2h-2zM293 203h2v1h-2zM210 134h1v2h-1zM210 155h1v2h-1zM210 219h1v2h-1zM305 167h1v2h-1zM35 231h1v1h-1zM120 250h1v1h-1zM120 269h1v1h-1z"/>
<path fill="#69cd5b" d="M207 12h2v1h-2zM207 44h2v1h-2zM207 245h2v2h-2zM295 30h1v2h-1zM295 179h1v1h-1zM35 49h1v1h-1zM35 60h1v1h-1zM35 213h1v1h-1zM286 75h1v2h-1zM305 96h1v2h-1zM189 112h1v1h-1zM283 135h1v2h-1zM180 197h2v2h-2zM180 205h2v1h-2zM120 214h1v2h-1zM120 274h1v2h-1zM223 285h1v1h-1z"/>
<path fill="#6ece58" d="M207 13h2v2h-2zM295 16h1v1h-1zM35 46h1v2h-1zM35 50h1v2h-1zM35 63h1v2h-1zM35 238h1v2h-1zM303 149h1v2h-1zM223 169h1v1h-1zM223 179h1v1h-1zM210 188h1v2h-1zM210 199h1v1h-1zM301 229h1v1h-1zM274 231h1v2h-1zM120 239h1v1h-1zM120 276h1v1h-1z"/>
<path fill="#75d054" d="M120 3h1v1h-1zM120 224h1v1h-1zM35 19h1v1h-1zM35 68h1v3h-1zM35 91h1v2h-1zM35 127h1v1h-1zM180 133h2v1h-2zM207 181h2v2h-2zM210 184h1v2h-1zM274 249h1v2h-1z"/>
<path fill="#7ad151" d="M223 31h1v2h-1zM223 140h1v1h-1zM120 62h1v2h-1zM299 103h1v2h-1zM207 136h2v1h-2zM207 162h2v2h-2zM207 171h2v1h-2zM207 220h2v1h-2zM210 150h1v2h-1zM210 157h1v1h-1zM210 186h1v1h-1zM180 175h2v1h-2zM305 175h1v1h-1zM305 201h1v1h-1zM35 181h1v1h-1zM35 216h1v1h-1zM189 210h1v2h-1z"/>
<path fill="#81d34d" d="M207 70h2v1h-2zM207 195h2v1h-2zM180 97h2v2h-2zM180 161h2v1h-2zM180 167h2v2h-2zM283 117h1v2h-1zM210 152h1v1h-1zM210 174h1v2h-1zM210 202h1v2h-1zM120 158h1v2h-1zM120 200h1v1h-1zM120 222h1v1h-1zM35 178h1v2h-1zM189 216h1v1h-1z"/>
<path fill="#86d549" d="M120 5h1v2h-1zM120 28h1v1h-1zM120 30h1v2h-1zM120 54h1v2h-1zM120 283h1v2h-1zM35 26h1v2h-1zM35 259h1v2h-1zM35 279h1v1h-1zM289 43h1v2h-1zM223 138h1v1h-1zM223 208h1v2h-1zM207 146h2v1h-2zM207 198h2v1h-2zM305 179h1v1h-1zM303 180h1v2h-1zM189 184h1v2h-1zM189 191h1v1h-1zM189 247h1v2h-1zM189 278h1v1h-1zM286 189h1v1h-1zM210 196h1v2h-1z"/>
<path fill="#8ed645" d="M207 0h2v1h-2zM207 10h2v1h-2zM207 159h2v2h-2zM207 215h2v1h-2zM301 15h1v2h-1zM120 18h1v1h-1zM35 29h1v1h-1zM35 129h1v2h-1zM35 200h1v1h-1zM35 218h1v2h-1zM35 281h1v2h-1zM223 52h1v1h-1zM223 206h1v2h-1zM180 115h2v1h-2zM180 209h2v2h-2zM210 115h1v2h-1z"/>
<path fill="#95d840" d="M286 69h1v1h-1zM286 191h1v1h-1zM35 82h1v2h-1zM35 144h1v1h-1zM35 166h1v1h-1zM35 255h1v2h-1zM180 116h2v2h-2zM180 221h2v1h-2zM180 255h2v1h-2zM180 285h2v1h-2zM207 140h2v3h-2zM210 140h1v1h-1zM189 163h1v1h-1zM189 204h1v2h-1zM180 220h1v1h-1zM180 256h1v1h-1z"/>
<path fill="#9bd93c" d="M189 41h1v2h-1zM189 139h1v1h-1zM36 48h1v3h-1zM120 94h1v1h-1zM120 145h1v2h-1zM303 97h1v1h-1zM303 251h1v1h-1zM210 111h1v1h-1zM223 118h1v1h-1zM223 228h1v1h-1zM35 133h1v1h-1zM35 217h1v1h-1zM180 159h2v2h-2zM180 176h2v2h-2zM207 176h2v2h-2zM207 189h2v2h-2zM207 232h2v2h-2z"/>
<path fill="#a2da37" d="M207 3h2v2h-2zM207 55h2v1h-2zM35 5h1v2h-1zM35 88h1v2h-1zM35 113h1v2h-1zM35 116h1v2h-1zM35 123h1v2h-1zM35 236h1v2h-1zM189 28h1v1h-1zM189 94h1v2h-1zM189 179h1v1h-1zM120 51h1v1h-1zM120 78h1v2h-1zM122 88h1v1h-1zM286 96h1v2h-1zM180 103h2v2h-2zM180 127h2v2h-2zM180 201h2v1h-2zM180 245h2v1h-2zM303 113h1v2h-1zM283 163h1v1h-1zM293 191h2v1h-2zM210 192h1v2h-1zM295 257h1v1h-1zM34 274h1v1h-1z"/>
<path fill="#a8db34" d="M35 36h1v1h-1zM35 52h1v1h-1zM35 58h1v1h-1zM35 94h1v1h-1zM35 277h1v2h-1zM35 280h1v1h-1zM207 65h2v2h-2zM210 113h1v2h-1zM210 126h1v1h-1zM210 223h1v2h-1zM189 117h1v2h-1zM189 122h1v1h-1zM189 146h1v2h-1zM189 183h1v1h-1zM189 195h1v2h-1zM120 204h1v2h-1zM120 257h1v2h-1zM223 204h1v1h-1zM180 214h2v1h-2zM180 248h2v1h-2zM307 228h1v2h-1zM36 272h1v3h-1zM303 278h1v2h-1z"/>
<path fill="#b0dd2f" d="M122 31h1v1h-1zM122 65h1v1h-1zM35 43h1v1h-1zM35 139h1v1h-1zM35 159h1v2h-1zM35 229h1v2h-1zM35 262h1v2h-1zM120 53h1v1h-1zM120 141h1v2h-1zM120 266h1v1h-1zM180 53h1v1h-1zM180 54h2v1h-2zM223 57h1v2h-1zM207 131h2v2h-2zM207 135h2v1h-2zM189 133h1v1h-1zM189 168h1v2h-1zM303 164h1v1h-1zM34 175h1v2h-1zM39 271h1v1h-1zM46 284h1v1h-1z"/>
<path fill="#b5de2b" d="M34 14h1v2h-1zM34 94h1v3h-1zM34 134h1v1h-1zM34 219h1v1h-1zM39 54h1v1h-1zM207 133h2v2h-2zM46 140h1v1h-1zM46 169h1v1h-1zM180 146h2v2h-2zM180 193h2v2h-2zM223 185h1v2h-1zM223 193h1v2h-1zM223 203h1v1h-1zM189 215h1v1h-1zM122 241h1v1h-1z"/>
<path fill="#bddf26" d="M34 41h1v3h-1zM34 122h1v2h-1zM34 144h1v1h-1zM34 151h1v2h-1zM34 223h1v3h-1zM34 278h1v2h-1zM223 56h1v1h-1zM223 122h1v1h-1zM223 160h1v1h-1zM223 181h1v1h-1zM122 92h1v2h-1zM122 153h1v2h-1zM122 271h1v1h-1zM46 94h1v1h-1zM46 270h1v1h-1zM180 111h2v2h-2zM180 157h2v1h-2zM180 224h2v1h-2zM180 237h2v1h-2zM207 137h2v1h-2zM189 154h1v1h-1zM189 212h1v1h-1zM7 159h1v3h-1zM35 192h1v2h-1zM293 247h2v1h-2z"/>
<path fill="#c2df23" d="M122 11h1v2h-1zM122 126h1v2h-1zM122 148h1v2h-1zM122 192h1v2h-1zM34 21h1v2h-1zM34 109h1v2h-1zM34 126h1v1h-1zM34 149h1v1h-1zM34 171h1v1h-1zM35 45h1v1h-1zM35 125h1v1h-1zM35 221h1v1h-1zM35 271h1v2h-1zM39 46h1v1h-1zM46 61h1v1h-1zM46 132h1v1h-1zM36 63h1v2h-1zM180 124h2v1h-2zM180 173h2v2h-2zM180 185h2v2h-2zM180 200h2v1h-2zM180 206h2v2h-2zM180 226h2v2h-2zM180 244h2v1h-2zM180 249h2v1h-2zM189 131h1v2h-1zM189 144h1v1h-1zM7 154h1v2h-1zM7 213h1v3h-1zM7 222h1v1h-1zM7 263h1v2h-1zM223 182h1v2h-1z"/>
<path fill="#cae11f" d="M122 9h1v1h-1zM122 38h1v2h-1zM122 57h1v1h-1zM122 129h1v1h-1zM122 135h1v2h-1zM122 220h1v1h-1zM122 236h1v1h-1zM39 11h1v1h-1zM39 18h1v1h-1zM39 35h1v1h-1zM39 167h1v1h-1zM39 250h1v1h-1zM36 18h1v1h-1zM36 24h1v1h-1zM36 144h1v3h-1zM36 161h1v3h-1zM36 165h1v1h-1zM36 228h1v1h-1zM7 56h1v1h-1zM7 80h1v1h-1zM7 165h1v3h-1zM7 185h1v2h-1zM7 243h1v1h-1zM46 101h1v1h-1zM46 189h1v1h-1zM180 141h2v2h-2zM180 151h2v1h-2zM189 142h1v1h-1zM34 162h1v2h-1zM34 218h1v1h-1zM34 244h1v1h-1zM34 247h1v2h-1zM223 171h1v2h-1zM207 204h2v1h-2zM35 223h1v1h-1zM34 243h2v1h-2z"/>
<path fill="#d2e21b" d="M46 2h1v1h-1zM46 70h1v1h-1zM46 100h1v1h-1zM46 130h1v1h-1zM46 241h1v1h-1zM34 8h1v3h-1zM34 66h1v3h-1zM34 192h1v1h-1zM34 213h1v1h-1zM36 9h1v3h-1zM36 76h1v3h-1zM36 86h1v2h-1zM36 125h1v3h-1zM36 236h1v2h-1zM39 90h1v1h-1zM39 139h1v1h-1zM39 158h1v1h-1zM189 91h1v2h-1zM122 101h1v2h-1zM122 115h1v1h-1zM122 160h1v1h-1zM122 181h1v2h-1zM122 194h1v1h-1zM122 207h1v2h-1zM210 133h1v1h-1zM207 150h2v2h-2zM207 167h2v2h-2zM223 152h1v2h-1zM180 172h2v1h-2zM7 189h1v3h-1zM7 204h1v3h-1zM180 196h1v1h-1z"/>
<path fill="#d8e219" d="M122 6h1v2h-1zM122 78h1v1h-1zM122 116h1v2h-1zM122 128h1v1h-1zM122 206h1v1h-1zM122 212h1v2h-1zM122 226h1v1h-1zM35 7h1v2h-1zM36 12h1v1h-1zM36 180h1v3h-1zM34 27h1v3h-1zM34 211h1v2h-1zM34 257h1v2h-1zM39 29h1v1h-1zM39 34h1v1h-1zM39 66h1v1h-1zM39 72h1v1h-1zM39 246h1v1h-1zM189 102h1v2h-1zM189 161h1v2h-1zM189 267h1v1h-1zM120 109h1v2h-1zM46 113h1v1h-1zM46 125h1v1h-1zM180 215h2v2h-2zM7 221h1v1h-1z"/>
<path fill="#dfe318" d="M122 0h1v1h-1zM122 34h1v2h-1zM122 77h1v1h-1zM122 144h1v2h-1zM122 186h1v2h-1zM122 214h1v1h-1zM34 7h1v1h-1zM34 44h1v2h-1zM34 81h1v1h-1zM34 101h1v1h-1zM34 128h1v3h-1zM34 172h1v1h-1zM34 191h1v1h-1zM34 202h1v1h-1zM34 206h1v3h-1zM34 220h1v1h-1zM34 237h1v2h-1zM34 252h1v1h-1zM39 24h1v1h-1zM39 44h1v1h-1zM7 29h1v1h-1zM7 103h1v1h-1zM7 131h1v3h-1zM7 180h1v3h-1zM7 245h1v3h-1zM46 43h1v1h-1zM46 60h1v1h-1zM46 134h1v1h-1zM46 254h1v1h-1zM36 72h1v2h-1zM36 105h1v3h-1zM36 111h1v3h-1zM36 190h1v3h-1zM36 258h1v2h-1zM189 109h1v1h-1zM189 224h1v1h-1zM207 138h2v1h-2zM207 164h2v1h-2zM207 179h2v2h-2z"/>
<path fill="#e5e419" d="M39 22h1v1h-1zM39 43h1v1h-1zM39 93h1v1h-1zM39 114h1v1h-1zM39 118h1v1h-1zM36 43h1v3h-1zM36 140h1v1h-1zM36 248h1v2h-1zM46 44h1v1h-1zM46 76h1v1h-1zM46 84h1v1h-1zM46 234h1v1h-1zM223 48h1v1h-1zM223 129h1v2h-1zM223 236h1v2h-1zM34 51h1v1h-1zM34 64h1v2h-1zM34 88h1v1h-1zM34 117h1v2h-1zM34 159h1v3h-1zM34 184h1v3h-1zM34 215h1v2h-1zM34 283h1v2h-1zM122 98h1v3h-1zM122 110h1v1h-1zM122 157h1v1h-1zM122 163h1v2h-1zM122 239h1v2h-1zM122 259h1v1h-1zM122 267h1v1h-1zM7 104h1v1h-1zM7 142h1v3h-1zM7 163h1v1h-1zM7 168h1v1h-1zM7 193h1v3h-1zM7 240h1v3h-1zM189 135h1v1h-1zM189 157h1v1h-1zM189 189h1v1h-1zM180 143h2v2h-2zM180 189h2v2h-2zM180 218h2v2h-2zM180 274h2v2h-2zM207 148h2v1h-2zM207 199h2v2h-2z"/>
<path fill="#ece51b" d="M122 8h1v1h-1zM122 18h1v1h-1zM122 44h1v1h-1zM122 75h1v2h-1zM122 95h1v1h-1zM122 105h1v1h-1zM122 132h1v2h-1zM122 222h1v1h-1zM122 251h1v2h-1zM122 283h1v1h-1zM36 15h1v2h-1zM36 82h1v1h-1zM36 104h1v1h-1zM36 185h1v1h-1zM36 240h1v5h-1zM36 256h1v2h-1zM34 32h1v5h-1zM34 52h1v2h-1zM34 59h1v3h-1zM34 119h1v1h-1zM34 137h1v1h-1zM34 197h1v2h-1zM34 210h1v1h-1zM46 38h1v1h-1zM46 210h1v1h-1zM39 58h1v1h-1zM39 99h1v1h-1zM39 153h1v1h-1zM223 62h1v1h-1zM223 120h1v1h-1zM223 177h1v2h-1zM180 71h2v2h-2zM180 191h2v1h-2zM180 271h2v2h-2zM35 108h1v2h-1zM7 124h1v1h-1zM7 151h1v1h-1zM7 200h1v1h-1zM7 210h1v2h-1zM7 230h1v2h-1zM189 173h1v1h-1zM189 221h1v2h-1zM189 226h1v2h-1z"/>
<path fill="#f1e51d" d="M223 0h1v1h-1zM223 6h1v1h-1zM223 12h1v1h-1zM223 102h1v1h-1zM223 108h1v1h-1zM223 123h1v2h-1zM223 126h1v1h-1zM223 132h1v1h-1zM223 167h1v1h-1zM223 173h1v1h-1zM223 188h1v2h-1zM223 215h1v1h-1zM223 220h1v1h-1zM223 225h1v2h-1zM223 235h1v1h-1zM223 240h1v1h-1zM223 245h1v1h-1zM223 264h1v1h-1zM223 275h1v2h-1zM34 13h1v1h-1zM34 69h1v3h-1zM34 80h1v1h-1zM34 99h1v1h-1zM34 131h1v1h-1zM34 153h1v1h-1zM34 165h1v3h-1zM34 251h1v1h-1zM34 277h1v1h-1zM207 47h2v1h-2zM207 117h2v1h-2zM46 66h1v1h-1zM46 90h1v1h-1zM46 202h1v1h-1zM46 212h1v1h-1zM36 100h1v2h-1zM36 138h1v2h-1zM36 174h1v1h-1zM36 176h1v1h-1zM36 206h1v3h-1zM36 216h1v3h-1zM36 225h1v3h-1zM36 253h1v3h-1zM39 107h1v1h-1zM39 284h1v1h-1zM122 108h1v1h-1zM122 120h1v2h-1zM122 140h1v2h-1zM122 155h1v2h-1zM122 173h1v1h-1zM122 215h1v1h-1zM122 260h1v1h-1zM189 125h1v1h-1zM189 199h1v1h-1zM180 134h2v1h-2zM7 158h1v1h-1zM180 188h1v1h-1z"/>
<path fill="#f8e621" d="M36 5h1v2h-1zM36 35h1v2h-1zM36 67h1v2h-1zM36 94h1v3h-1zM36 108h1v3h-1zM36 114h1v3h-1zM36 156h1v1h-1zM36 222h1v1h-1zM36 230h1v2h-1zM36 275h1v3h-1zM46 23h1v1h-1zM46 53h1v1h-1zM46 77h1v1h-1zM46 174h1v1h-1zM180 25h1v1h-1zM180 181h1v1h-1zM34 40h1v1h-1zM34 90h1v3h-1zM34 102h1v3h-1zM34 148h1v1h-1zM34 187h1v3h-1zM34 229h1v1h-1zM34 254h1v3h-1zM34 260h1v1h-1zM34 265h1v3h-1zM34 285h1v1h-1zM7 61h1v1h-1zM7 137h1v1h-1zM7 256h1v3h-1zM7 262h1v1h-1zM122 89h1v1h-1zM122 94h1v1h-1zM122 242h1v2h-1zM189 129h1v1h-1zM39 135h1v1h-1zM180 180h2v1h-2z"/>
<path fill="#fde725" d="M34 0h1v3h-1zM34 11h1v2h-1zM34 16h1v4h-1zM34 23h1v3h-1zM34 30h1v1h-1zM34 37h1v3h-1zM34 49h1v1h-1zM34 54h1v3h-1zM34 62h1v2h-1zM34 77h1v3h-1zM34 83h1v3h-1zM34 105h1v3h-1zM34 111h1v2h-1zM34 139h1v4h-1zM34 145h1v3h-1zM34 154h1v3h-1zM34 178h1v3h-1zM34 194h1v3h-1zM34 214h1v1h-1zM34 221h1v1h-1zM34 232h1v1h-1zM34 234h1v3h-1zM34 245h1v2h-1zM34 261h1v3h-1zM34 268h1v3h-1zM110 0h4v1h-4zM110 6h4v1h-4zM110 12h4v1h-4zM110 102h4v1h-4zM110 108h4v1h-4zM110 120h4v1h-4zM110 126h4v1h-4zM110 132h4v1h-4zM110 155h4v1h-4zM110 167h4v1h-4zM110 173h4v1h-4zM110 204h4v1h-4zM110 215h4v1h-4zM110 220h4v1h-4zM110 225h4v2h-4zM110 235h4v1h-4zM110 240h4v1h-4zM110 245h4v1h-4zM110 264h4v1h-4zM207 6h2v1h-2zM207 114h2v2h-2zM207 128h2v3h-2zM207 144h2v2h-2zM207 166h2v1h-2zM207 202h2v1h-2zM39 19h1v1h-1zM39 23h1v1h-1zM39 74h1v1h-1zM39 261h1v1h-1zM39 280h1v1h-1zM36 21h1v3h-1zM36 26h1v1h-1zM36 28h1v3h-1zM36 39h1v3h-1zM36 51h1v3h-1zM36 59h1v2h-1zM36 66h1v1h-1zM36 79h1v3h-1zM36 117h1v4h-1zM36 129h1v2h-1zM36 133h1v1h-1zM36 151h1v4h-1zM36 157h1v3h-1zM36 169h1v2h-1zM36 183h1v2h-1zM36 186h1v2h-1zM36 189h1v1h-1zM36 198h1v2h-1zM36 201h1v4h-1zM36 209h1v3h-1zM36 219h1v1h-1zM36 223h1v1h-1zM36 234h1v2h-1zM36 238h1v2h-1zM36 252h1v1h-1zM36 267h1v2h-1zM36 278h1v5h-1zM36 285h1v1h-1zM122 28h1v1h-1zM122 48h1v1h-1zM122 61h1v1h-1zM122 82h1v2h-1zM122 90h1v2h-1zM122 113h1v1h-1zM122 124h1v2h-1zM122 147h1v1h-1zM122 175h1v2h-1zM122 228h1v2h-1zM122 233h1v2h-1zM122 245h1v1h-1zM122 250h1v1h-1zM122 264h1v2h-1zM189 34h1v2h-1zM189 90h1v1h-1zM189 100h1v1h-1zM189 123h1v2h-1zM189 148h1v1h-1zM189 155h1v1h-1zM189 170h1v2h-1zM189 187h1v2h-1zM189 197h1v2h-1zM189 265h1v1h-1zM7 42h1v3h-1zM7 112h1v3h-1zM7 156h1v2h-1zM7 173h1v6h-1zM7 197h1v3h-1zM7 224h1v2h-1zM7 233h1v5h-1zM7 273h1v2h-1zM223 44h1v1h-1zM223 83h1v2h-1zM223 113h1v1h-1zM223 135h1v2h-1zM223 154h1v2h-1zM223 190h1v2h-1zM223 199h1v2h-1zM223 213h1v2h-1zM223 233h1v1h-1zM223 241h1v1h-1zM46 71h1v1h-1zM46 96h1v1h-1zM46 99h1v1h-1zM46 118h1v1h-1zM46 122h1v1h-1zM46 137h1v1h-1zM46 238h1v1h-1zM46 274h1v1h-1zM46 277h1v1h-1zM180 96h2v1h-2zM180 132h2v1h-2zM180 136h2v1h-2zM180 138h2v2h-2zM180 155h2v1h-2zM180 164h2v2h-2zM180 240h2v2h-2zM301 275h1v2h-1z"/>
</g>
<defs><filter id="nz" x="0" y="0" width="100%" height="100%" color-interpolation-filters="sRGB"><feTurbulence type="fractalNoise" baseFrequency="0.5 0.11" numOctaves="1" seed="7" stitchTiles="stitch"/><feColorMatrix type="matrix" values="1 0 0 0 0  1 0 0 0 0  1 0 0 0 0  1 0 0 0 0"/><feComponentTransfer><feFuncR type="table" tableValues="0.28 0.28 0.28 0.28 0.28 0.25 0.22 0.22 0.22 0.22 0.22"/><feFuncG type="table" tableValues="0.13 0.13 0.13 0.13 0.13 0.24 0.34 0.34 0.34 0.34 0.34"/><feFuncB type="table" tableValues="0.46 0.46 0.46 0.46 0.46 0.50 0.55 0.55 0.55 0.55 0.55"/><feFuncA type="table" tableValues="1 1 1 0.8 0.35 0 0.35 0.8 1 1 1"/></feComponentTransfer></filter><pattern id="np" x="677" y="151.4" width="607" height="612.52" patternUnits="userSpaceOnUse"><rect width="607" height="612.52" filter="url(#nz)"/></pattern></defs>
<rect x="677" y="151.4" width="2428.5" height="2450.1" fill="url(#np)" opacity="0.3"/>
<defs><linearGradient id="cb" x1="0" y1="0" x2="0" y2="1"><stop offset="0.0000" stop-color="#fde725"/><stop offset="0.0156" stop-color="#f6e620"/><stop offset="0.0312" stop-color="#ece51b"/><stop offset="0.0469" stop-color="#e2e418"/><stop offset="0.0625" stop-color="#d8e219"/><stop offset="0.0781" stop-color="#cde11d"/><stop offset="0.0938" stop-color="#c2df23"/><stop offset="0.1094" stop-color="#b8de29"/><stop offset="0.1250" stop-color="#addc30"/><stop offset="0.1406" stop-color="#a2da37"/><stop offset="0.1562" stop-color="#98d83e"/><stop offset="0.1719" stop-color="#8ed645"/><stop offset="0.1875" stop-color="#84d44b"/><stop offset="0.2031" stop-color="#7ad151"/><stop offset="0.2188" stop-color="#70cf57"/><stop offset="0.2344" stop-color="#67cc5c"/><stop offset="0.2500" stop-color="#5ec962"/><stop offset="0.2656" stop-color="#56c667"/><stop offset="0.2812" stop-color="#4ec36b"/><stop offset="0.2969" stop-color="#46c06f"/><stop offset="0.3125" stop-color="#3fbc73"/><stop offset="0.3281" stop-color="#38b977"/><stop offset="0.3438" stop-color="#32b67a"/><stop offset="0.3594" stop-color="#2db27d"/><stop offset="0.3750" stop-color="#28ae80"/><stop offset="0.3906" stop-color="#25ab82"/><stop offset="0.4062" stop-color="#22a785"/><stop offset="0.4219" stop-color="#20a386"/><stop offset="0.4375" stop-color="#1fa088"/><stop offset="0.4531" stop-color="#1e9c89"/><stop offset="0.4688" stop-color="#1f988b"/><stop offset="0.4844" stop-color="#1f948c"/><stop offset="0.5000" stop-color="#21918c"/><stop offset="0.5156" stop-color="#228d8d"/><stop offset="0.5312" stop-color="#23898e"/><stop offset="0.5469" stop-color="#25858e"/><stop offset="0.5625" stop-color="#26828e"/><stop offset="0.5781" stop-color="#277e8e"/><stop offset="0.5938" stop-color="#297a8e"/><stop offset="0.6094" stop-color="#2a768e"/><stop offset="0.6250" stop-color="#2c728e"/><stop offset="0.6406" stop-color="#2e6f8e"/><stop offset="0.6562" stop-color="#2f6b8e"/><stop offset="0.6719" stop-color="#31678e"/><stop offset="0.6875" stop-color="#33638d"/><stop offset="0.7031" stop-color="#355f8d"/><stop offset="0.7188" stop-color="#375b8d"/><stop offset="0.7344" stop-color="#39568c"/><stop offset="0.7500" stop-color="#3b528b"/><stop offset="0.7656" stop-color="#3d4e8a"/><stop offset="0.7812" stop-color="#3e4989"/><stop offset="0.7969" stop-color="#404588"/><stop offset="0.8125" stop-color="#424086"/><stop offset="0.8281" stop-color="#443b84"/><stop offset="0.8438" stop-color="#453781"/><stop offset="0.8594" stop-color="#46327e"/><stop offset="0.8750" stop-color="#472d7b"/><stop offset="0.8906" stop-color="#482878"/><stop offset="0.9062" stop-color="#482374"/><stop offset="0.9219" stop-color="#481d6f"/><stop offset="0.9375" stop-color="#48186a"/><stop offset="0.9531" stop-color="#471365"/><stop offset="0.9688" stop-color="#470d60"/><stop offset="0.9844" stop-color="#46075a"/><stop offset="1.0000" stop-color="#440154"/></linearGradient></defs>
<rect x="3336.4" y="151.4" width="123.00" height="2450.10" fill="url(#cb)"/>
<g stroke="#000" stroke-width="6.67" fill="none">
<rect x="438.4" y="151.4" width="2667.10" height="2450.10"/>
<rect x="3336.4" y="151.4" width="123.00" height="2450.10"/>
</g>
<path d="M438.5 2601.5v29.17M971.5 2601.5v29.17M1504.5 2601.5v29.17M2038.5 2601.5v29.17M2571.5 2601.5v29.17M3104.5 2601.5v29.17M438.4 559.5h-29.17M438.4 967.5h-29.17M438.4 1375.5h-29.17M438.4 1784.5h-29.17M438.4 2192.5h-29.17M438.4 2600.5h-29.17M3459.4 151.5h29.17M3459.4 641.5h29.17M3459.4 1131.5h29.17M3459.4 1621.5h29.17M3459.4 2111.5h29.17M3459.4 2601.5h29.17" stroke="#000" stroke-width="7" fill="none"/>
<path d="M571.5 2601.5v16.67M705.5 2601.5v16.67M838.5 2601.5v16.67M1104.5 2601.5v16.67M1238.5 2601.5v16.67M1371.5 2601.5v16.67M1638.5 2601.5v16.67M1771.5 2601.5v16.67M1904.5 2601.5v16.67M2171.5 2601.5v16.67M2304.5 2601.5v16.67M2438.5 2601.5v16.67M2704.5 2601.5v16.67M2837.5 2601.5v16.67M2971.5 2601.5v16.67M438.4 253.5h-16.67M438.4 355.5h-16.67M438.4 457.5h-16.67M438.4 661.5h-16.67M438.4 763.5h-16.67M438.4 865.5h-16.67M438.4 1069.5h-16.67M438.4 1171.5h-16.67M438.4 1273.5h-16.67M438.4 1478.5h-16.67M438.4 1580.5h-16.67M438.4 1682.5h-16.67M438.4 1886.5h-16.67M438.4 1988.5h-16.67M438.4 2090.5h-16.67M438.4 2294.5h-16.67M438.4 2396.5h-16.67M438.4 2498.5h-16.67" stroke="#000" stroke-width="5" fill="none"/>
<g font-family='"DejaVu Sans", "Liberation Sans", sans-serif' fill="#000" font-size="83.33">
<text x="1772.0" y="101.6" font-size="100.0" text-anchor="middle">EMS1-2025-12-28-WATERFALL</text>
<text x="438.5" y="2722.9" text-anchor="middle" word-spacing="1.5">0</text>
<text x="971.7" y="2722.9" text-anchor="middle" word-spacing="1.5">2 G</text>
<text x="1504.9" y="2722.9" text-anchor="middle" word-spacing="1.5">4 G</text>
<text x="2038.1" y="2722.9" text-anchor="middle" word-spacing="1.5">6 G</text>
<text x="2571.3" y="2722.9" text-anchor="middle" word-spacing="1.5">8 G</text>
<text x="3104.5" y="2722.9" text-anchor="middle" word-spacing="1.5">10 G</text>
<text x="380.1" y="590.6" text-anchor="end" letter-spacing="0.25">04:00</text>
<text x="380.1" y="998.9" text-anchor="end" letter-spacing="0.25">08:00</text>
<text x="380.1" y="1407.2" text-anchor="end" letter-spacing="0.25">12:00</text>
<text x="380.1" y="1815.4" text-anchor="end" letter-spacing="0.25">16:00</text>
<text x="380.1" y="2223.7" text-anchor="end" letter-spacing="0.25">20:00</text>
<text x="380.1" y="2632.0" text-anchor="end" letter-spacing="0.25">00:00</text>
<text x="3517.7" y="182.6">−30</text>
<text x="3517.7" y="672.6">−40</text>
<text x="3517.7" y="1162.6">−50</text>
<text x="3517.7" y="1652.7">−60</text>
<text x="3517.7" y="2142.7">−70</text>
<text x="3517.7" y="2632.7">−80</text>
<text x="1772.0" y="2838.7" text-anchor="middle" word-spacing="2">Frequency (Hz)</text>
<text transform="translate(88.6 1376.5) rotate(-90)" text-anchor="middle">Time (US/Mountain)</text>
<text transform="translate(3789 1376.5) rotate(-90)" text-anchor="middle" word-spacing="2">Magnitude (dBm)</text>
</g>
</svg>
</body></html>
